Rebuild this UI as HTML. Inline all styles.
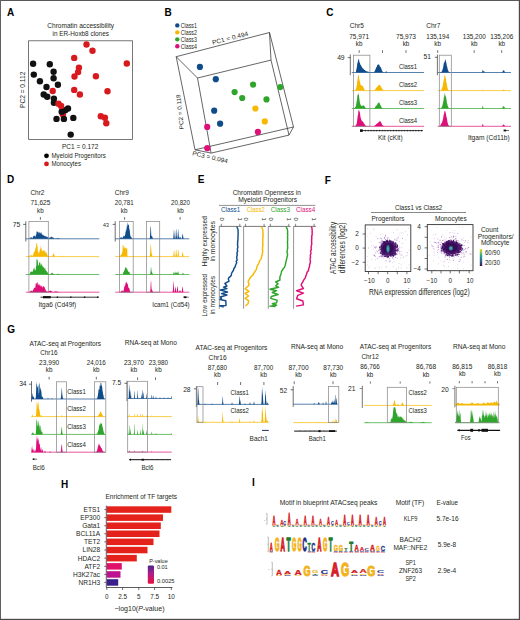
<!DOCTYPE html>
<html><head><meta charset="utf-8"><style>
html,body{margin:0;padding:0;background:#fff;}
svg{display:block;font-family:"Liberation Sans", sans-serif;}
</style></head><body>
<svg width="520" height="620" viewBox="0 0 520 620">
<rect x="0" y="0" width="520" height="620" fill="#fff"/>
<rect x="0.00" y="0.00" width="520.00" height="1.00" fill="#585858"/>
<rect x="0.00" y="0.00" width="1.00" height="620.00" fill="#606060"/>
<rect x="518.80" y="0.00" width="1.20" height="620.00" fill="#4a4a4a"/>
<rect x="0.00" y="618.80" width="520.00" height="1.20" fill="#4a4a4a"/>
<text x="7.00" y="16.30" font-size="10" fill="#000" font-weight="bold">A</text>
<text x="164.60" y="16.30" font-size="10" fill="#000" font-weight="bold">B</text>
<text x="326.30" y="16.30" font-size="10" fill="#000" font-weight="bold">C</text>
<text x="7.00" y="183.30" font-size="10" fill="#000" font-weight="bold">D</text>
<text x="197.80" y="183.20" font-size="10" fill="#000" font-weight="bold">E</text>
<text x="324.80" y="183.50" font-size="10" fill="#000" font-weight="bold">F</text>
<text x="7.20" y="333.00" font-size="10" fill="#000" font-weight="bold">G</text>
<text x="61.00" y="487.50" font-size="10" fill="#000" font-weight="bold">H</text>
<text x="252.00" y="486.20" font-size="10" fill="#000" font-weight="bold">I</text>
<text x="47.30" y="27.90" font-size="6.6" fill="#231f20" textLength="66.80" lengthAdjust="spacingAndGlyphs">Chromatin accessibility</text>
<text x="52.50" y="35.80" font-size="6.6" fill="#231f20" textLength="56.40" lengthAdjust="spacingAndGlyphs">in ER-Hoxb8 clones</text>
<rect x="28.60" y="40.80" width="103.80" height="98.60" fill="none" stroke="#555" stroke-width="0.8"/>
<text x="61.90" y="148.90" font-size="6.6" fill="#231f20" textLength="36.50" lengthAdjust="spacingAndGlyphs">PC1 = 0.172</text>
<text x="0" y="0" font-size="6.6" fill="#231f20" text-anchor="middle" textLength="36.3" lengthAdjust="spacingAndGlyphs" transform="translate(24.5 89.8) rotate(-90)">PC2 = 0.112</text>
<circle cx="46.50" cy="155.80" r="2.4" fill="#000"/>
<circle cx="46.50" cy="163.90" r="2.4" fill="#d81a1e"/>
<text x="51.50" y="157.80" font-size="6.6" fill="#231f20" textLength="54.30" lengthAdjust="spacingAndGlyphs">Myeloid Progenitors</text>
<text x="51.50" y="165.80" font-size="6.6" fill="#231f20" textLength="29.50" lengthAdjust="spacingAndGlyphs">Monocytes</text>
<circle cx="62.90" cy="114.60" r="3.2" fill="#d81a1e"/>
<circle cx="33.10" cy="63.70" r="3.2" fill="#111"/>
<circle cx="49.80" cy="64.30" r="3.2" fill="#111"/>
<circle cx="33.80" cy="74.60" r="3.2" fill="#111"/>
<circle cx="53.60" cy="71.70" r="3.2" fill="#111"/>
<circle cx="53.60" cy="78.20" r="3.2" fill="#111"/>
<circle cx="39.90" cy="81.20" r="3.2" fill="#111"/>
<circle cx="57.90" cy="84.80" r="3.2" fill="#111"/>
<circle cx="46.50" cy="87.00" r="3.2" fill="#111"/>
<circle cx="43.70" cy="94.50" r="3.2" fill="#111"/>
<circle cx="47.20" cy="96.70" r="3.2" fill="#111"/>
<circle cx="53.90" cy="98.60" r="3.2" fill="#111"/>
<circle cx="53.90" cy="102.70" r="3.2" fill="#111"/>
<circle cx="68.00" cy="108.50" r="3.2" fill="#111"/>
<circle cx="65.20" cy="110.30" r="3.2" fill="#111"/>
<circle cx="61.70" cy="111.70" r="3.2" fill="#111"/>
<circle cx="56.50" cy="118.90" r="3.2" fill="#111"/>
<circle cx="63.90" cy="118.90" r="3.2" fill="#111"/>
<circle cx="73.30" cy="117.90" r="3.2" fill="#111"/>
<circle cx="70.70" cy="134.60" r="3.2" fill="#111"/>
<circle cx="86.50" cy="44.50" r="3.2" fill="#d81a1e"/>
<circle cx="92.50" cy="50.80" r="3.2" fill="#d81a1e"/>
<circle cx="74.20" cy="57.90" r="3.2" fill="#d81a1e"/>
<circle cx="126.80" cy="63.50" r="3.2" fill="#d81a1e"/>
<circle cx="78.90" cy="67.80" r="3.2" fill="#d81a1e"/>
<circle cx="78.10" cy="72.10" r="3.2" fill="#d81a1e"/>
<circle cx="74.50" cy="76.50" r="3.2" fill="#d81a1e"/>
<circle cx="95.90" cy="76.20" r="3.2" fill="#d81a1e"/>
<circle cx="74.20" cy="89.90" r="3.2" fill="#d81a1e"/>
<circle cx="79.90" cy="94.50" r="3.2" fill="#d81a1e"/>
<circle cx="107.50" cy="91.20" r="3.2" fill="#d81a1e"/>
<circle cx="52.70" cy="91.00" r="3.2" fill="#d81a1e"/>
<circle cx="58.50" cy="103.70" r="3.2" fill="#d81a1e"/>
<circle cx="61.10" cy="105.90" r="3.2" fill="#d81a1e"/>
<circle cx="100.80" cy="116.30" r="3.2" fill="#d81a1e"/>
<circle cx="104.90" cy="117.70" r="3.2" fill="#d81a1e"/>
<circle cx="106.30" cy="123.20" r="3.2" fill="#d81a1e"/>
<circle cx="177.30" cy="25.40" r="2.2" fill="#104c8a"/>
<text x="180.80" y="27.70" font-size="6.5" fill="#231f20" textLength="16.10" lengthAdjust="spacingAndGlyphs">Class1</text>
<circle cx="177.30" cy="32.37" r="2.2" fill="#f6b800"/>
<text x="180.80" y="34.67" font-size="6.5" fill="#231f20" textLength="16.10" lengthAdjust="spacingAndGlyphs">Class2</text>
<circle cx="177.30" cy="39.34" r="2.2" fill="#2fa52b"/>
<text x="180.80" y="41.64" font-size="6.5" fill="#231f20" textLength="16.10" lengthAdjust="spacingAndGlyphs">Class3</text>
<circle cx="177.30" cy="46.31" r="2.2" fill="#de0f78"/>
<text x="180.80" y="48.61" font-size="6.5" fill="#231f20" textLength="16.10" lengthAdjust="spacingAndGlyphs">Class4</text>
<line x1="176.20" y1="56.70" x2="269.50" y2="32.50" stroke="#333" stroke-width="0.75" />
<line x1="176.20" y1="56.70" x2="197.50" y2="78.00" stroke="#333" stroke-width="0.75" />
<line x1="269.50" y1="32.50" x2="271.00" y2="60.10" stroke="#333" stroke-width="0.75" />
<line x1="197.50" y1="78.00" x2="271.00" y2="60.10" stroke="#333" stroke-width="0.75" />
<line x1="269.50" y1="32.50" x2="293.50" y2="127.00" stroke="#333" stroke-width="0.75" />
<line x1="271.00" y1="60.10" x2="289.00" y2="135.10" stroke="#333" stroke-width="0.75" />
<line x1="176.20" y1="56.70" x2="195.00" y2="149.80" stroke="#333" stroke-width="0.75" />
<line x1="197.50" y1="78.00" x2="211.10" y2="153.10" stroke="#333" stroke-width="0.75" />
<line x1="195.00" y1="149.80" x2="211.10" y2="153.10" stroke="#333" stroke-width="0.75" />
<line x1="293.50" y1="127.00" x2="289.00" y2="135.10" stroke="#333" stroke-width="0.75" />
<line x1="195.00" y1="149.80" x2="293.50" y2="127.00" stroke="#333" stroke-width="0.75" />
<line x1="211.10" y1="153.10" x2="289.00" y2="135.10" stroke="#333" stroke-width="0.75" />
<text x="0" y="0" font-size="6.3" fill="#231f20" text-anchor="middle" textLength="37" lengthAdjust="spacingAndGlyphs" transform="translate(230.6 40.2) rotate(-14.5)">PC1 = 0.494</text>
<text x="0" y="0" font-size="6.0" fill="#231f20" text-anchor="middle" textLength="35" lengthAdjust="spacingAndGlyphs" transform="translate(182.0 111.6) rotate(-96)">PC2 = 0.118</text>
<text x="0" y="0" font-size="6.3" fill="#231f20" text-anchor="middle" textLength="36" lengthAdjust="spacingAndGlyphs" transform="translate(209.6 159.2) rotate(13)">PC3 = 0.094</text>
<circle cx="199.90" cy="66.90" r="3.1" fill="#104c8a"/>
<circle cx="215.80" cy="79.20" r="3.1" fill="#104c8a"/>
<circle cx="214.20" cy="110.70" r="3.1" fill="#104c8a"/>
<circle cx="220.10" cy="123.70" r="3.1" fill="#104c8a"/>
<circle cx="253.10" cy="84.60" r="3.1" fill="#2fa52b"/>
<circle cx="234.60" cy="92.10" r="3.1" fill="#2fa52b"/>
<circle cx="242.20" cy="98.00" r="3.1" fill="#2fa52b"/>
<circle cx="266.50" cy="99.40" r="3.1" fill="#2fa52b"/>
<circle cx="280.30" cy="87.10" r="3.1" fill="#2fa52b"/>
<circle cx="255.40" cy="108.50" r="3.1" fill="#f6b800"/>
<circle cx="264.80" cy="121.40" r="3.1" fill="#f6b800"/>
<circle cx="207.20" cy="126.90" r="3.1" fill="#de0f78"/>
<circle cx="207.30" cy="148.20" r="3.1" fill="#de0f78"/>
<circle cx="257.90" cy="131.90" r="3.1" fill="#de0f78"/>
<text x="349.80" y="28.00" font-size="6.5" fill="#231f20">Chr5</text>
<text x="349.20" y="38.50" font-size="6.3" fill="#231f20" textLength="19.80" lengthAdjust="spacingAndGlyphs">75,971</text>
<text x="359.10" y="45.80" font-size="6.3" fill="#231f20" text-anchor="middle">kb</text>
<text x="396.00" y="38.50" font-size="6.3" fill="#231f20" textLength="20.00" lengthAdjust="spacingAndGlyphs">75,973</text>
<text x="406.00" y="45.80" font-size="6.3" fill="#231f20" text-anchor="middle">kb</text>
<line x1="359.20" y1="50.20" x2="359.20" y2="52.90" stroke="#333" stroke-width="0.7" />
<line x1="382.50" y1="50.20" x2="382.50" y2="52.90" stroke="#333" stroke-width="0.7" />
<line x1="406.00" y1="50.20" x2="406.00" y2="52.90" stroke="#333" stroke-width="0.7" />
<line x1="350.30" y1="54.50" x2="350.30" y2="75.20" stroke="#333" stroke-width="0.7" />
<line x1="347.70" y1="57.60" x2="350.30" y2="57.60" stroke="#333" stroke-width="0.7" />
<text x="344.60" y="59.70" font-size="6.7" fill="#231f20" text-anchor="end">49</text>
<path d="M351.80,72.50L351.80,72.5 352.05,72.5 352.30,72.5 352.55,72.5 352.80,72.5 353.05,72.5 353.30,72.5 353.55,72.5 353.80,72.5 354.05,72.5 354.30,72.5 354.55,72.5 354.80,72.5 355.05,72.5 355.30,72.5 355.55,72.5 355.80,72.5 356.05,71.0 356.30,69.5 356.55,68.8 356.80,67.6 357.05,65.5 357.30,63.3 357.55,63.1 357.80,62.1 358.05,60.2 358.30,60.2 358.55,58.7 358.80,59.0 359.05,59.8 359.30,61.5 359.55,62.3 359.80,63.1 360.05,63.2 360.30,64.2 360.55,65.4 360.80,64.4 361.05,65.5 361.30,65.9 361.55,67.0 361.80,66.3 362.05,66.9 362.30,68.2 362.55,68.3 362.80,68.2 363.05,68.5 363.30,68.6 363.55,69.3 363.80,69.3 364.05,69.6 364.30,70.0 364.55,70.1 364.80,70.1 365.05,70.3 365.30,70.6 365.55,70.7 365.80,71.0 366.05,71.1 366.30,71.0 366.55,71.2 366.80,71.4 367.05,71.4 367.30,71.4 367.55,71.5 367.80,71.6 368.05,71.7 368.30,71.7 368.55,71.7 368.80,71.8 369.05,71.9 369.30,71.9 369.55,72.0 369.80,72.1 370.05,72.0 370.30,72.0 370.55,72.1 370.80,72.1 371.05,72.2 371.30,72.2 371.55,72.2 371.80,72.2 372.05,72.2 372.30,72.2 372.55,72.3 372.80,72.3 373.05,72.2 373.30,72.2 373.55,72.2 373.80,72.1 374.05,71.9 374.30,71.6 374.55,71.5 374.80,70.9 375.05,70.4 375.30,69.8 375.55,69.3 375.80,68.5 376.05,68.1 376.30,67.3 376.55,66.9 376.80,66.8 377.05,65.0 377.30,65.1 377.55,65.4 377.80,64.5 378.05,64.4 378.30,64.6 378.55,64.6 378.80,64.4 379.05,64.5 379.30,64.8 379.55,65.4 379.80,66.5 380.05,66.6 380.30,67.1 380.55,67.1 380.80,67.3 381.05,68.0 381.30,68.6 381.55,69.3 381.80,70.2 382.05,70.5 382.30,71.1 382.55,71.6 382.80,71.9 383.05,72.1 383.30,72.2 383.55,72.3 383.80,72.4 384.05,72.4 384.30,72.5 384.55,72.5 384.80,72.5 385.05,72.4 385.30,72.3 385.55,72.0 385.80,71.5 386.05,71.3 386.30,71.3 386.55,71.5 386.80,71.9 387.05,72.2 387.30,72.4 387.55,72.5 387.80,72.5 388.05,72.5 388.30,72.5 388.55,72.5 388.80,72.5 389.05,72.5 389.30,72.5 389.55,72.5 389.80,72.5 390.05,72.5 390.30,72.5 390.55,72.5 390.80,72.5 391.05,72.5 391.30,72.5 391.55,72.5 391.80,72.5 392.05,72.5 392.30,72.5 392.55,72.5 392.80,72.5 393.05,72.5 393.30,72.5 393.55,72.5 393.80,72.5 394.05,72.5 394.30,72.5 394.55,72.5 394.80,72.5 395.05,72.5 395.30,72.5 395.55,72.5 395.80,72.5 396.05,72.5 396.30,72.5 396.55,72.5 396.80,72.5 397.05,72.5 397.30,72.5 397.55,72.5 397.80,72.5 398.05,72.5 398.30,72.5 398.55,72.5 398.80,72.5 399.05,72.5 399.30,72.5 399.55,72.5 399.80,72.5 400.05,72.5 400.30,72.5 400.55,72.5 400.80,72.5 401.05,72.5 401.30,72.5 401.55,72.5 401.80,72.5 402.05,72.5 402.30,72.5 402.55,72.5 402.80,72.5 403.05,72.5 403.30,72.5 403.55,72.5 403.80,72.5 404.05,72.5 404.30,72.5 404.55,72.5 404.80,72.5 405.05,72.5 405.30,72.5 405.55,72.5 405.80,72.5 406.05,72.5 406.30,72.5 406.55,72.5 406.80,72.5 407.05,72.5 407.30,72.5 407.55,72.5 407.80,72.5 408.05,72.5 408.30,72.5 408.55,72.5 408.80,72.5 409.05,72.5 409.30,72.5 409.55,72.5 409.80,72.5 410.05,72.5 410.30,72.5 410.55,72.5 410.80,72.5 411.05,72.5 411.30,72.5 411.55,72.5 411.80,72.5 412.05,72.5 412.30,72.5 412.55,72.5 412.80,72.5 413.05,72.5 413.30,72.5 413.55,72.5 413.80,72.5 414.05,72.5 414.30,72.5 414.55,72.5 414.80,72.5 415.05,72.5 415.30,72.5 415.55,72.5 415.80,72.5 416.05,72.5 416.30,72.5 416.55,72.5 416.80,72.5 417.05,72.5 417.30,72.5 417.55,72.5 417.80,72.5 418.05,72.5 418.30,72.5 418.55,72.5 418.80,72.5 419.05,72.5 419.30,72.5 419.55,72.5 419.80,72.5 420.05,72.5 420.30,72.5 420.55,72.5 420.80,72.5 421.05,72.5 421.30,72.5 421.55,72.5 421.80,72.5 422.05,72.5 422.30,72.5 422.55,72.5 422.80,72.5 423.05,72.5 423.30,72.5 423.55,72.5 423.80,72.5 424.00,72.50Z" fill="#104c8a" />
<line x1="351.80" y1="72.50" x2="424.00" y2="72.50" stroke="#104c8a" stroke-width="0.7" />
<path d="M351.80,90.60L351.80,90.6 352.05,90.6 352.30,90.6 352.55,90.6 352.80,90.6 353.05,90.6 353.30,90.6 353.55,90.6 353.80,90.6 354.05,90.6 354.30,90.6 354.55,90.5 354.80,90.5 355.05,90.4 355.30,90.1 355.55,89.8 355.80,89.3 356.05,88.7 356.30,87.7 356.55,86.6 356.80,85.4 357.05,83.8 357.30,81.0 357.55,79.5 357.80,77.6 358.05,74.5 358.30,75.1 358.55,74.9 358.80,76.6 359.05,78.3 359.30,78.6 359.55,80.6 359.80,81.2 360.05,81.6 360.30,83.4 360.55,85.1 360.80,84.7 361.05,85.3 361.30,85.5 361.55,85.4 361.80,85.6 362.05,85.6 362.30,86.1 362.55,85.5 362.80,85.8 363.05,87.0 363.30,86.9 363.55,87.5 363.80,88.2 364.05,88.7 364.30,89.2 364.55,89.4 364.80,89.9 365.05,90.1 365.30,90.3 365.55,90.4 365.80,90.5 366.05,90.5 366.30,90.6 366.55,90.6 366.80,90.6 367.05,90.6 367.30,90.6 367.55,90.6 367.80,90.6 368.05,90.6 368.30,90.6 368.55,90.6 368.80,90.6 369.05,90.6 369.30,90.6 369.55,90.6 369.80,90.6 370.05,90.6 370.30,90.6 370.55,90.6 370.80,90.6 371.05,90.6 371.30,90.6 371.55,90.6 371.80,90.6 372.05,90.6 372.30,90.6 372.55,90.6 372.80,90.6 373.05,90.6 373.30,90.6 373.55,90.6 373.80,90.5 374.05,90.5 374.30,90.4 374.55,90.2 374.80,90.1 375.05,89.8 375.30,89.3 375.55,89.1 375.80,88.8 376.05,88.0 376.30,87.8 376.55,87.3 376.80,87.5 377.05,86.9 377.30,86.8 377.55,86.1 377.80,86.4 378.05,85.2 378.30,86.0 378.55,84.8 378.80,85.6 379.05,85.1 379.30,84.2 379.55,85.2 379.80,85.3 380.05,84.8 380.30,85.5 380.55,86.3 380.80,85.7 381.05,87.0 381.30,87.6 381.55,87.8 381.80,88.1 382.05,88.5 382.30,89.1 382.55,89.4 382.80,89.7 383.05,89.9 383.30,90.0 383.55,90.2 383.80,90.3 384.05,90.4 384.30,90.4 384.55,90.5 384.80,90.5 385.05,90.6 385.30,90.6 385.55,90.6 385.80,90.6 386.05,90.6 386.30,90.6 386.55,90.6 386.80,90.6 387.05,90.6 387.30,90.6 387.55,90.6 387.80,90.6 388.05,90.6 388.30,90.6 388.55,90.6 388.80,90.6 389.05,90.6 389.30,90.6 389.55,90.6 389.80,90.6 390.05,90.6 390.30,90.6 390.55,90.6 390.80,90.6 391.05,90.6 391.30,90.6 391.55,90.6 391.80,90.6 392.05,90.6 392.30,90.6 392.55,90.6 392.80,90.6 393.05,90.6 393.30,90.6 393.55,90.6 393.80,90.6 394.05,90.6 394.30,90.6 394.55,90.6 394.80,90.6 395.05,90.6 395.30,90.6 395.55,90.6 395.80,90.6 396.05,90.6 396.30,90.6 396.55,90.6 396.80,90.6 397.05,90.6 397.30,90.6 397.55,90.6 397.80,90.6 398.05,90.6 398.30,90.6 398.55,90.6 398.80,90.6 399.05,90.6 399.30,90.6 399.55,90.6 399.80,90.6 400.05,90.6 400.30,90.6 400.55,90.6 400.80,90.6 401.05,90.6 401.30,90.6 401.55,90.6 401.80,90.6 402.05,90.6 402.30,90.6 402.55,90.6 402.80,90.6 403.05,90.6 403.30,90.6 403.55,90.6 403.80,90.6 404.05,90.6 404.30,90.6 404.55,90.6 404.80,90.6 405.05,90.6 405.30,90.6 405.55,90.6 405.80,90.6 406.05,90.6 406.30,90.6 406.55,90.6 406.80,90.6 407.05,90.6 407.30,90.6 407.55,90.6 407.80,90.6 408.05,90.6 408.30,90.6 408.55,90.6 408.80,90.6 409.05,90.6 409.30,90.6 409.55,90.6 409.80,90.6 410.05,90.6 410.30,90.6 410.55,90.6 410.80,90.6 411.05,90.6 411.30,90.6 411.55,90.6 411.80,90.6 412.05,90.6 412.30,90.6 412.55,90.6 412.80,90.6 413.05,90.6 413.30,90.6 413.55,90.6 413.80,90.6 414.05,90.6 414.30,90.6 414.55,90.6 414.80,90.6 415.05,90.6 415.30,90.6 415.55,90.6 415.80,90.6 416.05,90.6 416.30,90.6 416.55,90.6 416.80,90.6 417.05,90.6 417.30,90.6 417.55,90.6 417.80,90.6 418.05,90.6 418.30,90.6 418.55,90.6 418.80,90.6 419.05,90.6 419.30,90.6 419.55,90.6 419.80,90.6 420.05,90.6 420.30,90.6 420.55,90.6 420.80,90.6 421.05,90.6 421.30,90.6 421.55,90.6 421.80,90.6 422.05,90.6 422.30,90.6 422.55,90.6 422.80,90.6 423.05,90.6 423.30,90.6 423.55,90.6 423.80,90.6 424.00,90.60Z" fill="#f6b800" />
<line x1="351.80" y1="90.60" x2="424.00" y2="90.60" stroke="#f6b800" stroke-width="0.7" />
<path d="M351.80,108.50L351.80,108.5 352.05,108.5 352.30,108.5 352.55,108.4 352.80,108.4 353.05,108.4 353.30,108.3 353.55,108.2 353.80,108.2 354.05,108.1 354.30,107.9 354.55,107.9 354.80,107.6 355.05,107.5 355.30,107.1 355.55,106.9 355.80,106.0 356.05,105.0 356.30,104.1 356.55,102.3 356.80,100.6 357.05,100.0 357.30,96.3 357.55,94.9 357.80,94.6 358.05,95.0 358.30,92.0 358.55,94.2 358.80,94.8 359.05,96.2 359.30,98.5 359.55,99.9 359.80,102.3 360.05,103.0 360.30,104.3 360.55,104.5 360.80,105.1 361.05,105.9 361.30,106.1 361.55,106.1 361.80,105.6 362.05,105.9 362.30,105.6 362.55,105.7 362.80,105.5 363.05,105.5 363.30,105.5 363.55,105.4 363.80,105.5 364.05,105.6 364.30,106.1 364.55,106.3 364.80,106.8 365.05,107.1 365.30,107.5 365.55,107.9 365.80,108.0 366.05,108.2 366.30,108.3 366.55,108.4 366.80,108.4 367.05,108.5 367.30,108.5 367.55,108.5 367.80,108.5 368.05,108.5 368.30,108.5 368.55,108.5 368.80,108.5 369.05,108.5 369.30,108.5 369.55,108.5 369.80,108.5 370.05,108.5 370.30,108.5 370.55,108.5 370.80,108.5 371.05,108.5 371.30,108.5 371.55,108.5 371.80,108.5 372.05,108.5 372.30,108.5 372.55,108.5 372.80,108.5 373.05,108.5 373.30,108.5 373.55,108.4 373.80,108.4 374.05,108.2 374.30,108.1 374.55,107.9 374.80,107.7 375.05,107.2 375.30,107.1 375.55,106.4 375.80,106.1 376.05,106.1 376.30,105.8 376.55,105.4 376.80,105.0 377.05,104.7 377.30,104.4 377.55,103.9 377.80,103.1 378.05,103.2 378.30,102.9 378.55,102.3 378.80,102.9 379.05,102.8 379.30,102.0 379.55,103.0 379.80,103.4 380.05,104.6 380.30,104.7 380.55,105.2 380.80,106.1 381.05,106.3 381.30,106.8 381.55,107.4 381.80,107.5 382.05,107.8 382.30,108.0 382.55,108.2 382.80,108.3 383.05,108.4 383.30,108.4 383.55,108.5 383.80,108.5 384.05,108.5 384.30,108.5 384.55,108.5 384.80,108.5 385.05,108.5 385.30,108.5 385.55,108.5 385.80,108.5 386.05,108.5 386.30,108.5 386.55,108.5 386.80,108.5 387.05,108.5 387.30,108.5 387.55,108.5 387.80,108.5 388.05,108.5 388.30,108.5 388.55,108.5 388.80,108.5 389.05,108.5 389.30,108.5 389.55,108.5 389.80,108.5 390.05,108.5 390.30,108.5 390.55,108.5 390.80,108.5 391.05,108.5 391.30,108.5 391.55,108.5 391.80,108.5 392.05,108.5 392.30,108.5 392.55,108.5 392.80,108.5 393.05,108.5 393.30,108.5 393.55,108.5 393.80,108.5 394.05,108.5 394.30,108.5 394.55,108.5 394.80,108.5 395.05,108.5 395.30,108.5 395.55,108.5 395.80,108.5 396.05,108.5 396.30,108.5 396.55,108.5 396.80,108.5 397.05,108.5 397.30,108.5 397.55,108.5 397.80,108.5 398.05,108.5 398.30,108.5 398.55,108.5 398.80,108.5 399.05,108.5 399.30,108.5 399.55,108.5 399.80,108.5 400.05,108.5 400.30,108.5 400.55,108.5 400.80,108.5 401.05,108.5 401.30,108.5 401.55,108.5 401.80,108.5 402.05,108.5 402.30,108.5 402.55,108.5 402.80,108.5 403.05,108.5 403.30,108.5 403.55,108.5 403.80,108.5 404.05,108.5 404.30,108.5 404.55,108.5 404.80,108.5 405.05,108.5 405.30,108.5 405.55,108.5 405.80,108.5 406.05,108.5 406.30,108.5 406.55,108.5 406.80,108.5 407.05,108.5 407.30,108.5 407.55,108.5 407.80,108.5 408.05,108.5 408.30,108.5 408.55,108.5 408.80,108.5 409.05,108.5 409.30,108.5 409.55,108.5 409.80,108.5 410.05,108.5 410.30,108.5 410.55,108.5 410.80,108.5 411.05,108.5 411.30,108.5 411.55,108.5 411.80,108.5 412.05,108.5 412.30,108.5 412.55,108.5 412.80,108.5 413.05,108.5 413.30,108.5 413.55,108.5 413.80,108.5 414.05,108.5 414.30,108.5 414.55,108.5 414.80,108.5 415.05,108.5 415.30,108.5 415.55,108.5 415.80,108.5 416.05,108.5 416.30,108.5 416.55,108.5 416.80,108.5 417.05,108.5 417.30,108.5 417.55,108.5 417.80,108.5 418.05,108.5 418.30,108.5 418.55,108.5 418.80,108.5 419.05,108.5 419.30,108.5 419.55,108.5 419.80,108.5 420.05,108.5 420.30,108.5 420.55,108.5 420.80,108.5 421.05,108.5 421.30,108.5 421.55,108.5 421.80,108.5 422.05,108.5 422.30,108.5 422.55,108.5 422.80,108.5 423.05,108.5 423.30,108.5 423.55,108.5 423.80,108.5 424.00,108.50Z" fill="#2fa52b" />
<line x1="351.80" y1="108.50" x2="424.00" y2="108.50" stroke="#2fa52b" stroke-width="0.7" />
<path d="M351.80,126.30L351.80,126.3 352.05,126.3 352.30,126.3 352.55,126.3 352.80,126.3 353.05,126.3 353.30,126.3 353.55,126.3 353.80,126.2 354.05,126.2 354.30,126.2 354.55,126.2 354.80,126.1 355.05,126.0 355.30,125.9 355.55,125.6 355.80,125.4 356.05,125.0 356.30,124.4 356.55,124.0 356.80,123.0 357.05,121.4 357.30,119.5 357.55,117.3 357.80,115.0 358.05,115.2 358.30,111.8 358.55,110.1 358.80,109.8 359.05,110.9 359.30,110.2 359.55,112.7 359.80,111.2 360.05,113.2 360.30,115.7 360.55,117.7 360.80,117.8 361.05,119.3 361.30,119.6 361.55,120.1 361.80,120.8 362.05,121.1 362.30,121.0 362.55,121.4 362.80,121.8 363.05,121.9 363.30,121.7 363.55,122.8 363.80,123.2 364.05,123.2 364.30,123.9 364.55,124.2 364.80,124.6 365.05,125.0 365.30,125.2 365.55,125.6 365.80,125.8 366.05,126.0 366.30,126.1 366.55,126.2 366.80,126.2 367.05,126.2 367.30,126.3 367.55,126.3 367.80,126.3 368.05,126.3 368.30,126.3 368.55,126.3 368.80,126.3 369.05,126.3 369.30,126.3 369.55,126.3 369.80,126.3 370.05,126.3 370.30,126.3 370.55,126.3 370.80,126.3 371.05,126.3 371.30,126.3 371.55,126.3 371.80,126.3 372.05,126.3 372.30,126.3 372.55,126.3 372.80,126.3 373.05,126.3 373.30,126.2 373.55,126.2 373.80,126.2 374.05,126.1 374.30,126.0 374.55,125.8 374.80,125.6 375.05,125.3 375.30,125.2 375.55,125.0 375.80,124.7 376.05,124.4 376.30,123.9 376.55,123.9 376.80,123.8 377.05,123.8 377.30,123.0 377.55,123.2 377.80,123.2 378.05,123.0 378.30,122.8 378.55,122.4 378.80,121.5 379.05,121.9 379.30,121.8 379.55,121.1 379.80,121.4 380.05,120.5 380.30,121.8 380.55,121.6 380.80,121.7 381.05,122.5 381.30,122.6 381.55,123.5 381.80,124.1 382.05,124.4 382.30,124.9 382.55,125.1 382.80,125.5 383.05,125.6 383.30,125.8 383.55,126.0 383.80,126.1 384.05,126.2 384.30,126.2 384.55,126.2 384.80,126.3 385.05,126.3 385.30,126.3 385.55,126.3 385.80,126.3 386.05,126.3 386.30,126.3 386.55,126.3 386.80,126.3 387.05,126.3 387.30,126.3 387.55,126.3 387.80,126.3 388.05,126.3 388.30,126.3 388.55,126.3 388.80,126.3 389.05,126.3 389.30,126.3 389.55,126.3 389.80,126.3 390.05,126.3 390.30,126.3 390.55,126.3 390.80,126.3 391.05,126.3 391.30,126.3 391.55,126.3 391.80,126.3 392.05,126.3 392.30,126.3 392.55,126.3 392.80,126.3 393.05,126.3 393.30,126.3 393.55,126.3 393.80,126.3 394.05,126.3 394.30,126.3 394.55,126.3 394.80,126.3 395.05,126.3 395.30,126.3 395.55,126.3 395.80,126.3 396.05,126.3 396.30,126.3 396.55,126.3 396.80,126.3 397.05,126.3 397.30,126.3 397.55,126.3 397.80,126.3 398.05,126.3 398.30,126.3 398.55,126.3 398.80,126.3 399.05,126.3 399.30,126.3 399.55,126.3 399.80,126.3 400.05,126.3 400.30,126.3 400.55,126.3 400.80,126.3 401.05,126.3 401.30,126.3 401.55,126.3 401.80,126.3 402.05,126.3 402.30,126.3 402.55,126.3 402.80,126.3 403.05,126.3 403.30,126.3 403.55,126.3 403.80,126.3 404.05,126.3 404.30,126.3 404.55,126.3 404.80,126.3 405.05,126.3 405.30,126.3 405.55,126.3 405.80,126.3 406.05,126.3 406.30,126.3 406.55,126.3 406.80,126.3 407.05,126.3 407.30,126.3 407.55,126.3 407.80,126.3 408.05,126.3 408.30,126.3 408.55,126.3 408.80,126.3 409.05,126.3 409.30,126.3 409.55,126.3 409.80,126.3 410.05,126.3 410.30,126.3 410.55,126.3 410.80,126.3 411.05,126.3 411.30,126.3 411.55,126.3 411.80,126.3 412.05,126.3 412.30,126.3 412.55,126.3 412.80,126.3 413.05,126.3 413.30,126.3 413.55,126.3 413.80,126.3 414.05,126.3 414.30,126.3 414.55,126.3 414.80,126.3 415.05,126.3 415.30,126.3 415.55,126.3 415.80,126.3 416.05,126.3 416.30,126.3 416.55,126.3 416.80,126.3 417.05,126.3 417.30,126.3 417.55,126.3 417.80,126.3 418.05,126.3 418.30,126.3 418.55,126.3 418.80,126.3 419.05,126.3 419.30,126.3 419.55,126.3 419.80,126.3 420.05,126.3 420.30,126.3 420.55,126.3 420.80,126.3 421.05,126.3 421.30,126.3 421.55,126.3 421.80,126.3 422.05,126.3 422.30,126.3 422.55,126.3 422.80,126.3 423.05,126.3 423.30,126.3 423.55,126.3 423.80,126.3 424.00,126.30Z" fill="#de0f78" />
<line x1="351.80" y1="126.30" x2="424.00" y2="126.30" stroke="#de0f78" stroke-width="0.7" />
<rect x="353.60" y="55.20" width="16.30" height="71.10" fill="none" stroke="#8a8a8a" stroke-width="0.75"/>
<text x="398.90" y="68.70" font-size="6.6" fill="#231f20" textLength="18.10" lengthAdjust="spacingAndGlyphs">Class1</text>
<text x="398.90" y="86.80" font-size="6.6" fill="#231f20" textLength="18.10" lengthAdjust="spacingAndGlyphs">Class2</text>
<text x="398.90" y="104.70" font-size="6.6" fill="#231f20" textLength="18.10" lengthAdjust="spacingAndGlyphs">Class3</text>
<text x="398.90" y="122.50" font-size="6.6" fill="#231f20" textLength="18.10" lengthAdjust="spacingAndGlyphs">Class4</text>
<line x1="362.00" y1="130.60" x2="423.00" y2="130.60" stroke="#222" stroke-width="0.9" />
<rect x="360.00" y="129.30" width="2.80" height="2.60" fill="#111"/>
<rect x="365.00" y="129.90" width="0.90" height="1.40" fill="#222"/>
<rect x="367.80" y="129.90" width="0.90" height="1.40" fill="#222"/>
<rect x="370.60" y="129.90" width="0.90" height="1.40" fill="#222"/>
<rect x="373.40" y="129.90" width="0.90" height="1.40" fill="#222"/>
<rect x="376.20" y="129.90" width="0.90" height="1.40" fill="#222"/>
<rect x="379.00" y="129.90" width="0.90" height="1.40" fill="#222"/>
<rect x="381.80" y="129.90" width="0.90" height="1.40" fill="#222"/>
<rect x="384.60" y="129.90" width="0.90" height="1.40" fill="#222"/>
<rect x="387.40" y="129.90" width="0.90" height="1.40" fill="#222"/>
<rect x="390.20" y="129.90" width="0.90" height="1.40" fill="#222"/>
<rect x="393.00" y="129.90" width="0.90" height="1.40" fill="#222"/>
<rect x="395.80" y="129.90" width="0.90" height="1.40" fill="#222"/>
<rect x="398.60" y="129.90" width="0.90" height="1.40" fill="#222"/>
<rect x="401.40" y="129.90" width="0.90" height="1.40" fill="#222"/>
<rect x="404.20" y="129.90" width="0.90" height="1.40" fill="#222"/>
<rect x="407.00" y="129.90" width="0.90" height="1.40" fill="#222"/>
<rect x="409.80" y="129.90" width="0.90" height="1.40" fill="#222"/>
<rect x="412.60" y="129.90" width="0.90" height="1.40" fill="#222"/>
<rect x="415.40" y="129.90" width="0.90" height="1.40" fill="#222"/>
<rect x="418.20" y="129.90" width="0.90" height="1.40" fill="#222"/>
<rect x="421.00" y="129.90" width="0.90" height="1.40" fill="#222"/>
<text x="378.00" y="139.80" font-size="6.6" fill="#231f20" textLength="24.60" lengthAdjust="spacingAndGlyphs">Kit (cKit)</text>
<text x="426.20" y="28.00" font-size="6.5" fill="#231f20">Chr7</text>
<text x="426.20" y="38.50" font-size="6.3" fill="#231f20" textLength="23.00" lengthAdjust="spacingAndGlyphs">135,194</text>
<text x="437.70" y="45.80" font-size="6.3" fill="#231f20" text-anchor="middle">kb</text>
<text x="462.70" y="38.50" font-size="6.3" fill="#231f20" textLength="23.10" lengthAdjust="spacingAndGlyphs">135,200</text>
<text x="474.25" y="45.80" font-size="6.3" fill="#231f20" text-anchor="middle">kb</text>
<text x="490.20" y="38.50" font-size="6.3" fill="#231f20" textLength="23.10" lengthAdjust="spacingAndGlyphs">135,206</text>
<text x="501.75" y="45.80" font-size="6.3" fill="#231f20" text-anchor="middle">kb</text>
<line x1="437.70" y1="50.20" x2="437.70" y2="52.90" stroke="#333" stroke-width="0.7" />
<line x1="474.20" y1="50.20" x2="474.20" y2="52.90" stroke="#333" stroke-width="0.7" />
<line x1="501.70" y1="50.20" x2="501.70" y2="52.90" stroke="#333" stroke-width="0.7" />
<line x1="437.40" y1="54.50" x2="437.40" y2="75.20" stroke="#333" stroke-width="0.7" />
<line x1="434.80" y1="57.30" x2="437.40" y2="57.30" stroke="#333" stroke-width="0.7" />
<text x="431.00" y="59.40" font-size="6.7" fill="#231f20" text-anchor="end">51</text>
<path d="M437.60,72.50L437.60,72.5 437.85,72.5 438.10,72.5 438.35,72.5 438.60,72.5 438.85,72.5 439.10,72.5 439.35,72.5 439.60,72.5 439.85,72.5 440.10,72.4 440.35,72.4 440.60,72.3 440.85,72.3 441.10,72.1 441.35,71.9 441.60,71.7 441.85,71.3 442.10,70.7 442.35,70.2 442.60,69.3 442.85,68.4 443.10,67.8 443.35,66.0 443.60,64.4 443.85,63.1 444.10,62.5 444.35,62.6 444.60,62.0 444.85,61.1 445.10,58.8 445.35,60.5 445.60,60.6 445.85,60.0 446.10,62.2 446.35,62.8 446.60,64.2 446.85,66.0 447.10,66.5 447.35,67.4 447.60,69.0 447.85,69.7 448.10,70.3 448.35,71.1 448.60,71.4 448.85,71.7 449.10,72.0 449.35,72.1 449.60,72.3 449.85,72.4 450.10,72.4 450.35,72.5 450.60,72.5 450.85,72.5 451.10,72.5 451.35,72.5 451.60,72.5 451.85,72.5 452.10,72.5 452.35,72.5 452.60,72.5 452.85,72.5 453.10,72.5 453.35,72.5 453.60,72.5 453.85,72.5 454.10,72.5 454.35,72.5 454.60,72.5 454.85,72.5 455.10,72.5 455.35,72.5 455.60,72.5 455.85,72.5 456.10,72.5 456.35,72.5 456.60,72.5 456.85,72.5 457.10,72.5 457.35,72.5 457.60,72.5 457.85,72.5 458.10,72.5 458.35,72.5 458.60,72.5 458.85,72.5 459.10,72.5 459.35,72.5 459.60,72.5 459.85,72.5 460.10,72.5 460.35,72.5 460.60,72.5 460.85,72.5 461.10,72.5 461.35,72.5 461.60,72.5 461.85,72.5 462.10,72.5 462.35,72.5 462.60,72.5 462.85,72.5 463.10,72.5 463.35,72.5 463.60,72.5 463.85,72.5 464.10,72.5 464.35,72.5 464.60,72.5 464.85,72.5 465.10,72.5 465.35,72.5 465.60,72.5 465.85,72.5 466.10,72.5 466.35,72.5 466.60,72.5 466.85,72.5 467.10,72.5 467.35,72.5 467.60,72.5 467.85,72.5 468.10,72.5 468.35,72.5 468.60,72.5 468.85,72.5 469.10,72.5 469.35,72.5 469.60,72.5 469.85,72.5 470.10,72.5 470.35,72.5 470.60,72.5 470.85,72.5 471.10,72.5 471.35,72.5 471.60,72.5 471.85,72.5 472.10,72.5 472.35,72.5 472.60,72.5 472.85,72.5 473.10,72.5 473.35,72.5 473.60,72.5 473.85,72.5 474.10,72.5 474.35,72.5 474.60,72.5 474.85,72.5 475.10,72.5 475.35,72.5 475.60,72.5 475.85,72.5 476.10,72.5 476.35,72.5 476.60,72.5 476.85,72.5 477.10,72.5 477.35,72.5 477.60,72.5 477.85,72.5 478.10,72.5 478.35,72.5 478.60,72.5 478.85,72.5 479.10,72.5 479.35,72.5 479.60,72.5 479.85,72.5 480.10,72.5 480.35,72.5 480.60,72.5 480.85,72.5 481.10,72.5 481.35,72.5 481.60,72.5 481.85,72.4 482.10,72.1 482.35,71.2 482.60,70.1 482.85,69.6 483.10,70.4 483.35,71.3 483.60,71.5 483.85,71.1 484.10,71.1 484.35,71.6 484.60,72.1 484.85,72.4 485.10,72.5 485.35,72.5 485.60,72.5 485.85,72.5 486.10,72.5 486.35,72.5 486.60,72.5 486.85,72.5 487.10,72.5 487.35,72.5 487.60,72.5 487.85,72.5 488.10,72.5 488.35,72.5 488.60,72.5 488.85,72.5 489.10,72.5 489.35,72.5 489.60,72.5 489.85,72.5 490.10,72.5 490.35,72.5 490.60,72.5 490.85,72.5 491.10,72.5 491.35,72.5 491.60,72.5 491.85,72.5 492.10,72.5 492.35,72.5 492.60,72.5 492.85,72.5 493.10,72.5 493.35,72.5 493.60,72.5 493.85,72.5 494.10,72.5 494.35,72.5 494.60,72.5 494.85,72.5 495.10,72.5 495.35,72.5 495.60,72.5 495.85,72.5 496.10,72.5 496.35,72.5 496.60,72.5 496.85,72.5 497.10,72.5 497.35,72.5 497.60,72.5 497.85,72.5 498.10,72.5 498.35,72.5 498.60,72.5 498.85,72.5 499.10,72.5 499.35,72.5 499.60,72.5 499.85,72.5 500.10,72.5 500.35,72.5 500.60,72.5 500.85,72.5 501.10,72.5 501.35,72.5 501.60,72.4 501.85,72.3 502.10,72.1 502.35,71.9 502.60,71.6 502.85,71.0 503.10,70.8 503.35,70.3 503.60,70.3 503.85,70.2 504.10,70.6 504.35,71.1 504.60,71.5 504.85,71.9 505.10,72.2 505.35,72.3 505.60,72.4 505.85,72.5 506.10,72.5 506.35,72.5 506.60,72.5 506.85,72.5 507.10,72.5 507.35,72.5 507.60,72.5 507.85,72.5 508.10,72.5 508.35,72.5 508.60,72.5 508.85,72.5 509.10,72.5 509.35,72.5 509.60,72.5 509.85,72.5 510.10,72.5 510.35,72.5 510.60,72.5 510.85,72.5 511.00,72.50Z" fill="#104c8a" />
<line x1="437.60" y1="72.50" x2="511.00" y2="72.50" stroke="#104c8a" stroke-width="0.7" />
<path d="M437.60,90.60L437.60,90.6 437.85,90.6 438.10,90.6 438.35,90.6 438.60,90.6 438.85,90.6 439.10,90.6 439.35,90.6 439.60,90.6 439.85,90.6 440.10,90.5 440.35,90.5 440.60,90.4 440.85,90.2 441.10,90.0 441.35,89.8 441.60,89.2 441.85,88.5 442.10,87.9 442.35,86.9 442.60,86.2 442.85,85.1 443.10,83.0 443.35,82.3 443.60,80.6 443.85,79.1 444.10,78.5 444.35,76.4 444.60,75.9 444.85,74.6 445.10,75.9 445.35,76.2 445.60,77.7 445.85,78.7 446.10,80.6 446.35,82.5 446.60,83.0 446.85,84.5 447.10,86.0 447.35,87.3 447.60,88.4 447.85,89.0 448.10,89.5 448.35,89.9 448.60,90.1 448.85,90.3 449.10,90.4 449.35,90.5 449.60,90.5 449.85,90.6 450.10,90.6 450.35,90.6 450.60,90.6 450.85,90.6 451.10,90.6 451.35,90.6 451.60,90.6 451.85,90.6 452.10,90.6 452.35,90.6 452.60,90.6 452.85,90.6 453.10,90.6 453.35,90.6 453.60,90.6 453.85,90.6 454.10,90.6 454.35,90.6 454.60,90.6 454.85,90.6 455.10,90.6 455.35,90.6 455.60,90.6 455.85,90.6 456.10,90.6 456.35,90.6 456.60,90.6 456.85,90.6 457.10,90.6 457.35,90.6 457.60,90.6 457.85,90.6 458.10,90.6 458.35,90.6 458.60,90.6 458.85,90.6 459.10,90.6 459.35,90.6 459.60,90.6 459.85,90.6 460.10,90.6 460.35,90.6 460.60,90.6 460.85,90.6 461.10,90.6 461.35,90.6 461.60,90.6 461.85,90.6 462.10,90.6 462.35,90.6 462.60,90.6 462.85,90.6 463.10,90.6 463.35,90.6 463.60,90.6 463.85,90.6 464.10,90.6 464.35,90.6 464.60,90.6 464.85,90.6 465.10,90.6 465.35,90.6 465.60,90.6 465.85,90.6 466.10,90.6 466.35,90.6 466.60,90.6 466.85,90.6 467.10,90.6 467.35,90.6 467.60,90.6 467.85,90.6 468.10,90.6 468.35,90.6 468.60,90.6 468.85,90.6 469.10,90.6 469.35,90.6 469.60,90.6 469.85,90.6 470.10,90.6 470.35,90.6 470.60,90.6 470.85,90.6 471.10,90.6 471.35,90.6 471.60,90.6 471.85,90.6 472.10,90.6 472.35,90.6 472.60,90.6 472.85,90.6 473.10,90.6 473.35,90.6 473.60,90.6 473.85,90.6 474.10,90.6 474.35,90.6 474.60,90.6 474.85,90.6 475.10,90.6 475.35,90.6 475.60,90.6 475.85,90.6 476.10,90.6 476.35,90.6 476.60,90.6 476.85,90.6 477.10,90.6 477.35,90.6 477.60,90.6 477.85,90.6 478.10,90.6 478.35,90.6 478.60,90.6 478.85,90.6 479.10,90.6 479.35,90.6 479.60,90.6 479.85,90.6 480.10,90.6 480.35,90.6 480.60,90.6 480.85,90.6 481.10,90.6 481.35,90.6 481.60,90.6 481.85,90.6 482.10,90.5 482.35,90.2 482.60,89.7 482.85,89.6 483.10,89.9 483.35,90.3 483.60,90.5 483.85,90.6 484.10,90.6 484.35,90.6 484.60,90.6 484.85,90.6 485.10,90.6 485.35,90.6 485.60,90.6 485.85,90.6 486.10,90.6 486.35,90.6 486.60,90.6 486.85,90.6 487.10,90.6 487.35,90.6 487.60,90.6 487.85,90.6 488.10,90.6 488.35,90.6 488.60,90.6 488.85,90.6 489.10,90.6 489.35,90.6 489.60,90.6 489.85,90.6 490.10,90.6 490.35,90.6 490.60,90.6 490.85,90.6 491.10,90.6 491.35,90.6 491.60,90.6 491.85,90.6 492.10,90.6 492.35,90.6 492.60,90.6 492.85,90.6 493.10,90.6 493.35,90.6 493.60,90.6 493.85,90.6 494.10,90.6 494.35,90.6 494.60,90.6 494.85,90.6 495.10,90.6 495.35,90.6 495.60,90.6 495.85,90.6 496.10,90.6 496.35,90.6 496.60,90.6 496.85,90.6 497.10,90.6 497.35,90.6 497.60,90.6 497.85,90.6 498.10,90.6 498.35,90.6 498.60,90.6 498.85,90.6 499.10,90.6 499.35,90.6 499.60,90.6 499.85,90.6 500.10,90.6 500.35,90.6 500.60,90.6 500.85,90.6 501.10,90.6 501.35,90.6 501.60,90.6 501.85,90.5 502.10,90.4 502.35,90.3 502.60,90.1 502.85,89.9 503.10,89.7 503.35,89.6 503.60,89.6 503.85,89.7 504.10,89.8 504.35,90.0 504.60,90.2 504.85,90.3 505.10,90.4 505.35,90.5 505.60,90.6 505.85,90.6 506.10,90.6 506.35,90.6 506.60,90.6 506.85,90.6 507.10,90.6 507.35,90.6 507.60,90.6 507.85,90.6 508.10,90.6 508.35,90.6 508.60,90.6 508.85,90.6 509.10,90.6 509.35,90.6 509.60,90.6 509.85,90.6 510.10,90.6 510.35,90.6 510.60,90.6 510.85,90.6 511.00,90.60Z" fill="#f6b800" />
<line x1="437.60" y1="90.60" x2="511.00" y2="90.60" stroke="#f6b800" stroke-width="0.7" />
<path d="M437.60,108.50L437.60,108.5 437.85,108.5 438.10,108.5 438.35,108.5 438.60,108.5 438.85,108.5 439.10,108.5 439.35,108.5 439.60,108.5 439.85,108.5 440.10,108.4 440.35,108.4 440.60,108.3 440.85,108.2 441.10,108.0 441.35,107.7 441.60,107.5 441.85,106.8 442.10,106.5 442.35,105.4 442.60,104.6 442.85,103.4 443.10,101.6 443.35,101.4 443.60,100.0 443.85,96.9 444.10,96.5 444.35,96.5 444.60,93.2 444.85,92.9 445.10,95.2 445.35,94.7 445.60,96.2 445.85,96.7 446.10,97.2 446.35,99.5 446.60,100.0 446.85,102.4 447.10,103.5 447.35,104.0 447.60,105.4 447.85,106.2 448.10,106.8 448.35,107.3 448.60,107.7 448.85,108.0 449.10,108.1 449.35,108.3 449.60,108.4 449.85,108.4 450.10,108.5 450.35,108.5 450.60,108.5 450.85,108.5 451.10,108.5 451.35,108.5 451.60,108.5 451.85,108.5 452.10,108.5 452.35,108.5 452.60,108.5 452.85,108.5 453.10,108.5 453.35,108.5 453.60,108.5 453.85,108.5 454.10,108.5 454.35,108.5 454.60,108.5 454.85,108.5 455.10,108.5 455.35,108.5 455.60,108.5 455.85,108.5 456.10,108.5 456.35,108.5 456.60,108.5 456.85,108.5 457.10,108.5 457.35,108.5 457.60,108.5 457.85,108.5 458.10,108.5 458.35,108.5 458.60,108.5 458.85,108.5 459.10,108.5 459.35,108.5 459.60,108.5 459.85,108.5 460.10,108.5 460.35,108.5 460.60,108.5 460.85,108.5 461.10,108.5 461.35,108.5 461.60,108.5 461.85,108.5 462.10,108.5 462.35,108.5 462.60,108.5 462.85,108.5 463.10,108.5 463.35,108.5 463.60,108.5 463.85,108.5 464.10,108.5 464.35,108.5 464.60,108.5 464.85,108.5 465.10,108.5 465.35,108.5 465.60,108.5 465.85,108.5 466.10,108.5 466.35,108.5 466.60,108.5 466.85,108.5 467.10,108.5 467.35,108.5 467.60,108.5 467.85,108.5 468.10,108.5 468.35,108.5 468.60,108.5 468.85,108.5 469.10,108.5 469.35,108.5 469.60,108.5 469.85,108.5 470.10,108.5 470.35,108.5 470.60,108.5 470.85,108.5 471.10,108.5 471.35,108.5 471.60,108.5 471.85,108.5 472.10,108.5 472.35,108.5 472.60,108.5 472.85,108.5 473.10,108.5 473.35,108.5 473.60,108.5 473.85,108.5 474.10,108.5 474.35,108.5 474.60,108.5 474.85,108.5 475.10,108.5 475.35,108.5 475.60,108.5 475.85,108.5 476.10,108.5 476.35,108.5 476.60,108.5 476.85,108.5 477.10,108.5 477.35,108.5 477.60,108.5 477.85,108.5 478.10,108.5 478.35,108.5 478.60,108.5 478.85,108.5 479.10,108.5 479.35,108.5 479.60,108.5 479.85,108.5 480.10,108.5 480.35,108.5 480.60,108.5 480.85,108.5 481.10,108.5 481.35,108.5 481.60,108.5 481.85,108.4 482.10,108.1 482.35,107.2 482.60,106.0 482.85,105.7 483.10,106.4 483.35,107.7 483.60,108.3 483.85,108.5 484.10,108.5 484.35,108.5 484.60,108.5 484.85,108.5 485.10,108.5 485.35,108.5 485.60,108.5 485.85,108.5 486.10,108.5 486.35,108.5 486.60,108.5 486.85,108.5 487.10,108.5 487.35,108.5 487.60,108.5 487.85,108.5 488.10,108.5 488.35,108.5 488.60,108.5 488.85,108.5 489.10,108.5 489.35,108.5 489.60,108.5 489.85,108.5 490.10,108.5 490.35,108.5 490.60,108.5 490.85,108.5 491.10,108.5 491.35,108.5 491.60,108.5 491.85,108.5 492.10,108.5 492.35,108.5 492.60,108.5 492.85,108.5 493.10,108.5 493.35,108.5 493.60,108.5 493.85,108.5 494.10,108.5 494.35,108.5 494.60,108.5 494.85,108.5 495.10,108.5 495.35,108.5 495.60,108.5 495.85,108.5 496.10,108.5 496.35,108.5 496.60,108.5 496.85,108.5 497.10,108.5 497.35,108.5 497.60,108.5 497.85,108.5 498.10,108.5 498.35,108.5 498.60,108.5 498.85,108.5 499.10,108.5 499.35,108.5 499.60,108.5 499.85,108.5 500.10,108.5 500.35,108.5 500.60,108.5 500.85,108.5 501.10,108.5 501.35,108.4 501.60,108.4 501.85,108.3 502.10,108.0 502.35,107.7 502.60,107.4 502.85,106.8 503.10,106.6 503.35,106.2 503.60,106.2 503.85,106.3 504.10,106.6 504.35,106.8 504.60,107.4 504.85,107.8 505.10,108.1 505.35,108.3 505.60,108.4 505.85,108.5 506.10,108.5 506.35,108.5 506.60,108.5 506.85,108.5 507.10,108.5 507.35,108.5 507.60,108.5 507.85,108.5 508.10,108.5 508.35,108.5 508.60,108.5 508.85,108.5 509.10,108.5 509.35,108.5 509.60,108.5 509.85,108.5 510.10,108.5 510.35,108.5 510.60,108.5 510.85,108.5 511.00,108.50Z" fill="#2fa52b" />
<line x1="437.60" y1="108.50" x2="511.00" y2="108.50" stroke="#2fa52b" stroke-width="0.7" />
<path d="M437.60,126.30L437.60,126.3 437.85,126.3 438.10,126.3 438.35,126.3 438.60,126.3 438.85,126.3 439.10,126.3 439.35,126.2 439.60,126.1 439.85,126.0 440.10,125.8 440.35,125.5 440.60,125.0 440.85,124.5 441.10,123.7 441.35,123.3 441.60,123.3 441.85,122.7 442.10,122.4 442.35,121.3 442.60,120.6 442.85,119.6 443.10,118.4 443.35,117.1 443.60,115.2 443.85,114.1 444.10,114.1 444.35,111.4 444.60,111.6 444.85,110.4 445.10,110.9 445.35,111.7 445.60,112.6 445.85,113.4 446.10,114.9 446.35,116.7 446.60,116.8 446.85,118.4 447.10,119.6 447.35,121.3 447.60,122.5 447.85,123.4 448.10,124.4 448.35,124.8 448.60,125.3 448.85,125.6 449.10,125.9 449.35,126.0 449.60,126.1 449.85,126.2 450.10,126.2 450.35,126.3 450.60,126.3 450.85,126.3 451.10,126.3 451.35,126.3 451.60,126.3 451.85,126.3 452.10,126.3 452.35,126.3 452.60,126.3 452.85,126.3 453.10,126.3 453.35,126.3 453.60,126.3 453.85,126.3 454.10,126.3 454.35,126.3 454.60,126.3 454.85,126.3 455.10,126.3 455.35,126.3 455.60,126.3 455.85,126.3 456.10,126.3 456.35,126.3 456.60,126.3 456.85,126.3 457.10,126.3 457.35,126.3 457.60,126.3 457.85,126.3 458.10,126.3 458.35,126.3 458.60,126.3 458.85,126.3 459.10,126.3 459.35,126.3 459.60,126.3 459.85,126.3 460.10,126.3 460.35,126.3 460.60,126.3 460.85,126.3 461.10,126.3 461.35,126.3 461.60,126.3 461.85,126.3 462.10,126.3 462.35,126.3 462.60,126.3 462.85,126.3 463.10,126.3 463.35,126.3 463.60,126.3 463.85,126.3 464.10,126.3 464.35,126.3 464.60,126.3 464.85,126.3 465.10,126.3 465.35,126.3 465.60,126.3 465.85,126.3 466.10,126.3 466.35,126.3 466.60,126.3 466.85,126.3 467.10,126.3 467.35,126.3 467.60,126.3 467.85,126.3 468.10,126.3 468.35,126.3 468.60,126.3 468.85,126.3 469.10,126.3 469.35,126.3 469.60,126.3 469.85,126.3 470.10,126.3 470.35,126.3 470.60,126.3 470.85,126.3 471.10,126.3 471.35,126.3 471.60,126.3 471.85,126.3 472.10,126.3 472.35,126.3 472.60,126.3 472.85,126.3 473.10,126.3 473.35,126.3 473.60,126.3 473.85,126.3 474.10,126.3 474.35,126.3 474.60,126.3 474.85,126.3 475.10,126.3 475.35,126.3 475.60,126.3 475.85,126.3 476.10,126.3 476.35,126.3 476.60,126.3 476.85,126.3 477.10,126.3 477.35,126.3 477.60,126.3 477.85,126.3 478.10,126.3 478.35,126.3 478.60,126.3 478.85,126.3 479.10,126.3 479.35,126.3 479.60,126.3 479.85,126.3 480.10,126.3 480.35,126.3 480.60,126.3 480.85,126.3 481.10,126.3 481.35,126.3 481.60,126.3 481.85,126.2 482.10,126.0 482.35,125.1 482.60,124.2 482.85,123.6 483.10,124.6 483.35,125.6 483.60,126.1 483.85,126.3 484.10,126.3 484.35,126.3 484.60,126.3 484.85,126.3 485.10,126.3 485.35,126.3 485.60,126.3 485.85,126.3 486.10,126.3 486.35,126.3 486.60,126.3 486.85,126.3 487.10,126.3 487.35,126.3 487.60,126.3 487.85,126.3 488.10,126.3 488.35,126.3 488.60,126.3 488.85,126.3 489.10,126.3 489.35,126.3 489.60,126.3 489.85,126.3 490.10,126.3 490.35,126.3 490.60,126.3 490.85,126.3 491.10,126.3 491.35,126.3 491.60,126.3 491.85,126.3 492.10,126.3 492.35,126.3 492.60,126.3 492.85,126.3 493.10,126.3 493.35,126.3 493.60,126.3 493.85,126.3 494.10,126.3 494.35,126.3 494.60,126.3 494.85,126.3 495.10,126.3 495.35,126.3 495.60,126.3 495.85,126.3 496.10,126.3 496.35,126.3 496.60,126.3 496.85,126.3 497.10,126.3 497.35,126.3 497.60,126.3 497.85,126.3 498.10,126.3 498.35,126.3 498.60,126.3 498.85,126.3 499.10,126.3 499.35,126.3 499.60,126.3 499.85,126.3 500.10,126.3 500.35,126.3 500.60,126.3 500.85,126.3 501.10,126.3 501.35,126.3 501.60,126.2 501.85,126.1 502.10,126.0 502.35,125.8 502.60,125.4 502.85,125.2 503.10,124.8 503.35,124.5 503.60,124.6 503.85,124.6 504.10,125.0 504.35,125.2 504.60,125.4 504.85,125.8 505.10,126.0 505.35,126.2 505.60,126.2 505.85,126.3 506.10,126.3 506.35,126.3 506.60,126.3 506.85,126.3 507.10,126.3 507.35,126.3 507.60,126.3 507.85,126.3 508.10,126.3 508.35,126.3 508.60,126.3 508.85,126.3 509.10,126.3 509.35,126.3 509.60,126.3 509.85,126.3 510.10,126.3 510.35,126.3 510.60,126.3 510.85,126.3 511.00,126.30Z" fill="#de0f78" />
<line x1="437.60" y1="126.30" x2="511.00" y2="126.30" stroke="#de0f78" stroke-width="0.7" />
<rect x="439.30" y="55.20" width="12.00" height="71.10" fill="none" stroke="#8a8a8a" stroke-width="0.75"/>
<rect x="503.60" y="129.60" width="2.60" height="1.80" fill="#111"/>
<line x1="506.00" y1="130.50" x2="509.00" y2="130.50" stroke="#111" stroke-width="0.6" />
<text x="467.90" y="139.80" font-size="6.6" fill="#231f20" textLength="41.80" lengthAdjust="spacingAndGlyphs">Itgam (Cd11b)</text>
<text x="30.40" y="194.80" font-size="6.5" fill="#231f20">Chr2</text>
<text x="30.40" y="205.40" font-size="6.3" fill="#231f20" textLength="20.00" lengthAdjust="spacingAndGlyphs">71,625</text>
<text x="40.40" y="212.70" font-size="6.3" fill="#231f20" text-anchor="middle">kb</text>
<line x1="40.40" y1="217.00" x2="40.40" y2="219.80" stroke="#333" stroke-width="0.7" />
<line x1="25.80" y1="221.30" x2="25.80" y2="241.50" stroke="#333" stroke-width="0.7" />
<line x1="23.20" y1="224.40" x2="25.80" y2="224.40" stroke="#333" stroke-width="0.7" />
<text x="20.30" y="226.50" font-size="6.7" fill="#231f20" text-anchor="end">75</text>
<path d="M25.80,238.80L25.80,238.8 26.05,238.8 26.30,238.8 26.55,238.8 26.80,238.8 27.05,238.8 27.30,238.8 27.55,238.8 27.80,238.8 28.05,238.8 28.30,238.8 28.55,238.8 28.80,238.8 29.05,238.7 29.30,238.6 29.55,238.5 29.80,238.4 30.05,238.1 30.30,237.6 30.55,237.6 30.80,237.4 31.05,237.2 31.30,237.1 31.55,237.5 31.80,237.9 32.05,237.8 32.30,238.0 32.55,237.9 32.80,237.5 33.05,236.5 33.30,236.5 33.55,235.4 33.80,235.9 34.05,235.9 34.30,236.2 34.55,235.4 34.80,235.6 35.05,236.7 35.30,236.7 35.55,236.7 35.80,235.2 36.05,234.9 36.30,234.4 36.55,231.9 36.80,231.2 37.05,231.4 37.30,232.5 37.55,231.0 37.80,231.8 38.05,232.7 38.30,233.8 38.55,231.8 38.80,232.0 39.05,232.4 39.30,231.5 39.55,232.6 39.80,233.3 40.05,234.0 40.30,232.6 40.55,232.8 40.80,233.2 41.05,231.7 41.30,232.3 41.55,234.5 41.80,232.9 42.05,235.3 42.30,234.2 42.55,235.2 42.80,234.6 43.05,234.4 43.30,235.3 43.55,234.9 43.80,236.2 44.05,235.2 44.30,236.2 44.55,235.7 44.80,236.0 45.05,236.5 45.30,235.6 45.55,236.6 45.80,236.5 46.05,236.8 46.30,236.1 46.55,236.6 46.80,237.0 47.05,237.1 47.30,237.0 47.55,236.9 47.80,237.5 48.05,237.6 48.30,237.3 48.55,237.6 48.80,237.9 49.05,237.8 49.30,237.9 49.55,237.8 49.80,237.6 50.05,237.6 50.30,237.5 50.55,237.3 50.80,237.2 51.05,236.8 51.30,236.4 51.55,236.6 51.80,236.9 52.05,237.4 52.30,237.3 52.55,237.1 52.80,237.5 53.05,237.4 53.30,237.6 53.55,238.1 53.80,238.2 54.05,238.4 54.30,238.4 54.55,238.6 54.80,238.6 55.05,238.6 55.30,238.6 55.55,238.5 55.80,238.6 56.05,238.5 56.30,238.5 56.55,238.5 56.80,238.3 57.05,238.4 57.30,238.1 57.55,238.2 57.80,238.2 58.05,238.1 58.30,238.2 58.55,238.1 58.80,238.2 59.05,238.4 59.30,238.4 59.55,238.4 59.80,238.6 60.05,238.5 60.30,238.7 60.55,238.6 60.80,238.7 61.05,238.7 61.30,238.7 61.55,238.8 61.80,238.8 62.05,238.8 62.30,238.8 62.55,238.8 62.80,238.8 63.05,238.8 63.30,238.8 63.55,238.8 63.80,238.8 64.05,238.8 64.30,238.8 64.55,238.8 64.80,238.8 65.05,238.8 65.30,238.8 65.55,238.8 65.80,238.8 66.05,238.8 66.30,238.8 66.55,238.8 66.80,238.8 67.05,238.8 67.30,238.8 67.55,238.8 67.80,238.8 68.05,238.8 68.30,238.8 68.55,238.8 68.80,238.8 69.05,238.8 69.30,238.8 69.55,238.8 69.80,238.8 70.05,238.8 70.30,238.8 70.55,238.8 70.80,238.8 71.05,238.8 71.30,238.8 71.55,238.8 71.80,238.8 72.05,238.8 72.30,238.8 72.55,238.8 72.80,238.8 73.05,238.8 73.30,238.8 73.55,238.8 73.80,238.8 74.05,238.8 74.30,238.8 74.55,238.8 74.80,238.8 75.05,238.8 75.30,238.8 75.55,238.8 75.80,238.8 76.05,238.8 76.30,238.8 76.55,238.8 76.80,238.8 77.05,238.8 77.30,238.8 77.55,238.8 77.80,238.8 78.05,238.8 78.30,238.8 78.55,238.8 78.80,238.8 79.05,238.8 79.30,238.8 79.55,238.8 79.80,238.8 80.05,238.8 80.30,238.8 80.55,238.8 80.80,238.8 81.05,238.8 81.30,238.8 81.55,238.8 81.80,238.8 82.05,238.8 82.30,238.8 82.55,238.8 82.80,238.8 83.05,238.8 83.30,238.8 83.55,238.8 83.80,238.8 84.05,238.8 84.30,238.8 84.55,238.8 84.80,238.8 85.05,238.8 85.30,238.8 85.55,238.8 85.80,238.8 86.05,238.8 86.30,238.8 86.55,238.8 86.80,238.8 87.05,238.8 87.30,238.8 87.55,238.8 87.80,238.8 88.05,238.8 88.30,238.8 88.55,238.8 88.80,238.8 89.05,238.8 89.30,238.8 89.55,238.8 89.80,238.8 90.05,238.8 90.30,238.8 90.55,238.8 90.80,238.8 91.05,238.8 91.30,238.8 91.55,238.8 91.80,238.8 92.05,238.8 92.30,238.8 92.55,238.8 92.80,238.8 93.05,238.8 93.30,238.8 93.55,238.8 93.80,238.8 94.05,238.8 94.30,238.8 94.55,238.8 94.80,238.8 95.05,238.8 95.30,238.8 95.55,238.8 95.80,238.8 96.05,238.8 96.30,238.8 96.55,238.8 96.80,238.8 97.05,238.8 97.30,238.8 97.55,238.8 97.80,238.8 98.05,238.8 98.30,238.8 98.55,238.8 98.80,238.8 99.05,238.8 99.30,238.8 99.30,238.80Z" fill="#104c8a" />
<line x1="25.80" y1="238.80" x2="99.30" y2="238.80" stroke="#104c8a" stroke-width="0.7" />
<path d="M25.80,256.60L25.80,256.6 26.05,256.6 26.30,256.6 26.55,256.6 26.80,256.6 27.05,256.6 27.30,256.6 27.55,256.6 27.80,256.6 28.05,256.6 28.30,256.6 28.55,256.6 28.80,256.6 29.05,256.5 29.30,256.4 29.55,256.3 29.80,256.2 30.05,256.0 30.30,255.3 30.55,255.2 30.80,254.9 31.05,255.0 31.30,255.5 31.55,255.4 31.80,255.5 32.05,255.9 32.30,255.5 32.55,255.7 32.80,255.6 33.05,254.7 33.30,254.8 33.55,253.1 33.80,253.0 34.05,252.1 34.30,251.8 34.55,250.8 34.80,251.2 35.05,251.3 35.30,247.7 35.55,249.5 35.80,246.4 36.05,248.2 36.30,243.4 36.55,242.9 36.80,243.4 37.05,243.7 37.30,245.7 37.55,246.6 37.80,250.7 38.05,251.1 38.30,251.8 38.55,253.9 38.80,253.0 39.05,252.7 39.30,252.6 39.55,251.4 39.80,249.8 40.05,248.7 40.30,244.9 40.55,247.3 40.80,249.2 41.05,249.4 41.30,247.6 41.55,247.7 41.80,250.3 42.05,250.8 42.30,250.9 42.55,250.3 42.80,251.7 43.05,250.3 43.30,250.3 43.55,250.0 43.80,251.4 44.05,251.5 44.30,251.1 44.55,249.6 44.80,251.4 45.05,250.9 45.30,251.8 45.55,252.5 45.80,252.8 46.05,251.5 46.30,252.1 46.55,253.5 46.80,253.6 47.05,254.3 47.30,254.8 47.55,255.3 47.80,255.9 48.05,256.1 48.30,256.3 48.55,256.5 48.80,256.5 49.05,256.6 49.30,256.6 49.55,256.6 49.80,256.6 50.05,256.6 50.30,256.6 50.55,256.6 50.80,256.6 51.05,256.6 51.30,256.5 51.55,256.5 51.80,256.4 52.05,256.1 52.30,255.8 52.55,255.5 52.80,255.2 53.05,254.6 53.30,253.6 53.55,253.4 53.80,253.9 54.05,254.6 54.30,255.2 54.55,255.2 54.80,255.9 55.05,256.2 55.30,256.4 55.55,256.5 55.80,256.6 56.05,256.6 56.30,256.6 56.55,256.6 56.80,256.6 57.05,256.6 57.30,256.6 57.55,256.6 57.80,256.6 58.05,256.6 58.30,256.6 58.55,256.6 58.80,256.6 59.05,256.6 59.30,256.6 59.55,256.6 59.80,256.6 60.05,256.5 60.30,256.5 60.55,256.4 60.80,256.4 61.05,256.2 61.30,256.1 61.55,256.2 61.80,256.2 62.05,256.2 62.30,256.2 62.55,256.2 62.80,256.3 63.05,256.3 63.30,256.4 63.55,256.5 63.80,256.5 64.05,256.5 64.30,256.6 64.55,256.6 64.80,256.6 65.05,256.6 65.30,256.6 65.55,256.6 65.80,256.6 66.05,256.6 66.30,256.6 66.55,256.6 66.80,256.6 67.05,256.6 67.30,256.6 67.55,256.6 67.80,256.6 68.05,256.6 68.30,256.6 68.55,256.6 68.80,256.6 69.05,256.6 69.30,256.6 69.55,256.6 69.80,256.6 70.05,256.6 70.30,256.6 70.55,256.6 70.80,256.6 71.05,256.6 71.30,256.6 71.55,256.6 71.80,256.6 72.05,256.6 72.30,256.6 72.55,256.6 72.80,256.6 73.05,256.6 73.30,256.6 73.55,256.6 73.80,256.6 74.05,256.6 74.30,256.6 74.55,256.6 74.80,256.6 75.05,256.6 75.30,256.6 75.55,256.6 75.80,256.6 76.05,256.6 76.30,256.6 76.55,256.6 76.80,256.6 77.05,256.6 77.30,256.6 77.55,256.6 77.80,256.6 78.05,256.6 78.30,256.6 78.55,256.6 78.80,256.6 79.05,256.6 79.30,256.6 79.55,256.6 79.80,256.6 80.05,256.6 80.30,256.6 80.55,256.6 80.80,256.6 81.05,256.6 81.30,256.6 81.55,256.6 81.80,256.6 82.05,256.6 82.30,256.6 82.55,256.6 82.80,256.6 83.05,256.6 83.30,256.6 83.55,256.6 83.80,256.6 84.05,256.6 84.30,256.6 84.55,256.6 84.80,256.6 85.05,256.6 85.30,256.6 85.55,256.6 85.80,256.6 86.05,256.6 86.30,256.6 86.55,256.6 86.80,256.6 87.05,256.6 87.30,256.6 87.55,256.6 87.80,256.6 88.05,256.6 88.30,256.6 88.55,256.6 88.80,256.6 89.05,256.6 89.30,256.6 89.55,256.6 89.80,256.6 90.05,256.6 90.30,256.6 90.55,256.6 90.80,256.6 91.05,256.6 91.30,256.6 91.55,256.6 91.80,256.6 92.05,256.6 92.30,256.6 92.55,256.6 92.80,256.6 93.05,256.6 93.30,256.6 93.55,256.6 93.80,256.6 94.05,256.6 94.30,256.6 94.55,256.6 94.80,256.6 95.05,256.6 95.30,256.6 95.55,256.6 95.80,256.6 96.05,256.6 96.30,256.6 96.55,256.6 96.80,256.6 97.05,256.6 97.30,256.6 97.55,256.6 97.80,256.6 98.05,256.6 98.30,256.6 98.55,256.6 98.80,256.6 99.05,256.6 99.30,256.6 99.30,256.60Z" fill="#f6b800" />
<line x1="25.80" y1="256.60" x2="99.30" y2="256.60" stroke="#f6b800" stroke-width="0.7" />
<path d="M25.80,274.50L25.80,274.5 26.05,274.5 26.30,274.5 26.55,274.5 26.80,274.5 27.05,274.5 27.30,274.5 27.55,274.5 27.80,274.5 28.05,274.5 28.30,274.5 28.55,274.5 28.80,274.4 29.05,274.3 29.30,274.2 29.55,273.8 29.80,273.4 30.05,273.4 30.30,272.1 30.55,271.8 30.80,271.8 31.05,271.9 31.30,271.0 31.55,271.7 31.80,271.6 32.05,272.0 32.30,271.8 32.55,271.9 32.80,271.0 33.05,270.3 33.30,270.3 33.55,267.8 33.80,269.2 34.05,267.6 34.30,267.4 34.55,268.8 34.80,270.6 35.05,269.6 35.30,270.0 35.55,270.5 35.80,269.8 36.05,266.2 36.30,266.3 36.55,258.5 36.80,259.5 37.05,258.8 37.30,260.2 37.55,259.9 37.80,260.3 38.05,265.3 38.30,265.7 38.55,264.7 38.80,265.5 39.05,263.1 39.30,262.6 39.55,262.8 39.80,261.4 40.05,262.7 40.30,265.8 40.55,261.7 40.80,265.6 41.05,265.6 41.30,265.8 41.55,263.5 41.80,263.3 42.05,265.3 42.30,265.9 42.55,267.4 42.80,264.1 43.05,267.5 43.30,266.2 43.55,267.2 43.80,267.5 44.05,267.6 44.30,268.4 44.55,269.2 44.80,267.9 45.05,267.6 45.30,268.6 45.55,270.3 45.80,269.7 46.05,271.5 46.30,271.1 46.55,270.8 46.80,271.0 47.05,271.9 47.30,271.8 47.55,272.5 47.80,272.9 48.05,273.2 48.30,273.4 48.55,273.8 48.80,274.1 49.05,274.2 49.30,274.3 49.55,274.3 49.80,274.3 50.05,274.2 50.30,274.1 50.55,273.8 50.80,273.9 51.05,273.4 51.30,273.1 51.55,273.1 51.80,273.1 52.05,272.6 52.30,272.9 52.55,273.2 52.80,273.5 53.05,273.3 53.30,273.8 53.55,274.1 53.80,274.2 54.05,274.3 54.30,274.4 54.55,274.4 54.80,274.5 55.05,274.5 55.30,274.5 55.55,274.5 55.80,274.4 56.05,274.4 56.30,274.3 56.55,274.2 56.80,274.2 57.05,274.0 57.30,273.8 57.55,273.9 57.80,273.8 58.05,273.7 58.30,273.8 58.55,273.7 58.80,273.9 59.05,274.0 59.30,274.2 59.55,274.3 59.80,274.4 60.05,274.4 60.30,274.4 60.55,274.5 60.80,274.5 61.05,274.5 61.30,274.5 61.55,274.5 61.80,274.5 62.05,274.5 62.30,274.5 62.55,274.5 62.80,274.5 63.05,274.5 63.30,274.5 63.55,274.5 63.80,274.5 64.05,274.5 64.30,274.5 64.55,274.5 64.80,274.5 65.05,274.5 65.30,274.5 65.55,274.5 65.80,274.5 66.05,274.5 66.30,274.5 66.55,274.5 66.80,274.5 67.05,274.5 67.30,274.5 67.55,274.5 67.80,274.5 68.05,274.5 68.30,274.5 68.55,274.5 68.80,274.5 69.05,274.5 69.30,274.5 69.55,274.5 69.80,274.5 70.05,274.5 70.30,274.5 70.55,274.5 70.80,274.5 71.05,274.5 71.30,274.5 71.55,274.5 71.80,274.5 72.05,274.5 72.30,274.5 72.55,274.5 72.80,274.5 73.05,274.5 73.30,274.5 73.55,274.5 73.80,274.5 74.05,274.5 74.30,274.5 74.55,274.5 74.80,274.5 75.05,274.5 75.30,274.5 75.55,274.5 75.80,274.5 76.05,274.5 76.30,274.5 76.55,274.5 76.80,274.5 77.05,274.5 77.30,274.5 77.55,274.5 77.80,274.5 78.05,274.5 78.30,274.5 78.55,274.5 78.80,274.5 79.05,274.5 79.30,274.5 79.55,274.5 79.80,274.5 80.05,274.5 80.30,274.5 80.55,274.5 80.80,274.5 81.05,274.5 81.30,274.5 81.55,274.5 81.80,274.5 82.05,274.5 82.30,274.5 82.55,274.5 82.80,274.5 83.05,274.5 83.30,274.5 83.55,274.5 83.80,274.5 84.05,274.5 84.30,274.5 84.55,274.5 84.80,274.5 85.05,274.5 85.30,274.5 85.55,274.5 85.80,274.5 86.05,274.5 86.30,274.5 86.55,274.5 86.80,274.5 87.05,274.5 87.30,274.5 87.55,274.5 87.80,274.5 88.05,274.5 88.30,274.5 88.55,274.5 88.80,274.5 89.05,274.5 89.30,274.5 89.55,274.5 89.80,274.5 90.05,274.5 90.30,274.5 90.55,274.5 90.80,274.5 91.05,274.5 91.30,274.5 91.55,274.5 91.80,274.5 92.05,274.5 92.30,274.5 92.55,274.5 92.80,274.5 93.05,274.5 93.30,274.5 93.55,274.5 93.80,274.5 94.05,274.5 94.30,274.5 94.55,274.5 94.80,274.5 95.05,274.5 95.30,274.5 95.55,274.5 95.80,274.5 96.05,274.5 96.30,274.5 96.55,274.5 96.80,274.5 97.05,274.5 97.30,274.5 97.55,274.5 97.80,274.5 98.05,274.5 98.30,274.5 98.55,274.5 98.80,274.5 99.05,274.5 99.30,274.5 99.30,274.50Z" fill="#2fa52b" />
<line x1="25.80" y1="274.50" x2="99.30" y2="274.50" stroke="#2fa52b" stroke-width="0.7" />
<path d="M25.80,292.20L25.80,292.2 26.05,292.2 26.30,292.2 26.55,292.2 26.80,292.2 27.05,292.2 27.30,292.2 27.55,292.2 27.80,292.2 28.05,292.2 28.30,292.2 28.55,292.2 28.80,292.2 29.05,292.1 29.30,292.0 29.55,291.9 29.80,291.7 30.05,291.4 30.30,291.2 30.55,291.2 30.80,290.5 31.05,290.6 31.30,290.6 31.55,290.8 31.80,290.8 32.05,291.3 32.30,291.0 32.55,291.0 32.80,290.4 33.05,289.7 33.30,289.5 33.55,289.4 33.80,288.2 34.05,287.5 34.30,287.7 34.55,288.0 34.80,287.4 35.05,288.1 35.30,287.4 35.55,285.8 35.80,282.4 36.05,283.9 36.30,283.4 36.55,283.1 36.80,283.5 37.05,282.7 37.30,282.1 37.55,281.9 37.80,284.7 38.05,284.8 38.30,285.2 38.55,285.1 38.80,283.0 39.05,283.9 39.30,285.2 39.55,286.1 39.80,284.0 40.05,284.8 40.30,284.9 40.55,287.0 40.80,286.3 41.05,285.4 41.30,286.3 41.55,285.3 41.80,287.4 42.05,285.1 42.30,287.8 42.55,286.8 42.80,288.0 43.05,286.1 43.30,286.5 43.55,286.0 43.80,286.6 44.05,286.4 44.30,287.6 44.55,286.9 44.80,287.8 45.05,289.0 45.30,288.5 45.55,289.8 45.80,290.5 46.05,290.9 46.30,291.0 46.55,291.4 46.80,291.3 47.05,291.5 47.30,291.8 47.55,291.8 47.80,291.6 48.05,291.7 48.30,291.4 48.55,291.2 48.80,291.3 49.05,291.1 49.30,290.7 49.55,290.9 49.80,290.9 50.05,290.5 50.30,290.6 50.55,290.6 50.80,290.9 51.05,291.1 51.30,291.1 51.55,291.2 51.80,291.5 52.05,291.7 52.30,291.8 52.55,291.8 52.80,291.8 53.05,291.9 53.30,291.9 53.55,291.9 53.80,291.9 54.05,291.8 54.30,291.8 54.55,291.7 54.80,291.5 55.05,291.6 55.30,291.3 55.55,291.6 55.80,291.4 56.05,291.4 56.30,291.5 56.55,291.4 56.80,291.5 57.05,291.6 57.30,291.6 57.55,291.8 57.80,291.8 58.05,291.8 58.30,292.0 58.55,292.0 58.80,292.1 59.05,292.1 59.30,292.1 59.55,292.2 59.80,292.2 60.05,292.2 60.30,292.2 60.55,292.2 60.80,292.2 61.05,292.2 61.30,292.2 61.55,292.2 61.80,292.2 62.05,292.2 62.30,292.2 62.55,292.2 62.80,292.2 63.05,292.2 63.30,292.2 63.55,292.2 63.80,292.2 64.05,292.2 64.30,292.2 64.55,292.2 64.80,292.2 65.05,292.2 65.30,292.2 65.55,292.2 65.80,292.2 66.05,292.2 66.30,292.2 66.55,292.2 66.80,292.2 67.05,292.2 67.30,292.2 67.55,292.2 67.80,292.2 68.05,292.2 68.30,292.2 68.55,292.2 68.80,292.2 69.05,292.2 69.30,292.2 69.55,292.2 69.80,292.2 70.05,292.2 70.30,292.2 70.55,292.2 70.80,292.2 71.05,292.2 71.30,292.2 71.55,292.2 71.80,292.2 72.05,292.2 72.30,292.2 72.55,292.2 72.80,292.2 73.05,292.2 73.30,292.2 73.55,292.2 73.80,292.2 74.05,292.2 74.30,292.2 74.55,292.2 74.80,292.2 75.05,292.2 75.30,292.2 75.55,292.2 75.80,292.2 76.05,292.2 76.30,292.2 76.55,292.2 76.80,292.2 77.05,292.2 77.30,292.2 77.55,292.2 77.80,292.2 78.05,292.2 78.30,292.2 78.55,292.2 78.80,292.2 79.05,292.2 79.30,292.2 79.55,292.2 79.80,292.2 80.05,292.2 80.30,292.2 80.55,292.2 80.80,292.2 81.05,292.2 81.30,292.2 81.55,292.2 81.80,292.2 82.05,292.2 82.30,292.2 82.55,292.2 82.80,292.2 83.05,292.2 83.30,292.2 83.55,292.2 83.80,292.2 84.05,292.2 84.30,292.2 84.55,292.2 84.80,292.2 85.05,292.2 85.30,292.2 85.55,292.2 85.80,292.2 86.05,292.2 86.30,292.2 86.55,292.2 86.80,292.2 87.05,292.2 87.30,292.2 87.55,292.2 87.80,292.2 88.05,292.2 88.30,292.2 88.55,292.2 88.80,292.2 89.05,292.2 89.30,292.2 89.55,292.2 89.80,292.2 90.05,292.2 90.30,292.2 90.55,292.2 90.80,292.2 91.05,292.2 91.30,292.2 91.55,292.2 91.80,292.2 92.05,292.2 92.30,292.2 92.55,292.2 92.80,292.2 93.05,292.2 93.30,292.2 93.55,292.2 93.80,292.2 94.05,292.2 94.30,292.2 94.55,292.2 94.80,292.2 95.05,292.2 95.30,292.2 95.55,292.2 95.80,292.2 96.05,292.2 96.30,292.2 96.55,292.2 96.80,292.2 97.05,292.2 97.30,292.2 97.55,292.2 97.80,292.2 98.05,292.2 98.30,292.2 98.55,292.2 98.80,292.2 99.05,292.2 99.30,292.2 99.30,292.20Z" fill="#de0f78" />
<line x1="25.80" y1="292.20" x2="99.30" y2="292.20" stroke="#de0f78" stroke-width="0.7" />
<rect x="28.90" y="221.50" width="19.40" height="70.70" fill="none" stroke="#8a8a8a" stroke-width="0.75"/>
<line x1="40.50" y1="297.20" x2="98.80" y2="297.20" stroke="#222" stroke-width="0.9" />
<rect x="43.00" y="296.10" width="7.80" height="2.20" fill="#111"/>
<rect x="56.70" y="296.50" width="1.40" height="1.40" fill="#111"/>
<rect x="70.10" y="296.50" width="1.40" height="1.40" fill="#111"/>
<rect x="83.90" y="296.50" width="1.40" height="1.40" fill="#111"/>
<rect x="97.00" y="296.50" width="1.40" height="1.40" fill="#111"/>
<text x="38.50" y="306.50" font-size="6.6" fill="#231f20" textLength="37.70" lengthAdjust="spacingAndGlyphs">Itga6 (Cd49f)</text>
<text x="114.70" y="194.70" font-size="6.5" fill="#231f20">Chr9</text>
<text x="114.70" y="205.40" font-size="6.3" fill="#231f20" textLength="19.00" lengthAdjust="spacingAndGlyphs">20,781</text>
<text x="124.20" y="212.70" font-size="6.3" fill="#231f20" text-anchor="middle">kb</text>
<text x="171.00" y="205.40" font-size="6.3" fill="#231f20" textLength="19.00" lengthAdjust="spacingAndGlyphs">20,820</text>
<text x="180.50" y="212.70" font-size="6.3" fill="#231f20" text-anchor="middle">kb</text>
<line x1="124.60" y1="217.00" x2="124.60" y2="219.80" stroke="#333" stroke-width="0.7" />
<line x1="180.10" y1="217.00" x2="180.10" y2="219.80" stroke="#333" stroke-width="0.7" />
<line x1="115.20" y1="221.30" x2="115.20" y2="241.50" stroke="#333" stroke-width="0.7" />
<line x1="112.60" y1="224.40" x2="115.20" y2="224.40" stroke="#333" stroke-width="0.7" />
<text x="108.80" y="226.50" font-size="5.2" fill="#231f20" text-anchor="end">43</text>
<path d="M115.20,238.80L115.20,238.8 115.45,238.8 115.70,238.8 115.95,238.8 116.20,238.8 116.45,238.8 116.70,238.8 116.95,238.8 117.20,238.8 117.45,238.8 117.70,238.8 117.95,238.8 118.20,238.8 118.45,238.7 118.70,238.7 118.95,238.6 119.20,238.5 119.45,238.3 119.70,238.1 119.95,237.9 120.20,237.7 120.45,237.7 120.70,237.6 120.95,237.2 121.20,237.2 121.45,237.3 121.70,237.6 121.95,237.7 122.20,237.8 122.45,237.7 122.70,237.8 122.95,237.3 123.20,237.0 123.45,236.1 123.70,235.6 123.95,236.0 124.20,236.2 124.45,236.2 124.70,236.1 124.95,235.3 125.20,234.7 125.45,232.5 125.70,231.8 125.95,230.3 126.20,230.8 126.45,229.1 126.70,228.1 126.95,224.4 127.20,222.1 127.45,224.0 127.70,227.2 127.95,224.7 128.20,224.1 128.45,225.1 128.70,225.3 128.95,224.7 129.20,228.4 129.45,229.5 129.70,230.1 129.95,232.5 130.20,234.7 130.45,235.9 130.70,236.6 130.95,236.7 131.20,237.0 131.45,237.4 131.70,237.8 131.95,238.2 132.20,238.5 132.45,238.7 132.70,238.8 132.95,238.8 133.20,238.8 133.45,238.8 133.70,238.8 133.95,238.8 134.20,238.8 134.45,238.8 134.70,238.8 134.95,238.8 135.20,238.8 135.45,238.8 135.70,238.8 135.95,238.8 136.20,238.8 136.45,238.8 136.70,238.8 136.95,238.8 137.20,238.8 137.45,238.8 137.70,238.8 137.95,238.8 138.20,238.8 138.45,238.8 138.70,238.8 138.95,238.8 139.20,238.8 139.45,238.8 139.70,238.8 139.95,238.8 140.20,238.8 140.45,238.8 140.70,238.8 140.95,238.8 141.20,238.8 141.45,238.8 141.70,238.8 141.95,238.8 142.20,238.8 142.45,238.8 142.70,238.8 142.95,238.8 143.20,238.8 143.45,238.8 143.70,238.8 143.95,238.8 144.20,238.8 144.45,238.8 144.70,238.8 144.95,238.8 145.20,238.8 145.45,238.8 145.70,238.8 145.95,238.8 146.20,238.8 146.45,238.8 146.70,238.8 146.95,238.8 147.20,238.8 147.45,238.8 147.70,238.8 147.95,238.8 148.20,238.8 148.45,238.8 148.70,238.8 148.95,238.8 149.20,238.8 149.45,238.8 149.70,238.5 149.95,237.3 150.20,233.5 150.45,228.0 150.70,225.8 150.95,227.7 151.20,234.0 151.45,236.5 151.70,236.2 151.95,235.7 152.20,236.4 152.45,237.2 152.70,238.1 152.95,238.6 153.20,238.8 153.45,238.8 153.70,238.8 153.95,238.8 154.20,238.8 154.45,238.8 154.70,238.8 154.95,238.8 155.20,238.8 155.45,238.8 155.70,238.8 155.95,238.8 156.20,238.8 156.45,238.8 156.70,238.8 156.95,238.8 157.20,238.8 157.45,238.8 157.70,238.8 157.95,238.8 158.20,238.8 158.45,238.8 158.70,238.8 158.95,238.8 159.20,238.8 159.45,238.8 159.70,238.8 159.95,238.8 160.20,238.8 160.45,238.8 160.70,238.8 160.95,238.8 161.20,238.8 161.45,238.8 161.70,238.8 161.95,238.8 162.20,238.8 162.45,238.8 162.70,238.8 162.95,238.8 163.20,238.8 163.45,238.8 163.70,238.8 163.95,238.8 164.20,238.8 164.45,238.8 164.70,238.8 164.95,238.8 165.20,238.8 165.45,238.8 165.70,238.8 165.95,238.8 166.20,238.8 166.45,238.8 166.70,238.8 166.95,238.8 167.20,238.8 167.45,238.8 167.70,238.8 167.95,238.8 168.20,238.8 168.45,238.8 168.70,238.8 168.95,238.8 169.20,238.8 169.45,238.8 169.70,238.8 169.95,238.8 170.20,238.8 170.45,238.8 170.70,238.8 170.95,238.8 171.20,238.8 171.45,238.8 171.70,238.8 171.95,238.8 172.20,238.8 172.45,238.8 172.70,238.8 172.95,238.7 173.20,238.2 173.45,236.2 173.70,233.2 173.95,228.9 174.20,231.6 174.45,234.6 174.70,237.4 174.95,238.5 175.20,238.6 175.45,237.7 175.70,235.1 175.95,230.3 176.20,228.5 176.45,231.7 176.70,235.7 176.95,237.6 177.20,238.5 177.45,237.8 177.70,235.0 177.95,230.7 178.20,228.6 178.45,232.4 178.70,235.8 178.95,237.6 179.20,238.2 179.45,237.8 179.70,237.3 179.95,236.6 180.20,236.8 180.45,237.3 180.70,238.0 180.95,238.4 181.20,238.7 181.45,238.7 181.70,238.6 181.95,237.9 182.20,236.3 182.45,235.0 182.70,233.2 182.95,234.5 183.20,236.4 183.45,238.0 183.70,238.6 183.95,238.8 184.20,238.8 184.45,238.8 184.70,238.8 184.95,238.8 185.20,238.8 185.45,238.8 185.70,238.8 185.95,238.8 186.20,238.8 186.45,238.8 186.70,238.8 186.95,238.8 187.20,238.8 187.45,238.8 187.70,238.8 187.95,238.8 188.20,238.8 188.45,238.8 188.70,238.8 188.95,238.8 189.20,238.8 189.30,238.80Z" fill="#104c8a" />
<line x1="115.20" y1="238.80" x2="189.30" y2="238.80" stroke="#104c8a" stroke-width="0.7" />
<path d="M115.20,256.60L115.20,256.6 115.45,256.6 115.70,256.6 115.95,256.6 116.20,256.6 116.45,256.6 116.70,256.6 116.95,256.6 117.20,256.6 117.45,256.6 117.70,256.6 117.95,256.6 118.20,256.6 118.45,256.6 118.70,256.6 118.95,256.5 119.20,256.5 119.45,256.4 119.70,256.1 119.95,256.0 120.20,255.8 120.45,255.5 120.70,255.2 120.95,254.7 121.20,254.9 121.45,254.6 121.70,253.9 121.95,253.2 122.20,252.0 122.45,251.9 122.70,244.5 122.95,245.9 123.20,244.8 123.45,245.3 123.70,248.7 123.95,247.1 124.20,246.9 124.45,247.5 124.70,248.6 124.95,247.1 125.20,247.3 125.45,248.7 125.70,247.5 125.95,248.6 126.20,249.1 126.45,248.3 126.70,248.3 126.95,248.2 127.20,247.5 127.45,256.6 127.70,256.6 127.95,256.6 128.20,256.6 128.45,256.6 128.70,256.6 128.95,256.6 129.20,256.6 129.45,256.6 129.70,256.6 129.95,256.6 130.20,256.6 130.45,256.6 130.70,256.6 130.95,256.6 131.20,256.6 131.45,256.6 131.70,256.6 131.95,256.6 132.20,256.6 132.45,256.6 132.70,256.6 132.95,256.6 133.20,256.6 133.45,256.6 133.70,256.6 133.95,256.6 134.20,256.6 134.45,256.6 134.70,256.6 134.95,256.6 135.20,256.6 135.45,256.6 135.70,256.6 135.95,256.6 136.20,256.6 136.45,256.6 136.70,256.6 136.95,256.6 137.20,256.6 137.45,256.6 137.70,256.6 137.95,256.6 138.20,256.6 138.45,256.6 138.70,256.6 138.95,256.6 139.20,256.6 139.45,256.6 139.70,256.6 139.95,256.6 140.20,256.6 140.45,256.6 140.70,256.6 140.95,256.6 141.20,256.6 141.45,256.6 141.70,256.6 141.95,256.6 142.20,256.6 142.45,256.6 142.70,256.6 142.95,256.6 143.20,256.6 143.45,256.6 143.70,256.6 143.95,256.6 144.20,256.6 144.45,256.6 144.70,256.6 144.95,256.6 145.20,256.6 145.45,256.6 145.70,256.6 145.95,256.6 146.20,256.6 146.45,256.6 146.70,256.6 146.95,256.6 147.20,256.6 147.45,256.6 147.70,256.6 147.95,256.6 148.20,256.6 148.45,256.6 148.70,256.6 148.95,256.6 149.20,256.6 149.45,256.6 149.70,256.4 149.95,255.3 150.20,251.7 150.45,246.5 150.70,244.3 150.95,244.3 151.20,249.1 151.45,251.9 151.70,254.0 151.95,254.5 152.20,255.3 152.45,256.1 152.70,256.4 152.95,256.6 153.20,256.6 153.45,256.6 153.70,256.6 153.95,256.6 154.20,256.6 154.45,256.6 154.70,256.6 154.95,256.6 155.20,256.6 155.45,256.6 155.70,256.6 155.95,256.6 156.20,256.6 156.45,256.6 156.70,256.6 156.95,256.6 157.20,256.6 157.45,256.6 157.70,256.6 157.95,256.6 158.20,256.6 158.45,256.6 158.70,256.6 158.95,256.6 159.20,256.6 159.45,256.6 159.70,256.6 159.95,256.6 160.20,256.6 160.45,256.6 160.70,256.6 160.95,256.6 161.20,256.6 161.45,256.6 161.70,256.6 161.95,256.6 162.20,256.6 162.45,256.6 162.70,256.6 162.95,256.6 163.20,256.6 163.45,256.6 163.70,256.6 163.95,256.6 164.20,256.6 164.45,256.6 164.70,256.6 164.95,256.6 165.20,256.6 165.45,256.6 165.70,256.6 165.95,256.6 166.20,256.6 166.45,256.6 166.70,256.6 166.95,256.6 167.20,256.6 167.45,256.6 167.70,256.6 167.95,256.6 168.20,256.6 168.45,256.6 168.70,256.6 168.95,256.6 169.20,256.6 169.45,256.6 169.70,256.6 169.95,256.6 170.20,256.6 170.45,256.6 170.70,256.6 170.95,256.6 171.20,256.6 171.45,256.6 171.70,256.6 171.95,256.6 172.20,256.6 172.45,256.6 172.70,256.6 172.95,256.5 173.20,256.1 173.45,254.7 173.70,252.2 173.95,250.5 174.20,250.0 174.45,253.9 174.70,255.6 174.95,256.4 175.20,256.5 175.45,255.9 175.70,254.1 175.95,250.5 176.20,249.2 176.45,250.6 176.70,254.4 176.95,255.8 177.20,256.4 177.45,255.9 177.70,253.8 177.95,250.8 178.20,248.7 178.45,250.8 178.70,253.8 178.95,255.9 179.20,256.5 179.45,256.6 179.70,256.6 179.95,256.6 180.20,256.6 180.45,256.6 180.70,256.6 180.95,256.6 181.20,256.6 181.45,256.6 181.70,256.4 181.95,255.6 182.20,254.4 182.45,252.7 182.70,251.9 182.95,252.6 183.20,254.2 183.45,255.8 183.70,256.4 183.95,256.6 184.20,256.6 184.45,256.6 184.70,256.6 184.95,256.6 185.20,256.6 185.45,256.6 185.70,256.6 185.95,256.6 186.20,256.6 186.45,256.6 186.70,256.6 186.95,256.6 187.20,256.6 187.45,256.6 187.70,256.6 187.95,256.6 188.20,256.6 188.45,256.6 188.70,256.6 188.95,256.6 189.20,256.6 189.30,256.60Z" fill="#f6b800" />
<line x1="115.20" y1="256.60" x2="189.30" y2="256.60" stroke="#f6b800" stroke-width="0.7" />
<path d="M115.20,274.50L115.20,274.5 115.45,274.5 115.70,274.5 115.95,274.5 116.20,274.5 116.45,274.5 116.70,274.5 116.95,274.5 117.20,274.5 117.45,274.5 117.70,274.5 117.95,274.5 118.20,274.5 118.45,274.5 118.70,274.5 118.95,274.5 119.20,274.5 119.45,274.5 119.70,274.5 119.95,274.5 120.20,274.5 120.45,274.5 120.70,274.5 120.95,274.5 121.20,274.5 121.45,274.5 121.70,274.5 121.95,274.5 122.20,274.4 122.45,274.3 122.70,274.0 122.95,273.6 123.20,273.0 123.45,272.0 123.70,272.0 123.95,271.0 124.20,270.7 124.45,270.5 124.70,269.8 124.95,268.3 125.20,267.4 125.45,267.4 125.70,267.0 125.95,267.7 126.20,268.0 126.45,267.4 126.70,268.6 126.95,269.4 127.20,269.1 127.45,269.2 127.70,270.5 127.95,270.9 128.20,271.9 128.45,271.9 128.70,271.1 128.95,271.7 129.20,271.7 129.45,272.3 129.70,273.1 129.95,273.8 130.20,274.2 130.45,274.3 130.70,274.4 130.95,274.5 131.20,274.5 131.45,274.5 131.70,274.5 131.95,274.5 132.20,274.5 132.45,274.5 132.70,274.5 132.95,274.5 133.20,274.5 133.45,274.5 133.70,274.5 133.95,274.5 134.20,274.5 134.45,274.5 134.70,274.5 134.95,274.5 135.20,274.5 135.45,274.5 135.70,274.5 135.95,274.5 136.20,274.5 136.45,274.5 136.70,274.5 136.95,274.5 137.20,274.5 137.45,274.5 137.70,274.5 137.95,274.5 138.20,274.5 138.45,274.5 138.70,274.5 138.95,274.5 139.20,274.5 139.45,274.5 139.70,274.5 139.95,274.5 140.20,274.5 140.45,274.5 140.70,274.5 140.95,274.5 141.20,274.5 141.45,274.5 141.70,274.5 141.95,274.5 142.20,274.5 142.45,274.5 142.70,274.5 142.95,274.5 143.20,274.5 143.45,274.5 143.70,274.5 143.95,274.5 144.20,274.5 144.45,274.5 144.70,274.5 144.95,274.5 145.20,274.5 145.45,274.5 145.70,274.5 145.95,274.5 146.20,274.5 146.45,274.5 146.70,274.5 146.95,274.5 147.20,274.5 147.45,274.5 147.70,274.5 147.95,274.5 148.20,274.5 148.45,274.5 148.70,274.5 148.95,274.5 149.20,274.5 149.45,274.5 149.70,274.5 149.95,274.4 150.20,273.9 150.45,272.5 150.70,269.6 150.95,266.5 151.20,267.6 151.45,270.6 151.70,271.4 151.95,272.2 152.20,272.7 152.45,273.4 152.70,273.7 152.95,274.1 153.20,274.4 153.45,274.5 153.70,274.5 153.95,274.5 154.20,274.5 154.45,274.5 154.70,274.5 154.95,274.5 155.20,274.5 155.45,274.5 155.70,274.5 155.95,274.5 156.20,274.5 156.45,274.5 156.70,274.5 156.95,274.5 157.20,274.5 157.45,274.5 157.70,274.5 157.95,274.5 158.20,274.5 158.45,274.5 158.70,274.5 158.95,274.5 159.20,274.5 159.45,274.5 159.70,274.5 159.95,274.5 160.20,274.5 160.45,274.5 160.70,274.5 160.95,274.5 161.20,274.5 161.45,274.5 161.70,274.5 161.95,274.5 162.20,274.5 162.45,274.5 162.70,274.5 162.95,274.5 163.20,274.5 163.45,274.5 163.70,274.5 163.95,274.5 164.20,274.5 164.45,274.5 164.70,274.5 164.95,274.5 165.20,274.5 165.45,274.5 165.70,274.5 165.95,274.5 166.20,274.5 166.45,274.5 166.70,274.5 166.95,274.5 167.20,274.5 167.45,274.5 167.70,274.5 167.95,274.5 168.20,274.5 168.45,274.5 168.70,274.5 168.95,274.5 169.20,274.5 169.45,274.5 169.70,274.5 169.95,274.5 170.20,274.5 170.45,274.5 170.70,274.5 170.95,274.5 171.20,274.5 171.45,274.5 171.70,274.5 171.95,274.5 172.20,274.5 172.45,274.5 172.70,274.4 172.95,274.3 173.20,273.8 173.45,273.2 173.70,272.5 173.95,271.9 174.20,272.4 174.45,272.7 174.70,273.3 174.95,273.9 175.20,273.4 175.45,272.7 175.70,272.1 175.95,271.3 176.20,272.1 176.45,272.7 176.70,273.1 176.95,273.6 177.20,273.6 177.45,273.0 177.70,272.0 177.95,271.5 178.20,271.3 178.45,272.7 178.70,273.3 178.95,274.0 179.20,274.3 179.45,274.4 179.70,274.5 179.95,274.5 180.20,274.5 180.45,274.5 180.70,274.5 180.95,274.5 181.20,274.5 181.45,274.5 181.70,274.5 181.95,274.4 182.20,274.2 182.45,273.8 182.70,273.0 182.95,272.8 183.20,272.9 183.45,273.5 183.70,274.0 183.95,274.4 184.20,274.5 184.45,274.5 184.70,274.5 184.95,274.5 185.20,274.5 185.45,274.5 185.70,274.5 185.95,274.5 186.20,274.5 186.45,274.5 186.70,274.5 186.95,274.5 187.20,274.5 187.45,274.5 187.70,274.5 187.95,274.5 188.20,274.5 188.45,274.5 188.70,274.5 188.95,274.5 189.20,274.5 189.30,274.50Z" fill="#2fa52b" />
<line x1="115.20" y1="274.50" x2="189.30" y2="274.50" stroke="#2fa52b" stroke-width="0.7" />
<path d="M115.20,292.20L115.20,292.2 115.45,292.2 115.70,292.2 115.95,292.2 116.20,292.2 116.45,292.2 116.70,292.2 116.95,292.2 117.20,292.2 117.45,292.2 117.70,292.2 117.95,292.2 118.20,292.2 118.45,292.2 118.70,292.2 118.95,292.2 119.20,292.2 119.45,292.2 119.70,292.2 119.95,292.2 120.20,292.2 120.45,292.1 120.70,292.0 120.95,291.7 121.20,291.3 121.45,290.9 121.70,290.3 121.95,290.4 122.20,290.6 122.45,290.5 122.70,291.2 122.95,291.5 123.20,291.3 123.45,290.7 123.70,290.0 123.95,288.4 124.20,287.2 124.45,286.3 124.70,286.5 124.95,285.3 125.20,285.2 125.45,283.7 125.70,282.8 125.95,282.2 126.20,282.7 126.45,281.0 126.70,282.4 126.95,283.1 127.20,283.8 127.45,283.5 127.70,284.1 127.95,284.9 128.20,286.8 128.45,287.4 128.70,287.9 128.95,288.1 129.20,288.1 129.45,289.2 129.70,290.2 129.95,291.1 130.20,291.7 130.45,292.0 130.70,292.1 130.95,292.2 131.20,292.2 131.45,292.2 131.70,292.2 131.95,292.2 132.20,292.2 132.45,292.2 132.70,292.2 132.95,292.2 133.20,292.2 133.45,292.2 133.70,292.2 133.95,292.2 134.20,292.2 134.45,292.2 134.70,292.2 134.95,292.2 135.20,292.2 135.45,292.2 135.70,292.2 135.95,292.2 136.20,292.2 136.45,292.2 136.70,292.2 136.95,292.2 137.20,292.2 137.45,292.2 137.70,292.2 137.95,292.2 138.20,292.2 138.45,292.2 138.70,292.2 138.95,292.2 139.20,292.2 139.45,292.2 139.70,292.2 139.95,292.2 140.20,292.2 140.45,292.2 140.70,292.2 140.95,292.2 141.20,292.2 141.45,292.2 141.70,292.2 141.95,292.2 142.20,292.2 142.45,292.2 142.70,292.2 142.95,292.2 143.20,292.2 143.45,292.2 143.70,292.2 143.95,292.2 144.20,292.2 144.45,292.2 144.70,292.2 144.95,292.2 145.20,292.2 145.45,292.2 145.70,292.2 145.95,292.2 146.20,292.2 146.45,292.2 146.70,292.2 146.95,292.2 147.20,292.2 147.45,292.2 147.70,292.2 147.95,292.2 148.20,292.2 148.45,292.2 148.70,292.2 148.95,292.2 149.20,292.2 149.45,292.2 149.70,292.2 149.95,292.1 150.20,291.4 150.45,288.7 150.70,283.7 150.95,280.6 151.20,281.6 151.45,287.3 151.70,289.5 151.95,289.7 152.20,290.3 152.45,290.9 152.70,291.5 152.95,291.9 153.20,292.1 153.45,292.2 153.70,292.2 153.95,292.2 154.20,292.2 154.45,292.2 154.70,292.2 154.95,292.2 155.20,292.2 155.45,292.2 155.70,292.2 155.95,292.2 156.20,292.2 156.45,292.2 156.70,292.2 156.95,292.2 157.20,292.2 157.45,292.2 157.70,292.2 157.95,292.2 158.20,292.2 158.45,292.2 158.70,292.2 158.95,292.2 159.20,292.2 159.45,292.2 159.70,292.2 159.95,292.2 160.20,292.2 160.45,292.2 160.70,292.2 160.95,292.2 161.20,292.2 161.45,292.2 161.70,292.2 161.95,292.2 162.20,292.2 162.45,292.2 162.70,292.2 162.95,292.2 163.20,292.2 163.45,292.2 163.70,292.2 163.95,292.2 164.20,292.2 164.45,292.2 164.70,292.2 164.95,292.2 165.20,292.2 165.45,292.2 165.70,292.2 165.95,292.2 166.20,292.2 166.45,292.2 166.70,292.2 166.95,292.2 167.20,292.2 167.45,292.2 167.70,292.2 167.95,292.2 168.20,292.2 168.45,292.2 168.70,292.2 168.95,292.2 169.20,292.2 169.45,292.2 169.70,292.2 169.95,292.2 170.20,292.2 170.45,292.2 170.70,292.2 170.95,292.2 171.20,292.2 171.45,292.2 171.70,292.2 171.95,292.2 172.20,292.2 172.45,292.1 172.70,291.5 172.95,289.6 173.20,284.5 173.45,280.8 173.70,282.7 173.95,287.8 174.20,290.9 174.45,291.9 174.70,291.7 174.95,290.2 175.20,288.1 175.45,286.2 175.70,287.4 175.95,289.5 176.20,291.4 176.45,292.0 176.70,291.7 176.95,289.9 177.20,287.7 177.45,285.8 177.70,286.6 177.95,288.8 178.20,291.3 178.45,292.0 178.70,292.1 178.95,292.0 179.20,291.6 179.45,291.2 179.70,290.6 179.95,290.0 180.20,290.5 180.45,290.8 180.70,291.4 180.95,291.8 181.20,292.1 181.45,292.1 181.70,291.8 181.95,290.5 182.20,288.0 182.45,286.7 182.70,286.6 182.95,289.5 183.20,291.4 183.45,292.0 183.70,292.2 183.95,292.2 184.20,292.2 184.45,292.2 184.70,292.2 184.95,292.2 185.20,292.2 185.45,292.2 185.70,292.2 185.95,292.2 186.20,292.2 186.45,292.2 186.70,292.2 186.95,292.2 187.20,292.2 187.45,292.2 187.70,292.2 187.95,292.2 188.20,292.2 188.45,292.2 188.70,292.2 188.95,292.2 189.20,292.2 189.30,292.20Z" fill="#de0f78" />
<line x1="115.20" y1="292.20" x2="189.30" y2="292.20" stroke="#de0f78" stroke-width="0.7" />
<rect x="119.50" y="221.50" width="13.70" height="70.70" fill="none" stroke="#8a8a8a" stroke-width="0.75"/>
<rect x="146.50" y="221.50" width="13.20" height="70.70" fill="none" stroke="#8a8a8a" stroke-width="0.75"/>
<rect x="183.60" y="296.30" width="2.80" height="1.80" fill="#111"/>
<line x1="186.00" y1="297.20" x2="188.70" y2="297.20" stroke="#111" stroke-width="0.6" />
<text x="152.20" y="307.20" font-size="6.6" fill="#231f20" textLength="37.50" lengthAdjust="spacingAndGlyphs">Icam1 (Cd54)</text>
<text x="232.70" y="195.00" font-size="6.8" fill="#231f20" textLength="68.10" lengthAdjust="spacingAndGlyphs">Chromatin Openness in</text>
<text x="238.20" y="201.60" font-size="6.8" fill="#231f20" textLength="59.00" lengthAdjust="spacingAndGlyphs">Myeloid Progenitors</text>
<line x1="219.00" y1="205.40" x2="315.40" y2="205.40" stroke="#777" stroke-width="0.8" />
<text x="221.00" y="212.30" font-size="6.5" fill="#104c8a" textLength="19.20" lengthAdjust="spacingAndGlyphs">Class1</text>
<line x1="219.30" y1="226.40" x2="219.30" y2="308.80" stroke="#777" stroke-width="0.8" />
<line x1="219.30" y1="226.40" x2="241.60" y2="226.40" stroke="#555" stroke-width="0.8" />
<line x1="221.30" y1="223.80" x2="221.30" y2="226.40" stroke="#555" stroke-width="0.7" />
<line x1="239.80" y1="223.80" x2="239.80" y2="226.40" stroke="#555" stroke-width="0.7" />
<text x="0" y="0" font-size="5.8" fill="#231f20" text-anchor="middle" transform="translate(219.60 219.0) rotate(90)">0</text>
<text x="0" y="0" font-size="5.8" fill="#231f20" text-anchor="middle" transform="translate(238.10 219.0) rotate(90)">1</text>
<text x="246.70" y="212.30" font-size="6.5" fill="#f6b800" textLength="18.00" lengthAdjust="spacingAndGlyphs">Class2</text>
<line x1="243.60" y1="226.40" x2="243.60" y2="308.80" stroke="#777" stroke-width="0.8" />
<line x1="243.60" y1="226.40" x2="265.90" y2="226.40" stroke="#555" stroke-width="0.8" />
<line x1="245.60" y1="223.80" x2="245.60" y2="226.40" stroke="#555" stroke-width="0.7" />
<line x1="264.10" y1="223.80" x2="264.10" y2="226.40" stroke="#555" stroke-width="0.7" />
<text x="0" y="0" font-size="5.8" fill="#231f20" text-anchor="middle" transform="translate(243.90 219.0) rotate(90)">0</text>
<text x="0" y="0" font-size="5.8" fill="#231f20" text-anchor="middle" transform="translate(262.40 219.0) rotate(90)">1</text>
<text x="270.70" y="212.30" font-size="6.5" fill="#2fa52b" textLength="19.30" lengthAdjust="spacingAndGlyphs">Class3</text>
<line x1="268.30" y1="226.40" x2="268.30" y2="308.80" stroke="#777" stroke-width="0.8" />
<line x1="268.30" y1="226.40" x2="290.60" y2="226.40" stroke="#555" stroke-width="0.8" />
<line x1="270.30" y1="223.80" x2="270.30" y2="226.40" stroke="#555" stroke-width="0.7" />
<line x1="288.80" y1="223.80" x2="288.80" y2="226.40" stroke="#555" stroke-width="0.7" />
<text x="0" y="0" font-size="5.8" fill="#231f20" text-anchor="middle" transform="translate(268.60 219.0) rotate(90)">0</text>
<text x="0" y="0" font-size="5.8" fill="#231f20" text-anchor="middle" transform="translate(287.10 219.0) rotate(90)">1</text>
<text x="296.00" y="212.30" font-size="6.5" fill="#de0f78" textLength="19.20" lengthAdjust="spacingAndGlyphs">Class4</text>
<line x1="293.60" y1="226.40" x2="293.60" y2="308.80" stroke="#777" stroke-width="0.8" />
<line x1="293.60" y1="226.40" x2="315.90" y2="226.40" stroke="#555" stroke-width="0.8" />
<line x1="295.60" y1="223.80" x2="295.60" y2="226.40" stroke="#555" stroke-width="0.7" />
<line x1="314.10" y1="223.80" x2="314.10" y2="226.40" stroke="#555" stroke-width="0.7" />
<text x="0" y="0" font-size="5.8" fill="#231f20" text-anchor="middle" transform="translate(293.90 219.0) rotate(90)">0</text>
<text x="0" y="0" font-size="5.8" fill="#231f20" text-anchor="middle" transform="translate(312.40 219.0) rotate(90)">1</text>
<path d="M236.90,226.60 L237.22,227.80 L237.90,229.00 L238.10,231.00 L238.04,232.25 L238.16,233.50 L238.09,234.75 L238.07,236.00 L237.88,237.25 L238.03,238.50 L237.85,239.75 L237.80,241.00 L237.54,242.27 L237.69,243.55 L237.44,244.82 L237.83,246.09 L237.80,247.36 L237.44,248.64 L237.39,249.91 L237.73,251.18 L237.07,252.45 L236.99,253.73 L237.30,255.00 L236.79,256.29 L236.79,257.57 L236.92,258.86 L237.12,260.14 L236.12,261.43 L236.77,262.71 L236.10,264.00 L235.43,265.50 L235.07,267.00 L233.90,268.50 L233.45,270.25 L232.30,272.00 L231.48,273.50 L231.40,275.00 L230.53,276.33 L228.92,277.67 L228.30,279.00 L229.10,281.20 L224.90,283.50 L225.90,284.75 L226.90,286.00 L223.50,287.10 L226.90,288.60 L220.40,290.00 L227.50,292.00 L221.50,293.60 L226.90,295.00 L220.40,297.00 L221.50,298.70 L220.10,299.50 L225.80,300.70 L225.85,301.90 L225.90,303.10 L225.95,304.30 L226.00,305.50 L219.80,305.80 L223.80,307.00" fill="none" stroke="#104c8a" stroke-width="1.45" stroke-linejoin="round"/>
<path d="M261.10,226.60 L261.89,227.80 L262.60,229.00 L262.90,231.00 L262.75,232.25 L263.13,233.50 L263.11,234.75 L262.88,236.00 L262.98,237.25 L262.76,238.50 L262.76,239.75 L262.90,241.00 L262.75,242.24 L262.92,243.48 L262.64,244.72 L262.98,245.96 L262.49,247.20 L262.51,248.44 L262.41,249.68 L262.88,250.92 L262.39,252.16 L262.50,253.40 L262.12,254.70 L261.61,256.00 L261.60,257.30 L261.10,258.60 L260.34,259.90 L259.48,261.20 L259.07,262.50 L258.50,263.80 L257.68,265.27 L256.87,266.73 L256.70,268.20 L256.28,269.55 L255.35,270.90 L254.56,272.25 L253.60,273.60 L252.99,274.90 L251.42,276.20 L250.50,277.50 L249.60,278.77 L248.88,280.03 L248.20,281.30 L248.36,282.60 L248.92,283.90 L249.00,285.20 L247.05,286.95 L245.10,288.70 L247.05,290.05 L249.00,291.40 L245.10,293.50 L246.85,294.75 L248.60,296.00 L245.10,298.40 L248.60,300.70 L248.40,302.10 L248.20,303.50 L246.85,304.80 L245.50,306.10" fill="none" stroke="#f6b800" stroke-width="1.45" stroke-linejoin="round"/>
<path d="M286.20,226.60 L286.57,227.80 L287.30,229.00 L287.60,231.00 L287.66,232.25 L287.43,233.50 L287.71,234.75 L287.65,236.00 L287.54,237.25 L287.66,238.50 L287.63,239.75 L287.60,241.00 L287.35,242.24 L287.58,243.48 L287.60,244.72 L287.53,245.96 L287.69,247.20 L287.60,248.44 L287.40,249.68 L287.14,250.92 L287.01,252.16 L287.40,253.40 L287.57,254.70 L287.26,256.00 L287.00,257.30 L286.70,258.60 L286.39,259.90 L286.20,261.20 L285.64,262.50 L285.70,263.80 L285.08,265.60 L284.40,267.40 L283.04,268.70 L282.60,270.00 L281.50,271.30 L281.31,272.60 L281.02,273.90 L280.50,275.20 L280.10,276.40 L279.80,277.60 L279.94,278.80 L280.00,280.00 L275.70,282.00 L278.10,283.90 L275.70,285.80 L278.60,287.30 L269.90,289.20 L276.60,290.70 L272.30,292.50 L278.10,294.50 L271.30,296.50 L270.80,298.40 L277.10,300.30 L276.85,301.55 L276.60,302.80 L272.30,303.80 L276.60,305.20 L269.90,306.10 L275.70,306.60" fill="none" stroke="#2fa52b" stroke-width="1.45" stroke-linejoin="round"/>
<path d="M311.30,226.60 L311.89,227.80 L312.00,229.00 L312.20,231.00 L312.12,232.25 L312.18,233.50 L312.13,234.75 L311.81,236.00 L311.68,237.25 L311.88,238.50 L311.57,239.75 L311.70,241.00 L311.57,242.24 L311.75,243.48 L311.68,244.72 L311.23,245.96 L311.14,247.20 L311.14,248.44 L311.37,249.68 L310.62,250.92 L310.77,252.16 L311.00,253.40 L310.43,254.70 L310.32,256.00 L310.61,257.30 L310.10,258.60 L310.21,259.90 L310.43,261.20 L310.28,262.50 L309.90,263.80 L309.48,265.20 L309.56,266.60 L309.00,268.00 L308.60,269.40 L308.38,270.74 L307.16,272.08 L306.72,273.42 L306.37,274.76 L305.70,276.10 L305.42,277.60 L304.30,279.10 L303.40,280.60 L302.64,282.13 L301.66,283.67 L301.20,285.20 L302.30,286.85 L303.40,288.50 L296.60,290.80 L303.40,293.10 L297.80,295.30 L297.20,297.00 L296.60,298.70 L302.90,301.00 L303.07,302.30 L303.23,303.60 L303.40,304.90 L296.10,306.10" fill="none" stroke="#de0f78" stroke-width="1.45" stroke-linejoin="round"/>
<text x="0" y="0" font-size="6.4" fill="#231f20" text-anchor="middle" textLength="50.2" lengthAdjust="spacingAndGlyphs" transform="translate(206.6 241.3) rotate(-90)">Highly expressed</text>
<text x="0" y="0" font-size="6.4" fill="#231f20" text-anchor="middle" textLength="40.5" lengthAdjust="spacingAndGlyphs" transform="translate(215.4 241.3) rotate(-90)">in monocytes</text>
<text x="0" y="0" font-size="6.4" fill="#231f20" text-anchor="middle" textLength="42.6" lengthAdjust="spacingAndGlyphs" transform="translate(206.6 295.2) rotate(-90)">Low expressed</text>
<text x="0" y="0" font-size="6.4" fill="#231f20" text-anchor="middle" textLength="38.5" lengthAdjust="spacingAndGlyphs" transform="translate(215.4 295.2) rotate(-90)">in monocytes</text>
<text x="418.60" y="210.30" font-size="6.6" fill="#231f20" text-anchor="middle" textLength="47.20" lengthAdjust="spacingAndGlyphs">Class1 vs Class2</text>
<line x1="371.00" y1="212.50" x2="466.00" y2="212.50" stroke="#888" stroke-width="1.0" />
<text x="371.50" y="221.00" font-size="6.6" fill="#231f20" textLength="33.10" lengthAdjust="spacingAndGlyphs">Progenitors</text>
<text x="435.00" y="221.00" font-size="6.6" fill="#231f20" textLength="31.70" lengthAdjust="spacingAndGlyphs">Monocytes</text>
<defs>
<radialGradient id="cl" cx="0.5" cy="0.5" r="0.5"><stop offset="0" stop-color="#2e0a4e"/><stop offset="0.6" stop-color="#3a0c58"/><stop offset="0.85" stop-color="#52187a" stop-opacity="0.9"/><stop offset="1" stop-color="#8a5aa8" stop-opacity="0.2"/></radialGradient>
<radialGradient id="tl" cx="0.5" cy="0.5" r="0.5"><stop offset="0" stop-color="#45b8aa"/><stop offset="0.5" stop-color="#3596a0"/><stop offset="1" stop-color="#3a4a8a" stop-opacity="0.2"/></radialGradient>
<linearGradient id="vir" x1="0" y1="1" x2="0" y2="0"><stop offset="0" stop-color="#3b0f55"/><stop offset="0.3" stop-color="#31688e"/><stop offset="0.6" stop-color="#25a18e"/><stop offset="1" stop-color="#f0e020"/></linearGradient>
<linearGradient id="pv" x1="0" y1="0" x2="0" y2="1"><stop offset="0" stop-color="#46258a"/><stop offset="0.45" stop-color="#b01e8c"/><stop offset="1" stop-color="#ea0f3c"/></linearGradient>
</defs>
<rect x="393.2" y="258.7" width=".9" height=".9" fill="#d8d0de"/>
<rect x="400.6" y="267.5" width=".9" height=".9" fill="#d8d0de"/>
<rect x="398.2" y="266.6" width=".9" height=".9" fill="#d8d0de"/>
<rect x="367.9" y="246.7" width=".9" height=".9" fill="#d8d0de"/>
<rect x="406.9" y="254.7" width=".9" height=".9" fill="#d8d0de"/>
<rect x="405.1" y="231.3" width=".9" height=".9" fill="#d8d0de"/>
<rect x="386.7" y="237.2" width=".9" height=".9" fill="#d8d0de"/>
<rect x="389.9" y="251.4" width=".9" height=".9" fill="#d8d0de"/>
<rect x="367.3" y="235.8" width=".9" height=".9" fill="#d8d0de"/>
<rect x="378.6" y="266.4" width=".9" height=".9" fill="#d8d0de"/>
<rect x="399.3" y="233.4" width=".9" height=".9" fill="#d8d0de"/>
<rect x="400.7" y="232.5" width=".9" height=".9" fill="#d8d0de"/>
<rect x="393.0" y="231.9" width=".9" height=".9" fill="#d8d0de"/>
<rect x="366.8" y="264.4" width=".9" height=".9" fill="#d8d0de"/>
<rect x="375.6" y="235.8" width=".9" height=".9" fill="#d8d0de"/>
<rect x="408.6" y="264.4" width=".9" height=".9" fill="#d8d0de"/>
<rect x="379.0" y="268.3" width=".9" height=".9" fill="#d8d0de"/>
<rect x="389.7" y="256.0" width=".9" height=".9" fill="#d8d0de"/>
<rect x="375.4" y="267.4" width=".9" height=".9" fill="#d8d0de"/>
<rect x="396.1" y="268.5" width=".9" height=".9" fill="#d8d0de"/>
<rect x="404.8" y="239.4" width=".9" height=".9" fill="#d8d0de"/>
<rect x="382.1" y="233.6" width=".9" height=".9" fill="#d8d0de"/>
<rect x="372.9" y="229.2" width=".9" height=".9" fill="#d8d0de"/>
<rect x="379.5" y="252.7" width=".9" height=".9" fill="#d8d0de"/>
<rect x="366.8" y="256.0" width=".9" height=".9" fill="#d8d0de"/>
<rect x="381.1" y="239.9" width=".9" height=".9" fill="#d8d0de"/>
<rect x="401.6" y="247.4" width=".9" height=".9" fill="#d8d0de"/>
<rect x="380.2" y="247.4" width=".9" height=".9" fill="#d8d0de"/>
<rect x="396.7" y="228.9" width=".9" height=".9" fill="#d8d0de"/>
<rect x="408.2" y="227.4" width=".9" height=".9" fill="#d8d0de"/>
<rect x="398.6" y="263.2" width=".9" height=".9" fill="#d8d0de"/>
<rect x="367.5" y="260.7" width=".9" height=".9" fill="#d8d0de"/>
<rect x="382.3" y="251.6" width=".9" height=".9" fill="#d8d0de"/>
<rect x="367.1" y="228.4" width=".9" height=".9" fill="#d8d0de"/>
<rect x="374.4" y="268.0" width=".9" height=".9" fill="#d8d0de"/>
<rect x="375.1" y="259.4" width=".9" height=".9" fill="#d8d0de"/>
<rect x="406.3" y="267.5" width=".9" height=".9" fill="#d8d0de"/>
<rect x="381.4" y="241.9" width=".9" height=".9" fill="#d8d0de"/>
<rect x="389.1" y="260.2" width=".9" height=".9" fill="#d8d0de"/>
<rect x="371.3" y="259.0" width=".9" height=".9" fill="#d8d0de"/>
<rect x="400.7" y="263.9" width=".9" height=".9" fill="#d8d0de"/>
<rect x="368.3" y="267.6" width=".9" height=".9" fill="#d8d0de"/>
<rect x="370.6" y="241.3" width=".9" height=".9" fill="#d8d0de"/>
<rect x="392.7" y="266.4" width=".9" height=".9" fill="#d8d0de"/>
<rect x="381.2" y="266.7" width=".9" height=".9" fill="#d8d0de"/>
<rect x="389.9" y="240.0" width=".9" height=".9" fill="#d8d0de"/>
<rect x="380.2" y="234.1" width=".9" height=".9" fill="#d8d0de"/>
<rect x="370.0" y="232.9" width=".9" height=".9" fill="#d8d0de"/>
<rect x="396.1" y="269.9" width=".9" height=".9" fill="#d8d0de"/>
<rect x="373.6" y="228.5" width=".9" height=".9" fill="#d8d0de"/>
<rect x="408.7" y="249.7" width=".9" height=".9" fill="#d8d0de"/>
<rect x="384.0" y="236.7" width=".9" height=".9" fill="#d8d0de"/>
<rect x="392.0" y="262.4" width=".9" height=".9" fill="#d8d0de"/>
<rect x="386.1" y="244.8" width=".9" height=".9" fill="#d8d0de"/>
<rect x="369.1" y="266.3" width=".9" height=".9" fill="#d8d0de"/>
<rect x="368.1" y="247.9" width=".9" height=".9" fill="#d8d0de"/>
<rect x="402.4" y="232.1" width=".9" height=".9" fill="#d8d0de"/>
<rect x="397.9" y="267.8" width=".9" height=".9" fill="#d8d0de"/>
<rect x="393.6" y="260.8" width=".9" height=".9" fill="#d8d0de"/>
<rect x="371.2" y="245.3" width=".9" height=".9" fill="#d8d0de"/>
<rect x="395.2" y="256.9" width=".9" height=".9" fill="#8a50a8" opacity=".85"/>
<rect x="396.9" y="257.9" width=".9" height=".9" fill="#d0a8e0" opacity=".85"/>
<rect x="398.1" y="236.3" width=".9" height=".9" fill="#c8a0d8" opacity=".85"/>
<rect x="397.2" y="246.2" width=".9" height=".9" fill="#8a50a8" opacity=".85"/>
<rect x="383.4" y="248.9" width=".9" height=".9" fill="#c8a0d8" opacity=".85"/>
<rect x="390.7" y="246.7" width=".9" height=".9" fill="#d0a8e0" opacity=".85"/>
<rect x="396.5" y="246.4" width=".9" height=".9" fill="#c8a0d8" opacity=".85"/>
<rect x="390.9" y="245.7" width=".9" height=".9" fill="#c8a0d8" opacity=".85"/>
<rect x="386.8" y="257.8" width=".9" height=".9" fill="#d0a8e0" opacity=".85"/>
<rect x="381.5" y="255.7" width=".9" height=".9" fill="#8a50a8" opacity=".85"/>
<rect x="385.3" y="240.7" width=".9" height=".9" fill="#8a50a8" opacity=".85"/>
<rect x="382.2" y="254.8" width=".9" height=".9" fill="#8a50a8" opacity=".85"/>
<rect x="390.7" y="244.6" width=".9" height=".9" fill="#dcc0e6" opacity=".85"/>
<rect x="385.1" y="234.8" width=".9" height=".9" fill="#8a50a8" opacity=".85"/>
<rect x="383.6" y="242.4" width=".9" height=".9" fill="#a070c0" opacity=".85"/>
<rect x="378.1" y="249.8" width=".9" height=".9" fill="#8a50a8" opacity=".85"/>
<rect x="385.1" y="242.9" width=".9" height=".9" fill="#d0a8e0" opacity=".85"/>
<rect x="381.9" y="240.4" width=".9" height=".9" fill="#8a50a8" opacity=".85"/>
<rect x="387.5" y="253.3" width=".9" height=".9" fill="#c8a0d8" opacity=".85"/>
<rect x="381.5" y="256.9" width=".9" height=".9" fill="#dcc0e6" opacity=".85"/>
<rect x="382.9" y="249.9" width=".9" height=".9" fill="#8a50a8" opacity=".85"/>
<rect x="381.0" y="247.5" width=".9" height=".9" fill="#b888cc" opacity=".85"/>
<rect x="390.1" y="253.2" width=".9" height=".9" fill="#c8a0d8" opacity=".85"/>
<rect x="387.8" y="250.5" width=".9" height=".9" fill="#dcc0e6" opacity=".85"/>
<rect x="387.8" y="244.9" width=".9" height=".9" fill="#d0a8e0" opacity=".85"/>
<rect x="374.3" y="247.0" width=".9" height=".9" fill="#8a50a8" opacity=".85"/>
<rect x="380.9" y="241.6" width=".9" height=".9" fill="#dcc0e6" opacity=".85"/>
<rect x="385.7" y="266.4" width=".9" height=".9" fill="#b888cc" opacity=".85"/>
<rect x="391.8" y="253.3" width=".9" height=".9" fill="#dcc0e6" opacity=".85"/>
<rect x="392.6" y="256.7" width=".9" height=".9" fill="#b888cc" opacity=".85"/>
<rect x="387.1" y="247.1" width=".9" height=".9" fill="#c8a0d8" opacity=".85"/>
<rect x="391.9" y="247.9" width=".9" height=".9" fill="#b888cc" opacity=".85"/>
<rect x="400.4" y="257.6" width=".9" height=".9" fill="#c8a0d8" opacity=".85"/>
<rect x="388.9" y="249.7" width=".9" height=".9" fill="#c8a0d8" opacity=".85"/>
<rect x="383.1" y="254.8" width=".9" height=".9" fill="#a070c0" opacity=".85"/>
<rect x="384.6" y="246.1" width=".9" height=".9" fill="#8a50a8" opacity=".85"/>
<rect x="394.4" y="248.3" width=".9" height=".9" fill="#8a50a8" opacity=".85"/>
<rect x="395.7" y="239.6" width=".9" height=".9" fill="#dcc0e6" opacity=".85"/>
<rect x="391.1" y="243.7" width=".9" height=".9" fill="#a070c0" opacity=".85"/>
<rect x="383.5" y="246.9" width=".9" height=".9" fill="#8a50a8" opacity=".85"/>
<rect x="383.1" y="246.9" width=".9" height=".9" fill="#d0a8e0" opacity=".85"/>
<rect x="386.8" y="253.2" width=".9" height=".9" fill="#b888cc" opacity=".85"/>
<rect x="378.7" y="253.2" width=".9" height=".9" fill="#dcc0e6" opacity=".85"/>
<rect x="381.8" y="246.8" width=".9" height=".9" fill="#b888cc" opacity=".85"/>
<rect x="381.9" y="244.3" width=".9" height=".9" fill="#b888cc" opacity=".85"/>
<rect x="396.4" y="246.8" width=".9" height=".9" fill="#8a50a8" opacity=".85"/>
<rect x="392.1" y="241.0" width=".9" height=".9" fill="#c8a0d8" opacity=".85"/>
<rect x="394.3" y="252.8" width=".9" height=".9" fill="#d0a8e0" opacity=".85"/>
<rect x="383.1" y="247.1" width=".9" height=".9" fill="#d0a8e0" opacity=".85"/>
<rect x="383.8" y="252.4" width=".9" height=".9" fill="#b888cc" opacity=".85"/>
<rect x="381.4" y="248.6" width=".9" height=".9" fill="#dcc0e6" opacity=".85"/>
<rect x="377.2" y="257.9" width=".9" height=".9" fill="#b888cc" opacity=".85"/>
<rect x="384.5" y="245.9" width=".9" height=".9" fill="#8a50a8" opacity=".85"/>
<rect x="382.1" y="248.4" width=".9" height=".9" fill="#8a50a8" opacity=".85"/>
<rect x="393.1" y="246.7" width=".9" height=".9" fill="#8a50a8" opacity=".85"/>
<rect x="389.1" y="249.2" width=".9" height=".9" fill="#dcc0e6" opacity=".85"/>
<rect x="383.6" y="244.2" width=".9" height=".9" fill="#8a50a8" opacity=".85"/>
<rect x="391.4" y="249.0" width=".9" height=".9" fill="#c8a0d8" opacity=".85"/>
<rect x="395.7" y="248.9" width=".9" height=".9" fill="#8a50a8" opacity=".85"/>
<rect x="388.6" y="254.5" width=".9" height=".9" fill="#a070c0" opacity=".85"/>
<rect x="388.4" y="252.6" width=".9" height=".9" fill="#b888cc" opacity=".85"/>
<rect x="387.4" y="243.9" width=".9" height=".9" fill="#c8a0d8" opacity=".85"/>
<rect x="383.0" y="244.4" width=".9" height=".9" fill="#dcc0e6" opacity=".85"/>
<rect x="396.4" y="239.7" width=".9" height=".9" fill="#a070c0" opacity=".85"/>
<rect x="391.4" y="248.6" width=".9" height=".9" fill="#8a50a8" opacity=".85"/>
<rect x="383.0" y="247.3" width=".9" height=".9" fill="#8a50a8" opacity=".85"/>
<rect x="388.1" y="247.0" width=".9" height=".9" fill="#8a50a8" opacity=".85"/>
<rect x="381.9" y="255.3" width=".9" height=".9" fill="#d0a8e0" opacity=".85"/>
<rect x="388.6" y="248.6" width=".9" height=".9" fill="#d0a8e0" opacity=".85"/>
<rect x="375.4" y="251.7" width=".9" height=".9" fill="#dcc0e6" opacity=".85"/>
<rect x="387.3" y="248.0" width=".9" height=".9" fill="#c8a0d8" opacity=".85"/>
<rect x="380.7" y="243.6" width=".9" height=".9" fill="#dcc0e6" opacity=".85"/>
<rect x="381.3" y="239.5" width=".9" height=".9" fill="#c8a0d8" opacity=".85"/>
<rect x="379.3" y="249.6" width=".9" height=".9" fill="#dcc0e6" opacity=".85"/>
<rect x="390.0" y="252.7" width=".9" height=".9" fill="#a070c0" opacity=".85"/>
<rect x="388.1" y="248.7" width=".9" height=".9" fill="#c8a0d8" opacity=".85"/>
<rect x="380.8" y="244.4" width=".9" height=".9" fill="#c8a0d8" opacity=".85"/>
<rect x="391.1" y="246.7" width=".9" height=".9" fill="#c8a0d8" opacity=".85"/>
<rect x="384.1" y="237.5" width=".9" height=".9" fill="#8a50a8" opacity=".85"/>
<rect x="382.2" y="246.9" width=".9" height=".9" fill="#d0a8e0" opacity=".85"/>
<rect x="389.2" y="246.4" width=".9" height=".9" fill="#b888cc" opacity=".85"/>
<rect x="388.0" y="250.6" width=".9" height=".9" fill="#a070c0" opacity=".85"/>
<rect x="387.6" y="247.2" width=".9" height=".9" fill="#dcc0e6" opacity=".85"/>
<rect x="386.3" y="249.2" width=".9" height=".9" fill="#c8a0d8" opacity=".85"/>
<rect x="387.7" y="246.6" width=".9" height=".9" fill="#a070c0" opacity=".85"/>
<rect x="390.0" y="256.1" width=".9" height=".9" fill="#a070c0" opacity=".85"/>
<rect x="387.5" y="245.4" width=".9" height=".9" fill="#8a50a8" opacity=".85"/>
<rect x="386.5" y="242.6" width=".9" height=".9" fill="#b888cc" opacity=".85"/>
<rect x="383.5" y="244.7" width=".9" height=".9" fill="#b888cc" opacity=".85"/>
<rect x="392.1" y="249.9" width=".9" height=".9" fill="#d0a8e0" opacity=".85"/>
<rect x="392.9" y="251.7" width=".9" height=".9" fill="#a070c0" opacity=".85"/>
<rect x="386.8" y="255.3" width=".9" height=".9" fill="#a070c0" opacity=".85"/>
<rect x="387.7" y="237.0" width=".9" height=".9" fill="#b888cc" opacity=".85"/>
<rect x="390.9" y="248.5" width=".9" height=".9" fill="#dcc0e6" opacity=".85"/>
<rect x="382.7" y="244.5" width=".9" height=".9" fill="#dcc0e6" opacity=".85"/>
<rect x="386.9" y="249.6" width=".9" height=".9" fill="#dcc0e6" opacity=".85"/>
<rect x="386.1" y="255.2" width=".9" height=".9" fill="#dcc0e6" opacity=".85"/>
<rect x="375.1" y="247.9" width=".9" height=".9" fill="#d0a8e0" opacity=".85"/>
<rect x="384.3" y="247.1" width=".9" height=".9" fill="#a070c0" opacity=".85"/>
<rect x="383.9" y="247.0" width=".9" height=".9" fill="#8a50a8" opacity=".85"/>
<rect x="385.1" y="248.0" width=".9" height=".9" fill="#b888cc" opacity=".85"/>
<rect x="392.6" y="243.7" width=".9" height=".9" fill="#c8a0d8" opacity=".85"/>
<rect x="392.4" y="256.2" width=".9" height=".9" fill="#dcc0e6" opacity=".85"/>
<rect x="384.0" y="254.3" width=".9" height=".9" fill="#a070c0" opacity=".85"/>
<rect x="390.9" y="249.8" width=".9" height=".9" fill="#d0a8e0" opacity=".85"/>
<rect x="382.6" y="249.9" width=".9" height=".9" fill="#c8a0d8" opacity=".85"/>
<rect x="383.0" y="248.9" width=".9" height=".9" fill="#d0a8e0" opacity=".85"/>
<rect x="397.8" y="249.9" width=".9" height=".9" fill="#a070c0" opacity=".85"/>
<rect x="396.7" y="237.5" width=".9" height=".9" fill="#c8a0d8" opacity=".85"/>
<rect x="386.5" y="244.8" width=".9" height=".9" fill="#a070c0" opacity=".85"/>
<rect x="399.7" y="254.4" width=".9" height=".9" fill="#c8a0d8" opacity=".85"/>
<rect x="389.7" y="245.6" width=".9" height=".9" fill="#d0a8e0" opacity=".85"/>
<rect x="380.2" y="255.7" width=".9" height=".9" fill="#8a50a8" opacity=".85"/>
<rect x="384.2" y="254.9" width=".9" height=".9" fill="#8a50a8" opacity=".85"/>
<rect x="390.0" y="243.2" width=".9" height=".9" fill="#dcc0e6" opacity=".85"/>
<rect x="392.5" y="241.4" width=".9" height=".9" fill="#dcc0e6" opacity=".85"/>
<rect x="377.6" y="252.7" width=".9" height=".9" fill="#d0a8e0" opacity=".85"/>
<rect x="406.7" y="252.2" width=".9" height=".9" fill="#b888cc" opacity=".85"/>
<rect x="387.9" y="242.8" width=".9" height=".9" fill="#a070c0" opacity=".85"/>
<rect x="392.0" y="249.1" width=".9" height=".9" fill="#b888cc" opacity=".85"/>
<rect x="400.5" y="251.1" width=".9" height=".9" fill="#c8a0d8" opacity=".85"/>
<rect x="385.4" y="244.0" width=".9" height=".9" fill="#c8a0d8" opacity=".85"/>
<rect x="375.9" y="250.5" width=".9" height=".9" fill="#d0a8e0" opacity=".85"/>
<rect x="393.0" y="246.0" width=".9" height=".9" fill="#c8a0d8" opacity=".85"/>
<rect x="391.1" y="250.2" width=".9" height=".9" fill="#b888cc" opacity=".85"/>
<rect x="399.2" y="253.1" width=".9" height=".9" fill="#c8a0d8" opacity=".85"/>
<rect x="391.0" y="251.7" width=".9" height=".9" fill="#8a50a8" opacity=".85"/>
<rect x="392.5" y="240.0" width=".9" height=".9" fill="#dcc0e6" opacity=".85"/>
<rect x="388.9" y="254.6" width=".9" height=".9" fill="#a070c0" opacity=".85"/>
<rect x="382.7" y="255.9" width=".9" height=".9" fill="#8a50a8" opacity=".85"/>
<rect x="396.8" y="245.1" width=".9" height=".9" fill="#dcc0e6" opacity=".85"/>
<rect x="377.1" y="251.2" width=".9" height=".9" fill="#b888cc" opacity=".85"/>
<rect x="394.9" y="253.8" width=".9" height=".9" fill="#8a50a8" opacity=".85"/>
<rect x="384.0" y="249.5" width=".9" height=".9" fill="#b888cc" opacity=".85"/>
<rect x="397.6" y="250.1" width=".9" height=".9" fill="#d0a8e0" opacity=".85"/>
<rect x="388.6" y="250.5" width=".9" height=".9" fill="#c8a0d8" opacity=".85"/>
<rect x="396.3" y="243.8" width=".9" height=".9" fill="#dcc0e6" opacity=".85"/>
<rect x="385.7" y="254.0" width=".9" height=".9" fill="#8a50a8" opacity=".85"/>
<rect x="405.7" y="255.4" width=".9" height=".9" fill="#c8a0d8" opacity=".85"/>
<rect x="390.6" y="251.8" width=".9" height=".9" fill="#dcc0e6" opacity=".85"/>
<rect x="388.8" y="249.9" width=".9" height=".9" fill="#d0a8e0" opacity=".85"/>
<rect x="373.5" y="254.6" width=".9" height=".9" fill="#a070c0" opacity=".85"/>
<rect x="381.9" y="249.7" width=".9" height=".9" fill="#dcc0e6" opacity=".85"/>
<rect x="386.8" y="249.2" width=".9" height=".9" fill="#d0a8e0" opacity=".85"/>
<rect x="394.2" y="239.3" width=".9" height=".9" fill="#d0a8e0" opacity=".85"/>
<rect x="386.7" y="250.3" width=".9" height=".9" fill="#a070c0" opacity=".85"/>
<rect x="389.2" y="258.2" width=".9" height=".9" fill="#a070c0" opacity=".85"/>
<rect x="390.1" y="247.6" width=".9" height=".9" fill="#b888cc" opacity=".85"/>
<rect x="384.0" y="243.2" width=".9" height=".9" fill="#a070c0" opacity=".85"/>
<rect x="399.1" y="251.4" width=".9" height=".9" fill="#c8a0d8" opacity=".85"/>
<rect x="387.6" y="250.0" width=".9" height=".9" fill="#a070c0" opacity=".85"/>
<rect x="392.1" y="247.2" width=".9" height=".9" fill="#dcc0e6" opacity=".85"/>
<rect x="382.2" y="248.0" width=".9" height=".9" fill="#d0a8e0" opacity=".85"/>
<rect x="389.7" y="260.8" width=".9" height=".9" fill="#a070c0" opacity=".85"/>
<rect x="403.2" y="256.6" width=".9" height=".9" fill="#b888cc" opacity=".85"/>
<rect x="378.7" y="242.0" width=".9" height=".9" fill="#b888cc" opacity=".85"/>
<rect x="383.7" y="244.1" width=".9" height=".9" fill="#8a50a8" opacity=".85"/>
<rect x="380.5" y="248.9" width=".9" height=".9" fill="#c8a0d8" opacity=".85"/>
<rect x="385.1" y="247.9" width=".9" height=".9" fill="#a070c0" opacity=".85"/>
<rect x="392.7" y="245.8" width=".9" height=".9" fill="#c8a0d8" opacity=".85"/>
<rect x="407.0" y="234.4" width=".9" height=".9" fill="#d0a8e0" opacity=".85"/>
<rect x="392.2" y="251.5" width=".9" height=".9" fill="#a070c0" opacity=".85"/>
<rect x="389.2" y="244.1" width=".9" height=".9" fill="#c8a0d8" opacity=".85"/>
<rect x="387.1" y="251.0" width=".9" height=".9" fill="#a070c0" opacity=".85"/>
<rect x="379.2" y="249.8" width=".9" height=".9" fill="#c8a0d8" opacity=".85"/>
<rect x="397.0" y="246.7" width=".9" height=".9" fill="#8a50a8" opacity=".85"/>
<rect x="396.9" y="251.5" width=".9" height=".9" fill="#a070c0" opacity=".85"/>
<rect x="385.2" y="238.9" width=".9" height=".9" fill="#8a50a8" opacity=".85"/>
<rect x="390.0" y="246.9" width=".9" height=".9" fill="#8a50a8" opacity=".85"/>
<rect x="380.8" y="254.8" width=".9" height=".9" fill="#a070c0" opacity=".85"/>
<rect x="395.2" y="243.4" width=".9" height=".9" fill="#b888cc" opacity=".85"/>
<rect x="382.5" y="245.6" width=".9" height=".9" fill="#dcc0e6" opacity=".85"/>
<rect x="379.9" y="237.0" width=".9" height=".9" fill="#dcc0e6" opacity=".85"/>
<rect x="394.4" y="250.0" width=".9" height=".9" fill="#a070c0" opacity=".85"/>
<rect x="390.5" y="243.3" width=".9" height=".9" fill="#b888cc" opacity=".85"/>
<rect x="386.1" y="252.5" width=".9" height=".9" fill="#b888cc" opacity=".85"/>
<rect x="387.6" y="256.5" width=".9" height=".9" fill="#8a50a8" opacity=".85"/>
<rect x="395.6" y="249.8" width=".9" height=".9" fill="#dcc0e6" opacity=".85"/>
<rect x="387.0" y="247.8" width=".9" height=".9" fill="#a070c0" opacity=".85"/>
<rect x="399.3" y="246.3" width=".9" height=".9" fill="#c8a0d8" opacity=".85"/>
<rect x="397.6" y="237.9" width=".9" height=".9" fill="#d0a8e0" opacity=".85"/>
<rect x="395.6" y="249.0" width=".9" height=".9" fill="#b888cc" opacity=".85"/>
<rect x="384.8" y="252.0" width=".9" height=".9" fill="#a070c0" opacity=".85"/>
<rect x="392.6" y="254.8" width=".9" height=".9" fill="#b888cc" opacity=".85"/>
<rect x="387.9" y="245.9" width=".9" height=".9" fill="#d0a8e0" opacity=".85"/>
<rect x="381.6" y="243.5" width=".9" height=".9" fill="#b888cc" opacity=".85"/>
<rect x="374.9" y="252.6" width=".9" height=".9" fill="#c8a0d8" opacity=".85"/>
<rect x="392.2" y="251.5" width=".9" height=".9" fill="#b888cc" opacity=".85"/>
<rect x="382.1" y="249.7" width=".9" height=".9" fill="#c8a0d8" opacity=".85"/>
<rect x="396.8" y="250.7" width=".9" height=".9" fill="#b888cc" opacity=".85"/>
<rect x="372.8" y="245.3" width=".9" height=".9" fill="#d0a8e0" opacity=".85"/>
<rect x="391.4" y="248.3" width=".9" height=".9" fill="#c8a0d8" opacity=".85"/>
<rect x="386.7" y="244.9" width=".9" height=".9" fill="#a070c0" opacity=".85"/>
<rect x="396.0" y="249.8" width=".9" height=".9" fill="#c8a0d8" opacity=".85"/>
<rect x="386.7" y="243.4" width=".9" height=".9" fill="#c8a0d8" opacity=".85"/>
<rect x="389.3" y="252.6" width=".9" height=".9" fill="#b888cc" opacity=".85"/>
<rect x="385.9" y="254.6" width=".9" height=".9" fill="#b888cc" opacity=".85"/>
<rect x="381.0" y="255.7" width=".9" height=".9" fill="#dcc0e6" opacity=".85"/>
<rect x="394.6" y="239.3" width=".9" height=".9" fill="#d0a8e0" opacity=".85"/>
<rect x="382.7" y="248.5" width=".9" height=".9" fill="#b888cc" opacity=".85"/>
<rect x="391.7" y="242.7" width=".9" height=".9" fill="#a070c0" opacity=".85"/>
<rect x="393.3" y="251.4" width=".9" height=".9" fill="#dcc0e6" opacity=".85"/>
<rect x="385.6" y="260.4" width=".9" height=".9" fill="#8a50a8" opacity=".85"/>
<rect x="381.6" y="249.2" width=".9" height=".9" fill="#d0a8e0" opacity=".85"/>
<rect x="380.6" y="241.4" width=".9" height=".9" fill="#c8a0d8" opacity=".85"/>
<rect x="387.2" y="245.9" width=".9" height=".9" fill="#d0a8e0" opacity=".85"/>
<rect x="385.0" y="246.5" width=".9" height=".9" fill="#c8a0d8" opacity=".85"/>
<rect x="397.2" y="249.5" width=".9" height=".9" fill="#d0a8e0" opacity=".85"/>
<rect x="386.1" y="253.3" width=".9" height=".9" fill="#c8a0d8" opacity=".85"/>
<rect x="379.5" y="245.9" width=".9" height=".9" fill="#c8a0d8" opacity=".85"/>
<rect x="399.3" y="247.2" width=".9" height=".9" fill="#dcc0e6" opacity=".85"/>
<rect x="386.3" y="247.6" width=".9" height=".9" fill="#b888cc" opacity=".85"/>
<rect x="390.0" y="243.3" width=".9" height=".9" fill="#d0a8e0" opacity=".85"/>
<rect x="398.5" y="249.5" width=".9" height=".9" fill="#b888cc" opacity=".85"/>
<rect x="387.8" y="250.5" width=".9" height=".9" fill="#a070c0" opacity=".85"/>
<rect x="389.5" y="240.8" width=".9" height=".9" fill="#dcc0e6" opacity=".85"/>
<rect x="374.8" y="255.8" width=".9" height=".9" fill="#a070c0" opacity=".85"/>
<rect x="386.8" y="256.9" width=".9" height=".9" fill="#a070c0" opacity=".85"/>
<rect x="390.8" y="248.9" width=".9" height=".9" fill="#8a50a8" opacity=".85"/>
<rect x="395.6" y="243.2" width=".9" height=".9" fill="#dcc0e6" opacity=".85"/>
<rect x="382.2" y="243.9" width=".9" height=".9" fill="#c8a0d8" opacity=".85"/>
<rect x="375.6" y="247.1" width=".9" height=".9" fill="#b888cc" opacity=".85"/>
<rect x="382.5" y="256.4" width=".9" height=".9" fill="#c8a0d8" opacity=".85"/>
<rect x="387.9" y="248.6" width=".9" height=".9" fill="#c8a0d8" opacity=".85"/>
<rect x="381.1" y="254.7" width=".9" height=".9" fill="#d0a8e0" opacity=".85"/>
<rect x="398.9" y="241.2" width=".9" height=".9" fill="#d0a8e0" opacity=".85"/>
<rect x="386.0" y="252.7" width=".9" height=".9" fill="#dcc0e6" opacity=".85"/>
<rect x="395.3" y="242.9" width=".9" height=".9" fill="#8a50a8" opacity=".85"/>
<rect x="388.3" y="250.8" width=".9" height=".9" fill="#8a50a8" opacity=".85"/>
<rect x="386.7" y="252.4" width=".9" height=".9" fill="#d0a8e0" opacity=".85"/>
<rect x="401.3" y="254.6" width=".9" height=".9" fill="#a070c0" opacity=".85"/>
<rect x="381.4" y="241.3" width=".9" height=".9" fill="#b888cc" opacity=".85"/>
<rect x="384.0" y="242.4" width=".9" height=".9" fill="#dcc0e6" opacity=".85"/>
<rect x="394.3" y="238.4" width=".9" height=".9" fill="#dcc0e6" opacity=".85"/>
<rect x="384.7" y="250.5" width=".9" height=".9" fill="#c8a0d8" opacity=".85"/>
<rect x="375.5" y="246.2" width=".9" height=".9" fill="#8a50a8" opacity=".85"/>
<rect x="386.1" y="249.4" width=".9" height=".9" fill="#8a50a8" opacity=".85"/>
<rect x="388.9" y="249.6" width=".9" height=".9" fill="#a070c0" opacity=".85"/>
<rect x="386.1" y="255.0" width=".9" height=".9" fill="#d0a8e0" opacity=".85"/>
<rect x="389.9" y="251.6" width=".9" height=".9" fill="#d0a8e0" opacity=".85"/>
<rect x="396.7" y="254.1" width=".9" height=".9" fill="#8a50a8" opacity=".85"/>
<rect x="388.0" y="246.4" width=".9" height=".9" fill="#c8a0d8" opacity=".85"/>
<rect x="393.0" y="253.4" width=".9" height=".9" fill="#a070c0" opacity=".85"/>
<rect x="383.4" y="258.0" width=".9" height=".9" fill="#dcc0e6" opacity=".85"/>
<rect x="378.6" y="256.2" width=".9" height=".9" fill="#dcc0e6" opacity=".85"/>
<rect x="380.3" y="241.8" width=".9" height=".9" fill="#a070c0" opacity=".85"/>
<rect x="397.3" y="248.4" width=".9" height=".9" fill="#a070c0" opacity=".85"/>
<rect x="391.2" y="250.0" width=".9" height=".9" fill="#d0a8e0" opacity=".85"/>
<rect x="388.8" y="241.1" width=".9" height=".9" fill="#c8a0d8" opacity=".85"/>
<rect x="387.3" y="238.2" width=".9" height=".9" fill="#b888cc" opacity=".85"/>
<rect x="385.2" y="236.1" width=".9" height=".9" fill="#d0a8e0" opacity=".85"/>
<rect x="377.3" y="238.2" width=".9" height=".9" fill="#a070c0" opacity=".85"/>
<rect x="381.0" y="255.9" width=".9" height=".9" fill="#b888cc" opacity=".85"/>
<rect x="389.9" y="253.4" width=".9" height=".9" fill="#c8a0d8" opacity=".85"/>
<rect x="402.1" y="238.0" width=".9" height=".9" fill="#a070c0" opacity=".85"/>
<rect x="388.7" y="261.4" width=".9" height=".9" fill="#c8a0d8" opacity=".85"/>
<rect x="386.2" y="250.2" width=".9" height=".9" fill="#d0a8e0" opacity=".85"/>
<rect x="391.4" y="247.6" width=".9" height=".9" fill="#a070c0" opacity=".85"/>
<rect x="372.9" y="248.7" width=".9" height=".9" fill="#dcc0e6" opacity=".85"/>
<rect x="397.4" y="252.4" width=".9" height=".9" fill="#dcc0e6" opacity=".85"/>
<rect x="388.0" y="247.3" width=".9" height=".9" fill="#c8a0d8" opacity=".85"/>
<rect x="398.3" y="248.2" width=".9" height=".9" fill="#b888cc" opacity=".85"/>
<rect x="393.4" y="245.7" width=".9" height=".9" fill="#8a50a8" opacity=".85"/>
<rect x="395.4" y="243.9" width=".9" height=".9" fill="#a070c0" opacity=".85"/>
<rect x="383.8" y="246.2" width=".9" height=".9" fill="#8a50a8" opacity=".85"/>
<rect x="390.3" y="247.6" width=".9" height=".9" fill="#c8a0d8" opacity=".85"/>
<rect x="394.3" y="250.1" width=".9" height=".9" fill="#b888cc" opacity=".85"/>
<rect x="387.0" y="257.0" width=".9" height=".9" fill="#b888cc" opacity=".85"/>
<rect x="387.9" y="250.7" width=".9" height=".9" fill="#c8a0d8" opacity=".85"/>
<rect x="384.9" y="249.7" width=".9" height=".9" fill="#c8a0d8" opacity=".85"/>
<rect x="391.1" y="245.0" width=".9" height=".9" fill="#c8a0d8" opacity=".85"/>
<rect x="381.5" y="256.2" width=".9" height=".9" fill="#a070c0" opacity=".85"/>
<rect x="389.7" y="245.5" width=".9" height=".9" fill="#a070c0" opacity=".85"/>
<rect x="395.9" y="249.2" width=".9" height=".9" fill="#c8a0d8" opacity=".85"/>
<rect x="389.9" y="246.7" width=".9" height=".9" fill="#b888cc" opacity=".85"/>
<rect x="392.0" y="257.6" width=".9" height=".9" fill="#a070c0" opacity=".85"/>
<rect x="385.8" y="248.7" width=".9" height=".9" fill="#8a50a8" opacity=".85"/>
<rect x="379.0" y="242.2" width=".9" height=".9" fill="#c8a0d8" opacity=".85"/>
<rect x="386.3" y="248.2" width=".9" height=".9" fill="#c8a0d8" opacity=".85"/>
<rect x="389.2" y="241.9" width=".9" height=".9" fill="#d0a8e0" opacity=".85"/>
<rect x="396.5" y="245.3" width=".9" height=".9" fill="#d0a8e0" opacity=".85"/>
<rect x="387.2" y="247.2" width=".9" height=".9" fill="#a070c0" opacity=".85"/>
<rect x="379.8" y="252.5" width=".9" height=".9" fill="#c8a0d8" opacity=".85"/>
<rect x="393.3" y="245.6" width=".9" height=".9" fill="#b888cc" opacity=".85"/>
<rect x="390.9" y="246.3" width=".9" height=".9" fill="#b888cc" opacity=".85"/>
<rect x="374.1" y="255.2" width=".9" height=".9" fill="#8a50a8" opacity=".85"/>
<rect x="389.6" y="253.9" width=".9" height=".9" fill="#8a50a8" opacity=".85"/>
<rect x="392.0" y="252.3" width=".9" height=".9" fill="#a070c0" opacity=".85"/>
<rect x="386.8" y="245.9" width=".9" height=".9" fill="#b888cc" opacity=".85"/>
<rect x="388.4" y="246.1" width=".9" height=".9" fill="#dcc0e6" opacity=".85"/>
<rect x="378.9" y="256.3" width=".9" height=".9" fill="#b888cc" opacity=".85"/>
<rect x="388.7" y="249.3" width=".9" height=".9" fill="#c8a0d8" opacity=".85"/>
<rect x="396.2" y="246.5" width=".9" height=".9" fill="#b888cc" opacity=".85"/>
<rect x="385.9" y="248.7" width=".9" height=".9" fill="#8a50a8" opacity=".85"/>
<rect x="389.7" y="247.8" width=".9" height=".9" fill="#b888cc" opacity=".85"/>
<rect x="389.3" y="246.1" width=".9" height=".9" fill="#b888cc" opacity=".85"/>
<rect x="388.4" y="243.0" width=".9" height=".9" fill="#b888cc" opacity=".85"/>
<rect x="392.5" y="253.7" width=".9" height=".9" fill="#dcc0e6" opacity=".85"/>
<rect x="383.7" y="246.7" width=".9" height=".9" fill="#a070c0" opacity=".85"/>
<rect x="384.7" y="244.1" width=".9" height=".9" fill="#8a50a8" opacity=".85"/>
<rect x="394.6" y="244.5" width=".9" height=".9" fill="#c8a0d8" opacity=".85"/>
<rect x="392.7" y="247.4" width=".9" height=".9" fill="#d0a8e0" opacity=".85"/>
<rect x="389.0" y="249.1" width=".9" height=".9" fill="#a070c0" opacity=".85"/>
<rect x="387.9" y="245.4" width=".9" height=".9" fill="#c8a0d8" opacity=".85"/>
<rect x="387.3" y="246.7" width=".9" height=".9" fill="#a070c0" opacity=".85"/>
<rect x="389.1" y="242.6" width=".9" height=".9" fill="#d0a8e0" opacity=".85"/>
<rect x="387.4" y="244.4" width=".9" height=".9" fill="#8a50a8" opacity=".85"/>
<rect x="394.9" y="250.5" width=".9" height=".9" fill="#a070c0" opacity=".85"/>
<rect x="383.9" y="237.6" width=".9" height=".9" fill="#a070c0" opacity=".85"/>
<rect x="382.3" y="246.2" width=".9" height=".9" fill="#a070c0" opacity=".85"/>
<rect x="380.6" y="238.0" width=".9" height=".9" fill="#8a50a8" opacity=".85"/>
<rect x="383.9" y="246.5" width=".9" height=".9" fill="#d0a8e0" opacity=".85"/>
<rect x="401.8" y="243.1" width=".9" height=".9" fill="#c8a0d8" opacity=".85"/>
<rect x="387.1" y="251.4" width=".9" height=".9" fill="#dcc0e6" opacity=".85"/>
<rect x="394.1" y="251.1" width=".9" height=".9" fill="#dcc0e6" opacity=".85"/>
<rect x="390.3" y="255.7" width=".9" height=".9" fill="#a070c0" opacity=".85"/>
<rect x="392.8" y="246.2" width=".9" height=".9" fill="#d0a8e0" opacity=".85"/>
<rect x="384.0" y="252.3" width=".9" height=".9" fill="#c8a0d8" opacity=".85"/>
<rect x="384.1" y="253.5" width=".9" height=".9" fill="#d0a8e0" opacity=".85"/>
<rect x="381.2" y="245.5" width=".9" height=".9" fill="#a070c0" opacity=".85"/>
<rect x="390.7" y="249.2" width=".9" height=".9" fill="#8a50a8" opacity=".85"/>
<rect x="392.7" y="244.8" width=".9" height=".9" fill="#8a50a8" opacity=".85"/>
<rect x="387.9" y="252.7" width=".9" height=".9" fill="#b888cc" opacity=".85"/>
<rect x="388.0" y="244.0" width=".9" height=".9" fill="#a070c0" opacity=".85"/>
<rect x="384.1" y="244.4" width=".9" height=".9" fill="#dcc0e6" opacity=".85"/>
<rect x="390.6" y="240.0" width=".9" height=".9" fill="#d0a8e0" opacity=".85"/>
<rect x="392.9" y="244.2" width=".9" height=".9" fill="#b888cc" opacity=".85"/>
<rect x="381.9" y="244.3" width=".9" height=".9" fill="#dcc0e6" opacity=".85"/>
<rect x="386.4" y="250.5" width=".9" height=".9" fill="#c8a0d8" opacity=".85"/>
<rect x="399.1" y="251.1" width=".9" height=".9" fill="#c8a0d8" opacity=".85"/>
<ellipse cx="388.3" cy="248.3" rx="8.60" ry="8.20" fill="url(#cl)"/>
<rect x="384.4" y="241.2" width="1" height="1" fill="#3a0a5a" opacity=".9"/>
<rect x="382.5" y="244.9" width="1" height="1" fill="#2c0848" opacity=".9"/>
<rect x="382.9" y="243.9" width="1" height="1" fill="#3a0a5a" opacity=".9"/>
<rect x="385.9" y="240.4" width="1" height="1" fill="#3a0a5a" opacity=".9"/>
<rect x="396.6" y="250.5" width="1" height="1" fill="#5a2080" opacity=".9"/>
<rect x="382.9" y="241.3" width="1" height="1" fill="#3a0a5a" opacity=".9"/>
<rect x="396.5" y="246.1" width="1" height="1" fill="#5a2080" opacity=".9"/>
<rect x="394.6" y="254.0" width="1" height="1" fill="#5a2080" opacity=".9"/>
<rect x="381.3" y="250.3" width="1" height="1" fill="#5a2080" opacity=".9"/>
<rect x="379.2" y="247.4" width="1" height="1" fill="#2c0848" opacity=".9"/>
<rect x="382.1" y="253.8" width="1" height="1" fill="#5a2080" opacity=".9"/>
<rect x="385.0" y="255.6" width="1" height="1" fill="#2c0848" opacity=".9"/>
<rect x="394.7" y="252.1" width="1" height="1" fill="#3a0a5a" opacity=".9"/>
<rect x="383.3" y="242.6" width="1" height="1" fill="#2c0848" opacity=".9"/>
<rect x="391.4" y="254.1" width="1" height="1" fill="#2c0848" opacity=".9"/>
<rect x="392.1" y="254.9" width="1" height="1" fill="#5a2080" opacity=".9"/>
<rect x="394.2" y="244.9" width="1" height="1" fill="#5a2080" opacity=".9"/>
<rect x="381.0" y="245.4" width="1" height="1" fill="#4a1470" opacity=".9"/>
<rect x="380.4" y="245.6" width="1" height="1" fill="#2c0848" opacity=".9"/>
<rect x="381.5" y="246.1" width="1" height="1" fill="#5a2080" opacity=".9"/>
<rect x="386.5" y="254.5" width="1" height="1" fill="#5a2080" opacity=".9"/>
<rect x="380.3" y="252.2" width="1" height="1" fill="#5a2080" opacity=".9"/>
<rect x="379.7" y="249.0" width="1" height="1" fill="#3a0a5a" opacity=".9"/>
<rect x="394.8" y="246.5" width="1" height="1" fill="#3a0a5a" opacity=".9"/>
<rect x="384.8" y="253.8" width="1" height="1" fill="#5a2080" opacity=".9"/>
<rect x="392.9" y="241.8" width="1" height="1" fill="#3a0a5a" opacity=".9"/>
<rect x="389.6" y="240.7" width="1" height="1" fill="#4a1470" opacity=".9"/>
<rect x="382.6" y="242.1" width="1" height="1" fill="#5a2080" opacity=".9"/>
<rect x="395.6" y="253.4" width="1" height="1" fill="#3a0a5a" opacity=".9"/>
<rect x="385.5" y="254.8" width="1" height="1" fill="#5a2080" opacity=".9"/>
<rect x="380.6" y="252.9" width="1" height="1" fill="#3a0a5a" opacity=".9"/>
<rect x="394.4" y="250.9" width="1" height="1" fill="#3a0a5a" opacity=".9"/>
<rect x="396.6" y="245.4" width="1" height="1" fill="#2c0848" opacity=".9"/>
<rect x="394.4" y="252.8" width="1" height="1" fill="#4a1470" opacity=".9"/>
<rect x="380.1" y="252.5" width="1" height="1" fill="#5a2080" opacity=".9"/>
<rect x="383.4" y="241.7" width="1" height="1" fill="#5a2080" opacity=".9"/>
<rect x="396.8" y="244.7" width="1" height="1" fill="#2c0848" opacity=".9"/>
<rect x="383.2" y="252.8" width="1" height="1" fill="#4a1470" opacity=".9"/>
<rect x="394.4" y="253.4" width="1" height="1" fill="#3a0a5a" opacity=".9"/>
<rect x="383.5" y="241.6" width="1" height="1" fill="#2c0848" opacity=".9"/>
<rect x="381.6" y="251.0" width="1" height="1" fill="#2c0848" opacity=".9"/>
<rect x="395.9" y="247.1" width="1" height="1" fill="#4a1470" opacity=".9"/>
<rect x="395.2" y="242.2" width="1" height="1" fill="#4a1470" opacity=".9"/>
<rect x="382.1" y="253.7" width="1" height="1" fill="#4a1470" opacity=".9"/>
<rect x="384.2" y="255.8" width="1" height="1" fill="#3a0a5a" opacity=".9"/>
<rect x="392.5" y="253.1" width="1" height="1" fill="#2c0848" opacity=".9"/>
<rect x="385.5" y="255.6" width="1" height="1" fill="#5a2080" opacity=".9"/>
<rect x="386.5" y="256.4" width="1" height="1" fill="#5a2080" opacity=".9"/>
<rect x="380.9" y="250.3" width="1" height="1" fill="#3a0a5a" opacity=".9"/>
<rect x="393.0" y="253.3" width="1" height="1" fill="#3a0a5a" opacity=".9"/>
<rect x="381.6" y="250.6" width="1" height="1" fill="#4a1470" opacity=".9"/>
<rect x="391.6" y="253.9" width="1" height="1" fill="#2c0848" opacity=".9"/>
<rect x="388.0" y="255.8" width="1" height="1" fill="#4a1470" opacity=".9"/>
<rect x="390.8" y="241.2" width="1" height="1" fill="#5a2080" opacity=".9"/>
<rect x="382.0" y="245.0" width="1" height="1" fill="#5a2080" opacity=".9"/>
<rect x="385.7" y="241.0" width="1" height="1" fill="#3a0a5a" opacity=".9"/>
<rect x="390.1" y="254.3" width="1" height="1" fill="#2c0848" opacity=".9"/>
<rect x="383.2" y="242.5" width="1" height="1" fill="#5a2080" opacity=".9"/>
<rect x="383.1" y="244.4" width="1" height="1" fill="#5a2080" opacity=".9"/>
<rect x="393.5" y="253.8" width="1" height="1" fill="#2c0848" opacity=".9"/>
<rect x="382.3" y="254.4" width="1" height="1" fill="#5a2080" opacity=".9"/>
<rect x="383.4" y="241.4" width="1" height="1" fill="#3a0a5a" opacity=".9"/>
<rect x="397.6" y="248.4" width="1" height="1" fill="#5a2080" opacity=".9"/>
<rect x="395.8" y="246.6" width="1" height="1" fill="#5a2080" opacity=".9"/>
<rect x="380.4" y="252.4" width="1" height="1" fill="#2c0848" opacity=".9"/>
<rect x="383.7" y="255.3" width="1" height="1" fill="#5a2080" opacity=".9"/>
<rect x="386.3" y="240.6" width="1" height="1" fill="#3a0a5a" opacity=".9"/>
<rect x="392.6" y="254.7" width="1" height="1" fill="#3a0a5a" opacity=".9"/>
<rect x="380.6" y="246.5" width="1" height="1" fill="#2c0848" opacity=".9"/>
<rect x="391.7" y="242.9" width="1" height="1" fill="#3a0a5a" opacity=".9"/>
<rect x="381.6" y="249.2" width="1" height="1" fill="#4a1470" opacity=".9"/>
<rect x="391.7" y="254.1" width="1" height="1" fill="#4a1470" opacity=".9"/>
<rect x="384.4" y="242.0" width="1" height="1" fill="#3a0a5a" opacity=".9"/>
<rect x="382.0" y="253.6" width="1" height="1" fill="#4a1470" opacity=".9"/>
<rect x="382.7" y="241.3" width="1" height="1" fill="#4a1470" opacity=".9"/>
<rect x="383.8" y="241.8" width="1" height="1" fill="#5a2080" opacity=".9"/>
<rect x="381.5" y="251.1" width="1" height="1" fill="#3a0a5a" opacity=".9"/>
<rect x="382.6" y="253.9" width="1" height="1" fill="#2c0848" opacity=".9"/>
<rect x="390.2" y="240.3" width="1" height="1" fill="#5a2080" opacity=".9"/>
<rect x="382.0" y="247.1" width="1" height="1" fill="#2c0848" opacity=".9"/>
<rect x="394.4" y="250.5" width="1" height="1" fill="#4a1470" opacity=".9"/>
<rect x="394.4" y="252.9" width="1" height="1" fill="#2c0848" opacity=".9"/>
<rect x="394.6" y="243.8" width="1" height="1" fill="#5a2080" opacity=".9"/>
<rect x="381.8" y="247.5" width="1" height="1" fill="#2c0848" opacity=".9"/>
<rect x="392.5" y="241.5" width="1" height="1" fill="#4a1470" opacity=".9"/>
<rect x="397.3" y="249.4" width="1" height="1" fill="#4a1470" opacity=".9"/>
<rect x="396.7" y="246.7" width="1" height="1" fill="#4a1470" opacity=".9"/>
<rect x="394.4" y="252.5" width="1" height="1" fill="#3a0a5a" opacity=".9"/>
<rect x="391.9" y="254.7" width="1" height="1" fill="#3a0a5a" opacity=".9"/>
<rect x="381.7" y="251.3" width="1" height="1" fill="#2c0848" opacity=".9"/>
<rect x="381.5" y="253.6" width="1" height="1" fill="#3a0a5a" opacity=".9"/>
<rect x="395.0" y="243.3" width="1" height="1" fill="#4a1470" opacity=".9"/>
<rect x="394.5" y="254.7" width="1" height="1" fill="#4a1470" opacity=".9"/>
<rect x="382.8" y="251.7" width="1" height="1" fill="#2c0848" opacity=".9"/>
<rect x="381.3" y="247.3" width="1" height="1" fill="#5a2080" opacity=".9"/>
<rect x="389.0" y="239.7" width="1" height="1" fill="#2c0848" opacity=".9"/>
<rect x="390.4" y="241.2" width="1" height="1" fill="#2c0848" opacity=".9"/>
<rect x="387.5" y="241.6" width="1" height="1" fill="#5a2080" opacity=".9"/>
<rect x="386.4" y="239.9" width="1" height="1" fill="#3a0a5a" opacity=".9"/>
<rect x="391.2" y="255.5" width="1" height="1" fill="#4a1470" opacity=".9"/>
<rect x="383.8" y="253.1" width="1" height="1" fill="#2c0848" opacity=".9"/>
<rect x="383.8" y="253.3" width="1" height="1" fill="#5a2080" opacity=".9"/>
<rect x="391.6" y="255.3" width="1" height="1" fill="#2c0848" opacity=".9"/>
<rect x="396.5" y="245.6" width="1" height="1" fill="#2c0848" opacity=".9"/>
<rect x="396.9" y="246.1" width="1" height="1" fill="#5a2080" opacity=".9"/>
<rect x="387.0" y="239.7" width="1" height="1" fill="#2c0848" opacity=".9"/>
<rect x="392.1" y="253.3" width="1" height="1" fill="#3a0a5a" opacity=".9"/>
<rect x="387.0" y="241.2" width="1" height="1" fill="#2c0848" opacity=".9"/>
<rect x="387.5" y="256.1" width="1" height="1" fill="#5a2080" opacity=".9"/>
<rect x="382.0" y="243.5" width="1" height="1" fill="#4a1470" opacity=".9"/>
<rect x="381.9" y="253.1" width="1" height="1" fill="#3a0a5a" opacity=".9"/>
<rect x="389.2" y="255.2" width="1" height="1" fill="#3a0a5a" opacity=".9"/>
<rect x="389.6" y="240.9" width="1" height="1" fill="#3a0a5a" opacity=".9"/>
<rect x="384.1" y="241.5" width="1" height="1" fill="#3a0a5a" opacity=".9"/>
<rect x="394.8" y="251.8" width="1" height="1" fill="#4a1470" opacity=".9"/>
<rect x="384.4" y="256.1" width="1" height="1" fill="#3a0a5a" opacity=".9"/>
<rect x="385.2" y="255.8" width="1" height="1" fill="#3a0a5a" opacity=".9"/>
<rect x="396.5" y="244.4" width="1" height="1" fill="#3a0a5a" opacity=".9"/>
<rect x="396.0" y="250.2" width="1" height="1" fill="#2c0848" opacity=".9"/>
<rect x="389.8" y="255.2" width="1" height="1" fill="#2c0848" opacity=".9"/>
<rect x="386.9" y="255.6" width="1" height="1" fill="#3a0a5a" opacity=".9"/>
<rect x="396.2" y="246.9" width="1" height="1" fill="#5a2080" opacity=".9"/>
<rect x="392.3" y="241.5" width="1" height="1" fill="#3a0a5a" opacity=".9"/>
<rect x="395.0" y="245.4" width="1" height="1" fill="#3a0a5a" opacity=".9"/>
<rect x="392.8" y="255.0" width="1" height="1" fill="#2c0848" opacity=".9"/>
<rect x="394.7" y="252.0" width="1" height="1" fill="#4a1470" opacity=".9"/>
<rect x="384.1" y="253.4" width="1" height="1" fill="#5a2080" opacity=".9"/>
<rect x="395.7" y="253.3" width="1" height="1" fill="#5a2080" opacity=".9"/>
<rect x="397.4" y="250.3" width="1" height="1" fill="#3a0a5a" opacity=".9"/>
<rect x="380.7" y="243.4" width="1" height="1" fill="#5a2080" opacity=".9"/>
<rect x="387.5" y="256.8" width="1" height="1" fill="#5a2080" opacity=".9"/>
<rect x="381.6" y="247.8" width="1" height="1" fill="#2c0848" opacity=".9"/>
<rect x="382.3" y="251.8" width="1" height="1" fill="#2c0848" opacity=".9"/>
<rect x="394.5" y="245.7" width="1" height="1" fill="#3a0a5a" opacity=".9"/>
<rect x="379.9" y="251.5" width="1" height="1" fill="#5a2080" opacity=".9"/>
<rect x="390.0" y="241.1" width="1" height="1" fill="#3a0a5a" opacity=".9"/>
<rect x="391.8" y="254.9" width="1" height="1" fill="#5a2080" opacity=".9"/>
<rect x="394.8" y="250.0" width="1" height="1" fill="#3a0a5a" opacity=".9"/>
<rect x="394.4" y="250.9" width="1" height="1" fill="#5a2080" opacity=".9"/>
<rect x="386.5" y="256.1" width="1" height="1" fill="#3a0a5a" opacity=".9"/>
<rect x="381.6" y="251.1" width="1" height="1" fill="#5a2080" opacity=".9"/>
<rect x="379.0" y="246.7" width="1" height="1" fill="#2c0848" opacity=".9"/>
<rect x="392.8" y="241.7" width="1" height="1" fill="#3a0a5a" opacity=".9"/>
<rect x="391.8" y="255.0" width="1" height="1" fill="#5a2080" opacity=".9"/>
<rect x="392.2" y="243.1" width="1" height="1" fill="#2c0848" opacity=".9"/>
<rect x="394.0" y="243.5" width="1" height="1" fill="#5a2080" opacity=".9"/>
<rect x="397.0" y="245.2" width="1" height="1" fill="#2c0848" opacity=".9"/>
<rect x="381.9" y="252.6" width="1" height="1" fill="#5a2080" opacity=".9"/>
<rect x="394.2" y="254.4" width="1" height="1" fill="#2c0848" opacity=".9"/>
<rect x="383.9" y="253.5" width="1" height="1" fill="#2c0848" opacity=".9"/>
<rect x="396.8" y="248.8" width="1" height="1" fill="#5a2080" opacity=".9"/>
<rect x="388.0" y="256.2" width="1" height="1" fill="#2c0848" opacity=".9"/>
<rect x="395.1" y="244.3" width="1" height="1" fill="#3a0a5a" opacity=".9"/>
<rect x="386.8" y="254.4" width="1" height="1" fill="#4a1470" opacity=".9"/>
<rect x="384.4" y="242.5" width="1" height="1" fill="#2c0848" opacity=".9"/>
<rect x="394.3" y="242.6" width="1" height="1" fill="#3a0a5a" opacity=".9"/>
<rect x="395.4" y="243.4" width="1" height="1" fill="#5a2080" opacity=".9"/>
<rect x="394.4" y="252.5" width="1" height="1" fill="#5a2080" opacity=".9"/>
<rect x="393.1" y="255.8" width="1" height="1" fill="#3a0a5a" opacity=".9"/>
<rect x="390.5" y="254.2" width="1" height="1" fill="#2c0848" opacity=".9"/>
<ellipse cx="388.0" cy="248.9" rx="2.2" ry="5.0" fill="url(#tl)"/>
<rect x="365.20" y="224.90" width="45.60" height="46.60" fill="none" stroke="#333" stroke-width="0.9"/>
<line x1="362.60" y1="234.00" x2="365.20" y2="234.00" stroke="#333" stroke-width="0.7" />
<text x="358.80" y="236.20" font-size="6.4" fill="#231f20" text-anchor="end">2</text>
<line x1="362.60" y1="248.10" x2="365.20" y2="248.10" stroke="#333" stroke-width="0.7" />
<text x="358.80" y="250.30" font-size="6.4" fill="#231f20" text-anchor="end">0</text>
<line x1="362.60" y1="262.30" x2="365.20" y2="262.30" stroke="#333" stroke-width="0.7" />
<text x="358.80" y="264.50" font-size="6.4" fill="#231f20" text-anchor="end">−2</text>
<line x1="368.50" y1="271.50" x2="368.50" y2="274.20" stroke="#333" stroke-width="0.7" />
<line x1="378.10" y1="271.50" x2="378.10" y2="274.20" stroke="#333" stroke-width="0.7" />
<line x1="387.70" y1="271.50" x2="387.70" y2="274.20" stroke="#333" stroke-width="0.7" />
<line x1="397.30" y1="271.50" x2="397.30" y2="274.20" stroke="#333" stroke-width="0.7" />
<line x1="406.90" y1="271.50" x2="406.90" y2="274.20" stroke="#333" stroke-width="0.7" />
<text x="369.30" y="283.00" font-size="6.3" fill="#231f20" text-anchor="middle">−10</text>
<text x="387.70" y="283.00" font-size="6.3" fill="#231f20" text-anchor="middle">0</text>
<text x="406.90" y="283.00" font-size="6.3" fill="#231f20" text-anchor="middle">10</text>
<rect x="462.7" y="261.5" width=".9" height=".9" fill="#d8d0de"/>
<rect x="449.5" y="237.4" width=".9" height=".9" fill="#d8d0de"/>
<rect x="428.8" y="254.7" width=".9" height=".9" fill="#d8d0de"/>
<rect x="448.9" y="258.8" width=".9" height=".9" fill="#d8d0de"/>
<rect x="444.7" y="259.3" width=".9" height=".9" fill="#d8d0de"/>
<rect x="440.4" y="260.7" width=".9" height=".9" fill="#d8d0de"/>
<rect x="460.0" y="243.9" width=".9" height=".9" fill="#d8d0de"/>
<rect x="451.8" y="255.5" width=".9" height=".9" fill="#d8d0de"/>
<rect x="437.0" y="250.0" width=".9" height=".9" fill="#d8d0de"/>
<rect x="463.2" y="237.5" width=".9" height=".9" fill="#d8d0de"/>
<rect x="463.1" y="255.7" width=".9" height=".9" fill="#d8d0de"/>
<rect x="464.9" y="240.6" width=".9" height=".9" fill="#d8d0de"/>
<rect x="432.8" y="260.6" width=".9" height=".9" fill="#d8d0de"/>
<rect x="463.2" y="245.3" width=".9" height=".9" fill="#d8d0de"/>
<rect x="432.8" y="234.6" width=".9" height=".9" fill="#d8d0de"/>
<rect x="455.9" y="238.7" width=".9" height=".9" fill="#d8d0de"/>
<rect x="469.4" y="251.5" width=".9" height=".9" fill="#d8d0de"/>
<rect x="437.4" y="254.3" width=".9" height=".9" fill="#d8d0de"/>
<rect x="444.2" y="266.3" width=".9" height=".9" fill="#d8d0de"/>
<rect x="467.6" y="248.3" width=".9" height=".9" fill="#d8d0de"/>
<rect x="456.3" y="256.2" width=".9" height=".9" fill="#d8d0de"/>
<rect x="463.2" y="268.2" width=".9" height=".9" fill="#d8d0de"/>
<rect x="430.0" y="241.7" width=".9" height=".9" fill="#d8d0de"/>
<rect x="454.5" y="239.2" width=".9" height=".9" fill="#d8d0de"/>
<rect x="454.0" y="230.0" width=".9" height=".9" fill="#d8d0de"/>
<rect x="466.4" y="248.7" width=".9" height=".9" fill="#d8d0de"/>
<rect x="433.8" y="254.7" width=".9" height=".9" fill="#d8d0de"/>
<rect x="442.1" y="234.6" width=".9" height=".9" fill="#d8d0de"/>
<rect x="449.5" y="232.1" width=".9" height=".9" fill="#d8d0de"/>
<rect x="437.8" y="263.4" width=".9" height=".9" fill="#d8d0de"/>
<rect x="458.6" y="226.6" width=".9" height=".9" fill="#d8d0de"/>
<rect x="462.0" y="226.8" width=".9" height=".9" fill="#d8d0de"/>
<rect x="443.0" y="265.1" width=".9" height=".9" fill="#d8d0de"/>
<rect x="455.3" y="239.3" width=".9" height=".9" fill="#d8d0de"/>
<rect x="444.9" y="242.9" width=".9" height=".9" fill="#d8d0de"/>
<rect x="434.2" y="269.2" width=".9" height=".9" fill="#d8d0de"/>
<rect x="431.1" y="244.3" width=".9" height=".9" fill="#d8d0de"/>
<rect x="460.7" y="243.2" width=".9" height=".9" fill="#d8d0de"/>
<rect x="470.7" y="236.7" width=".9" height=".9" fill="#d8d0de"/>
<rect x="470.6" y="264.6" width=".9" height=".9" fill="#d8d0de"/>
<rect x="457.4" y="264.4" width=".9" height=".9" fill="#d8d0de"/>
<rect x="447.9" y="261.9" width=".9" height=".9" fill="#d8d0de"/>
<rect x="462.8" y="248.4" width=".9" height=".9" fill="#d8d0de"/>
<rect x="448.9" y="256.5" width=".9" height=".9" fill="#d8d0de"/>
<rect x="446.3" y="229.8" width=".9" height=".9" fill="#d8d0de"/>
<rect x="460.7" y="237.6" width=".9" height=".9" fill="#d8d0de"/>
<rect x="449.6" y="259.9" width=".9" height=".9" fill="#d8d0de"/>
<rect x="436.1" y="227.0" width=".9" height=".9" fill="#d8d0de"/>
<rect x="434.1" y="251.5" width=".9" height=".9" fill="#d8d0de"/>
<rect x="444.2" y="237.1" width=".9" height=".9" fill="#d8d0de"/>
<rect x="448.1" y="266.1" width=".9" height=".9" fill="#d8d0de"/>
<rect x="439.7" y="243.8" width=".9" height=".9" fill="#d8d0de"/>
<rect x="466.3" y="252.5" width=".9" height=".9" fill="#d8d0de"/>
<rect x="440.2" y="246.6" width=".9" height=".9" fill="#d8d0de"/>
<rect x="449.2" y="232.2" width=".9" height=".9" fill="#d8d0de"/>
<rect x="444.9" y="239.3" width=".9" height=".9" fill="#d8d0de"/>
<rect x="463.2" y="240.0" width=".9" height=".9" fill="#d8d0de"/>
<rect x="456.9" y="267.9" width=".9" height=".9" fill="#d8d0de"/>
<rect x="468.2" y="242.3" width=".9" height=".9" fill="#d8d0de"/>
<rect x="454.5" y="239.9" width=".9" height=".9" fill="#d8d0de"/>
<rect x="444.2" y="251.1" width=".9" height=".9" fill="#b888cc" opacity=".85"/>
<rect x="456.9" y="246.0" width=".9" height=".9" fill="#a070c0" opacity=".85"/>
<rect x="437.4" y="238.5" width=".9" height=".9" fill="#b888cc" opacity=".85"/>
<rect x="463.9" y="249.2" width=".9" height=".9" fill="#a070c0" opacity=".85"/>
<rect x="448.2" y="243.2" width=".9" height=".9" fill="#c8a0d8" opacity=".85"/>
<rect x="452.8" y="246.2" width=".9" height=".9" fill="#b888cc" opacity=".85"/>
<rect x="454.6" y="250.9" width=".9" height=".9" fill="#a070c0" opacity=".85"/>
<rect x="439.6" y="251.7" width=".9" height=".9" fill="#d0a8e0" opacity=".85"/>
<rect x="442.8" y="247.9" width=".9" height=".9" fill="#a070c0" opacity=".85"/>
<rect x="438.0" y="256.9" width=".9" height=".9" fill="#dcc0e6" opacity=".85"/>
<rect x="444.0" y="242.8" width=".9" height=".9" fill="#b888cc" opacity=".85"/>
<rect x="462.0" y="249.3" width=".9" height=".9" fill="#dcc0e6" opacity=".85"/>
<rect x="459.7" y="252.0" width=".9" height=".9" fill="#c8a0d8" opacity=".85"/>
<rect x="450.7" y="245.7" width=".9" height=".9" fill="#a070c0" opacity=".85"/>
<rect x="450.0" y="245.1" width=".9" height=".9" fill="#a070c0" opacity=".85"/>
<rect x="456.8" y="253.6" width=".9" height=".9" fill="#8a50a8" opacity=".85"/>
<rect x="464.5" y="241.8" width=".9" height=".9" fill="#c8a0d8" opacity=".85"/>
<rect x="449.7" y="247.6" width=".9" height=".9" fill="#dcc0e6" opacity=".85"/>
<rect x="462.9" y="256.7" width=".9" height=".9" fill="#c8a0d8" opacity=".85"/>
<rect x="443.2" y="248.3" width=".9" height=".9" fill="#d0a8e0" opacity=".85"/>
<rect x="449.2" y="255.4" width=".9" height=".9" fill="#a070c0" opacity=".85"/>
<rect x="454.3" y="244.0" width=".9" height=".9" fill="#8a50a8" opacity=".85"/>
<rect x="447.2" y="259.1" width=".9" height=".9" fill="#a070c0" opacity=".85"/>
<rect x="445.2" y="247.5" width=".9" height=".9" fill="#8a50a8" opacity=".85"/>
<rect x="459.0" y="246.5" width=".9" height=".9" fill="#8a50a8" opacity=".85"/>
<rect x="454.3" y="248.0" width=".9" height=".9" fill="#d0a8e0" opacity=".85"/>
<rect x="445.2" y="242.9" width=".9" height=".9" fill="#a070c0" opacity=".85"/>
<rect x="450.7" y="243.1" width=".9" height=".9" fill="#a070c0" opacity=".85"/>
<rect x="452.9" y="235.4" width=".9" height=".9" fill="#dcc0e6" opacity=".85"/>
<rect x="437.0" y="251.8" width=".9" height=".9" fill="#b888cc" opacity=".85"/>
<rect x="450.8" y="245.2" width=".9" height=".9" fill="#d0a8e0" opacity=".85"/>
<rect x="459.3" y="253.8" width=".9" height=".9" fill="#dcc0e6" opacity=".85"/>
<rect x="453.8" y="248.5" width=".9" height=".9" fill="#d0a8e0" opacity=".85"/>
<rect x="456.0" y="247.2" width=".9" height=".9" fill="#dcc0e6" opacity=".85"/>
<rect x="454.8" y="250.9" width=".9" height=".9" fill="#b888cc" opacity=".85"/>
<rect x="436.6" y="247.2" width=".9" height=".9" fill="#b888cc" opacity=".85"/>
<rect x="462.1" y="245.0" width=".9" height=".9" fill="#dcc0e6" opacity=".85"/>
<rect x="457.8" y="244.8" width=".9" height=".9" fill="#b888cc" opacity=".85"/>
<rect x="452.3" y="231.8" width=".9" height=".9" fill="#d0a8e0" opacity=".85"/>
<rect x="439.4" y="243.7" width=".9" height=".9" fill="#d0a8e0" opacity=".85"/>
<rect x="441.6" y="253.1" width=".9" height=".9" fill="#c8a0d8" opacity=".85"/>
<rect x="450.2" y="247.5" width=".9" height=".9" fill="#d0a8e0" opacity=".85"/>
<rect x="440.7" y="245.3" width=".9" height=".9" fill="#dcc0e6" opacity=".85"/>
<rect x="452.2" y="253.8" width=".9" height=".9" fill="#dcc0e6" opacity=".85"/>
<rect x="443.5" y="252.9" width=".9" height=".9" fill="#b888cc" opacity=".85"/>
<rect x="456.6" y="253.6" width=".9" height=".9" fill="#c8a0d8" opacity=".85"/>
<rect x="452.3" y="248.0" width=".9" height=".9" fill="#c8a0d8" opacity=".85"/>
<rect x="451.4" y="245.1" width=".9" height=".9" fill="#dcc0e6" opacity=".85"/>
<rect x="440.3" y="245.7" width=".9" height=".9" fill="#d0a8e0" opacity=".85"/>
<rect x="460.4" y="248.9" width=".9" height=".9" fill="#c8a0d8" opacity=".85"/>
<rect x="452.7" y="254.0" width=".9" height=".9" fill="#8a50a8" opacity=".85"/>
<rect x="453.7" y="248.7" width=".9" height=".9" fill="#d0a8e0" opacity=".85"/>
<rect x="454.2" y="245.3" width=".9" height=".9" fill="#dcc0e6" opacity=".85"/>
<rect x="433.7" y="252.4" width=".9" height=".9" fill="#dcc0e6" opacity=".85"/>
<rect x="453.6" y="247.4" width=".9" height=".9" fill="#a070c0" opacity=".85"/>
<rect x="451.2" y="240.1" width=".9" height=".9" fill="#dcc0e6" opacity=".85"/>
<rect x="440.7" y="251.1" width=".9" height=".9" fill="#8a50a8" opacity=".85"/>
<rect x="446.5" y="248.8" width=".9" height=".9" fill="#dcc0e6" opacity=".85"/>
<rect x="453.6" y="238.9" width=".9" height=".9" fill="#b888cc" opacity=".85"/>
<rect x="451.0" y="248.4" width=".9" height=".9" fill="#d0a8e0" opacity=".85"/>
<rect x="454.3" y="239.6" width=".9" height=".9" fill="#dcc0e6" opacity=".85"/>
<rect x="455.8" y="244.4" width=".9" height=".9" fill="#d0a8e0" opacity=".85"/>
<rect x="459.6" y="251.3" width=".9" height=".9" fill="#a070c0" opacity=".85"/>
<rect x="443.8" y="253.4" width=".9" height=".9" fill="#b888cc" opacity=".85"/>
<rect x="452.9" y="247.2" width=".9" height=".9" fill="#dcc0e6" opacity=".85"/>
<rect x="458.8" y="245.9" width=".9" height=".9" fill="#a070c0" opacity=".85"/>
<rect x="450.2" y="248.6" width=".9" height=".9" fill="#8a50a8" opacity=".85"/>
<rect x="451.7" y="247.7" width=".9" height=".9" fill="#8a50a8" opacity=".85"/>
<rect x="459.7" y="251.1" width=".9" height=".9" fill="#8a50a8" opacity=".85"/>
<rect x="451.7" y="250.2" width=".9" height=".9" fill="#d0a8e0" opacity=".85"/>
<rect x="459.8" y="260.1" width=".9" height=".9" fill="#c8a0d8" opacity=".85"/>
<rect x="459.1" y="247.0" width=".9" height=".9" fill="#d0a8e0" opacity=".85"/>
<rect x="445.2" y="243.5" width=".9" height=".9" fill="#8a50a8" opacity=".85"/>
<rect x="451.1" y="251.8" width=".9" height=".9" fill="#a070c0" opacity=".85"/>
<rect x="454.1" y="252.7" width=".9" height=".9" fill="#b888cc" opacity=".85"/>
<rect x="435.0" y="242.0" width=".9" height=".9" fill="#a070c0" opacity=".85"/>
<rect x="447.4" y="247.4" width=".9" height=".9" fill="#d0a8e0" opacity=".85"/>
<rect x="444.4" y="251.2" width=".9" height=".9" fill="#d0a8e0" opacity=".85"/>
<rect x="452.2" y="241.4" width=".9" height=".9" fill="#c8a0d8" opacity=".85"/>
<rect x="453.5" y="254.6" width=".9" height=".9" fill="#c8a0d8" opacity=".85"/>
<rect x="460.7" y="256.8" width=".9" height=".9" fill="#a070c0" opacity=".85"/>
<rect x="448.2" y="250.8" width=".9" height=".9" fill="#b888cc" opacity=".85"/>
<rect x="449.0" y="254.1" width=".9" height=".9" fill="#dcc0e6" opacity=".85"/>
<rect x="450.7" y="248.0" width=".9" height=".9" fill="#8a50a8" opacity=".85"/>
<rect x="454.6" y="252.2" width=".9" height=".9" fill="#d0a8e0" opacity=".85"/>
<rect x="453.2" y="236.2" width=".9" height=".9" fill="#a070c0" opacity=".85"/>
<rect x="453.9" y="252.4" width=".9" height=".9" fill="#b888cc" opacity=".85"/>
<rect x="432.7" y="246.1" width=".9" height=".9" fill="#d0a8e0" opacity=".85"/>
<rect x="431.7" y="245.6" width=".9" height=".9" fill="#8a50a8" opacity=".85"/>
<rect x="456.2" y="244.6" width=".9" height=".9" fill="#dcc0e6" opacity=".85"/>
<rect x="438.6" y="242.1" width=".9" height=".9" fill="#dcc0e6" opacity=".85"/>
<rect x="441.1" y="236.4" width=".9" height=".9" fill="#8a50a8" opacity=".85"/>
<rect x="453.6" y="249.4" width=".9" height=".9" fill="#d0a8e0" opacity=".85"/>
<rect x="433.9" y="237.9" width=".9" height=".9" fill="#d0a8e0" opacity=".85"/>
<rect x="438.1" y="247.2" width=".9" height=".9" fill="#a070c0" opacity=".85"/>
<rect x="463.3" y="252.5" width=".9" height=".9" fill="#a070c0" opacity=".85"/>
<rect x="452.6" y="252.0" width=".9" height=".9" fill="#dcc0e6" opacity=".85"/>
<rect x="453.5" y="244.2" width=".9" height=".9" fill="#b888cc" opacity=".85"/>
<rect x="451.8" y="250.2" width=".9" height=".9" fill="#c8a0d8" opacity=".85"/>
<rect x="450.6" y="242.1" width=".9" height=".9" fill="#a070c0" opacity=".85"/>
<rect x="450.6" y="244.9" width=".9" height=".9" fill="#b888cc" opacity=".85"/>
<rect x="440.2" y="244.0" width=".9" height=".9" fill="#8a50a8" opacity=".85"/>
<rect x="439.6" y="239.8" width=".9" height=".9" fill="#8a50a8" opacity=".85"/>
<rect x="451.2" y="245.8" width=".9" height=".9" fill="#dcc0e6" opacity=".85"/>
<rect x="448.6" y="248.1" width=".9" height=".9" fill="#8a50a8" opacity=".85"/>
<rect x="453.9" y="246.2" width=".9" height=".9" fill="#d0a8e0" opacity=".85"/>
<rect x="444.9" y="254.6" width=".9" height=".9" fill="#8a50a8" opacity=".85"/>
<rect x="459.1" y="254.1" width=".9" height=".9" fill="#8a50a8" opacity=".85"/>
<rect x="447.0" y="242.7" width=".9" height=".9" fill="#c8a0d8" opacity=".85"/>
<rect x="455.4" y="235.9" width=".9" height=".9" fill="#b888cc" opacity=".85"/>
<rect x="457.7" y="250.9" width=".9" height=".9" fill="#a070c0" opacity=".85"/>
<rect x="465.2" y="240.1" width=".9" height=".9" fill="#b888cc" opacity=".85"/>
<rect x="447.5" y="242.4" width=".9" height=".9" fill="#a070c0" opacity=".85"/>
<rect x="443.7" y="248.3" width=".9" height=".9" fill="#b888cc" opacity=".85"/>
<rect x="457.4" y="233.2" width=".9" height=".9" fill="#b888cc" opacity=".85"/>
<rect x="445.9" y="249.1" width=".9" height=".9" fill="#d0a8e0" opacity=".85"/>
<rect x="452.2" y="243.5" width=".9" height=".9" fill="#dcc0e6" opacity=".85"/>
<rect x="457.3" y="243.9" width=".9" height=".9" fill="#dcc0e6" opacity=".85"/>
<rect x="452.3" y="241.8" width=".9" height=".9" fill="#b888cc" opacity=".85"/>
<rect x="445.7" y="241.7" width=".9" height=".9" fill="#a070c0" opacity=".85"/>
<rect x="437.6" y="246.0" width=".9" height=".9" fill="#d0a8e0" opacity=".85"/>
<rect x="446.7" y="246.9" width=".9" height=".9" fill="#a070c0" opacity=".85"/>
<rect x="444.8" y="256.5" width=".9" height=".9" fill="#d0a8e0" opacity=".85"/>
<rect x="449.8" y="250.3" width=".9" height=".9" fill="#a070c0" opacity=".85"/>
<rect x="450.3" y="251.8" width=".9" height=".9" fill="#8a50a8" opacity=".85"/>
<rect x="453.6" y="255.5" width=".9" height=".9" fill="#d0a8e0" opacity=".85"/>
<rect x="465.0" y="247.8" width=".9" height=".9" fill="#8a50a8" opacity=".85"/>
<rect x="445.0" y="245.4" width=".9" height=".9" fill="#c8a0d8" opacity=".85"/>
<rect x="455.9" y="246.0" width=".9" height=".9" fill="#c8a0d8" opacity=".85"/>
<rect x="459.3" y="243.1" width=".9" height=".9" fill="#a070c0" opacity=".85"/>
<rect x="449.4" y="245.8" width=".9" height=".9" fill="#c8a0d8" opacity=".85"/>
<rect x="466.1" y="251.1" width=".9" height=".9" fill="#b888cc" opacity=".85"/>
<rect x="446.6" y="245.1" width=".9" height=".9" fill="#dcc0e6" opacity=".85"/>
<rect x="453.7" y="247.4" width=".9" height=".9" fill="#dcc0e6" opacity=".85"/>
<rect x="442.4" y="240.1" width=".9" height=".9" fill="#8a50a8" opacity=".85"/>
<rect x="440.6" y="246.7" width=".9" height=".9" fill="#8a50a8" opacity=".85"/>
<rect x="448.7" y="252.6" width=".9" height=".9" fill="#8a50a8" opacity=".85"/>
<rect x="461.8" y="252.4" width=".9" height=".9" fill="#c8a0d8" opacity=".85"/>
<rect x="454.7" y="245.8" width=".9" height=".9" fill="#8a50a8" opacity=".85"/>
<rect x="459.4" y="249.8" width=".9" height=".9" fill="#dcc0e6" opacity=".85"/>
<rect x="453.8" y="247.4" width=".9" height=".9" fill="#dcc0e6" opacity=".85"/>
<rect x="457.4" y="251.1" width=".9" height=".9" fill="#d0a8e0" opacity=".85"/>
<rect x="460.8" y="251.7" width=".9" height=".9" fill="#8a50a8" opacity=".85"/>
<rect x="457.1" y="247.6" width=".9" height=".9" fill="#8a50a8" opacity=".85"/>
<rect x="446.9" y="251.8" width=".9" height=".9" fill="#dcc0e6" opacity=".85"/>
<rect x="458.4" y="241.3" width=".9" height=".9" fill="#dcc0e6" opacity=".85"/>
<rect x="461.3" y="253.5" width=".9" height=".9" fill="#c8a0d8" opacity=".85"/>
<rect x="448.9" y="237.1" width=".9" height=".9" fill="#b888cc" opacity=".85"/>
<rect x="453.0" y="236.4" width=".9" height=".9" fill="#d0a8e0" opacity=".85"/>
<rect x="444.1" y="246.3" width=".9" height=".9" fill="#b888cc" opacity=".85"/>
<rect x="453.5" y="240.6" width=".9" height=".9" fill="#dcc0e6" opacity=".85"/>
<rect x="454.1" y="246.2" width=".9" height=".9" fill="#b888cc" opacity=".85"/>
<rect x="449.4" y="247.1" width=".9" height=".9" fill="#8a50a8" opacity=".85"/>
<rect x="448.4" y="247.7" width=".9" height=".9" fill="#8a50a8" opacity=".85"/>
<rect x="452.6" y="237.1" width=".9" height=".9" fill="#b888cc" opacity=".85"/>
<rect x="452.5" y="248.2" width=".9" height=".9" fill="#b888cc" opacity=".85"/>
<rect x="438.1" y="241.7" width=".9" height=".9" fill="#dcc0e6" opacity=".85"/>
<rect x="441.5" y="248.6" width=".9" height=".9" fill="#c8a0d8" opacity=".85"/>
<rect x="446.6" y="253.8" width=".9" height=".9" fill="#b888cc" opacity=".85"/>
<rect x="454.1" y="241.7" width=".9" height=".9" fill="#b888cc" opacity=".85"/>
<rect x="449.2" y="245.2" width=".9" height=".9" fill="#b888cc" opacity=".85"/>
<rect x="444.0" y="244.7" width=".9" height=".9" fill="#dcc0e6" opacity=".85"/>
<rect x="449.0" y="257.0" width=".9" height=".9" fill="#b888cc" opacity=".85"/>
<rect x="446.3" y="246.1" width=".9" height=".9" fill="#a070c0" opacity=".85"/>
<rect x="444.9" y="250.4" width=".9" height=".9" fill="#d0a8e0" opacity=".85"/>
<rect x="451.1" y="236.4" width=".9" height=".9" fill="#a070c0" opacity=".85"/>
<rect x="457.0" y="244.9" width=".9" height=".9" fill="#c8a0d8" opacity=".85"/>
<rect x="435.2" y="233.8" width=".9" height=".9" fill="#c8a0d8" opacity=".85"/>
<rect x="446.1" y="250.9" width=".9" height=".9" fill="#dcc0e6" opacity=".85"/>
<rect x="442.7" y="244.1" width=".9" height=".9" fill="#a070c0" opacity=".85"/>
<rect x="442.7" y="251.1" width=".9" height=".9" fill="#8a50a8" opacity=".85"/>
<rect x="448.5" y="254.8" width=".9" height=".9" fill="#b888cc" opacity=".85"/>
<rect x="463.7" y="254.0" width=".9" height=".9" fill="#b888cc" opacity=".85"/>
<rect x="445.9" y="251.5" width=".9" height=".9" fill="#c8a0d8" opacity=".85"/>
<rect x="452.1" y="245.8" width=".9" height=".9" fill="#c8a0d8" opacity=".85"/>
<rect x="452.4" y="247.6" width=".9" height=".9" fill="#a070c0" opacity=".85"/>
<rect x="444.5" y="244.0" width=".9" height=".9" fill="#dcc0e6" opacity=".85"/>
<rect x="452.8" y="248.0" width=".9" height=".9" fill="#dcc0e6" opacity=".85"/>
<rect x="460.1" y="246.7" width=".9" height=".9" fill="#8a50a8" opacity=".85"/>
<rect x="455.6" y="247.6" width=".9" height=".9" fill="#b888cc" opacity=".85"/>
<rect x="448.4" y="247.8" width=".9" height=".9" fill="#d0a8e0" opacity=".85"/>
<rect x="449.7" y="246.9" width=".9" height=".9" fill="#dcc0e6" opacity=".85"/>
<rect x="452.5" y="255.7" width=".9" height=".9" fill="#8a50a8" opacity=".85"/>
<rect x="456.1" y="241.6" width=".9" height=".9" fill="#8a50a8" opacity=".85"/>
<rect x="454.8" y="243.3" width=".9" height=".9" fill="#dcc0e6" opacity=".85"/>
<rect x="461.0" y="245.3" width=".9" height=".9" fill="#c8a0d8" opacity=".85"/>
<rect x="448.5" y="253.2" width=".9" height=".9" fill="#8a50a8" opacity=".85"/>
<rect x="460.3" y="249.1" width=".9" height=".9" fill="#b888cc" opacity=".85"/>
<rect x="453.5" y="247.7" width=".9" height=".9" fill="#a070c0" opacity=".85"/>
<rect x="447.7" y="248.0" width=".9" height=".9" fill="#c8a0d8" opacity=".85"/>
<rect x="433.8" y="248.8" width=".9" height=".9" fill="#c8a0d8" opacity=".85"/>
<rect x="453.3" y="252.2" width=".9" height=".9" fill="#b888cc" opacity=".85"/>
<rect x="453.0" y="248.6" width=".9" height=".9" fill="#b888cc" opacity=".85"/>
<rect x="455.2" y="244.7" width=".9" height=".9" fill="#b888cc" opacity=".85"/>
<rect x="446.7" y="251.4" width=".9" height=".9" fill="#8a50a8" opacity=".85"/>
<rect x="445.8" y="237.8" width=".9" height=".9" fill="#dcc0e6" opacity=".85"/>
<rect x="450.3" y="250.8" width=".9" height=".9" fill="#d0a8e0" opacity=".85"/>
<rect x="455.9" y="248.7" width=".9" height=".9" fill="#c8a0d8" opacity=".85"/>
<rect x="460.3" y="246.7" width=".9" height=".9" fill="#a070c0" opacity=".85"/>
<rect x="446.3" y="241.3" width=".9" height=".9" fill="#a070c0" opacity=".85"/>
<rect x="467.0" y="241.9" width=".9" height=".9" fill="#dcc0e6" opacity=".85"/>
<rect x="453.9" y="248.6" width=".9" height=".9" fill="#dcc0e6" opacity=".85"/>
<rect x="440.8" y="242.1" width=".9" height=".9" fill="#d0a8e0" opacity=".85"/>
<rect x="454.6" y="247.5" width=".9" height=".9" fill="#d0a8e0" opacity=".85"/>
<rect x="432.9" y="241.9" width=".9" height=".9" fill="#dcc0e6" opacity=".85"/>
<rect x="453.2" y="250.8" width=".9" height=".9" fill="#a070c0" opacity=".85"/>
<rect x="452.2" y="251.0" width=".9" height=".9" fill="#d0a8e0" opacity=".85"/>
<rect x="448.3" y="254.1" width=".9" height=".9" fill="#a070c0" opacity=".85"/>
<rect x="449.2" y="252.5" width=".9" height=".9" fill="#b888cc" opacity=".85"/>
<rect x="445.0" y="240.6" width=".9" height=".9" fill="#d0a8e0" opacity=".85"/>
<rect x="442.1" y="243.5" width=".9" height=".9" fill="#d0a8e0" opacity=".85"/>
<rect x="454.1" y="246.6" width=".9" height=".9" fill="#d0a8e0" opacity=".85"/>
<rect x="461.7" y="239.5" width=".9" height=".9" fill="#b888cc" opacity=".85"/>
<rect x="448.8" y="244.7" width=".9" height=".9" fill="#dcc0e6" opacity=".85"/>
<rect x="455.8" y="243.4" width=".9" height=".9" fill="#dcc0e6" opacity=".85"/>
<rect x="449.6" y="248.4" width=".9" height=".9" fill="#c8a0d8" opacity=".85"/>
<rect x="452.6" y="251.7" width=".9" height=".9" fill="#dcc0e6" opacity=".85"/>
<rect x="439.8" y="251.1" width=".9" height=".9" fill="#dcc0e6" opacity=".85"/>
<rect x="457.4" y="245.2" width=".9" height=".9" fill="#8a50a8" opacity=".85"/>
<rect x="445.3" y="250.2" width=".9" height=".9" fill="#c8a0d8" opacity=".85"/>
<rect x="457.9" y="240.1" width=".9" height=".9" fill="#d0a8e0" opacity=".85"/>
<rect x="461.1" y="246.3" width=".9" height=".9" fill="#dcc0e6" opacity=".85"/>
<rect x="453.9" y="252.9" width=".9" height=".9" fill="#b888cc" opacity=".85"/>
<rect x="450.6" y="247.2" width=".9" height=".9" fill="#a070c0" opacity=".85"/>
<rect x="452.1" y="251.4" width=".9" height=".9" fill="#d0a8e0" opacity=".85"/>
<rect x="456.3" y="247.9" width=".9" height=".9" fill="#8a50a8" opacity=".85"/>
<rect x="465.2" y="251.2" width=".9" height=".9" fill="#d0a8e0" opacity=".85"/>
<rect x="458.4" y="248.8" width=".9" height=".9" fill="#8a50a8" opacity=".85"/>
<rect x="444.4" y="256.6" width=".9" height=".9" fill="#d0a8e0" opacity=".85"/>
<rect x="467.9" y="246.9" width=".9" height=".9" fill="#8a50a8" opacity=".85"/>
<rect x="455.3" y="238.0" width=".9" height=".9" fill="#8a50a8" opacity=".85"/>
<rect x="449.0" y="246.0" width=".9" height=".9" fill="#dcc0e6" opacity=".85"/>
<rect x="444.4" y="246.7" width=".9" height=".9" fill="#a070c0" opacity=".85"/>
<rect x="436.6" y="242.4" width=".9" height=".9" fill="#b888cc" opacity=".85"/>
<rect x="443.6" y="261.3" width=".9" height=".9" fill="#b888cc" opacity=".85"/>
<rect x="470.6" y="253.6" width=".9" height=".9" fill="#a070c0" opacity=".85"/>
<rect x="441.2" y="241.7" width=".9" height=".9" fill="#b888cc" opacity=".85"/>
<rect x="459.9" y="244.6" width=".9" height=".9" fill="#c8a0d8" opacity=".85"/>
<rect x="444.1" y="251.9" width=".9" height=".9" fill="#a070c0" opacity=".85"/>
<rect x="461.4" y="250.2" width=".9" height=".9" fill="#d0a8e0" opacity=".85"/>
<rect x="452.9" y="259.8" width=".9" height=".9" fill="#8a50a8" opacity=".85"/>
<rect x="453.5" y="250.3" width=".9" height=".9" fill="#8a50a8" opacity=".85"/>
<rect x="445.4" y="252.7" width=".9" height=".9" fill="#b888cc" opacity=".85"/>
<rect x="453.3" y="249.8" width=".9" height=".9" fill="#d0a8e0" opacity=".85"/>
<rect x="447.7" y="248.3" width=".9" height=".9" fill="#d0a8e0" opacity=".85"/>
<rect x="458.2" y="248.8" width=".9" height=".9" fill="#c8a0d8" opacity=".85"/>
<rect x="449.1" y="255.9" width=".9" height=".9" fill="#c8a0d8" opacity=".85"/>
<rect x="460.1" y="244.7" width=".9" height=".9" fill="#8a50a8" opacity=".85"/>
<rect x="457.7" y="244.3" width=".9" height=".9" fill="#d0a8e0" opacity=".85"/>
<rect x="438.1" y="245.4" width=".9" height=".9" fill="#a070c0" opacity=".85"/>
<rect x="453.5" y="246.0" width=".9" height=".9" fill="#c8a0d8" opacity=".85"/>
<rect x="447.3" y="243.4" width=".9" height=".9" fill="#d0a8e0" opacity=".85"/>
<rect x="444.5" y="247.3" width=".9" height=".9" fill="#d0a8e0" opacity=".85"/>
<rect x="455.3" y="246.1" width=".9" height=".9" fill="#dcc0e6" opacity=".85"/>
<rect x="465.5" y="252.3" width=".9" height=".9" fill="#b888cc" opacity=".85"/>
<rect x="432.8" y="247.8" width=".9" height=".9" fill="#b888cc" opacity=".85"/>
<rect x="451.4" y="247.1" width=".9" height=".9" fill="#dcc0e6" opacity=".85"/>
<rect x="452.1" y="249.0" width=".9" height=".9" fill="#c8a0d8" opacity=".85"/>
<rect x="466.8" y="248.1" width=".9" height=".9" fill="#dcc0e6" opacity=".85"/>
<rect x="454.2" y="232.8" width=".9" height=".9" fill="#d0a8e0" opacity=".85"/>
<rect x="457.6" y="251.5" width=".9" height=".9" fill="#a070c0" opacity=".85"/>
<rect x="462.2" y="248.3" width=".9" height=".9" fill="#dcc0e6" opacity=".85"/>
<rect x="458.0" y="246.6" width=".9" height=".9" fill="#b888cc" opacity=".85"/>
<rect x="443.9" y="249.4" width=".9" height=".9" fill="#d0a8e0" opacity=".85"/>
<rect x="452.5" y="257.9" width=".9" height=".9" fill="#dcc0e6" opacity=".85"/>
<rect x="454.2" y="256.9" width=".9" height=".9" fill="#dcc0e6" opacity=".85"/>
<rect x="441.2" y="252.4" width=".9" height=".9" fill="#a070c0" opacity=".85"/>
<rect x="453.2" y="253.9" width=".9" height=".9" fill="#dcc0e6" opacity=".85"/>
<rect x="449.9" y="253.8" width=".9" height=".9" fill="#a070c0" opacity=".85"/>
<rect x="446.3" y="246.1" width=".9" height=".9" fill="#8a50a8" opacity=".85"/>
<rect x="452.6" y="240.9" width=".9" height=".9" fill="#8a50a8" opacity=".85"/>
<rect x="450.0" y="252.9" width=".9" height=".9" fill="#8a50a8" opacity=".85"/>
<rect x="444.6" y="249.1" width=".9" height=".9" fill="#a070c0" opacity=".85"/>
<rect x="438.2" y="242.4" width=".9" height=".9" fill="#8a50a8" opacity=".85"/>
<rect x="457.3" y="249.9" width=".9" height=".9" fill="#dcc0e6" opacity=".85"/>
<rect x="462.8" y="249.7" width=".9" height=".9" fill="#a070c0" opacity=".85"/>
<rect x="451.9" y="248.3" width=".9" height=".9" fill="#d0a8e0" opacity=".85"/>
<rect x="446.9" y="252.0" width=".9" height=".9" fill="#b888cc" opacity=".85"/>
<rect x="458.7" y="261.0" width=".9" height=".9" fill="#8a50a8" opacity=".85"/>
<rect x="458.0" y="255.9" width=".9" height=".9" fill="#b888cc" opacity=".85"/>
<rect x="451.8" y="249.9" width=".9" height=".9" fill="#b888cc" opacity=".85"/>
<rect x="450.8" y="246.9" width=".9" height=".9" fill="#dcc0e6" opacity=".85"/>
<rect x="445.3" y="255.4" width=".9" height=".9" fill="#a070c0" opacity=".85"/>
<rect x="461.9" y="243.9" width=".9" height=".9" fill="#d0a8e0" opacity=".85"/>
<rect x="443.4" y="239.5" width=".9" height=".9" fill="#c8a0d8" opacity=".85"/>
<rect x="467.8" y="240.3" width=".9" height=".9" fill="#d0a8e0" opacity=".85"/>
<rect x="452.0" y="243.6" width=".9" height=".9" fill="#d0a8e0" opacity=".85"/>
<rect x="436.1" y="242.9" width=".9" height=".9" fill="#d0a8e0" opacity=".85"/>
<rect x="440.7" y="249.0" width=".9" height=".9" fill="#dcc0e6" opacity=".85"/>
<rect x="444.2" y="242.6" width=".9" height=".9" fill="#a070c0" opacity=".85"/>
<rect x="447.0" y="244.4" width=".9" height=".9" fill="#b888cc" opacity=".85"/>
<rect x="457.5" y="247.6" width=".9" height=".9" fill="#b888cc" opacity=".85"/>
<rect x="444.5" y="242.9" width=".9" height=".9" fill="#dcc0e6" opacity=".85"/>
<rect x="448.6" y="249.4" width=".9" height=".9" fill="#dcc0e6" opacity=".85"/>
<rect x="437.9" y="244.8" width=".9" height=".9" fill="#dcc0e6" opacity=".85"/>
<rect x="445.7" y="250.0" width=".9" height=".9" fill="#dcc0e6" opacity=".85"/>
<rect x="455.6" y="250.0" width=".9" height=".9" fill="#a070c0" opacity=".85"/>
<rect x="443.5" y="249.0" width=".9" height=".9" fill="#8a50a8" opacity=".85"/>
<rect x="443.9" y="253.2" width=".9" height=".9" fill="#a070c0" opacity=".85"/>
<rect x="446.2" y="249.6" width=".9" height=".9" fill="#a070c0" opacity=".85"/>
<rect x="452.1" y="248.7" width=".9" height=".9" fill="#a070c0" opacity=".85"/>
<rect x="453.8" y="243.6" width=".9" height=".9" fill="#c8a0d8" opacity=".85"/>
<rect x="454.6" y="250.9" width=".9" height=".9" fill="#8a50a8" opacity=".85"/>
<rect x="451.3" y="251.4" width=".9" height=".9" fill="#d0a8e0" opacity=".85"/>
<rect x="434.3" y="241.8" width=".9" height=".9" fill="#a070c0" opacity=".85"/>
<rect x="453.4" y="235.8" width=".9" height=".9" fill="#a070c0" opacity=".85"/>
<rect x="451.4" y="250.1" width=".9" height=".9" fill="#d0a8e0" opacity=".85"/>
<rect x="444.3" y="251.1" width=".9" height=".9" fill="#c8a0d8" opacity=".85"/>
<rect x="446.7" y="252.9" width=".9" height=".9" fill="#a070c0" opacity=".85"/>
<rect x="454.6" y="250.6" width=".9" height=".9" fill="#b888cc" opacity=".85"/>
<rect x="450.1" y="243.3" width=".9" height=".9" fill="#a070c0" opacity=".85"/>
<rect x="443.4" y="252.4" width=".9" height=".9" fill="#dcc0e6" opacity=".85"/>
<rect x="453.5" y="250.7" width=".9" height=".9" fill="#a070c0" opacity=".85"/>
<rect x="446.3" y="255.1" width=".9" height=".9" fill="#b888cc" opacity=".85"/>
<rect x="449.6" y="244.5" width=".9" height=".9" fill="#a070c0" opacity=".85"/>
<rect x="459.6" y="259.1" width=".9" height=".9" fill="#b888cc" opacity=".85"/>
<rect x="443.7" y="250.7" width=".9" height=".9" fill="#c8a0d8" opacity=".85"/>
<rect x="459.6" y="241.5" width=".9" height=".9" fill="#dcc0e6" opacity=".85"/>
<rect x="461.3" y="239.1" width=".9" height=".9" fill="#dcc0e6" opacity=".85"/>
<rect x="464.3" y="255.8" width=".9" height=".9" fill="#a070c0" opacity=".85"/>
<rect x="437.0" y="244.6" width=".9" height=".9" fill="#dcc0e6" opacity=".85"/>
<rect x="438.0" y="249.2" width=".9" height=".9" fill="#a070c0" opacity=".85"/>
<rect x="444.6" y="250.1" width=".9" height=".9" fill="#c8a0d8" opacity=".85"/>
<rect x="463.8" y="245.1" width=".9" height=".9" fill="#a070c0" opacity=".85"/>
<rect x="450.8" y="247.7" width=".9" height=".9" fill="#a070c0" opacity=".85"/>
<rect x="469.6" y="253.4" width=".9" height=".9" fill="#b888cc" opacity=".85"/>
<rect x="442.5" y="246.8" width=".9" height=".9" fill="#b888cc" opacity=".85"/>
<ellipse cx="451.2" cy="247.6" rx="10.00" ry="7.40" fill="url(#cl)"/>
<rect x="457.8" y="250.8" width="1" height="1" fill="#5a2080" opacity=".9"/>
<rect x="456.9" y="251.7" width="1" height="1" fill="#2c0848" opacity=".9"/>
<rect x="459.8" y="248.5" width="1" height="1" fill="#4a1470" opacity=".9"/>
<rect x="448.0" y="240.6" width="1" height="1" fill="#2c0848" opacity=".9"/>
<rect x="450.8" y="255.5" width="1" height="1" fill="#4a1470" opacity=".9"/>
<rect x="442.5" y="243.2" width="1" height="1" fill="#5a2080" opacity=".9"/>
<rect x="456.0" y="242.6" width="1" height="1" fill="#3a0a5a" opacity=".9"/>
<rect x="445.6" y="254.4" width="1" height="1" fill="#3a0a5a" opacity=".9"/>
<rect x="457.0" y="251.6" width="1" height="1" fill="#2c0848" opacity=".9"/>
<rect x="445.6" y="243.7" width="1" height="1" fill="#4a1470" opacity=".9"/>
<rect x="448.8" y="254.1" width="1" height="1" fill="#4a1470" opacity=".9"/>
<rect x="458.6" y="248.5" width="1" height="1" fill="#3a0a5a" opacity=".9"/>
<rect x="457.9" y="253.5" width="1" height="1" fill="#2c0848" opacity=".9"/>
<rect x="442.8" y="244.0" width="1" height="1" fill="#2c0848" opacity=".9"/>
<rect x="458.7" y="250.8" width="1" height="1" fill="#3a0a5a" opacity=".9"/>
<rect x="449.6" y="253.7" width="1" height="1" fill="#2c0848" opacity=".9"/>
<rect x="449.1" y="241.7" width="1" height="1" fill="#5a2080" opacity=".9"/>
<rect x="452.9" y="240.0" width="1" height="1" fill="#5a2080" opacity=".9"/>
<rect x="457.7" y="252.0" width="1" height="1" fill="#5a2080" opacity=".9"/>
<rect x="456.8" y="254.4" width="1" height="1" fill="#2c0848" opacity=".9"/>
<rect x="459.8" y="248.4" width="1" height="1" fill="#5a2080" opacity=".9"/>
<rect x="461.7" y="248.3" width="1" height="1" fill="#4a1470" opacity=".9"/>
<rect x="446.2" y="241.5" width="1" height="1" fill="#4a1470" opacity=".9"/>
<rect x="452.4" y="253.1" width="1" height="1" fill="#3a0a5a" opacity=".9"/>
<rect x="455.8" y="241.9" width="1" height="1" fill="#2c0848" opacity=".9"/>
<rect x="452.0" y="254.6" width="1" height="1" fill="#2c0848" opacity=".9"/>
<rect x="445.5" y="252.0" width="1" height="1" fill="#3a0a5a" opacity=".9"/>
<rect x="458.2" y="252.1" width="1" height="1" fill="#2c0848" opacity=".9"/>
<rect x="448.0" y="242.2" width="1" height="1" fill="#2c0848" opacity=".9"/>
<rect x="446.1" y="242.3" width="1" height="1" fill="#5a2080" opacity=".9"/>
<rect x="452.5" y="255.6" width="1" height="1" fill="#2c0848" opacity=".9"/>
<rect x="457.2" y="254.0" width="1" height="1" fill="#4a1470" opacity=".9"/>
<rect x="457.9" y="243.7" width="1" height="1" fill="#5a2080" opacity=".9"/>
<rect x="461.1" y="246.6" width="1" height="1" fill="#4a1470" opacity=".9"/>
<rect x="442.9" y="243.0" width="1" height="1" fill="#3a0a5a" opacity=".9"/>
<rect x="441.8" y="245.7" width="1" height="1" fill="#2c0848" opacity=".9"/>
<rect x="459.3" y="245.9" width="1" height="1" fill="#4a1470" opacity=".9"/>
<rect x="440.7" y="247.8" width="1" height="1" fill="#4a1470" opacity=".9"/>
<rect x="459.4" y="251.4" width="1" height="1" fill="#3a0a5a" opacity=".9"/>
<rect x="443.2" y="250.6" width="1" height="1" fill="#5a2080" opacity=".9"/>
<rect x="441.6" y="245.5" width="1" height="1" fill="#4a1470" opacity=".9"/>
<rect x="458.4" y="251.8" width="1" height="1" fill="#2c0848" opacity=".9"/>
<rect x="452.1" y="254.5" width="1" height="1" fill="#3a0a5a" opacity=".9"/>
<rect x="453.0" y="239.9" width="1" height="1" fill="#2c0848" opacity=".9"/>
<rect x="446.2" y="252.4" width="1" height="1" fill="#4a1470" opacity=".9"/>
<rect x="458.6" y="245.2" width="1" height="1" fill="#5a2080" opacity=".9"/>
<rect x="447.6" y="254.4" width="1" height="1" fill="#4a1470" opacity=".9"/>
<rect x="440.7" y="249.7" width="1" height="1" fill="#4a1470" opacity=".9"/>
<rect x="451.0" y="253.3" width="1" height="1" fill="#2c0848" opacity=".9"/>
<rect x="448.7" y="239.9" width="1" height="1" fill="#4a1470" opacity=".9"/>
<rect x="456.1" y="242.5" width="1" height="1" fill="#3a0a5a" opacity=".9"/>
<rect x="457.8" y="250.6" width="1" height="1" fill="#3a0a5a" opacity=".9"/>
<rect x="459.9" y="246.5" width="1" height="1" fill="#2c0848" opacity=".9"/>
<rect x="461.3" y="247.5" width="1" height="1" fill="#4a1470" opacity=".9"/>
<rect x="452.7" y="241.4" width="1" height="1" fill="#3a0a5a" opacity=".9"/>
<rect x="446.5" y="241.2" width="1" height="1" fill="#2c0848" opacity=".9"/>
<rect x="448.0" y="242.4" width="1" height="1" fill="#3a0a5a" opacity=".9"/>
<rect x="460.9" y="245.1" width="1" height="1" fill="#2c0848" opacity=".9"/>
<rect x="448.8" y="254.2" width="1" height="1" fill="#5a2080" opacity=".9"/>
<rect x="459.4" y="249.3" width="1" height="1" fill="#2c0848" opacity=".9"/>
<rect x="460.1" y="245.2" width="1" height="1" fill="#4a1470" opacity=".9"/>
<rect x="444.8" y="243.5" width="1" height="1" fill="#3a0a5a" opacity=".9"/>
<rect x="443.2" y="249.0" width="1" height="1" fill="#2c0848" opacity=".9"/>
<rect x="457.0" y="252.1" width="1" height="1" fill="#3a0a5a" opacity=".9"/>
<rect x="443.2" y="248.3" width="1" height="1" fill="#4a1470" opacity=".9"/>
<rect x="443.6" y="245.2" width="1" height="1" fill="#3a0a5a" opacity=".9"/>
<rect x="458.4" y="245.0" width="1" height="1" fill="#3a0a5a" opacity=".9"/>
<rect x="461.1" y="249.6" width="1" height="1" fill="#2c0848" opacity=".9"/>
<rect x="457.1" y="253.9" width="1" height="1" fill="#4a1470" opacity=".9"/>
<rect x="443.3" y="248.0" width="1" height="1" fill="#3a0a5a" opacity=".9"/>
<rect x="461.1" y="244.3" width="1" height="1" fill="#3a0a5a" opacity=".9"/>
<rect x="443.0" y="247.5" width="1" height="1" fill="#5a2080" opacity=".9"/>
<rect x="452.3" y="254.9" width="1" height="1" fill="#4a1470" opacity=".9"/>
<rect x="460.5" y="246.6" width="1" height="1" fill="#5a2080" opacity=".9"/>
<rect x="458.3" y="244.1" width="1" height="1" fill="#2c0848" opacity=".9"/>
<rect x="452.4" y="255.1" width="1" height="1" fill="#3a0a5a" opacity=".9"/>
<rect x="459.6" y="243.6" width="1" height="1" fill="#5a2080" opacity=".9"/>
<rect x="448.2" y="242.5" width="1" height="1" fill="#2c0848" opacity=".9"/>
<rect x="454.9" y="253.7" width="1" height="1" fill="#4a1470" opacity=".9"/>
<rect x="441.6" y="250.5" width="1" height="1" fill="#2c0848" opacity=".9"/>
<rect x="445.7" y="242.2" width="1" height="1" fill="#3a0a5a" opacity=".9"/>
<rect x="445.8" y="251.9" width="1" height="1" fill="#2c0848" opacity=".9"/>
<rect x="443.2" y="244.3" width="1" height="1" fill="#2c0848" opacity=".9"/>
<rect x="456.3" y="254.5" width="1" height="1" fill="#3a0a5a" opacity=".9"/>
<rect x="442.3" y="243.1" width="1" height="1" fill="#2c0848" opacity=".9"/>
<rect x="448.1" y="241.6" width="1" height="1" fill="#2c0848" opacity=".9"/>
<rect x="457.3" y="242.3" width="1" height="1" fill="#2c0848" opacity=".9"/>
<rect x="454.3" y="253.4" width="1" height="1" fill="#5a2080" opacity=".9"/>
<rect x="448.9" y="240.6" width="1" height="1" fill="#2c0848" opacity=".9"/>
<rect x="448.1" y="240.2" width="1" height="1" fill="#2c0848" opacity=".9"/>
<rect x="457.0" y="251.4" width="1" height="1" fill="#4a1470" opacity=".9"/>
<rect x="443.0" y="248.6" width="1" height="1" fill="#2c0848" opacity=".9"/>
<rect x="459.7" y="248.1" width="1" height="1" fill="#5a2080" opacity=".9"/>
<rect x="444.3" y="241.6" width="1" height="1" fill="#5a2080" opacity=".9"/>
<rect x="460.0" y="247.7" width="1" height="1" fill="#4a1470" opacity=".9"/>
<rect x="447.6" y="255.2" width="1" height="1" fill="#3a0a5a" opacity=".9"/>
<rect x="443.9" y="244.7" width="1" height="1" fill="#2c0848" opacity=".9"/>
<rect x="459.2" y="246.9" width="1" height="1" fill="#4a1470" opacity=".9"/>
<rect x="461.0" y="245.1" width="1" height="1" fill="#4a1470" opacity=".9"/>
<rect x="454.1" y="252.9" width="1" height="1" fill="#3a0a5a" opacity=".9"/>
<rect x="461.6" y="248.4" width="1" height="1" fill="#4a1470" opacity=".9"/>
<rect x="448.3" y="253.4" width="1" height="1" fill="#5a2080" opacity=".9"/>
<rect x="458.2" y="250.0" width="1" height="1" fill="#2c0848" opacity=".9"/>
<rect x="443.1" y="248.9" width="1" height="1" fill="#2c0848" opacity=".9"/>
<rect x="461.6" y="248.5" width="1" height="1" fill="#2c0848" opacity=".9"/>
<rect x="452.4" y="253.6" width="1" height="1" fill="#2c0848" opacity=".9"/>
<rect x="455.5" y="253.1" width="1" height="1" fill="#5a2080" opacity=".9"/>
<rect x="446.6" y="241.1" width="1" height="1" fill="#4a1470" opacity=".9"/>
<rect x="446.5" y="242.7" width="1" height="1" fill="#2c0848" opacity=".9"/>
<rect x="454.8" y="255.0" width="1" height="1" fill="#3a0a5a" opacity=".9"/>
<rect x="451.2" y="240.9" width="1" height="1" fill="#3a0a5a" opacity=".9"/>
<rect x="460.5" y="247.4" width="1" height="1" fill="#4a1470" opacity=".9"/>
<rect x="459.4" y="245.0" width="1" height="1" fill="#2c0848" opacity=".9"/>
<rect x="448.1" y="253.1" width="1" height="1" fill="#5a2080" opacity=".9"/>
<rect x="456.5" y="254.4" width="1" height="1" fill="#4a1470" opacity=".9"/>
<rect x="445.1" y="252.2" width="1" height="1" fill="#5a2080" opacity=".9"/>
<rect x="447.5" y="253.3" width="1" height="1" fill="#3a0a5a" opacity=".9"/>
<rect x="444.9" y="244.1" width="1" height="1" fill="#5a2080" opacity=".9"/>
<rect x="443.5" y="249.9" width="1" height="1" fill="#4a1470" opacity=".9"/>
<rect x="452.1" y="241.8" width="1" height="1" fill="#2c0848" opacity=".9"/>
<rect x="455.4" y="253.4" width="1" height="1" fill="#4a1470" opacity=".9"/>
<rect x="461.5" y="244.8" width="1" height="1" fill="#3a0a5a" opacity=".9"/>
<rect x="445.9" y="243.5" width="1" height="1" fill="#2c0848" opacity=".9"/>
<rect x="450.8" y="239.8" width="1" height="1" fill="#3a0a5a" opacity=".9"/>
<rect x="446.5" y="242.9" width="1" height="1" fill="#3a0a5a" opacity=".9"/>
<rect x="449.0" y="252.9" width="1" height="1" fill="#4a1470" opacity=".9"/>
<rect x="446.6" y="253.8" width="1" height="1" fill="#3a0a5a" opacity=".9"/>
<rect x="446.6" y="240.7" width="1" height="1" fill="#4a1470" opacity=".9"/>
<rect x="441.2" y="247.6" width="1" height="1" fill="#3a0a5a" opacity=".9"/>
<rect x="459.6" y="247.5" width="1" height="1" fill="#3a0a5a" opacity=".9"/>
<rect x="441.1" y="249.8" width="1" height="1" fill="#4a1470" opacity=".9"/>
<rect x="459.8" y="250.9" width="1" height="1" fill="#3a0a5a" opacity=".9"/>
<rect x="449.9" y="255.0" width="1" height="1" fill="#5a2080" opacity=".9"/>
<rect x="442.5" y="247.3" width="1" height="1" fill="#5a2080" opacity=".9"/>
<rect x="458.7" y="243.3" width="1" height="1" fill="#3a0a5a" opacity=".9"/>
<rect x="445.4" y="243.4" width="1" height="1" fill="#5a2080" opacity=".9"/>
<rect x="447.6" y="242.0" width="1" height="1" fill="#3a0a5a" opacity=".9"/>
<rect x="448.2" y="241.2" width="1" height="1" fill="#5a2080" opacity=".9"/>
<rect x="442.5" y="247.5" width="1" height="1" fill="#3a0a5a" opacity=".9"/>
<rect x="451.1" y="255.1" width="1" height="1" fill="#2c0848" opacity=".9"/>
<rect x="447.0" y="255.1" width="1" height="1" fill="#2c0848" opacity=".9"/>
<rect x="456.3" y="240.4" width="1" height="1" fill="#4a1470" opacity=".9"/>
<rect x="458.3" y="245.6" width="1" height="1" fill="#5a2080" opacity=".9"/>
<rect x="442.0" y="247.1" width="1" height="1" fill="#2c0848" opacity=".9"/>
<rect x="447.5" y="240.7" width="1" height="1" fill="#4a1470" opacity=".9"/>
<rect x="460.3" y="247.5" width="1" height="1" fill="#4a1470" opacity=".9"/>
<rect x="443.7" y="251.7" width="1" height="1" fill="#3a0a5a" opacity=".9"/>
<rect x="459.9" y="245.3" width="1" height="1" fill="#2c0848" opacity=".9"/>
<rect x="442.3" y="243.7" width="1" height="1" fill="#5a2080" opacity=".9"/>
<rect x="459.1" y="251.7" width="1" height="1" fill="#4a1470" opacity=".9"/>
<rect x="441.2" y="247.9" width="1" height="1" fill="#5a2080" opacity=".9"/>
<rect x="448.7" y="254.7" width="1" height="1" fill="#3a0a5a" opacity=".9"/>
<rect x="446.2" y="253.6" width="1" height="1" fill="#3a0a5a" opacity=".9"/>
<rect x="460.8" y="249.8" width="1" height="1" fill="#5a2080" opacity=".9"/>
<rect x="459.8" y="249.2" width="1" height="1" fill="#4a1470" opacity=".9"/>
<rect x="441.6" y="249.5" width="1" height="1" fill="#2c0848" opacity=".9"/>
<rect x="451.5" y="255.5" width="1" height="1" fill="#5a2080" opacity=".9"/>
<rect x="458.7" y="249.2" width="1" height="1" fill="#4a1470" opacity=".9"/>
<rect x="455.8" y="240.8" width="1" height="1" fill="#5a2080" opacity=".9"/>
<rect x="450.1" y="239.7" width="1" height="1" fill="#5a2080" opacity=".9"/>
<ellipse cx="450.9" cy="248.2" rx="2.6" ry="2.8" fill="url(#tl)"/>
<rect x="427.30" y="224.60" width="45.70" height="46.10" fill="none" stroke="#333" stroke-width="0.9"/>
<line x1="424.60" y1="226.70" x2="427.30" y2="226.70" stroke="#333" stroke-width="0.7" />
<text x="420.80" y="228.90" font-size="6.4" fill="#231f20" text-anchor="end">4</text>
<line x1="424.60" y1="237.30" x2="427.30" y2="237.30" stroke="#333" stroke-width="0.7" />
<line x1="424.60" y1="247.90" x2="427.30" y2="247.90" stroke="#333" stroke-width="0.7" />
<text x="420.80" y="250.10" font-size="6.4" fill="#231f20" text-anchor="end">0</text>
<line x1="424.60" y1="258.50" x2="427.30" y2="258.50" stroke="#333" stroke-width="0.7" />
<line x1="424.60" y1="269.00" x2="427.30" y2="269.00" stroke="#333" stroke-width="0.7" />
<text x="420.80" y="271.20" font-size="6.4" fill="#231f20" text-anchor="end">−4</text>
<line x1="431.80" y1="270.70" x2="431.80" y2="273.40" stroke="#333" stroke-width="0.7" />
<line x1="441.00" y1="270.70" x2="441.00" y2="273.40" stroke="#333" stroke-width="0.7" />
<line x1="450.20" y1="270.70" x2="450.20" y2="273.40" stroke="#333" stroke-width="0.7" />
<line x1="459.40" y1="270.70" x2="459.40" y2="273.40" stroke="#333" stroke-width="0.7" />
<line x1="469.20" y1="270.70" x2="469.20" y2="273.40" stroke="#333" stroke-width="0.7" />
<text x="431.80" y="283.00" font-size="6.3" fill="#231f20" text-anchor="middle">−10</text>
<text x="450.20" y="283.00" font-size="6.3" fill="#231f20" text-anchor="middle">0</text>
<text x="469.90" y="283.00" font-size="6.3" fill="#231f20" text-anchor="middle">10</text>
<text x="369.00" y="295.00" font-size="8.6" fill="#231f20" textLength="100.70" lengthAdjust="spacingAndGlyphs">RNA expression differences (log2)</text>
<text x="0" y="0" font-size="8.4" fill="#231f20" text-anchor="middle" textLength="52" lengthAdjust="spacingAndGlyphs" transform="translate(335.8 247.9) rotate(-90)">ATAC accessibility</text>
<text x="0" y="0" font-size="8.4" fill="#231f20" text-anchor="middle" textLength="50.7" lengthAdjust="spacingAndGlyphs" transform="translate(345.0 247.9) rotate(-90)">differences (log2)</text>
<text x="480.90" y="232.00" font-size="6.6" fill="#231f20" textLength="17.50" lengthAdjust="spacingAndGlyphs">Count</text>
<text x="477.70" y="238.80" font-size="6.6" fill="#231f20" textLength="36.00" lengthAdjust="spacingAndGlyphs">Progenitors/</text>
<text x="480.90" y="245.30" font-size="6.6" fill="#231f20" textLength="28.50" lengthAdjust="spacingAndGlyphs">Monocyte</text>
<rect x="479.80" y="249.00" width="2.40" height="17.00" fill="url(#vir)"/>
<text x="485.00" y="255.30" font-size="6.4" fill="#231f20" textLength="15.00" lengthAdjust="spacingAndGlyphs">60/90</text>
<text x="485.00" y="264.80" font-size="6.4" fill="#231f20" textLength="15.00" lengthAdjust="spacingAndGlyphs">20/30</text>
<text x="29.60" y="345.70" font-size="6.6" fill="#231f20" textLength="71.50" lengthAdjust="spacingAndGlyphs">ATAC-seq at Progenitors</text>
<text x="40.20" y="355.20" font-size="6.6" fill="#231f20" textLength="17.30" lengthAdjust="spacingAndGlyphs">Chr16</text>
<text x="39.10" y="365.10" font-size="6.3" fill="#231f20" textLength="20.10" lengthAdjust="spacingAndGlyphs">23,990</text>
<text x="49.15" y="372.40" font-size="6.3" fill="#231f20" text-anchor="middle">kb</text>
<text x="86.70" y="365.10" font-size="6.3" fill="#231f20" textLength="19.10" lengthAdjust="spacingAndGlyphs">24,016</text>
<text x="96.25" y="372.40" font-size="6.3" fill="#231f20" text-anchor="middle">kb</text>
<line x1="49.10" y1="376.80" x2="49.10" y2="379.50" stroke="#333" stroke-width="0.7" />
<line x1="96.30" y1="376.80" x2="96.30" y2="379.50" stroke="#333" stroke-width="0.7" />
<line x1="31.50" y1="381.20" x2="31.50" y2="401.70" stroke="#333" stroke-width="0.7" />
<line x1="28.90" y1="384.20" x2="31.50" y2="384.20" stroke="#333" stroke-width="0.7" />
<text x="26.60" y="386.30" font-size="6.7" fill="#231f20" text-anchor="end">34</text>
<path d="M31.30,399.00L31.30,398.9 31.50,398.6 31.70,397.6 31.90,396.3 32.10,393.5 32.30,393.6 32.50,394.8 32.70,395.8 32.90,397.2 33.10,397.3 33.30,396.5 33.50,396.0 33.70,396.7 33.90,397.3 34.10,398.4 34.30,398.8 34.50,399.0 34.70,399.0 34.90,399.0 35.10,399.0 35.30,399.0 35.50,398.7 35.70,398.0 35.90,395.8 36.10,391.8 36.30,385.8 36.50,381.0 36.70,383.9 36.90,383.9 37.10,387.5 37.30,387.4 37.50,386.8 37.70,386.9 37.90,384.9 38.10,385.4 38.30,384.2 38.50,389.3 38.70,392.6 38.90,394.9 39.10,392.8 39.30,387.7 39.50,382.3 39.70,383.7 39.90,383.5 40.10,388.1 40.30,386.8 40.50,389.9 40.70,389.2 40.90,389.2 41.10,390.0 41.30,391.3 41.50,392.8 41.70,395.6 41.90,397.1 42.10,397.2 42.30,396.4 42.50,396.4 42.70,396.4 42.90,397.5 43.10,398.3 43.30,398.8 43.50,399.0 43.70,399.0 43.90,399.0 44.10,399.0 44.30,399.0 44.50,399.0 44.70,399.0 44.90,399.0 45.10,399.0 45.30,399.0 45.50,399.0 45.70,399.0 45.90,399.0 46.10,399.0 46.30,399.0 46.50,399.0 46.70,399.0 46.90,399.0 47.10,399.0 47.30,398.9 47.50,398.7 47.70,398.5 47.90,398.3 48.10,398.3 48.30,398.4 48.50,398.7 48.70,398.9 48.90,399.0 49.10,399.0 49.30,399.0 49.50,399.0 49.70,399.0 49.90,399.0 50.10,399.0 50.30,399.0 50.50,399.0 50.70,399.0 50.90,399.0 51.10,399.0 51.30,398.9 51.50,398.7 51.70,398.5 51.90,398.2 52.10,398.3 52.30,398.5 52.50,398.7 52.70,398.9 52.90,399.0 53.10,399.0 53.30,399.0 53.50,399.0 53.70,399.0 53.90,399.0 54.10,399.0 54.30,399.0 54.50,399.0 54.70,399.0 54.90,399.0 55.10,399.0 55.30,399.0 55.50,399.0 55.70,399.0 55.90,399.0 56.10,399.0 56.30,399.0 56.50,399.0 56.70,399.0 56.90,399.0 57.10,399.0 57.30,399.0 57.50,399.0 57.70,399.0 57.90,399.0 58.10,399.0 58.30,399.0 58.50,399.0 58.70,399.0 58.90,399.0 59.10,399.0 59.30,399.0 59.50,399.0 59.70,399.0 59.90,399.0 60.10,399.0 60.30,399.0 60.50,398.9 60.70,398.6 60.90,397.8 61.10,396.0 61.30,394.0 61.50,390.8 61.70,387.8 61.90,388.3 62.10,391.2 62.30,394.2 62.50,395.6 62.70,397.4 62.90,397.9 63.10,398.4 63.30,398.8 63.50,398.9 63.70,399.0 63.90,399.0 64.10,399.0 64.30,399.0 64.50,399.0 64.70,399.0 64.90,399.0 65.10,399.0 65.30,399.0 65.50,399.0 65.70,399.0 65.90,399.0 66.10,399.0 66.30,399.0 66.50,399.0 66.70,399.0 66.90,399.0 67.10,399.0 67.30,399.0 67.50,399.0 67.70,399.0 67.90,399.0 68.10,399.0 68.30,399.0 68.50,399.0 68.70,399.0 68.90,399.0 69.10,399.0 69.30,399.0 69.50,399.0 69.70,399.0 69.90,399.0 70.10,399.0 70.30,399.0 70.50,399.0 70.70,399.0 70.90,399.0 71.10,399.0 71.30,399.0 71.50,399.0 71.70,399.0 71.90,399.0 72.10,399.0 72.30,399.0 72.50,399.0 72.70,399.0 72.90,399.0 73.10,399.0 73.30,399.0 73.50,399.0 73.70,399.0 73.90,399.0 74.10,399.0 74.30,399.0 74.50,399.0 74.70,399.0 74.90,399.0 75.10,399.0 75.30,399.0 75.50,399.0 75.70,399.0 75.90,399.0 76.10,399.0 76.30,399.0 76.50,399.0 76.70,399.0 76.90,399.0 77.10,399.0 77.30,399.0 77.50,399.0 77.70,399.0 77.90,399.0 78.10,399.0 78.30,399.0 78.50,399.0 78.70,399.0 78.90,399.0 79.10,399.0 79.30,399.0 79.50,399.0 79.70,399.0 79.90,399.0 80.10,399.0 80.30,399.0 80.50,399.0 80.70,399.0 80.90,399.0 81.10,399.0 81.30,399.0 81.50,399.0 81.70,399.0 81.90,399.0 82.10,399.0 82.30,399.0 82.50,399.0 82.70,399.0 82.90,399.0 83.10,399.0 83.30,399.0 83.50,399.0 83.70,399.0 83.90,399.0 84.10,399.0 84.30,399.0 84.50,399.0 84.70,399.0 84.90,399.0 85.10,399.0 85.30,399.0 85.50,399.0 85.70,399.0 85.90,399.0 86.10,399.0 86.30,399.0 86.50,399.0 86.70,399.0 86.90,399.0 87.10,399.0 87.30,399.0 87.50,399.0 87.70,399.0 87.90,399.0 88.10,399.0 88.30,399.0 88.50,399.0 88.70,399.0 88.90,399.0 89.10,399.0 89.30,399.0 89.50,399.0 89.70,399.0 89.90,399.0 90.10,399.0 90.30,399.0 90.50,399.0 90.70,399.0 90.90,399.0 91.10,399.0 91.30,399.0 91.50,399.0 91.70,399.0 91.90,399.0 92.10,399.0 92.30,399.0 92.50,399.0 92.70,399.0 92.90,399.0 93.10,399.0 93.30,399.0 93.50,399.0 93.70,399.0 93.90,399.0 94.10,399.0 94.30,399.0 94.50,399.0 94.70,399.0 94.90,399.0 95.10,399.0 95.30,399.0 95.50,399.0 95.70,399.0 95.90,399.0 96.10,399.0 96.30,398.9 96.50,398.9 96.70,398.8 96.90,398.6 97.10,398.4 97.30,397.9 97.50,397.0 97.70,396.2 97.90,395.0 98.10,393.5 98.30,392.4 98.50,390.1 98.70,388.8 98.90,390.0 99.10,389.5 99.30,389.7 99.50,387.6 99.70,384.8 99.90,386.1 100.10,386.2 100.30,385.8 100.50,384.5 100.70,382.1 100.90,382.9 101.10,382.8 101.30,383.2 101.50,386.3 101.70,385.3 101.90,385.3 102.10,386.7 102.30,387.9 102.50,390.7 102.70,391.5 102.90,392.3 103.10,394.2 103.30,394.6 103.50,395.6 103.70,396.8 103.90,397.7 104.10,398.1 104.30,398.4 104.50,398.7 104.70,398.8 104.90,398.9 105.10,398.9 105.30,399.0 105.40,399.00Z" fill="#104c8a" />
<line x1="31.30" y1="399.00" x2="105.40" y2="399.00" stroke="#104c8a" stroke-width="0.7" />
<path d="M31.30,416.60L31.30,416.6 31.50,416.5 31.70,416.2 31.90,415.6 32.10,414.8 32.30,414.5 32.50,414.9 32.70,415.5 32.90,416.1 33.10,416.4 33.30,416.6 33.50,416.6 33.70,416.6 33.90,416.6 34.10,416.6 34.30,416.6 34.50,416.6 34.70,416.6 34.90,416.6 35.10,416.6 35.30,416.6 35.50,416.6 35.70,416.5 35.90,416.0 36.10,414.9 36.30,411.3 36.50,407.8 36.70,401.8 36.90,401.8 37.10,402.9 37.30,403.5 37.50,404.0 37.70,405.4 37.90,408.2 38.10,408.9 38.30,405.0 38.50,402.2 38.70,400.6 38.90,403.9 39.10,409.1 39.30,409.7 39.50,409.7 39.70,411.5 39.90,413.0 40.10,415.4 40.30,415.9 40.50,415.7 40.70,415.0 40.90,414.7 41.10,414.8 41.30,415.2 41.50,415.9 41.70,416.3 41.90,416.5 42.10,416.6 42.30,416.6 42.50,416.6 42.70,416.6 42.90,416.6 43.10,416.6 43.30,416.6 43.50,416.6 43.70,416.6 43.90,416.6 44.10,416.6 44.30,416.6 44.50,416.6 44.70,416.6 44.90,416.6 45.10,416.6 45.30,416.6 45.50,416.6 45.70,416.6 45.90,416.6 46.10,416.6 46.30,416.6 46.50,416.6 46.70,416.6 46.90,416.6 47.10,416.6 47.30,416.6 47.50,416.6 47.70,416.6 47.90,416.6 48.10,416.6 48.30,416.6 48.50,416.6 48.70,416.6 48.90,416.6 49.10,416.6 49.30,416.6 49.50,416.6 49.70,416.6 49.90,416.6 50.10,416.6 50.30,416.6 50.50,416.6 50.70,416.6 50.90,416.6 51.10,416.6 51.30,416.6 51.50,416.6 51.70,416.6 51.90,416.6 52.10,416.6 52.30,416.6 52.50,416.6 52.70,416.6 52.90,416.6 53.10,416.6 53.30,416.6 53.50,416.6 53.70,416.6 53.90,416.6 54.10,416.6 54.30,416.6 54.50,416.6 54.70,416.6 54.90,416.6 55.10,416.6 55.30,416.6 55.50,416.6 55.70,416.6 55.90,416.6 56.10,416.6 56.30,416.6 56.50,416.6 56.70,416.6 56.90,416.6 57.10,416.6 57.30,416.6 57.50,416.6 57.70,416.6 57.90,416.6 58.10,416.6 58.30,416.6 58.50,416.6 58.70,416.6 58.90,416.6 59.10,416.6 59.30,416.6 59.50,416.6 59.70,416.6 59.90,416.6 60.10,416.6 60.30,416.6 60.50,416.6 60.70,416.6 60.90,416.5 61.10,416.3 61.30,415.8 61.50,415.5 61.70,415.2 61.90,415.4 62.10,415.7 62.30,416.3 62.50,416.5 62.70,416.6 62.90,416.6 63.10,416.6 63.30,416.6 63.50,416.6 63.70,416.6 63.90,416.6 64.10,416.6 64.30,416.6 64.50,416.6 64.70,416.6 64.90,416.6 65.10,416.6 65.30,416.6 65.50,416.6 65.70,416.6 65.90,416.6 66.10,416.6 66.30,416.6 66.50,416.6 66.70,416.6 66.90,416.6 67.10,416.6 67.30,416.6 67.50,416.6 67.70,416.6 67.90,416.6 68.10,416.6 68.30,416.6 68.50,416.6 68.70,416.6 68.90,416.6 69.10,416.6 69.30,416.6 69.50,416.6 69.70,416.6 69.90,416.6 70.10,416.6 70.30,416.6 70.50,416.6 70.70,416.6 70.90,416.6 71.10,416.6 71.30,416.6 71.50,416.6 71.70,416.6 71.90,416.6 72.10,416.6 72.30,416.6 72.50,416.6 72.70,416.6 72.90,416.6 73.10,416.6 73.30,416.6 73.50,416.6 73.70,416.6 73.90,416.6 74.10,416.6 74.30,416.6 74.50,416.6 74.70,416.6 74.90,416.6 75.10,416.6 75.30,416.6 75.50,416.6 75.70,416.6 75.90,416.6 76.10,416.6 76.30,416.6 76.50,416.6 76.70,416.6 76.90,416.6 77.10,416.6 77.30,416.6 77.50,416.6 77.70,416.6 77.90,416.6 78.10,416.6 78.30,416.6 78.50,416.6 78.70,416.6 78.90,416.6 79.10,416.6 79.30,416.6 79.50,416.6 79.70,416.6 79.90,416.6 80.10,416.6 80.30,416.6 80.50,416.6 80.70,416.6 80.90,416.6 81.10,416.6 81.30,416.6 81.50,416.6 81.70,416.6 81.90,416.6 82.10,416.6 82.30,416.6 82.50,416.6 82.70,416.6 82.90,416.6 83.10,416.6 83.30,416.6 83.50,416.6 83.70,416.6 83.90,416.6 84.10,416.6 84.30,416.6 84.50,416.6 84.70,416.6 84.90,416.6 85.10,416.6 85.30,416.6 85.50,416.6 85.70,416.6 85.90,416.6 86.10,416.6 86.30,416.6 86.50,416.6 86.70,416.6 86.90,416.6 87.10,416.6 87.30,416.6 87.50,416.6 87.70,416.6 87.90,416.6 88.10,416.6 88.30,416.6 88.50,416.6 88.70,416.6 88.90,416.6 89.10,416.6 89.30,416.6 89.50,416.6 89.70,416.6 89.90,416.6 90.10,416.6 90.30,416.6 90.50,416.6 90.70,416.6 90.90,416.6 91.10,416.6 91.30,416.6 91.50,416.6 91.70,416.6 91.90,416.6 92.10,416.6 92.30,416.6 92.50,416.6 92.70,416.6 92.90,416.6 93.10,416.6 93.30,416.6 93.50,416.6 93.70,416.6 93.90,416.6 94.10,416.6 94.30,416.6 94.50,416.6 94.70,416.6 94.90,416.6 95.10,416.6 95.30,416.6 95.50,416.6 95.70,416.6 95.90,416.6 96.10,416.6 96.30,416.6 96.50,416.6 96.70,416.5 96.90,416.5 97.10,416.5 97.30,416.4 97.50,416.4 97.70,416.2 97.90,416.1 98.10,415.9 98.30,415.6 98.50,415.4 98.70,414.9 98.90,414.6 99.10,414.2 99.30,413.9 99.50,413.3 99.70,413.5 99.90,413.2 100.10,412.1 100.30,411.8 100.50,412.0 100.70,411.7 100.90,411.8 101.10,412.0 101.30,412.3 101.50,413.2 101.70,413.9 101.90,414.0 102.10,414.1 102.30,414.6 102.50,415.3 102.70,415.5 102.90,415.7 103.10,416.0 103.30,416.1 103.50,416.2 103.70,416.3 103.90,416.4 104.10,416.5 104.30,416.5 104.50,416.5 104.70,416.6 104.90,416.6 105.10,416.6 105.30,416.6 105.40,416.60Z" fill="#f6b800" />
<line x1="31.30" y1="416.60" x2="105.40" y2="416.60" stroke="#f6b800" stroke-width="0.7" />
<path d="M31.30,434.40L31.30,434.4 31.50,434.2 31.70,434.0 31.90,433.5 32.10,432.6 32.30,432.1 32.50,432.7 32.70,433.1 32.90,433.7 33.10,433.5 33.30,433.2 33.50,432.9 33.70,433.1 33.90,433.5 34.10,434.1 34.30,434.3 34.50,434.4 34.70,434.4 34.90,434.4 35.10,434.4 35.30,434.4 35.50,434.3 35.70,433.9 35.90,432.5 36.10,428.9 36.30,422.5 36.50,420.3 36.70,420.5 36.90,418.4 37.10,420.5 37.30,421.7 37.50,425.2 37.70,426.0 37.90,426.2 38.10,421.2 38.30,421.3 38.50,421.4 38.70,424.2 38.90,426.0 39.10,427.8 39.30,424.0 39.50,424.9 39.70,425.4 39.90,429.3 40.10,431.0 40.30,429.6 40.50,426.2 40.70,425.5 40.90,425.2 41.10,428.3 41.30,430.8 41.50,432.1 41.70,431.9 41.90,431.4 42.10,431.6 42.30,432.5 42.50,433.3 42.70,434.0 42.90,434.3 43.10,434.4 43.30,434.4 43.50,434.4 43.70,434.4 43.90,434.4 44.10,434.4 44.30,434.4 44.50,434.4 44.70,434.4 44.90,434.4 45.10,434.4 45.30,434.4 45.50,434.4 45.70,434.4 45.90,434.4 46.10,434.4 46.30,434.4 46.50,434.4 46.70,434.4 46.90,434.4 47.10,434.4 47.30,434.4 47.50,434.4 47.70,434.4 47.90,434.4 48.10,434.4 48.30,434.4 48.50,434.4 48.70,434.4 48.90,434.4 49.10,434.4 49.30,434.4 49.50,434.4 49.70,434.4 49.90,434.4 50.10,434.4 50.30,434.4 50.50,434.4 50.70,434.4 50.90,434.4 51.10,434.4 51.30,434.4 51.50,434.4 51.70,434.4 51.90,434.4 52.10,434.4 52.30,434.4 52.50,434.4 52.70,434.4 52.90,434.4 53.10,434.4 53.30,434.4 53.50,434.4 53.70,434.4 53.90,434.4 54.10,434.4 54.30,434.4 54.50,434.4 54.70,434.4 54.90,434.4 55.10,434.4 55.30,434.4 55.50,434.4 55.70,434.4 55.90,434.4 56.10,434.4 56.30,434.4 56.50,434.4 56.70,434.4 56.90,434.4 57.10,434.4 57.30,434.4 57.50,434.4 57.70,434.4 57.90,434.4 58.10,434.4 58.30,434.4 58.50,434.4 58.70,434.4 58.90,434.4 59.10,434.4 59.30,434.4 59.50,434.4 59.70,434.4 59.90,434.4 60.10,434.4 60.30,434.4 60.50,434.3 60.70,434.1 60.90,433.5 61.10,432.0 61.30,429.9 61.50,427.4 61.70,427.5 61.90,427.0 62.10,429.7 62.30,432.0 62.50,433.5 62.70,434.0 62.90,434.3 63.10,434.4 63.30,434.4 63.50,434.4 63.70,434.4 63.90,434.4 64.10,434.4 64.30,434.4 64.50,434.4 64.70,434.4 64.90,434.4 65.10,434.4 65.30,434.4 65.50,434.4 65.70,434.4 65.90,434.4 66.10,434.4 66.30,434.4 66.50,434.4 66.70,434.4 66.90,434.4 67.10,434.4 67.30,434.4 67.50,434.4 67.70,434.4 67.90,434.4 68.10,434.4 68.30,434.4 68.50,434.4 68.70,434.4 68.90,434.4 69.10,434.4 69.30,434.4 69.50,434.4 69.70,434.4 69.90,434.4 70.10,434.4 70.30,434.4 70.50,434.4 70.70,434.4 70.90,434.4 71.10,434.4 71.30,434.4 71.50,434.4 71.70,434.4 71.90,434.4 72.10,434.4 72.30,434.4 72.50,434.4 72.70,434.4 72.90,434.4 73.10,434.4 73.30,434.4 73.50,434.4 73.70,434.4 73.90,434.4 74.10,434.4 74.30,434.4 74.50,434.4 74.70,434.4 74.90,434.4 75.10,434.4 75.30,434.4 75.50,434.4 75.70,434.4 75.90,434.4 76.10,434.4 76.30,434.4 76.50,434.4 76.70,434.4 76.90,434.4 77.10,434.4 77.30,434.4 77.50,434.4 77.70,434.4 77.90,434.4 78.10,434.4 78.30,434.4 78.50,434.4 78.70,434.4 78.90,434.4 79.10,434.4 79.30,434.4 79.50,434.4 79.70,434.4 79.90,434.4 80.10,434.4 80.30,434.4 80.50,434.4 80.70,434.4 80.90,434.4 81.10,434.4 81.30,434.4 81.50,434.4 81.70,434.4 81.90,434.4 82.10,434.4 82.30,434.4 82.50,434.4 82.70,434.4 82.90,434.4 83.10,434.4 83.30,434.4 83.50,434.4 83.70,434.4 83.90,434.4 84.10,434.4 84.30,434.4 84.50,434.4 84.70,434.4 84.90,434.4 85.10,434.4 85.30,434.4 85.50,434.4 85.70,434.4 85.90,434.4 86.10,434.4 86.30,434.4 86.50,434.4 86.70,434.4 86.90,434.4 87.10,434.4 87.30,434.4 87.50,434.4 87.70,434.4 87.90,434.4 88.10,434.4 88.30,434.4 88.50,434.4 88.70,434.4 88.90,434.4 89.10,434.4 89.30,434.4 89.50,434.4 89.70,434.4 89.90,434.4 90.10,434.4 90.30,434.4 90.50,434.4 90.70,434.4 90.90,434.4 91.10,434.4 91.30,434.4 91.50,434.4 91.70,434.4 91.90,434.4 92.10,434.4 92.30,434.4 92.50,434.4 92.70,434.4 92.90,434.4 93.10,434.4 93.30,434.4 93.50,434.4 93.70,434.4 93.90,434.4 94.10,434.4 94.30,434.4 94.50,434.4 94.70,434.4 94.90,434.4 95.10,434.4 95.30,434.4 95.50,434.4 95.70,434.3 95.90,434.3 96.10,434.3 96.30,434.2 96.50,434.2 96.70,434.0 96.90,433.8 97.10,433.6 97.30,433.4 97.50,432.9 97.70,432.1 97.90,432.1 98.10,431.0 98.30,430.9 98.50,429.9 98.70,429.3 98.90,427.6 99.10,426.4 99.30,425.3 99.50,424.8 99.70,424.0 99.90,424.8 100.10,424.1 100.30,424.4 100.50,421.5 100.70,424.5 100.90,422.2 101.10,423.9 101.30,422.7 101.50,424.3 101.70,423.0 101.90,424.0 102.10,424.3 102.30,426.8 102.50,425.8 102.70,428.0 102.90,427.7 103.10,429.1 103.30,430.4 103.50,430.9 103.70,431.9 103.90,432.5 104.10,433.0 104.30,433.6 104.50,433.9 104.70,434.1 104.90,434.2 105.10,434.3 105.30,434.3 105.40,434.40Z" fill="#2fa52b" />
<line x1="31.30" y1="434.40" x2="105.40" y2="434.40" stroke="#2fa52b" stroke-width="0.7" />
<path d="M31.30,452.20L31.30,451.5 31.50,449.9 31.70,448.1 31.90,447.1 32.10,446.1 32.30,447.9 32.50,449.4 32.70,450.1 32.90,449.4 33.10,448.5 33.30,449.0 33.50,450.1 33.70,450.8 33.90,451.8 34.10,452.0 34.30,451.7 34.50,451.2 34.70,450.3 34.90,449.4 35.10,449.6 35.30,449.9 35.50,451.1 35.70,451.4 35.90,449.9 36.10,447.0 36.30,442.5 36.50,439.4 36.70,434.8 36.90,438.8 37.10,439.0 37.30,438.3 37.50,435.7 37.70,440.8 37.90,441.0 38.10,440.1 38.30,439.3 38.50,437.2 38.70,439.7 38.90,443.5 39.10,444.2 39.30,444.8 39.50,441.6 39.70,443.9 39.90,444.6 40.10,448.9 40.30,449.8 40.50,450.0 40.70,448.3 40.90,446.8 41.10,446.8 41.30,447.7 41.50,450.0 41.70,451.3 41.90,451.4 42.10,450.6 42.30,449.5 42.50,449.1 42.70,449.7 42.90,450.5 43.10,451.4 43.30,452.0 43.50,452.1 43.70,452.2 43.90,452.2 44.10,452.1 44.30,452.0 44.50,451.6 44.70,451.2 44.90,450.6 45.10,450.8 45.30,451.0 45.50,451.7 45.70,452.0 45.90,452.1 46.10,452.2 46.30,452.2 46.50,452.2 46.70,452.2 46.90,452.2 47.10,452.2 47.30,452.2 47.50,452.2 47.70,452.2 47.90,452.2 48.10,452.2 48.30,452.2 48.50,452.2 48.70,452.2 48.90,452.2 49.10,452.2 49.30,452.1 49.50,451.9 49.70,451.6 49.90,451.2 50.10,451.1 50.30,451.5 50.50,451.9 50.70,452.0 50.90,452.2 51.10,452.2 51.30,452.2 51.50,452.2 51.70,452.2 51.90,452.2 52.10,452.2 52.30,452.2 52.50,452.2 52.70,452.2 52.90,452.2 53.10,452.2 53.30,452.2 53.50,452.2 53.70,452.2 53.90,452.2 54.10,452.2 54.30,452.2 54.50,452.2 54.70,452.2 54.90,452.2 55.10,452.2 55.30,452.2 55.50,452.2 55.70,452.2 55.90,452.2 56.10,452.2 56.30,452.2 56.50,452.2 56.70,452.2 56.90,452.2 57.10,452.2 57.30,452.2 57.50,452.2 57.70,452.2 57.90,452.2 58.10,452.2 58.30,452.2 58.50,452.2 58.70,452.2 58.90,452.2 59.10,452.2 59.30,452.2 59.50,452.2 59.70,452.2 59.90,452.2 60.10,452.2 60.30,452.2 60.50,452.1 60.70,451.8 60.90,451.2 61.10,449.1 61.30,447.1 61.50,444.5 61.70,444.6 61.90,444.8 62.10,446.3 62.30,449.2 62.50,450.9 62.70,451.9 62.90,452.1 63.10,452.2 63.30,452.2 63.50,452.2 63.70,452.2 63.90,452.2 64.10,452.2 64.30,452.2 64.50,452.2 64.70,452.2 64.90,452.2 65.10,452.2 65.30,452.2 65.50,452.2 65.70,452.2 65.90,452.2 66.10,452.2 66.30,452.2 66.50,452.2 66.70,452.2 66.90,452.2 67.10,452.2 67.30,452.2 67.50,452.2 67.70,452.2 67.90,452.2 68.10,452.2 68.30,452.2 68.50,452.2 68.70,452.2 68.90,452.2 69.10,452.2 69.30,452.2 69.50,452.2 69.70,452.2 69.90,452.2 70.10,452.2 70.30,452.2 70.50,452.2 70.70,452.2 70.90,452.2 71.10,452.2 71.30,452.2 71.50,452.2 71.70,452.2 71.90,452.2 72.10,452.2 72.30,452.2 72.50,452.2 72.70,452.2 72.90,452.2 73.10,452.2 73.30,452.2 73.50,452.2 73.70,452.2 73.90,452.2 74.10,452.2 74.30,452.2 74.50,452.2 74.70,452.2 74.90,452.2 75.10,452.2 75.30,452.2 75.50,452.2 75.70,452.2 75.90,452.2 76.10,452.2 76.30,452.2 76.50,452.2 76.70,452.2 76.90,452.2 77.10,452.2 77.30,452.2 77.50,452.2 77.70,452.2 77.90,452.2 78.10,452.2 78.30,452.2 78.50,452.2 78.70,452.2 78.90,452.2 79.10,452.2 79.30,452.2 79.50,452.2 79.70,452.2 79.90,452.2 80.10,452.2 80.30,452.2 80.50,452.2 80.70,452.2 80.90,452.2 81.10,452.2 81.30,452.2 81.50,452.2 81.70,452.2 81.90,452.2 82.10,452.2 82.30,452.2 82.50,452.2 82.70,452.2 82.90,452.2 83.10,452.2 83.30,452.2 83.50,452.2 83.70,452.2 83.90,452.2 84.10,452.2 84.30,452.2 84.50,452.2 84.70,452.2 84.90,452.2 85.10,452.2 85.30,452.2 85.50,452.2 85.70,452.2 85.90,452.2 86.10,452.2 86.30,452.2 86.50,452.2 86.70,452.2 86.90,452.2 87.10,452.2 87.30,452.2 87.50,452.2 87.70,452.2 87.90,452.2 88.10,452.2 88.30,452.2 88.50,452.2 88.70,452.2 88.90,452.2 89.10,452.2 89.30,452.2 89.50,452.2 89.70,452.2 89.90,452.2 90.10,452.2 90.30,452.2 90.50,452.2 90.70,452.2 90.90,452.2 91.10,452.2 91.30,452.2 91.50,452.2 91.70,452.2 91.90,452.2 92.10,452.2 92.30,452.2 92.50,452.2 92.70,452.2 92.90,452.2 93.10,452.2 93.30,452.2 93.50,452.2 93.70,452.2 93.90,452.2 94.10,452.2 94.30,452.2 94.50,452.2 94.70,452.2 94.90,452.2 95.10,452.2 95.30,452.2 95.50,452.2 95.70,452.1 95.90,452.1 96.10,452.0 96.30,451.8 96.50,451.7 96.70,451.3 96.90,450.9 97.10,450.5 97.30,449.6 97.50,448.8 97.70,447.5 97.90,446.4 98.10,446.2 98.30,445.8 98.50,444.2 98.70,444.9 98.90,442.9 99.10,443.7 99.30,444.8 99.50,444.1 99.70,445.7 99.90,445.4 100.10,446.3 100.30,446.2 100.50,446.2 100.70,446.3 100.90,447.4 101.10,448.0 101.30,448.0 101.50,448.0 101.70,448.3 101.90,449.0 102.10,449.3 102.30,450.0 102.50,450.6 102.70,450.7 102.90,451.1 103.10,451.4 103.30,451.6 103.50,451.8 103.70,451.9 103.90,452.0 104.10,452.1 104.30,452.1 104.50,452.1 104.70,452.2 104.90,452.2 105.10,452.2 105.30,452.2 105.40,452.20Z" fill="#de0f78" />
<line x1="31.30" y1="452.20" x2="105.40" y2="452.20" stroke="#de0f78" stroke-width="0.7" />
<rect x="56.60" y="381.80" width="9.90" height="70.40" fill="none" stroke="#8a8a8a" stroke-width="0.75"/>
<rect x="94.40" y="381.80" width="11.40" height="70.40" fill="none" stroke="#8a8a8a" stroke-width="0.75"/>
<text x="67.20" y="393.80" font-size="6.6" fill="#231f20" textLength="18.60" lengthAdjust="spacingAndGlyphs">Class1</text>
<text x="67.20" y="411.40" font-size="6.6" fill="#231f20" textLength="18.60" lengthAdjust="spacingAndGlyphs">Class2</text>
<text x="67.20" y="429.20" font-size="6.6" fill="#231f20" textLength="18.60" lengthAdjust="spacingAndGlyphs">Class3</text>
<text x="67.20" y="447.00" font-size="6.6" fill="#231f20" textLength="18.60" lengthAdjust="spacingAndGlyphs">Class4</text>
<rect x="32.70" y="458.40" width="1.80" height="1.60" fill="#111"/>
<line x1="34.50" y1="459.20" x2="37.10" y2="459.20" stroke="#111" stroke-width="0.6" />
<text x="32.70" y="469.60" font-size="6.6" fill="#231f20" textLength="12.10" lengthAdjust="spacingAndGlyphs">Bcl6</text>
<text x="124.70" y="344.60" font-size="6.6" fill="#231f20" textLength="52.10" lengthAdjust="spacingAndGlyphs">RNA-seq at Mono</text>
<text x="123.90" y="365.10" font-size="6.3" fill="#231f20" textLength="20.00" lengthAdjust="spacingAndGlyphs">23,970</text>
<text x="133.90" y="372.40" font-size="6.3" fill="#231f20" text-anchor="middle">kb</text>
<text x="148.80" y="365.10" font-size="6.3" fill="#231f20" textLength="19.30" lengthAdjust="spacingAndGlyphs">23,980</text>
<text x="158.45" y="372.40" font-size="6.3" fill="#231f20" text-anchor="middle">kb</text>
<line x1="137.60" y1="377.40" x2="137.60" y2="380.00" stroke="#333" stroke-width="0.7" />
<line x1="155.50" y1="377.40" x2="155.50" y2="380.00" stroke="#333" stroke-width="0.7" />
<line x1="127.00" y1="380.80" x2="127.00" y2="401.20" stroke="#333" stroke-width="0.7" />
<line x1="124.40" y1="383.30" x2="127.00" y2="383.30" stroke="#333" stroke-width="0.7" />
<text x="121.20" y="385.40" font-size="6.7" fill="#231f20" text-anchor="end">7.5</text>
<path d="M127.00,398.50L127.00,398.5 127.15,398.5 127.30,398.5 127.45,398.5 127.60,398.5 127.75,398.5 127.90,398.5 128.05,398.5 128.20,398.5 128.35,398.5 128.50,398.4 128.65,397.9 128.80,396.2 128.95,389.8 129.10,385.4 129.25,384.2 129.40,387.1 129.55,391.4 129.70,392.0 129.85,388.2 130.00,390.2 130.15,392.8 130.30,396.4 130.45,396.0 130.60,394.1 130.75,389.7 130.90,390.9 131.05,393.8 131.20,397.0 131.35,398.1 131.50,398.4 131.65,398.5 131.80,398.5 131.95,398.5 132.10,398.5 132.25,398.5 132.40,398.5 132.55,398.5 132.70,398.5 132.85,398.5 133.00,398.5 133.15,398.5 133.30,398.5 133.45,398.5 133.60,398.5 133.75,398.4 133.90,398.0 134.05,396.2 134.20,393.3 134.35,391.5 134.50,390.6 134.65,394.0 134.80,397.0 134.95,398.1 135.10,398.4 135.25,398.5 135.40,398.5 135.55,398.5 135.70,398.5 135.85,398.5 136.00,398.5 136.15,398.5 136.30,398.5 136.45,398.5 136.60,398.5 136.75,398.5 136.90,398.5 137.05,398.2 137.20,396.7 137.35,394.3 137.50,389.9 137.65,391.1 137.80,393.0 137.95,396.3 138.10,398.0 138.25,398.4 138.40,398.5 138.55,398.5 138.70,398.5 138.85,398.5 139.00,398.5 139.15,398.5 139.30,398.5 139.45,398.5 139.60,398.5 139.75,398.5 139.90,398.5 140.05,398.5 140.20,398.5 140.35,398.5 140.50,398.5 140.65,398.5 140.80,398.5 140.95,398.4 141.10,398.2 141.25,397.1 141.40,395.6 141.55,394.2 141.70,394.3 141.85,396.0 142.00,397.5 142.15,397.8 142.30,396.1 142.45,392.4 142.60,389.8 142.75,389.6 142.90,391.6 143.05,394.2 143.20,393.1 143.35,391.7 143.50,393.8 143.65,395.0 143.80,397.2 143.95,398.2 144.10,398.5 144.25,398.5 144.40,398.5 144.55,398.5 144.70,398.5 144.85,398.5 145.00,398.5 145.15,398.5 145.30,398.5 145.45,398.5 145.60,398.5 145.75,398.5 145.90,398.4 146.05,397.9 146.20,396.8 146.35,395.0 146.50,393.2 146.65,393.9 146.80,396.8 146.95,398.0 147.10,398.4 147.25,398.5 147.40,398.5 147.55,398.5 147.70,398.5 147.85,398.5 148.00,398.5 148.15,398.5 148.30,398.5 148.45,398.5 148.60,398.5 148.75,398.5 148.90,398.5 149.05,398.5 149.20,398.5 149.35,398.5 149.50,398.5 149.65,398.5 149.80,398.5 149.95,398.5 150.10,398.5 150.25,398.5 150.40,398.5 150.55,398.5 150.70,398.5 150.85,398.5 151.00,398.5 151.15,398.4 151.30,398.1 151.45,396.9 151.60,395.7 151.75,394.4 151.90,394.7 152.05,395.7 152.20,397.4 152.35,398.3 152.50,398.5 152.65,398.5 152.80,398.4 152.95,398.1 153.10,397.4 153.25,395.7 153.40,395.8 153.55,395.9 153.70,397.5 153.85,398.1 154.00,398.4 154.15,398.5 154.30,398.5 154.45,398.5 154.60,398.5 154.75,398.5 154.90,398.5 155.05,398.5 155.20,398.5 155.35,398.5 155.50,398.3 155.65,397.8 155.80,397.1 155.95,396.3 156.10,396.7 156.25,397.6 156.40,398.0 156.55,398.4 156.70,398.5 156.85,398.5 157.00,398.5 157.15,398.5 157.30,398.5 157.45,398.5 157.60,398.5 157.75,398.5 157.90,398.5 158.05,398.5 158.20,398.5 158.35,398.5 158.50,398.5 158.65,398.5 158.80,398.5 158.95,398.5 159.10,398.5 159.25,398.5 159.40,398.5 159.55,398.3 159.70,397.9 159.85,397.1 160.00,397.3 160.15,397.2 160.30,397.9 160.45,398.3 160.60,398.5 160.75,398.5 160.90,398.5 161.05,398.5 161.20,398.5 161.35,398.5 161.50,398.5 161.65,398.5 161.80,398.5 161.95,398.5 162.10,398.5 162.25,398.5 162.40,398.5 162.55,398.5 162.70,398.5 162.85,398.5 163.00,398.5 163.15,398.5 163.30,398.5 163.45,398.4 163.60,398.2 163.75,397.8 163.90,396.9 164.05,396.9 164.20,397.6 164.35,398.1 164.50,398.4 164.65,398.5 164.80,398.5 164.95,398.5 165.10,398.5 165.25,398.5 165.40,398.5 165.55,398.5 165.70,398.5 165.85,398.5 166.00,398.5 166.15,398.5 166.30,398.5 166.45,398.5 166.60,398.5 166.75,398.5 166.90,398.5 167.05,398.5 167.20,398.5 167.35,398.5 167.50,398.4 167.65,398.1 167.80,397.4 167.95,397.3 168.10,397.1 168.25,397.7 168.40,398.2 168.55,398.4 168.70,398.5 168.85,398.5 169.00,398.5 169.15,398.5 169.30,398.5 169.45,398.5 169.60,398.5 169.75,398.5 169.90,398.5 170.05,398.5 170.20,398.5 170.35,398.5 170.50,398.5 170.65,398.5 170.80,398.3 170.95,397.7 171.10,396.5 171.25,395.7 171.40,396.1 171.55,396.8 171.70,397.9 171.70,398.50Z" fill="#104c8a" />
<line x1="127.00" y1="398.50" x2="171.70" y2="398.50" stroke="#104c8a" stroke-width="0.7" />
<path d="M127.00,416.60L127.00,416.6 127.15,416.6 127.30,416.6 127.45,416.6 127.60,416.6 127.75,416.6 127.90,416.6 128.05,416.6 128.20,416.6 128.35,416.6 128.50,416.6 128.65,416.5 128.80,416.0 128.95,414.7 129.10,413.5 129.25,413.9 129.40,414.5 129.55,415.6 129.70,416.4 129.85,416.6 130.00,416.6 130.15,416.6 130.30,416.6 130.45,416.6 130.60,416.6 130.75,416.6 130.90,416.6 131.05,416.6 131.20,416.6 131.35,416.6 131.50,416.6 131.65,416.6 131.80,416.6 131.95,416.6 132.10,416.6 132.25,416.6 132.40,416.6 132.55,416.6 132.70,416.6 132.85,416.6 133.00,416.6 133.15,416.6 133.30,416.6 133.45,416.6 133.60,416.6 133.75,416.6 133.90,416.4 134.05,415.7 134.20,414.9 134.35,413.1 134.50,413.6 134.65,415.0 134.80,416.0 134.95,416.5 135.10,416.6 135.25,416.6 135.40,416.6 135.55,416.6 135.70,416.6 135.85,416.6 136.00,416.6 136.15,416.6 136.30,416.6 136.45,416.6 136.60,416.6 136.75,416.6 136.90,416.6 137.05,416.5 137.20,415.9 137.35,415.0 137.50,414.1 137.65,413.2 137.80,414.5 137.95,415.7 138.10,416.4 138.25,416.6 138.40,416.6 138.55,416.6 138.70,416.6 138.85,416.6 139.00,416.6 139.15,416.6 139.30,416.6 139.45,416.6 139.60,416.6 139.75,416.6 139.90,416.5 140.05,416.2 140.20,415.6 140.35,413.9 140.50,414.2 140.65,414.3 140.80,415.3 140.95,416.2 141.10,416.5 141.25,416.6 141.40,416.6 141.55,416.6 141.70,416.6 141.85,416.6 142.00,416.6 142.15,416.5 142.30,416.0 142.45,415.1 142.60,413.4 142.75,413.7 142.90,414.7 143.05,415.6 143.20,416.4 143.35,416.6 143.50,416.6 143.65,416.6 143.80,416.6 143.95,416.6 144.10,416.6 144.25,416.6 144.40,416.6 144.55,416.6 144.70,416.6 144.85,416.6 145.00,416.6 145.15,416.6 145.30,416.6 145.45,416.6 145.60,416.6 145.75,416.6 145.90,416.6 146.05,416.4 146.20,415.9 146.35,415.6 146.50,415.2 146.65,415.5 146.80,416.1 146.95,416.4 147.10,416.6 147.25,416.6 147.40,416.6 147.55,416.6 147.70,416.6 147.85,416.6 148.00,416.6 148.15,416.6 148.30,416.6 148.45,416.6 148.60,416.6 148.75,416.6 148.90,416.6 149.05,416.6 149.20,416.6 149.35,416.6 149.50,416.6 149.65,416.6 149.80,416.6 149.95,416.6 150.10,416.6 150.25,416.6 150.40,416.6 150.55,416.6 150.70,416.6 150.85,416.6 151.00,416.6 151.15,416.6 151.30,416.5 151.45,416.2 151.60,415.6 151.75,415.3 151.90,415.2 152.05,415.7 152.20,416.3 152.35,416.5 152.50,416.6 152.65,416.6 152.80,416.6 152.95,416.6 153.10,416.6 153.25,416.6 153.40,416.6 153.55,416.6 153.70,416.6 153.85,416.6 154.00,416.6 154.15,416.6 154.30,416.6 154.45,416.6 154.60,416.6 154.75,416.6 154.90,416.6 155.05,416.6 155.20,416.6 155.35,416.6 155.50,416.6 155.65,416.6 155.80,416.6 155.95,416.6 156.10,416.6 156.25,416.6 156.40,416.6 156.55,416.6 156.70,416.6 156.85,416.6 157.00,416.6 157.15,416.6 157.30,416.6 157.45,416.6 157.60,416.6 157.75,416.6 157.90,416.6 158.05,416.6 158.20,416.6 158.35,416.6 158.50,416.6 158.65,416.6 158.80,416.6 158.95,416.6 159.10,416.6 159.25,416.6 159.40,416.6 159.55,416.6 159.70,416.6 159.85,416.6 160.00,416.6 160.15,416.6 160.30,416.6 160.45,416.6 160.60,416.6 160.75,416.6 160.90,416.6 161.05,416.6 161.20,416.6 161.35,416.6 161.50,416.6 161.65,416.6 161.80,416.6 161.95,416.6 162.10,416.6 162.25,416.6 162.40,416.6 162.55,416.6 162.70,416.6 162.85,416.6 163.00,416.6 163.15,416.6 163.30,416.6 163.45,416.6 163.60,416.6 163.75,416.6 163.90,416.6 164.05,416.6 164.20,416.6 164.35,416.6 164.50,416.6 164.65,416.6 164.80,416.6 164.95,416.6 165.10,416.6 165.25,416.6 165.40,416.6 165.55,416.6 165.70,416.6 165.85,416.6 166.00,416.6 166.15,416.6 166.30,416.6 166.45,416.6 166.60,416.6 166.75,416.6 166.90,416.6 167.05,416.6 167.20,416.6 167.35,416.6 167.50,416.6 167.65,416.6 167.80,416.6 167.95,416.6 168.10,416.6 168.25,416.6 168.40,416.6 168.55,416.6 168.70,416.6 168.85,416.6 169.00,416.6 169.15,416.6 169.30,416.6 169.45,416.6 169.60,416.6 169.75,416.6 169.90,416.6 170.05,416.6 170.20,416.6 170.35,416.6 170.50,416.6 170.65,416.6 170.80,416.5 170.95,416.3 171.10,416.0 171.25,415.8 171.40,415.7 171.55,416.1 171.70,416.4 171.70,416.60Z" fill="#f6b800" />
<line x1="127.00" y1="416.60" x2="171.70" y2="416.60" stroke="#f6b800" stroke-width="0.7" />
<path d="M127.00,434.40L127.00,434.4 127.15,434.4 127.30,434.4 127.45,434.4 127.60,434.4 127.75,434.4 127.90,434.4 128.05,434.4 128.20,434.4 128.35,434.4 128.50,434.3 128.65,434.0 128.80,432.2 128.95,429.7 129.10,425.6 129.25,425.3 129.40,425.7 129.55,431.1 129.70,433.5 129.85,434.2 130.00,433.8 130.15,432.8 130.30,429.9 130.45,429.0 130.60,428.5 130.75,430.8 130.90,433.3 131.05,434.1 131.20,434.4 131.35,434.4 131.50,434.4 131.65,434.4 131.80,434.4 131.95,434.4 132.10,434.4 132.25,434.4 132.40,434.4 132.55,434.4 132.70,434.4 132.85,434.4 133.00,434.4 133.15,434.4 133.30,434.4 133.45,434.4 133.60,434.4 133.75,434.3 133.90,433.8 134.05,431.9 134.20,426.6 134.35,423.9 134.50,423.8 134.65,428.6 134.80,432.7 134.95,434.0 135.10,434.3 135.25,434.4 135.40,434.4 135.55,434.4 135.70,434.4 135.85,434.4 136.00,434.4 136.15,434.4 136.30,434.4 136.45,434.4 136.60,434.4 136.75,434.4 136.90,434.4 137.05,434.2 137.20,433.5 137.35,431.8 137.50,429.6 137.65,430.0 137.80,431.3 137.95,432.9 138.10,434.0 138.25,434.3 138.40,434.4 138.55,434.4 138.70,434.4 138.85,434.4 139.00,434.4 139.15,434.4 139.30,434.4 139.45,434.4 139.60,434.4 139.75,434.4 139.90,434.3 140.05,433.7 140.20,432.1 140.35,430.7 140.50,428.6 140.65,430.5 140.80,432.6 140.95,433.9 141.10,434.3 141.25,434.4 141.40,434.4 141.55,434.4 141.70,434.4 141.85,434.4 142.00,434.3 142.15,433.9 142.30,432.1 142.45,428.5 142.60,425.2 142.75,422.8 142.90,429.0 143.05,430.4 143.20,431.7 143.35,430.4 143.50,429.2 143.65,430.7 143.80,432.4 143.95,433.7 144.10,434.3 144.25,434.4 144.40,434.4 144.55,434.4 144.70,434.4 144.85,434.4 145.00,434.4 145.15,434.4 145.30,434.4 145.45,434.4 145.60,434.4 145.75,434.4 145.90,434.3 146.05,433.8 146.20,433.1 146.35,431.0 146.50,430.3 146.65,430.7 146.80,432.6 146.95,433.8 147.10,434.3 147.25,434.4 147.40,434.4 147.55,434.4 147.70,434.4 147.85,434.4 148.00,434.4 148.15,434.4 148.30,434.4 148.45,434.4 148.60,434.4 148.75,434.4 148.90,434.4 149.05,434.4 149.20,434.4 149.35,434.4 149.50,434.4 149.65,434.4 149.80,434.4 149.95,434.4 150.10,434.4 150.25,434.4 150.40,434.4 150.55,434.4 150.70,434.4 150.85,434.4 151.00,434.4 151.15,434.4 151.30,434.2 151.45,433.6 151.60,432.6 151.75,432.0 151.90,431.5 152.05,432.7 152.20,433.9 152.35,434.2 152.50,434.4 152.65,434.4 152.80,434.4 152.95,434.4 153.10,434.4 153.25,434.4 153.40,434.4 153.55,434.4 153.70,434.4 153.85,434.4 154.00,434.4 154.15,434.4 154.30,434.4 154.45,434.4 154.60,434.4 154.75,434.4 154.90,434.4 155.05,434.4 155.20,434.4 155.35,434.4 155.50,434.3 155.65,434.0 155.80,433.6 155.95,433.2 156.10,432.9 156.25,433.7 156.40,434.1 156.55,434.3 156.70,434.4 156.85,434.4 157.00,434.4 157.15,434.4 157.30,434.4 157.45,434.4 157.60,434.4 157.75,434.4 157.90,434.4 158.05,434.4 158.20,434.4 158.35,434.4 158.50,434.4 158.65,434.4 158.80,434.4 158.95,434.4 159.10,434.4 159.25,434.4 159.40,434.4 159.55,434.4 159.70,434.4 159.85,434.4 160.00,434.4 160.15,434.4 160.30,434.4 160.45,434.4 160.60,434.4 160.75,434.4 160.90,434.4 161.05,434.4 161.20,434.4 161.35,434.4 161.50,434.4 161.65,434.4 161.80,434.4 161.95,434.4 162.10,434.4 162.25,434.4 162.40,434.4 162.55,434.4 162.70,434.4 162.85,434.4 163.00,434.4 163.15,434.4 163.30,434.4 163.45,434.4 163.60,434.4 163.75,434.4 163.90,434.4 164.05,434.4 164.20,434.4 164.35,434.4 164.50,434.4 164.65,434.4 164.80,434.4 164.95,434.4 165.10,434.4 165.25,434.4 165.40,434.4 165.55,434.4 165.70,434.4 165.85,434.4 166.00,434.4 166.15,434.4 166.30,434.4 166.45,434.4 166.60,434.4 166.75,434.4 166.90,434.4 167.05,434.4 167.20,434.4 167.35,434.4 167.50,434.4 167.65,434.4 167.80,434.4 167.95,434.4 168.10,434.4 168.25,434.4 168.40,434.4 168.55,434.4 168.70,434.4 168.85,434.4 169.00,434.4 169.15,434.4 169.30,434.4 169.45,434.4 169.60,434.4 169.75,434.4 169.90,434.4 170.05,434.4 170.20,434.4 170.35,434.4 170.50,434.4 170.65,434.4 170.80,434.3 170.95,433.9 171.10,433.4 171.25,433.1 171.40,433.3 171.55,433.7 171.70,434.1 171.70,434.40Z" fill="#2fa52b" />
<line x1="127.00" y1="434.40" x2="171.70" y2="434.40" stroke="#2fa52b" stroke-width="0.7" />
<path d="M127.00,452.10L127.00,452.1 127.15,452.1 127.30,452.1 127.45,452.1 127.60,452.1 127.75,452.1 127.90,452.1 128.05,452.1 128.20,452.1 128.35,452.1 128.50,452.1 128.65,452.0 128.80,451.7 128.95,451.0 129.10,450.2 129.25,450.4 129.40,450.8 129.55,451.5 129.70,451.9 129.85,452.1 130.00,452.1 130.15,452.1 130.30,452.1 130.45,452.1 130.60,452.1 130.75,452.1 130.90,452.1 131.05,452.1 131.20,452.1 131.35,452.1 131.50,452.1 131.65,452.1 131.80,452.1 131.95,452.1 132.10,452.1 132.25,452.1 132.40,452.1 132.55,452.1 132.70,452.1 132.85,452.1 133.00,452.1 133.15,452.1 133.30,452.1 133.45,452.1 133.60,452.1 133.75,452.1 133.90,452.0 134.05,451.7 134.20,451.2 134.35,450.6 134.50,450.5 134.65,451.2 134.80,451.8 134.95,452.0 135.10,452.1 135.25,452.1 135.40,452.1 135.55,452.1 135.70,452.1 135.85,452.1 136.00,452.1 136.15,452.1 136.30,452.1 136.45,452.1 136.60,452.1 136.75,452.1 136.90,452.1 137.05,452.1 137.20,452.1 137.35,452.1 137.50,452.1 137.65,452.1 137.80,452.1 137.95,452.1 138.10,452.1 138.25,452.1 138.40,452.1 138.55,452.1 138.70,452.1 138.85,452.1 139.00,452.1 139.15,452.1 139.30,452.1 139.45,452.1 139.60,452.1 139.75,452.1 139.90,452.1 140.05,452.1 140.20,452.1 140.35,452.1 140.50,452.1 140.65,452.1 140.80,452.1 140.95,452.1 141.10,452.1 141.25,452.1 141.40,452.1 141.55,452.1 141.70,452.1 141.85,452.1 142.00,452.1 142.15,452.0 142.30,451.8 142.45,451.3 142.60,450.8 142.75,450.6 142.90,451.2 143.05,451.6 143.20,452.0 143.35,452.1 143.50,452.1 143.65,452.1 143.80,452.1 143.95,452.1 144.10,452.1 144.25,452.1 144.40,452.1 144.55,452.1 144.70,452.1 144.85,452.1 145.00,452.1 145.15,452.1 145.30,452.1 145.45,452.1 145.60,452.1 145.75,452.1 145.90,452.1 146.05,452.1 146.20,452.1 146.35,452.1 146.50,452.1 146.65,452.1 146.80,452.1 146.95,452.1 147.10,452.1 147.25,452.1 147.40,452.1 147.55,452.1 147.70,452.1 147.85,452.1 148.00,452.1 148.15,452.1 148.30,452.1 148.45,452.1 148.60,452.1 148.75,452.1 148.90,452.1 149.05,452.1 149.20,452.1 149.35,452.1 149.50,452.1 149.65,452.1 149.80,452.1 149.95,452.1 150.10,452.1 150.25,452.1 150.40,452.1 150.55,452.1 150.70,452.1 150.85,452.1 151.00,452.1 151.15,452.1 151.30,452.0 151.45,451.8 151.60,451.4 151.75,451.1 151.90,451.1 152.05,451.6 152.20,451.9 152.35,452.1 152.50,452.1 152.65,452.1 152.80,452.1 152.95,452.1 153.10,452.1 153.25,452.1 153.40,452.1 153.55,452.1 153.70,452.1 153.85,452.1 154.00,452.1 154.15,452.1 154.30,452.1 154.45,452.1 154.60,452.1 154.75,452.1 154.90,452.1 155.05,452.1 155.20,452.1 155.35,452.1 155.50,452.1 155.65,452.1 155.80,452.1 155.95,452.1 156.10,452.1 156.25,452.1 156.40,452.1 156.55,452.1 156.70,452.1 156.85,452.1 157.00,452.1 157.15,452.1 157.30,452.1 157.45,452.1 157.60,452.1 157.75,452.1 157.90,452.1 158.05,452.1 158.20,452.1 158.35,452.1 158.50,452.1 158.65,452.1 158.80,452.1 158.95,452.1 159.10,452.1 159.25,452.1 159.40,452.1 159.55,452.1 159.70,452.1 159.85,452.1 160.00,452.1 160.15,452.1 160.30,452.1 160.45,452.1 160.60,452.1 160.75,452.1 160.90,452.1 161.05,452.1 161.20,452.1 161.35,452.1 161.50,452.1 161.65,452.1 161.80,452.1 161.95,452.1 162.10,452.1 162.25,452.1 162.40,452.1 162.55,452.1 162.70,452.1 162.85,452.1 163.00,452.1 163.15,452.1 163.30,452.1 163.45,452.1 163.60,452.1 163.75,452.1 163.90,452.1 164.05,452.1 164.20,452.1 164.35,452.1 164.50,452.1 164.65,452.1 164.80,452.1 164.95,452.1 165.10,452.1 165.25,452.1 165.40,452.1 165.55,452.1 165.70,452.1 165.85,452.1 166.00,452.1 166.15,452.1 166.30,452.1 166.45,452.1 166.60,452.1 166.75,452.1 166.90,452.1 167.05,452.1 167.20,452.1 167.35,452.1 167.50,452.1 167.65,452.1 167.80,452.1 167.95,452.1 168.10,452.1 168.25,452.1 168.40,452.1 168.55,452.1 168.70,452.1 168.85,452.1 169.00,452.1 169.15,452.1 169.30,452.1 169.45,452.1 169.60,452.1 169.75,452.1 169.90,452.1 170.05,452.1 170.20,452.1 170.35,452.1 170.50,452.1 170.65,452.1 170.80,452.1 170.95,452.1 171.10,452.1 171.25,452.1 171.40,452.1 171.55,452.1 171.70,452.1 171.70,452.10Z" fill="#de0f78" />
<line x1="127.00" y1="452.10" x2="171.70" y2="452.10" stroke="#de0f78" stroke-width="0.7" />
<rect x="127.70" y="381.30" width="19.80" height="70.80" fill="none" stroke="#8a8a8a" stroke-width="0.75"/>
<line x1="129.20" y1="459.70" x2="171.10" y2="459.70" stroke="#111" stroke-width="1.0" />
<rect x="141.50" y="458.80" width="2.60" height="1.80" fill="#111"/>
<line x1="133.00" y1="458.90" x2="133.80" y2="459.70" stroke="#111" stroke-width="0.5" />
<line x1="137.00" y1="458.90" x2="137.80" y2="459.70" stroke="#111" stroke-width="0.5" />
<line x1="147.00" y1="458.90" x2="147.80" y2="459.70" stroke="#111" stroke-width="0.5" />
<line x1="152.00" y1="458.90" x2="152.80" y2="459.70" stroke="#111" stroke-width="0.5" />
<line x1="157.00" y1="458.90" x2="157.80" y2="459.70" stroke="#111" stroke-width="0.5" />
<line x1="162.00" y1="458.90" x2="162.80" y2="459.70" stroke="#111" stroke-width="0.5" />
<line x1="167.00" y1="458.90" x2="167.80" y2="459.70" stroke="#111" stroke-width="0.5" />
<path d="M129.0,459.7 L131.0,458.6 L131.0,460.8 Z" fill="#111" />
<text x="141.40" y="469.80" font-size="6.6" fill="#231f20" textLength="12.00" lengthAdjust="spacingAndGlyphs">Bcl6</text>
<text x="195.60" y="349.90" font-size="6.6" fill="#231f20" textLength="71.80" lengthAdjust="spacingAndGlyphs">ATAC-seq at Progenitors</text>
<text x="208.60" y="360.00" font-size="6.6" fill="#231f20" textLength="18.10" lengthAdjust="spacingAndGlyphs">Chr16</text>
<text x="207.70" y="369.80" font-size="6.3" fill="#231f20" textLength="19.30" lengthAdjust="spacingAndGlyphs">87,680</text>
<text x="217.35" y="377.10" font-size="6.3" fill="#231f20" text-anchor="middle">kb</text>
<text x="254.00" y="369.80" font-size="6.3" fill="#231f20" textLength="19.30" lengthAdjust="spacingAndGlyphs">87,700</text>
<text x="263.65" y="377.10" font-size="6.3" fill="#231f20" text-anchor="middle">kb</text>
<line x1="217.60" y1="382.00" x2="217.60" y2="385.00" stroke="#333" stroke-width="0.7" />
<line x1="240.60" y1="382.00" x2="240.60" y2="385.00" stroke="#333" stroke-width="0.7" />
<line x1="263.90" y1="382.00" x2="263.90" y2="385.00" stroke="#333" stroke-width="0.7" />
<line x1="196.40" y1="386.10" x2="196.40" y2="407.10" stroke="#333" stroke-width="0.7" />
<line x1="193.80" y1="388.80" x2="196.40" y2="388.80" stroke="#333" stroke-width="0.7" />
<text x="190.60" y="391.70" font-size="6.7" fill="#231f20" text-anchor="end">28</text>
<path d="M196.40,404.40L196.40,404.4 196.55,404.4 196.70,404.4 196.85,404.4 197.00,404.4 197.15,404.3 197.30,403.9 197.45,402.7 197.60,400.4 197.75,395.4 197.90,392.6 198.05,390.1 198.20,387.0 198.35,390.0 198.50,394.1 198.65,396.6 198.80,399.2 198.95,400.1 199.10,401.1 199.25,403.0 199.40,403.8 199.55,404.2 199.70,404.3 199.85,404.4 200.00,404.4 200.15,404.4 200.30,404.4 200.45,404.4 200.60,404.4 200.75,404.4 200.90,404.4 201.05,404.4 201.20,404.4 201.35,404.4 201.50,404.4 201.65,404.4 201.80,404.4 201.95,404.4 202.10,404.4 202.25,404.4 202.40,404.4 202.55,404.4 202.70,404.4 202.85,404.4 203.00,404.4 203.15,404.4 203.30,404.4 203.45,404.4 203.60,404.4 203.75,404.4 203.90,404.4 204.05,404.4 204.20,404.4 204.35,404.3 204.50,404.2 204.65,404.0 204.80,403.8 204.95,403.7 205.10,403.6 205.25,403.8 205.40,404.1 205.55,404.2 205.70,404.4 205.85,404.4 206.00,404.4 206.15,404.4 206.30,404.4 206.45,404.4 206.60,404.4 206.75,404.4 206.90,404.4 207.05,404.4 207.20,404.4 207.35,404.4 207.50,404.4 207.65,404.4 207.80,404.4 207.95,404.4 208.10,404.4 208.25,404.4 208.40,404.4 208.55,404.4 208.70,404.4 208.85,404.4 209.00,404.4 209.15,404.4 209.30,404.4 209.45,404.4 209.60,404.4 209.75,404.4 209.90,404.4 210.05,404.4 210.20,404.4 210.35,404.4 210.50,404.4 210.65,404.4 210.80,404.4 210.95,404.4 211.10,404.4 211.25,404.4 211.40,404.3 211.55,404.1 211.70,404.0 211.85,403.7 212.00,403.7 212.15,403.6 212.30,403.9 212.45,404.1 212.60,404.3 212.75,404.4 212.90,404.4 213.05,404.4 213.20,404.4 213.35,404.4 213.50,404.4 213.65,404.4 213.80,404.4 213.95,404.4 214.10,404.4 214.25,404.4 214.40,404.4 214.55,404.4 214.70,404.4 214.85,404.4 215.00,404.4 215.15,404.4 215.30,404.4 215.45,404.4 215.60,404.4 215.75,404.4 215.90,404.4 216.05,404.4 216.20,404.4 216.35,404.4 216.50,404.4 216.65,404.4 216.80,404.4 216.95,404.4 217.10,404.4 217.25,404.4 217.40,404.4 217.55,404.4 217.70,404.4 217.85,404.4 218.00,404.4 218.15,404.4 218.30,404.4 218.45,404.4 218.60,404.4 218.75,404.4 218.90,404.4 219.05,404.4 219.20,404.4 219.35,404.4 219.50,404.4 219.65,404.4 219.80,404.4 219.95,404.4 220.10,404.4 220.25,404.4 220.40,404.4 220.55,404.4 220.70,404.4 220.85,404.4 221.00,404.4 221.15,404.4 221.30,404.4 221.45,404.4 221.60,404.4 221.75,404.3 221.90,404.2 222.05,403.7 222.20,402.6 222.35,400.9 222.50,398.7 222.65,397.0 222.80,395.8 222.95,398.3 223.10,401.2 223.25,403.0 223.40,403.8 223.55,404.2 223.70,404.4 223.85,404.4 224.00,404.4 224.15,404.4 224.30,404.4 224.45,404.4 224.60,404.4 224.75,404.4 224.90,404.4 225.05,404.4 225.20,404.4 225.35,404.4 225.50,404.4 225.65,404.4 225.80,404.4 225.95,404.4 226.10,404.4 226.25,404.4 226.40,404.4 226.55,404.4 226.70,404.4 226.85,404.4 227.00,404.4 227.15,404.4 227.30,404.4 227.45,404.4 227.60,404.4 227.75,404.4 227.90,404.4 228.05,404.4 228.20,404.4 228.35,404.4 228.50,404.4 228.65,404.4 228.80,404.4 228.95,404.4 229.10,404.4 229.25,404.4 229.40,404.4 229.55,404.4 229.70,404.4 229.85,404.4 230.00,404.4 230.15,404.4 230.30,404.4 230.45,404.4 230.60,404.4 230.75,404.4 230.90,404.4 231.05,404.4 231.20,404.4 231.35,404.2 231.50,403.9 231.65,403.4 231.80,402.8 231.95,402.4 232.10,402.4 232.25,402.8 232.40,403.5 232.55,404.1 232.70,404.3 232.85,404.4 233.00,404.4 233.15,404.4 233.30,404.4 233.45,404.4 233.60,404.4 233.75,404.4 233.90,404.4 234.05,404.4 234.20,404.4 234.35,404.4 234.50,404.4 234.65,404.4 234.80,404.4 234.95,404.4 235.10,404.4 235.25,404.4 235.40,404.4 235.55,404.4 235.70,404.4 235.85,404.4 236.00,404.4 236.15,404.4 236.30,404.4 236.45,404.4 236.60,404.4 236.75,404.4 236.90,404.4 237.05,404.4 237.20,404.4 237.35,404.4 237.50,404.4 237.65,404.4 237.80,404.4 237.95,404.4 238.10,404.4 238.25,404.4 238.40,404.4 238.55,404.4 238.70,404.3 238.85,404.1 239.00,403.2 239.15,401.5 239.30,399.7 239.45,396.8 239.60,396.2 239.75,396.8 239.90,397.9 240.05,399.5 240.20,400.3 240.35,400.9 240.50,401.6 240.65,402.7 240.80,403.8 240.95,404.1 241.10,404.3 241.25,404.4 241.40,404.4 241.55,404.4 241.70,404.4 241.85,404.4 242.00,404.4 242.15,404.4 242.30,404.4 242.45,404.4 242.60,404.4 242.75,404.4 242.90,404.4 243.05,404.4 243.20,404.4 243.35,404.4 243.50,404.4 243.65,404.4 243.80,404.4 243.95,404.4 244.10,404.4 244.25,404.4 244.40,404.3 244.55,404.0 244.70,403.8 244.85,403.4 245.00,403.4 245.15,403.6 245.30,403.9 245.45,404.1 245.60,404.3 245.75,404.4 245.90,404.4 246.05,404.4 246.20,404.4 246.35,404.4 246.50,404.4 246.65,404.4 246.80,404.4 246.95,404.4 247.10,404.4 247.25,404.4 247.40,404.4 247.55,404.4 247.70,404.4 247.85,404.4 248.00,404.4 248.15,404.4 248.30,404.4 248.45,404.4 248.60,404.4 248.75,404.4 248.90,404.4 249.05,404.4 249.20,404.3 249.35,404.2 249.50,403.9 249.65,403.3 249.80,402.7 249.95,402.2 250.10,402.3 250.25,402.9 250.40,403.6 250.55,404.0 250.70,404.3 250.85,404.4 251.00,404.4 251.15,404.4 251.30,404.4 251.45,404.4 251.60,404.4 251.75,404.4 251.90,404.4 252.05,404.4 252.20,404.4 252.35,404.4 252.50,404.4 252.65,404.4 252.80,404.4 252.95,404.4 253.10,404.4 253.25,404.3 253.40,404.0 253.55,403.5 253.70,402.6 253.85,401.9 254.00,401.0 254.15,401.5 254.30,402.7 254.45,403.3 254.60,404.0 254.75,404.3 254.90,404.4 255.05,404.4 255.20,404.4 255.35,404.4 255.50,404.4 255.65,404.4 255.80,404.4 255.95,404.4 256.10,404.4 256.25,404.4 256.40,404.4 256.55,404.4 256.70,404.4 256.85,404.4 257.00,404.4 257.15,404.4 257.30,404.4 257.45,404.4 257.60,404.4 257.75,404.4 257.90,404.4 258.05,404.4 258.20,404.4 258.35,404.4 258.50,404.4 258.65,404.4 258.80,404.4 258.95,404.4 259.10,404.4 259.25,404.4 259.40,404.4 259.55,404.4 259.70,404.4 259.85,404.4 260.00,404.4 260.15,404.4 260.30,404.4 260.45,404.4 260.60,404.4 260.75,404.4 260.90,404.4 261.05,404.4 261.20,404.2 261.35,403.6 261.50,402.4 261.65,398.7 261.80,393.8 261.95,389.3 262.10,386.6 262.25,389.7 262.40,391.1 262.55,392.5 262.70,393.8 262.85,395.6 263.00,397.2 263.15,399.8 263.30,402.3 263.45,403.6 263.60,404.2 263.75,404.3 263.90,404.4 264.05,404.4 264.20,404.4 264.35,404.4 264.50,404.3 264.65,403.9 264.80,402.7 264.95,400.7 265.10,396.4 265.25,394.3 265.40,391.0 265.55,390.5 265.70,394.5 265.85,395.1 266.00,396.8 266.15,399.9 266.30,401.2 266.45,402.6 266.60,403.8 266.75,404.1 266.90,404.1 267.05,403.8 267.20,403.2 267.35,402.6 267.50,402.1 267.65,402.8 267.80,403.1 267.95,403.7 268.10,404.2 268.25,404.3 268.40,404.4 268.55,404.4 268.70,404.4 268.80,404.40Z" fill="#104c8a" />
<line x1="196.40" y1="404.40" x2="268.80" y2="404.40" stroke="#104c8a" stroke-width="0.7" />
<path d="M196.40,422.30L196.40,422.3 196.55,422.3 196.70,422.3 196.85,422.3 197.00,422.3 197.15,422.3 197.30,422.1 197.45,421.8 197.60,420.7 197.75,419.1 197.90,417.9 198.05,415.6 198.20,416.3 198.35,418.6 198.50,419.6 198.65,421.1 198.80,421.9 198.95,422.2 199.10,422.3 199.25,422.3 199.40,422.3 199.55,422.3 199.70,422.3 199.85,422.3 200.00,422.3 200.15,422.3 200.30,422.3 200.45,422.3 200.60,422.3 200.75,422.3 200.90,422.3 201.05,422.3 201.20,422.3 201.35,422.3 201.50,422.3 201.65,422.3 201.80,422.3 201.95,422.3 202.10,422.3 202.25,422.3 202.40,422.3 202.55,422.3 202.70,422.3 202.85,422.3 203.00,422.3 203.15,422.3 203.30,422.3 203.45,422.3 203.60,422.3 203.75,422.3 203.90,422.3 204.05,422.3 204.20,422.3 204.35,422.2 204.50,422.1 204.65,421.8 204.80,421.7 204.95,421.6 205.10,421.5 205.25,421.7 205.40,422.0 205.55,422.1 205.70,422.2 205.85,422.3 206.00,422.3 206.15,422.3 206.30,422.3 206.45,422.3 206.60,422.3 206.75,422.3 206.90,422.3 207.05,422.3 207.20,422.3 207.35,422.3 207.50,422.3 207.65,422.3 207.80,422.3 207.95,422.3 208.10,422.3 208.25,422.3 208.40,422.3 208.55,422.3 208.70,422.3 208.85,422.3 209.00,422.3 209.15,422.3 209.30,422.3 209.45,422.3 209.60,422.3 209.75,422.3 209.90,422.3 210.05,422.3 210.20,422.3 210.35,422.3 210.50,422.3 210.65,422.3 210.80,422.3 210.95,422.3 211.10,422.3 211.25,422.3 211.40,422.3 211.55,422.3 211.70,422.3 211.85,422.3 212.00,422.3 212.15,422.3 212.30,422.3 212.45,422.3 212.60,422.3 212.75,422.3 212.90,422.3 213.05,422.3 213.20,422.3 213.35,422.3 213.50,422.3 213.65,422.3 213.80,422.3 213.95,422.3 214.10,422.3 214.25,422.3 214.40,422.3 214.55,422.3 214.70,422.3 214.85,422.3 215.00,422.3 215.15,422.3 215.30,422.3 215.45,422.3 215.60,422.3 215.75,422.3 215.90,422.3 216.05,422.3 216.20,422.3 216.35,422.3 216.50,422.3 216.65,422.3 216.80,422.3 216.95,422.3 217.10,422.3 217.25,422.3 217.40,422.3 217.55,422.3 217.70,422.3 217.85,422.3 218.00,422.3 218.15,422.3 218.30,422.3 218.45,422.3 218.60,422.3 218.75,422.3 218.90,422.3 219.05,422.3 219.20,422.3 219.35,422.3 219.50,422.3 219.65,422.3 219.80,422.3 219.95,422.3 220.10,422.3 220.25,422.3 220.40,422.3 220.55,422.3 220.70,422.3 220.85,422.3 221.00,422.3 221.15,422.3 221.30,422.3 221.45,422.3 221.60,422.3 221.75,422.2 221.90,422.0 222.05,421.3 222.20,419.9 222.35,416.9 222.50,414.3 222.65,411.0 222.80,412.3 222.95,416.0 223.10,417.6 223.25,420.4 223.40,421.6 223.55,422.1 223.70,422.3 223.85,422.3 224.00,422.3 224.15,422.3 224.30,422.3 224.45,422.3 224.60,422.3 224.75,422.3 224.90,422.3 225.05,422.3 225.20,422.3 225.35,422.3 225.50,422.3 225.65,422.3 225.80,422.3 225.95,422.3 226.10,422.3 226.25,422.3 226.40,422.3 226.55,422.3 226.70,422.3 226.85,422.3 227.00,422.3 227.15,422.3 227.30,422.3 227.45,422.3 227.60,422.3 227.75,422.3 227.90,422.3 228.05,422.3 228.20,422.3 228.35,422.3 228.50,422.3 228.65,422.3 228.80,422.3 228.95,422.3 229.10,422.3 229.25,422.3 229.40,422.3 229.55,422.3 229.70,422.3 229.85,422.3 230.00,422.3 230.15,422.3 230.30,422.3 230.45,422.3 230.60,422.3 230.75,422.3 230.90,422.3 231.05,422.3 231.20,422.3 231.35,422.2 231.50,422.0 231.65,421.8 231.80,421.5 231.95,421.3 232.10,421.3 232.25,421.5 232.40,421.9 232.55,422.1 232.70,422.2 232.85,422.3 233.00,422.3 233.15,422.3 233.30,422.3 233.45,422.3 233.60,422.3 233.75,422.3 233.90,422.3 234.05,422.3 234.20,422.3 234.35,422.3 234.50,422.3 234.65,422.3 234.80,422.3 234.95,422.3 235.10,422.3 235.25,422.3 235.40,422.3 235.55,422.3 235.70,422.3 235.85,422.3 236.00,422.3 236.15,422.3 236.30,422.3 236.45,422.3 236.60,422.3 236.75,422.3 236.90,422.3 237.05,422.3 237.20,422.3 237.35,422.3 237.50,422.3 237.65,422.3 237.80,422.3 237.95,422.3 238.10,422.3 238.25,422.3 238.40,422.3 238.55,422.3 238.70,422.3 238.85,422.1 239.00,421.7 239.15,421.2 239.30,419.9 239.45,418.5 239.60,418.1 239.75,418.6 239.90,419.7 240.05,421.1 240.20,421.8 240.35,422.1 240.50,422.3 240.65,422.3 240.80,422.3 240.95,422.3 241.10,422.3 241.25,422.3 241.40,422.3 241.55,422.3 241.70,422.3 241.85,422.3 242.00,422.3 242.15,422.3 242.30,422.3 242.45,422.3 242.60,422.3 242.75,422.3 242.90,422.3 243.05,422.3 243.20,422.3 243.35,422.3 243.50,422.3 243.65,422.3 243.80,422.3 243.95,422.3 244.10,422.3 244.25,422.3 244.40,422.3 244.55,422.3 244.70,422.3 244.85,422.3 245.00,422.3 245.15,422.3 245.30,422.3 245.45,422.3 245.60,422.3 245.75,422.3 245.90,422.3 246.05,422.3 246.20,422.3 246.35,422.3 246.50,422.3 246.65,422.3 246.80,422.3 246.95,422.3 247.10,422.3 247.25,422.3 247.40,422.3 247.55,422.3 247.70,422.3 247.85,422.3 248.00,422.3 248.15,422.3 248.30,422.3 248.45,422.3 248.60,422.3 248.75,422.3 248.90,422.3 249.05,422.3 249.20,422.3 249.35,422.2 249.50,422.1 249.65,421.8 249.80,421.4 249.95,421.2 250.10,421.3 250.25,421.5 250.40,421.9 250.55,422.1 250.70,422.2 250.85,422.3 251.00,422.3 251.15,422.3 251.30,422.3 251.45,422.3 251.60,422.3 251.75,422.3 251.90,422.3 252.05,422.3 252.20,422.3 252.35,422.3 252.50,422.3 252.65,422.3 252.80,422.3 252.95,422.3 253.10,422.3 253.25,422.2 253.40,422.0 253.55,421.6 253.70,421.1 253.85,420.7 254.00,420.2 254.15,420.4 254.30,421.2 254.45,421.7 254.60,422.0 254.75,422.2 254.90,422.3 255.05,422.3 255.20,422.3 255.35,422.3 255.50,422.3 255.65,422.3 255.80,422.3 255.95,422.3 256.10,422.3 256.25,422.3 256.40,422.3 256.55,422.3 256.70,422.3 256.85,422.3 257.00,422.3 257.15,422.3 257.30,422.3 257.45,422.3 257.60,422.3 257.75,422.3 257.90,422.3 258.05,422.3 258.20,422.3 258.35,422.3 258.50,422.3 258.65,422.3 258.80,422.3 258.95,422.3 259.10,422.3 259.25,422.3 259.40,422.3 259.55,422.3 259.70,422.3 259.85,422.3 260.00,422.3 260.15,422.3 260.30,422.3 260.45,422.3 260.60,422.3 260.75,422.3 260.90,422.3 261.05,422.3 261.20,422.1 261.35,421.6 261.50,420.5 261.65,418.0 261.80,412.0 261.95,409.2 262.10,405.9 262.25,405.9 262.40,410.0 262.55,409.8 262.70,412.3 262.85,411.6 263.00,416.0 263.15,417.9 263.30,420.0 263.45,421.5 263.60,422.0 263.75,422.2 263.90,422.3 264.05,422.3 264.20,422.3 264.35,422.3 264.50,422.1 264.65,421.5 264.80,420.3 264.95,417.3 265.10,413.4 265.25,407.9 265.40,405.4 265.55,408.5 265.70,410.8 265.85,413.7 266.00,414.7 266.15,416.3 266.30,417.3 266.45,418.5 266.60,420.1 266.75,420.9 266.90,421.6 267.05,421.6 267.20,420.9 267.35,420.5 267.50,420.0 267.65,420.5 267.80,421.1 267.95,421.7 268.10,422.0 268.25,422.2 268.40,422.3 268.55,422.3 268.70,422.3 268.80,422.30Z" fill="#f6b800" />
<line x1="196.40" y1="422.30" x2="268.80" y2="422.30" stroke="#f6b800" stroke-width="0.7" />
<rect x="197.00" y="386.70" width="6.00" height="35.60" fill="none" stroke="#8a8a8a" stroke-width="0.75"/>
<text x="230.50" y="394.90" font-size="6.6" fill="#231f20" textLength="18.40" lengthAdjust="spacingAndGlyphs">Class1</text>
<text x="230.50" y="412.70" font-size="6.6" fill="#231f20" textLength="18.40" lengthAdjust="spacingAndGlyphs">Class2</text>
<line x1="262.00" y1="430.40" x2="268.80" y2="430.40" stroke="#22306a" stroke-width="1.0" />
<text x="249.60" y="441.20" font-size="6.6" fill="#231f20" textLength="18.30" lengthAdjust="spacingAndGlyphs">Bach1</text>
<text x="290.90" y="349.40" font-size="6.6" fill="#231f20" textLength="52.30" lengthAdjust="spacingAndGlyphs">RNA-seq at Mono</text>
<text x="288.40" y="369.70" font-size="6.3" fill="#231f20" textLength="20.30" lengthAdjust="spacingAndGlyphs">87,700</text>
<text x="298.55" y="377.00" font-size="6.3" fill="#231f20" text-anchor="middle">kb</text>
<text x="323.30" y="369.70" font-size="6.3" fill="#231f20" textLength="19.90" lengthAdjust="spacingAndGlyphs">87,730</text>
<text x="333.25" y="377.00" font-size="6.3" fill="#231f20" text-anchor="middle">kb</text>
<line x1="294.20" y1="381.30" x2="294.20" y2="384.20" stroke="#333" stroke-width="0.7" />
<line x1="333.00" y1="381.30" x2="333.00" y2="384.20" stroke="#333" stroke-width="0.7" />
<line x1="293.20" y1="386.10" x2="293.20" y2="406.90" stroke="#333" stroke-width="0.7" />
<line x1="290.60" y1="389.80" x2="293.20" y2="389.80" stroke="#333" stroke-width="0.7" />
<text x="287.20" y="393.00" font-size="6.7" fill="#231f20" text-anchor="end">52</text>
<path d="M293.20,404.20L293.20,404.2 293.35,404.2 293.50,404.2 293.65,404.2 293.80,404.2 293.95,404.2 294.10,404.2 294.25,404.2 294.40,404.2 294.55,404.2 294.70,404.2 294.85,404.2 295.00,404.2 295.15,404.2 295.30,404.2 295.45,404.2 295.60,404.2 295.75,404.2 295.90,404.2 296.05,404.2 296.20,404.2 296.35,404.2 296.50,404.2 296.65,404.2 296.80,404.2 296.95,404.2 297.10,404.2 297.25,404.2 297.40,404.2 297.55,404.2 297.70,404.2 297.85,404.2 298.00,404.2 298.15,404.2 298.30,404.2 298.45,404.2 298.60,404.2 298.75,404.2 298.90,404.2 299.05,404.2 299.20,404.2 299.35,404.2 299.50,404.2 299.65,404.2 299.80,404.2 299.95,404.2 300.10,404.2 300.25,404.2 300.40,404.2 300.55,404.2 300.70,404.2 300.85,404.2 301.00,404.2 301.15,404.2 301.30,404.2 301.45,404.2 301.60,404.2 301.75,404.2 301.90,404.2 302.05,404.2 302.20,404.2 302.35,404.2 302.50,404.2 302.65,404.2 302.80,404.2 302.95,404.2 303.10,404.2 303.25,404.2 303.40,404.2 303.55,404.2 303.70,404.2 303.85,404.2 304.00,404.2 304.15,404.2 304.30,404.2 304.45,404.2 304.60,404.2 304.75,404.2 304.90,404.2 305.05,404.2 305.20,404.2 305.35,404.2 305.50,404.2 305.65,404.2 305.80,404.2 305.95,404.2 306.10,404.2 306.25,404.2 306.40,404.2 306.55,404.2 306.70,404.2 306.85,404.2 307.00,404.2 307.15,404.2 307.30,404.2 307.45,404.2 307.60,404.2 307.75,404.2 307.90,404.2 308.05,404.2 308.20,404.2 308.35,404.2 308.50,404.2 308.65,404.2 308.80,404.2 308.95,404.2 309.10,404.2 309.25,404.2 309.40,404.2 309.55,404.2 309.70,404.2 309.85,404.2 310.00,404.2 310.15,404.2 310.30,404.2 310.45,404.2 310.60,404.2 310.75,404.2 310.90,404.2 311.05,404.2 311.20,404.2 311.35,404.2 311.50,404.2 311.65,404.2 311.80,404.2 311.95,404.2 312.10,404.2 312.25,404.2 312.40,404.2 312.55,404.2 312.70,404.2 312.85,404.2 313.00,404.2 313.15,404.2 313.30,404.2 313.45,404.2 313.60,404.1 313.75,403.9 313.90,403.5 314.05,402.8 314.20,402.9 314.35,403.2 314.50,403.4 314.65,403.9 314.80,404.1 314.95,404.2 315.10,404.2 315.25,404.2 315.40,404.2 315.55,404.2 315.70,404.2 315.85,404.2 316.00,404.2 316.15,404.2 316.30,404.2 316.45,404.2 316.60,404.2 316.75,404.2 316.90,404.2 317.05,404.2 317.20,404.2 317.35,404.2 317.50,404.2 317.65,404.2 317.80,404.2 317.95,404.0 318.10,403.6 318.25,402.7 318.40,402.0 318.55,402.0 318.70,401.8 318.85,402.7 319.00,402.9 319.15,402.9 319.30,402.6 319.45,403.2 319.60,403.9 319.75,404.1 319.90,404.2 320.05,404.2 320.20,404.2 320.35,404.2 320.50,404.2 320.65,404.2 320.80,404.2 320.95,404.2 321.10,404.2 321.25,404.2 321.40,404.2 321.55,404.2 321.70,404.2 321.85,404.2 322.00,404.2 322.15,404.2 322.30,404.2 322.45,404.0 322.60,403.7 322.75,403.2 322.90,402.5 323.05,402.1 323.20,402.8 323.35,403.4 323.50,404.0 323.65,404.1 323.80,404.2 323.95,404.2 324.10,404.2 324.25,404.2 324.40,404.2 324.55,404.2 324.70,404.2 324.85,404.2 325.00,404.2 325.15,404.2 325.30,404.1 325.45,403.9 325.60,403.5 325.75,402.3 325.90,401.1 326.05,401.7 326.20,401.6 326.35,403.0 326.50,403.7 326.65,404.1 326.80,404.2 326.95,404.2 327.10,404.2 327.25,404.2 327.40,404.2 327.55,404.2 327.70,404.2 327.85,404.2 328.00,404.2 328.15,404.2 328.30,404.2 328.45,404.2 328.60,404.2 328.75,404.2 328.90,404.2 329.05,404.2 329.20,404.2 329.35,404.2 329.50,404.2 329.65,404.2 329.80,404.2 329.95,404.2 330.10,404.2 330.25,404.2 330.40,404.2 330.55,404.2 330.70,404.2 330.85,404.1 331.00,403.8 331.15,403.4 331.30,402.0 331.45,401.4 331.60,402.0 331.75,402.5 331.90,403.2 332.05,403.3 332.20,402.0 332.35,400.7 332.50,399.9 332.65,401.4 332.80,402.0 332.95,403.1 333.10,403.3 333.25,402.0 333.40,401.3 333.55,401.0 333.70,402.0 333.85,402.7 334.00,403.0 334.15,402.4 334.30,400.1 334.45,398.5 334.60,399.7 334.75,401.3 334.90,402.6 335.05,403.7 335.20,403.6 335.35,401.9 335.50,399.0 335.65,395.3 335.80,395.0 335.95,394.9 336.10,398.5 336.25,398.5 336.40,399.1 336.55,399.2 336.70,400.7 336.85,402.1 337.00,403.3 337.15,404.0 337.30,404.2 337.45,404.2 337.60,404.2 337.75,404.2 337.80,404.20Z" fill="#104c8a" />
<line x1="293.20" y1="404.20" x2="337.80" y2="404.20" stroke="#104c8a" stroke-width="0.7" />
<path d="M293.20,422.60L293.20,422.6 293.35,422.6 293.50,422.6 293.65,422.6 293.80,422.6 293.95,422.6 294.10,422.6 294.25,422.6 294.40,422.6 294.55,422.6 294.70,422.6 294.85,422.6 295.00,422.6 295.15,422.6 295.30,422.6 295.45,422.6 295.60,422.6 295.75,422.6 295.90,422.6 296.05,422.6 296.20,422.6 296.35,422.6 296.50,422.6 296.65,422.6 296.80,422.6 296.95,422.6 297.10,422.6 297.25,422.6 297.40,422.6 297.55,422.6 297.70,422.6 297.85,422.6 298.00,422.6 298.15,422.6 298.30,422.6 298.45,422.6 298.60,422.6 298.75,422.6 298.90,422.6 299.05,422.6 299.20,422.6 299.35,422.6 299.50,422.6 299.65,422.6 299.80,422.6 299.95,422.6 300.10,422.6 300.25,422.6 300.40,422.6 300.55,422.6 300.70,422.6 300.85,422.6 301.00,422.6 301.15,422.6 301.30,422.6 301.45,422.6 301.60,422.6 301.75,422.6 301.90,422.6 302.05,422.6 302.20,422.6 302.35,422.6 302.50,422.6 302.65,422.6 302.80,422.6 302.95,422.6 303.10,422.6 303.25,422.6 303.40,422.6 303.55,422.6 303.70,422.6 303.85,422.6 304.00,422.6 304.15,422.6 304.30,422.6 304.45,422.6 304.60,422.6 304.75,422.6 304.90,422.6 305.05,422.6 305.20,422.6 305.35,422.6 305.50,422.6 305.65,422.6 305.80,422.6 305.95,422.6 306.10,422.6 306.25,422.6 306.40,422.6 306.55,422.6 306.70,422.6 306.85,422.6 307.00,422.6 307.15,422.6 307.30,422.6 307.45,422.6 307.60,422.6 307.75,422.6 307.90,422.6 308.05,422.6 308.20,422.6 308.35,422.6 308.50,422.6 308.65,422.6 308.80,422.6 308.95,422.6 309.10,422.6 309.25,422.6 309.40,422.6 309.55,422.6 309.70,422.6 309.85,422.6 310.00,422.6 310.15,422.6 310.30,422.6 310.45,422.6 310.60,422.6 310.75,422.6 310.90,422.6 311.05,422.6 311.20,422.6 311.35,422.6 311.50,422.6 311.65,422.6 311.80,422.6 311.95,422.6 312.10,422.6 312.25,422.6 312.40,422.6 312.55,422.6 312.70,422.6 312.85,422.6 313.00,422.6 313.15,422.6 313.30,422.6 313.45,422.6 313.60,422.6 313.75,422.6 313.90,422.6 314.05,422.6 314.20,422.6 314.35,422.6 314.50,422.6 314.65,422.6 314.80,422.6 314.95,422.6 315.10,422.6 315.25,422.6 315.40,422.6 315.55,422.6 315.70,422.6 315.85,422.6 316.00,422.6 316.15,422.6 316.30,422.6 316.45,422.6 316.60,422.6 316.75,422.6 316.90,422.6 317.05,422.6 317.20,422.6 317.35,422.6 317.50,422.6 317.65,422.6 317.80,422.6 317.95,422.6 318.10,422.6 318.25,422.6 318.40,422.5 318.55,422.4 318.70,422.1 318.85,421.9 319.00,421.5 319.15,421.7 319.30,422.1 319.45,422.4 319.60,422.5 319.75,422.6 319.90,422.6 320.05,422.6 320.20,422.6 320.35,422.6 320.50,422.6 320.65,422.6 320.80,422.6 320.95,422.6 321.10,422.6 321.25,422.6 321.40,422.6 321.55,422.6 321.70,422.6 321.85,422.6 322.00,422.6 322.15,422.6 322.30,422.6 322.45,422.6 322.60,422.6 322.75,422.6 322.90,422.6 323.05,422.6 323.20,422.6 323.35,422.6 323.50,422.6 323.65,422.6 323.80,422.6 323.95,422.6 324.10,422.6 324.25,422.6 324.40,422.6 324.55,422.6 324.70,422.6 324.85,422.6 325.00,422.6 325.15,422.6 325.30,422.6 325.45,422.5 325.60,422.3 325.75,421.9 325.90,421.5 326.05,421.8 326.20,421.9 326.35,422.2 326.50,422.5 326.65,422.6 326.80,422.6 326.95,422.6 327.10,422.6 327.25,422.6 327.40,422.6 327.55,422.6 327.70,422.6 327.85,422.6 328.00,422.6 328.15,422.6 328.30,422.6 328.45,422.6 328.60,422.6 328.75,422.6 328.90,422.6 329.05,422.6 329.20,422.6 329.35,422.6 329.50,422.6 329.65,422.6 329.80,422.6 329.95,422.6 330.10,422.6 330.25,422.6 330.40,422.6 330.55,422.6 330.70,422.6 330.85,422.6 331.00,422.6 331.15,422.6 331.30,422.6 331.45,422.6 331.60,422.6 331.75,422.6 331.90,422.5 332.05,422.3 332.20,421.6 332.35,420.7 332.50,420.5 332.65,421.2 332.80,421.7 332.95,422.2 333.10,422.5 333.25,422.6 333.40,422.5 333.55,422.0 333.70,421.4 333.85,419.6 334.00,420.0 334.15,419.9 334.30,421.0 334.45,422.0 334.60,422.4 334.75,422.6 334.90,422.6 335.05,422.6 335.20,422.4 335.35,421.8 335.50,420.4 335.65,419.2 335.80,417.8 335.95,418.8 336.10,419.6 336.25,420.7 336.40,420.4 336.55,419.8 336.70,419.7 336.85,420.8 337.00,421.8 337.15,422.3 337.30,422.5 337.45,422.6 337.60,422.6 337.75,422.6 337.80,422.60Z" fill="#f6b800" />
<line x1="293.20" y1="422.60" x2="337.80" y2="422.60" stroke="#f6b800" stroke-width="0.7" />
<rect x="328.50" y="386.60" width="10.30" height="36.00" fill="none" stroke="#8a8a8a" stroke-width="0.75"/>
<line x1="294.20" y1="431.10" x2="336.80" y2="431.10" stroke="#111" stroke-width="1.0" />
<rect x="318.40" y="430.10" width="2.20" height="2.00" fill="#111"/>
<rect x="329.00" y="430.20" width="6.00" height="1.80" fill="#111"/>
<line x1="300.00" y1="430.30" x2="300.80" y2="431.10" stroke="#111" stroke-width="0.5" />
<line x1="305.00" y1="430.30" x2="305.80" y2="431.10" stroke="#111" stroke-width="0.5" />
<line x1="310.00" y1="430.30" x2="310.80" y2="431.10" stroke="#111" stroke-width="0.5" />
<line x1="314.00" y1="430.30" x2="314.80" y2="431.10" stroke="#111" stroke-width="0.5" />
<line x1="324.00" y1="430.30" x2="324.80" y2="431.10" stroke="#111" stroke-width="0.5" />
<text x="308.70" y="441.40" font-size="6.6" fill="#231f20" textLength="17.10" lengthAdjust="spacingAndGlyphs">Bach1</text>
<text x="359.80" y="349.20" font-size="6.6" fill="#231f20" textLength="71.50" lengthAdjust="spacingAndGlyphs">ATAC-seq at Progenitors</text>
<text x="361.50" y="358.80" font-size="6.6" fill="#231f20" textLength="17.30" lengthAdjust="spacingAndGlyphs">Chr12</text>
<text x="360.30" y="369.40" font-size="6.3" fill="#231f20" textLength="19.50" lengthAdjust="spacingAndGlyphs">86,766</text>
<text x="370.05" y="376.70" font-size="6.3" fill="#231f20" text-anchor="middle">kb</text>
<text x="416.00" y="369.40" font-size="6.3" fill="#231f20" textLength="20.10" lengthAdjust="spacingAndGlyphs">86,768</text>
<text x="426.05" y="376.70" font-size="6.3" fill="#231f20" text-anchor="middle">kb</text>
<line x1="370.40" y1="381.50" x2="370.40" y2="383.60" stroke="#333" stroke-width="0.7" />
<line x1="400.20" y1="381.50" x2="400.20" y2="383.60" stroke="#333" stroke-width="0.7" />
<line x1="429.90" y1="381.50" x2="429.90" y2="383.60" stroke="#333" stroke-width="0.7" />
<line x1="362.30" y1="385.80" x2="362.30" y2="407.90" stroke="#666" stroke-width="0.9" />
<line x1="359.70" y1="388.50" x2="362.30" y2="388.50" stroke="#666" stroke-width="0.7" />
<text x="355.40" y="391.40" font-size="6.7" fill="#231f20" text-anchor="end">21</text>
<path d="M364.20,405.40L364.20,405.4 364.40,405.4 364.60,405.4 364.80,405.4 365.00,405.4 365.20,405.4 365.40,405.4 365.60,405.4 365.80,405.4 366.00,405.4 366.20,405.4 366.40,405.4 366.60,405.4 366.80,405.4 367.00,405.4 367.20,405.4 367.40,405.4 367.60,405.4 367.80,405.4 368.00,405.4 368.20,405.4 368.40,405.4 368.60,405.4 368.80,405.4 369.00,405.4 369.20,405.4 369.40,405.4 369.60,405.4 369.80,405.4 370.00,405.4 370.20,405.4 370.40,405.4 370.60,405.4 370.80,405.4 371.00,405.4 371.20,405.4 371.40,405.4 371.60,405.4 371.80,405.4 372.00,405.4 372.20,405.4 372.40,405.4 372.60,405.4 372.80,405.4 373.00,405.4 373.20,405.4 373.40,405.4 373.60,405.4 373.80,405.4 374.00,405.4 374.20,405.4 374.40,405.4 374.60,405.4 374.80,405.4 375.00,405.4 375.20,405.4 375.40,405.4 375.60,405.4 375.80,405.4 376.00,405.4 376.20,405.4 376.40,405.4 376.60,405.4 376.80,405.4 377.00,405.4 377.20,405.4 377.40,405.4 377.60,405.4 377.80,405.4 378.00,405.4 378.20,405.4 378.40,405.4 378.60,405.4 378.80,405.4 379.00,405.4 379.20,405.4 379.40,405.4 379.60,405.4 379.80,405.4 380.00,405.4 380.20,405.4 380.40,405.4 380.60,405.4 380.80,405.4 381.00,405.4 381.20,405.4 381.40,405.4 381.60,405.4 381.80,405.4 382.00,405.4 382.20,405.4 382.40,405.4 382.60,405.4 382.80,405.4 383.00,405.4 383.20,405.4 383.40,405.4 383.60,405.4 383.80,405.4 384.00,405.4 384.20,405.4 384.40,405.4 384.60,405.4 384.80,405.4 385.00,405.4 385.20,405.4 385.40,405.4 385.60,405.4 385.80,405.4 386.00,405.4 386.20,405.4 386.40,405.4 386.60,405.4 386.80,405.4 387.00,405.4 387.20,405.4 387.40,405.4 387.60,405.4 387.80,405.4 388.00,405.4 388.20,405.4 388.40,405.4 388.60,405.4 388.80,405.4 389.00,405.4 389.20,405.4 389.40,405.4 389.60,405.4 389.80,405.4 390.00,405.4 390.20,405.4 390.40,405.4 390.60,405.4 390.80,405.4 391.00,405.4 391.20,405.4 391.40,405.4 391.60,405.4 391.80,405.4 392.00,405.4 392.20,405.4 392.40,405.3 392.60,405.2 392.80,405.2 393.00,404.9 393.20,404.2 393.40,403.6 393.60,403.7 393.80,402.5 394.00,401.4 394.20,400.2 394.40,400.6 394.60,400.5 394.80,401.1 395.00,402.0 395.20,403.5 395.40,403.7 395.60,404.2 395.80,404.8 396.00,404.9 396.20,405.1 396.40,405.1 396.60,405.0 396.80,404.8 397.00,404.7 397.20,404.6 397.40,404.4 397.60,404.6 397.80,404.3 398.00,404.3 398.20,404.5 398.40,404.5 398.60,404.7 398.80,404.7 399.00,404.7 399.20,405.0 399.40,405.0 399.60,405.2 399.80,405.2 400.00,405.3 400.20,405.3 400.40,405.3 400.60,405.3 400.80,405.1 401.00,404.9 401.20,404.7 401.40,404.6 401.60,404.0 401.80,403.2 402.00,403.3 402.20,403.2 402.40,401.8 402.60,402.4 402.80,403.0 403.00,403.7 403.20,403.6 403.40,404.4 403.60,404.8 403.80,405.0 404.00,405.2 404.20,405.3 404.40,405.3 404.60,405.4 404.80,405.4 405.00,405.4 405.20,405.4 405.40,405.4 405.60,405.4 405.80,405.4 406.00,405.4 406.20,405.4 406.40,405.4 406.60,405.4 406.80,405.4 407.00,405.4 407.20,405.4 407.40,405.4 407.60,405.4 407.80,405.4 408.00,405.4 408.20,405.4 408.40,405.4 408.60,405.4 408.80,405.4 409.00,405.4 409.20,405.4 409.40,405.4 409.60,405.4 409.80,405.4 410.00,405.4 410.20,405.4 410.40,405.4 410.60,405.4 410.80,405.4 411.00,405.4 411.20,405.4 411.40,405.4 411.60,405.4 411.80,405.4 412.00,405.4 412.20,405.4 412.40,405.4 412.60,405.4 412.80,405.4 413.00,405.4 413.20,405.4 413.40,405.4 413.60,405.4 413.80,405.4 414.00,405.4 414.20,405.4 414.40,405.4 414.60,405.4 414.80,405.4 415.00,405.4 415.20,405.4 415.40,405.4 415.60,405.4 415.80,405.4 416.00,405.4 416.20,405.4 416.40,405.4 416.60,405.4 416.80,405.4 417.00,405.4 417.20,405.4 417.40,405.4 417.60,405.4 417.80,405.4 418.00,405.4 418.20,405.4 418.40,405.4 418.60,405.4 418.80,405.4 419.00,405.4 419.20,405.4 419.40,405.4 419.60,405.4 419.80,405.4 420.00,405.4 420.20,405.4 420.40,405.4 420.60,405.4 420.80,405.4 421.00,405.4 421.20,405.4 421.40,405.4 421.60,405.4 421.80,405.4 422.00,405.4 422.20,405.4 422.40,405.4 422.60,405.4 422.80,405.4 423.00,405.4 423.20,405.4 423.40,405.4 423.60,405.4 423.80,405.4 424.00,405.4 424.20,405.4 424.40,405.4 424.60,405.4 424.80,405.4 425.00,405.4 425.20,405.4 425.40,405.4 425.60,405.4 425.80,405.4 426.00,405.4 426.20,405.4 426.40,405.4 426.60,405.4 426.80,405.4 427.00,405.4 427.20,405.4 427.40,405.4 427.60,405.4 427.80,405.4 428.00,405.4 428.20,405.4 428.40,405.4 428.60,405.4 428.80,405.4 429.00,405.4 429.20,405.4 429.40,405.4 429.60,405.4 429.80,405.4 430.00,405.4 430.20,405.4 430.40,405.4 430.60,405.4 430.80,405.4 431.00,405.4 431.20,405.4 431.40,405.4 431.60,405.4 431.70,405.40Z" fill="#f6b800" />
<line x1="364.20" y1="405.40" x2="431.70" y2="405.40" stroke="#f6b800" stroke-width="0.7" />
<path d="M364.20,422.70L364.20,422.7 364.40,422.7 364.60,422.7 364.80,422.7 365.00,422.6 365.20,422.6 365.40,422.5 365.60,422.5 365.80,422.5 366.00,422.4 366.20,422.3 366.40,422.3 366.60,422.2 366.80,422.2 367.00,422.3 367.20,422.3 367.40,422.2 367.60,422.3 367.80,422.3 368.00,422.4 368.20,422.5 368.40,422.5 368.60,422.6 368.80,422.6 369.00,422.6 369.20,422.7 369.40,422.7 369.60,422.7 369.80,422.7 370.00,422.7 370.20,422.7 370.40,422.7 370.60,422.7 370.80,422.7 371.00,422.7 371.20,422.7 371.40,422.7 371.60,422.7 371.80,422.7 372.00,422.7 372.20,422.7 372.40,422.7 372.60,422.7 372.80,422.7 373.00,422.7 373.20,422.7 373.40,422.7 373.60,422.7 373.80,422.7 374.00,422.7 374.20,422.7 374.40,422.7 374.60,422.7 374.80,422.7 375.00,422.7 375.20,422.7 375.40,422.7 375.60,422.7 375.80,422.7 376.00,422.7 376.20,422.7 376.40,422.7 376.60,422.7 376.80,422.7 377.00,422.7 377.20,422.7 377.40,422.7 377.60,422.7 377.80,422.7 378.00,422.7 378.20,422.7 378.40,422.7 378.60,422.7 378.80,422.7 379.00,422.7 379.20,422.7 379.40,422.7 379.60,422.7 379.80,422.7 380.00,422.7 380.20,422.7 380.40,422.7 380.60,422.7 380.80,422.7 381.00,422.7 381.20,422.7 381.40,422.7 381.60,422.7 381.80,422.7 382.00,422.7 382.20,422.7 382.40,422.7 382.60,422.7 382.80,422.7 383.00,422.7 383.20,422.7 383.40,422.7 383.60,422.7 383.80,422.7 384.00,422.7 384.20,422.7 384.40,422.7 384.60,422.7 384.80,422.7 385.00,422.7 385.20,422.7 385.40,422.7 385.60,422.7 385.80,422.7 386.00,422.7 386.20,422.7 386.40,422.7 386.60,422.7 386.80,422.7 387.00,422.7 387.20,422.7 387.40,422.7 387.60,422.7 387.80,422.7 388.00,422.7 388.20,422.7 388.40,422.7 388.60,422.7 388.80,422.7 389.00,422.7 389.20,422.7 389.40,422.7 389.60,422.7 389.80,422.6 390.00,422.5 390.20,422.2 390.40,422.1 390.60,421.5 390.80,420.3 391.00,419.5 391.20,418.9 391.40,418.3 391.60,419.0 391.80,417.6 392.00,419.3 392.20,418.6 392.40,417.2 392.60,416.5 392.80,414.9 393.00,412.1 393.20,411.3 393.40,407.5 393.60,409.8 393.80,407.2 394.00,407.2 394.20,407.2 394.40,407.2 394.60,407.2 394.80,407.2 395.00,407.2 395.20,407.3 395.40,409.2 395.60,407.8 395.80,409.7 396.00,413.1 396.20,411.2 396.40,413.2 396.60,413.7 396.80,413.3 397.00,413.5 397.20,416.3 397.40,413.1 397.60,415.6 397.80,417.2 398.00,417.4 398.20,417.1 398.40,417.1 398.60,415.5 398.80,415.9 399.00,416.0 399.20,417.3 399.40,417.0 399.60,415.6 399.80,418.4 400.00,416.3 400.20,416.6 400.40,417.7 400.60,416.1 400.80,417.0 401.00,416.3 401.20,416.9 401.40,416.7 401.60,416.5 401.80,417.9 402.00,417.7 402.20,418.0 402.40,417.4 402.60,417.7 402.80,419.4 403.00,418.7 403.20,418.8 403.40,419.8 403.60,419.7 403.80,419.2 404.00,419.8 404.20,420.2 404.40,420.6 404.60,420.1 404.80,421.0 405.00,420.3 405.20,420.8 405.40,420.9 405.60,421.0 405.80,421.5 406.00,421.8 406.20,422.0 406.40,422.2 406.60,422.2 406.80,422.4 407.00,422.5 407.20,422.6 407.40,422.6 407.60,422.6 407.80,422.6 408.00,422.7 408.20,422.6 408.40,422.6 408.60,422.6 408.80,422.6 409.00,422.5 409.20,422.5 409.40,422.4 409.60,422.2 409.80,422.1 410.00,422.0 410.20,421.9 410.40,421.8 410.60,422.0 410.80,421.8 411.00,421.9 411.20,422.0 411.40,421.8 411.60,421.8 411.80,422.1 412.00,422.1 412.20,422.1 412.40,422.2 412.60,422.4 412.80,422.4 413.00,422.5 413.20,422.5 413.40,422.6 413.60,422.6 413.80,422.7 414.00,422.7 414.20,422.7 414.40,422.7 414.60,422.7 414.80,422.7 415.00,422.7 415.20,422.7 415.40,422.7 415.60,422.7 415.80,422.7 416.00,422.7 416.20,422.7 416.40,422.7 416.60,422.7 416.80,422.7 417.00,422.7 417.20,422.7 417.40,422.7 417.60,422.7 417.80,422.7 418.00,422.7 418.20,422.7 418.40,422.7 418.60,422.7 418.80,422.7 419.00,422.7 419.20,422.7 419.40,422.7 419.60,422.7 419.80,422.7 420.00,422.7 420.20,422.6 420.40,422.6 420.60,422.6 420.80,422.6 421.00,422.5 421.20,422.4 421.40,422.4 421.60,422.4 421.80,422.1 422.00,422.1 422.20,422.2 422.40,422.1 422.60,421.9 422.80,421.8 423.00,422.0 423.20,421.8 423.40,422.0 423.60,422.0 423.80,421.9 424.00,422.0 424.20,422.1 424.40,422.4 424.60,422.3 424.80,422.4 425.00,422.5 425.20,422.6 425.40,422.6 425.60,422.6 425.80,422.6 426.00,422.7 426.20,422.7 426.40,422.7 426.60,422.7 426.80,422.7 427.00,422.7 427.20,422.7 427.40,422.7 427.60,422.7 427.80,422.7 428.00,422.7 428.20,422.7 428.40,422.7 428.60,422.7 428.80,422.7 429.00,422.7 429.20,422.7 429.40,422.7 429.60,422.7 429.80,422.7 430.00,422.7 430.20,422.7 430.40,422.7 430.60,422.7 430.80,422.7 431.00,422.7 431.20,422.7 431.40,422.7 431.60,422.7 431.70,422.70Z" fill="#2fa52b" />
<line x1="364.20" y1="422.70" x2="431.70" y2="422.70" stroke="#2fa52b" stroke-width="0.7" />
<rect x="387.30" y="387.30" width="19.20" height="35.20" fill="none" stroke="#8a8a8a" stroke-width="0.75"/>
<text x="408.60" y="395.30" font-size="6.6" fill="#231f20" textLength="18.10" lengthAdjust="spacingAndGlyphs">Class2</text>
<text x="408.60" y="413.10" font-size="6.6" fill="#231f20" textLength="18.10" lengthAdjust="spacingAndGlyphs">Class3</text>
<text x="453.10" y="348.60" font-size="6.6" fill="#231f20" textLength="52.30" lengthAdjust="spacingAndGlyphs">RNA-seq at Mono</text>
<text x="452.20" y="369.00" font-size="6.3" fill="#231f20" textLength="20.10" lengthAdjust="spacingAndGlyphs">86,815</text>
<text x="462.25" y="376.30" font-size="6.3" fill="#231f20" text-anchor="middle">kb</text>
<text x="487.70" y="369.00" font-size="6.3" fill="#231f20" textLength="19.50" lengthAdjust="spacingAndGlyphs">86,818</text>
<text x="497.45" y="376.30" font-size="6.3" fill="#231f20" text-anchor="middle">kb</text>
<line x1="459.30" y1="381.10" x2="459.30" y2="383.30" stroke="#333" stroke-width="0.7" />
<line x1="472.10" y1="381.10" x2="472.10" y2="383.30" stroke="#333" stroke-width="0.7" />
<line x1="485.00" y1="381.10" x2="485.00" y2="383.30" stroke="#333" stroke-width="0.7" />
<line x1="497.50" y1="381.10" x2="497.50" y2="383.30" stroke="#333" stroke-width="0.7" />
<line x1="454.90" y1="385.80" x2="454.90" y2="407.30" stroke="#666" stroke-width="0.9" />
<line x1="452.30" y1="388.60" x2="454.90" y2="388.60" stroke="#666" stroke-width="0.7" />
<text x="448.80" y="391.70" font-size="6.7" fill="#231f20" text-anchor="end">20</text>
<path d="M455.00,404.60L455.00,404.1 455.15,404.1 455.30,404.1 455.45,404.1 455.60,404.1 455.75,404.1 455.90,404.1 456.05,404.0 456.20,404.0 456.35,404.0 456.50,403.9 456.65,403.8 456.80,403.5 456.95,403.6 457.10,403.2 457.25,403.1 457.40,403.1 457.55,403.0 457.70,402.8 457.85,403.0 458.00,402.6 458.15,403.1 458.30,402.7 458.45,402.5 458.60,402.7 458.75,403.1 458.90,403.3 459.05,403.5 459.20,403.6 459.35,403.7 459.50,403.9 459.65,403.9 459.80,403.9 459.95,404.0 460.10,404.0 460.25,404.0 460.40,403.9 460.55,403.8 460.70,403.9 460.85,403.8 461.00,403.6 461.15,403.5 461.30,403.3 461.45,403.3 461.60,403.4 461.75,403.1 461.90,403.0 462.05,403.3 462.20,403.4 462.35,402.9 462.50,403.1 462.65,403.4 462.80,403.7 462.95,403.8 463.10,403.6 463.25,403.7 463.40,403.9 463.55,403.9 463.70,404.0 463.85,404.0 464.00,404.0 464.15,404.1 464.30,404.1 464.45,404.1 464.60,404.1 464.75,404.1 464.90,404.1 465.05,404.1 465.20,404.1 465.35,404.1 465.50,404.1 465.65,404.1 465.80,404.1 465.95,404.1 466.10,404.1 466.25,404.1 466.40,404.1 466.55,404.1 466.70,404.1 466.85,404.1 467.00,404.1 467.15,404.1 467.30,404.1 467.45,404.1 467.60,404.1 467.75,404.1 467.90,404.1 468.05,404.1 468.20,404.1 468.35,404.1 468.50,404.1 468.65,404.1 468.80,404.1 468.95,404.1 469.10,404.1 469.25,404.1 469.40,404.1 469.55,404.1 469.70,404.1 469.85,404.0 470.00,404.0 470.15,403.9 470.30,403.8 470.45,403.9 470.60,403.6 470.75,403.4 470.90,403.1 471.05,403.3 471.20,402.9 471.35,402.9 471.50,402.8 471.65,402.8 471.80,402.2 471.95,402.7 472.10,402.2 472.25,402.5 472.40,402.5 472.55,402.9 472.70,402.8 472.85,402.7 473.00,403.1 473.15,403.3 473.30,403.5 473.45,403.7 473.60,403.9 473.75,403.9 473.90,404.0 474.05,404.0 474.20,404.1 474.35,404.1 474.50,404.1 474.65,404.1 474.80,404.1 474.95,404.1 475.10,404.1 475.25,404.1 475.40,404.1 475.55,404.1 475.70,404.1 475.85,404.1 476.00,404.0 476.15,404.0 476.30,404.0 476.45,404.0 476.60,403.9 476.75,403.8 476.90,403.8 477.05,403.5 477.20,403.5 477.35,403.1 477.50,403.3 477.65,403.5 477.80,402.8 477.95,403.2 478.10,403.2 478.25,402.9 478.40,403.4 478.55,403.5 478.70,403.2 478.85,403.5 479.00,403.6 479.15,403.8 479.30,403.9 479.45,403.9 479.60,404.0 479.75,404.0 479.90,404.1 480.05,404.1 480.20,404.1 480.35,404.1 480.50,404.1 480.65,404.1 480.80,404.1 480.95,404.1 481.10,404.1 481.25,404.1 481.40,404.1 481.55,404.1 481.70,404.1 481.85,404.1 482.00,404.0 482.15,404.0 482.30,404.0 482.45,403.8 482.60,403.7 482.75,403.6 482.90,403.3 483.05,403.2 483.20,402.9 483.35,402.7 483.50,403.0 483.65,403.1 483.80,402.8 483.95,402.2 484.10,402.7 484.25,403.0 484.40,403.2 484.55,402.8 484.70,402.9 484.85,403.4 485.00,403.4 485.15,403.4 485.30,403.7 485.45,403.9 485.60,403.8 485.75,403.9 485.90,404.0 486.05,403.9 486.20,403.9 486.35,403.8 486.50,403.7 486.65,403.8 486.80,403.4 486.95,403.1 487.10,402.9 487.25,402.8 487.40,402.8 487.55,402.3 487.70,402.5 487.85,402.0 488.00,402.1 488.15,402.6 488.30,402.8 488.45,402.8 488.60,402.4 488.75,403.2 488.90,403.3 489.05,403.4 489.20,403.5 489.35,403.4 489.50,403.5 489.65,403.3 489.80,403.3 489.95,402.9 490.10,403.4 490.25,403.1 490.40,402.8 490.55,402.9 490.70,402.3 490.85,402.2 491.00,402.1 491.15,401.9 491.30,402.3 491.45,402.4 491.60,402.9 491.75,402.9 491.90,402.8 492.05,403.2 492.20,403.2 492.35,403.5 492.50,403.5 492.65,403.0 492.80,403.4 492.95,402.6 493.10,402.6 493.25,402.4 493.40,402.6 493.55,402.7 493.70,402.3 493.85,402.0 494.00,401.4 494.15,401.8 494.30,402.3 494.45,402.1 494.60,401.3 494.75,402.0 494.90,401.9 495.05,402.2 495.20,402.8 495.35,402.5 495.50,402.3 495.65,402.7 495.80,401.5 495.95,402.4 496.10,400.6 496.25,401.0 496.40,401.7 496.55,400.5 496.70,400.6 496.85,400.8 497.00,402.4 497.15,402.2 497.30,402.7 497.45,402.2 497.60,402.9 497.75,403.1 497.90,403.6 498.05,403.7 498.20,403.7 498.35,403.9 498.50,404.0 498.65,404.0 498.80,404.0 498.95,404.1 499.10,404.1 499.25,404.1 499.40,404.1 499.55,404.1 499.60,404.60Z" fill="#f6b800" />
<line x1="455.00" y1="404.60" x2="499.60" y2="404.60" stroke="#f6b800" stroke-width="1.6" />
<path d="M455.00,422.70L455.00,422.7 455.15,422.7 455.30,422.7 455.45,422.7 455.60,422.6 455.75,422.3 455.90,421.2 456.05,420.0 456.20,419.4 456.35,417.1 456.50,411.6 456.65,415.9 456.80,414.5 456.95,416.1 457.10,413.4 457.25,413.0 457.40,409.9 457.55,411.4 457.70,416.0 457.85,409.9 458.00,413.2 458.15,412.0 458.30,414.2 458.45,415.3 458.60,415.3 458.75,415.5 458.90,415.5 459.05,416.2 459.20,416.9 459.35,415.6 459.50,415.4 459.65,410.0 459.80,409.9 459.95,411.8 460.10,413.9 460.25,413.5 460.40,413.0 460.55,414.1 460.70,418.7 460.85,420.1 461.00,421.7 461.15,422.4 461.30,422.6 461.45,422.7 461.60,422.7 461.75,422.7 461.90,422.7 462.05,422.7 462.20,422.7 462.35,422.7 462.50,422.7 462.65,422.7 462.80,422.7 462.95,422.7 463.10,422.7 463.25,422.7 463.40,422.7 463.55,422.7 463.70,422.7 463.85,422.7 464.00,422.7 464.15,422.7 464.30,422.7 464.45,422.7 464.60,422.7 464.75,422.7 464.90,422.7 465.05,422.7 465.20,422.7 465.35,422.7 465.50,422.7 465.65,422.7 465.80,422.7 465.95,422.7 466.10,422.7 466.25,422.7 466.40,422.7 466.55,422.7 466.70,422.7 466.85,422.7 467.00,422.7 467.15,422.7 467.30,422.7 467.45,422.7 467.60,422.7 467.75,422.7 467.90,422.7 468.05,422.7 468.20,422.7 468.35,422.7 468.50,422.7 468.65,422.7 468.80,422.7 468.95,422.7 469.10,422.7 469.25,422.7 469.40,422.7 469.55,422.7 469.70,422.7 469.85,422.7 470.00,422.4 470.15,421.6 470.30,419.9 470.45,419.0 470.60,416.5 470.75,411.9 470.90,409.7 471.05,410.7 471.20,409.7 471.35,412.0 471.50,409.7 471.65,413.4 471.80,416.4 471.95,411.6 472.10,416.0 472.25,414.0 472.40,410.2 472.55,412.8 472.70,414.5 472.85,415.7 473.00,417.5 473.15,416.2 473.30,418.6 473.45,418.8 473.60,421.3 473.75,422.2 473.90,422.5 474.05,422.7 474.20,422.7 474.35,422.7 474.50,422.7 474.65,422.7 474.80,422.7 474.95,422.7 475.10,422.7 475.25,422.7 475.40,422.7 475.55,422.7 475.70,422.7 475.85,422.7 476.00,422.7 476.15,422.7 476.30,422.7 476.45,422.7 476.60,422.7 476.75,422.7 476.90,422.7 477.05,422.7 477.20,422.7 477.35,422.7 477.50,422.7 477.65,422.7 477.80,422.7 477.95,422.7 478.10,422.7 478.25,422.7 478.40,422.5 478.55,422.1 478.70,421.1 478.85,420.3 479.00,418.6 479.15,418.6 479.30,415.9 479.45,416.5 479.60,417.0 479.75,418.3 479.90,417.6 480.05,415.6 480.20,419.2 480.35,417.4 480.50,418.7 480.65,417.3 480.80,419.1 480.95,419.2 481.10,420.3 481.25,421.1 481.40,421.6 481.55,421.1 481.70,419.8 481.85,415.5 482.00,416.6 482.15,412.7 482.30,411.6 482.45,416.1 482.60,416.5 482.75,409.7 482.90,410.1 483.05,409.7 483.20,411.4 483.35,415.4 483.50,414.9 483.65,414.0 483.80,410.5 483.95,415.0 484.10,415.4 484.25,416.2 484.40,416.2 484.55,415.2 484.70,417.5 484.85,417.9 485.00,417.2 485.15,415.9 485.30,412.1 485.45,410.8 485.60,415.2 485.75,415.6 485.90,416.2 486.05,415.4 486.20,414.6 486.35,416.7 486.50,413.5 486.65,412.4 486.80,415.7 486.95,409.7 487.10,414.4 487.25,412.9 487.40,417.0 487.55,415.0 487.70,417.8 487.85,417.7 488.00,417.3 488.15,415.9 488.30,416.0 488.45,413.6 488.60,416.1 488.75,412.3 488.90,416.0 489.05,411.9 489.20,413.4 489.35,415.3 489.50,413.6 489.65,414.8 489.80,413.4 489.95,417.7 490.10,416.3 490.25,416.2 490.40,413.6 490.55,414.3 490.70,415.1 490.85,413.9 491.00,409.7 491.15,414.4 491.30,414.4 491.45,416.1 491.60,415.8 491.75,413.0 491.90,412.6 492.05,415.0 492.20,415.6 492.35,415.3 492.50,416.1 492.65,414.6 492.80,417.2 492.95,417.8 493.10,417.5 493.25,410.9 493.40,414.2 493.55,410.0 493.70,416.7 493.85,416.8 494.00,416.4 494.15,413.1 494.30,411.6 494.45,415.6 494.60,413.9 494.75,416.6 494.90,417.5 495.05,417.8 495.20,415.3 495.35,414.9 495.50,414.0 495.65,409.8 495.80,413.7 495.95,413.7 496.10,416.3 496.25,417.5 496.40,415.8 496.55,415.4 496.70,417.3 496.85,414.0 497.00,417.5 497.15,418.0 497.30,415.8 497.45,418.9 497.60,419.1 497.75,420.9 497.90,421.2 498.05,422.2 498.20,422.6 498.35,422.7 498.50,422.7 498.65,422.7 498.80,422.7 498.95,422.7 499.10,422.7 499.25,422.7 499.40,422.7 499.55,422.7 499.60,422.70Z" fill="#2fa52b" />
<line x1="455.00" y1="422.70" x2="499.60" y2="422.70" stroke="#2fa52b" stroke-width="0.8" />
<rect x="456.30" y="387.30" width="42.00" height="35.40" fill="none" stroke="#8a8a8a" stroke-width="0.75"/>
<line x1="457.50" y1="430.30" x2="500.10" y2="430.30" stroke="#111" stroke-width="1.2" />
<path d="M457.3,430.3 L459.6,429.1 L459.6,431.5 Z" fill="#111" />
<rect x="470.30" y="428.80" width="2.80" height="3.00" fill="#111"/>
<rect x="478.30" y="429.00" width="1.40" height="2.60" fill="#111"/>
<rect x="481.50" y="428.80" width="6.50" height="3.00" fill="#111"/>
<text x="461.00" y="440.00" font-size="6.6" fill="#231f20" textLength="9.50" lengthAdjust="spacingAndGlyphs">Fos</text>
<text x="105.50" y="498.60" font-size="6.6" fill="#231f20" textLength="71.50" lengthAdjust="spacingAndGlyphs">Enrichment of TF targets</text>
<rect x="106.80" y="506.30" width="64.50" height="6.50" fill="#e5211c"/>
<line x1="104.30" y1="509.55" x2="106.30" y2="509.55" stroke="#333" stroke-width="0.7" />
<text x="100.10" y="511.90" font-size="6.6" fill="#231f20" text-anchor="end">ETS1</text>
<rect x="106.80" y="514.40" width="56.20" height="6.50" fill="#e5211c"/>
<line x1="104.30" y1="517.65" x2="106.30" y2="517.65" stroke="#333" stroke-width="0.7" />
<text x="100.10" y="520.00" font-size="6.6" fill="#231f20" text-anchor="end">EP300</text>
<rect x="106.80" y="522.50" width="54.00" height="6.50" fill="#e5211c"/>
<line x1="104.30" y1="525.75" x2="106.30" y2="525.75" stroke="#333" stroke-width="0.7" />
<text x="100.10" y="528.10" font-size="6.6" fill="#231f20" text-anchor="end">Gata1</text>
<rect x="106.80" y="530.50" width="52.70" height="6.50" fill="#e5211c"/>
<line x1="104.30" y1="533.75" x2="106.30" y2="533.75" stroke="#333" stroke-width="0.7" />
<text x="100.10" y="536.10" font-size="6.6" fill="#231f20" text-anchor="end">BCL11A</text>
<rect x="106.80" y="538.60" width="46.70" height="6.50" fill="#e5211c"/>
<line x1="104.30" y1="541.85" x2="106.30" y2="541.85" stroke="#333" stroke-width="0.7" />
<text x="100.10" y="544.20" font-size="6.6" fill="#231f20" text-anchor="end">TET2</text>
<rect x="106.80" y="546.80" width="40.70" height="6.50" fill="#e5211c"/>
<line x1="104.30" y1="550.05" x2="106.30" y2="550.05" stroke="#333" stroke-width="0.7" />
<text x="100.10" y="552.40" font-size="6.6" fill="#231f20" text-anchor="end">LIN28</text>
<rect x="106.80" y="554.90" width="30.00" height="6.50" fill="#e5211c"/>
<line x1="104.30" y1="558.15" x2="106.30" y2="558.15" stroke="#333" stroke-width="0.7" />
<text x="100.10" y="560.50" font-size="6.6" fill="#231f20" text-anchor="end">HDAC2</text>
<rect x="106.80" y="563.10" width="15.00" height="6.50" fill="#e0116a"/>
<line x1="104.30" y1="566.35" x2="106.30" y2="566.35" stroke="#333" stroke-width="0.7" />
<text x="100.10" y="568.70" font-size="6.6" fill="#231f20" text-anchor="end">ATF2</text>
<rect x="106.80" y="571.20" width="13.70" height="6.50" fill="#bf1290"/>
<line x1="104.30" y1="574.45" x2="106.30" y2="574.45" stroke="#333" stroke-width="0.7" />
<text x="100.10" y="576.80" font-size="6.6" fill="#231f20" text-anchor="end">H3K27ac</text>
<rect x="106.80" y="579.20" width="11.40" height="6.50" fill="#3b1f8c"/>
<line x1="104.30" y1="582.45" x2="106.30" y2="582.45" stroke="#333" stroke-width="0.7" />
<text x="100.10" y="584.80" font-size="6.6" fill="#231f20" text-anchor="end">NR1H3</text>
<line x1="106.30" y1="505.50" x2="106.30" y2="587.50" stroke="#333" stroke-width="0.8" />
<line x1="106.30" y1="587.50" x2="172.50" y2="587.50" stroke="#333" stroke-width="0.8" />
<line x1="106.80" y1="587.50" x2="106.80" y2="590.00" stroke="#333" stroke-width="0.7" />
<text x="106.80" y="598.70" font-size="6.4" fill="#231f20" text-anchor="middle">0</text>
<line x1="122.60" y1="587.50" x2="122.60" y2="590.00" stroke="#333" stroke-width="0.7" />
<text x="122.60" y="598.70" font-size="6.4" fill="#231f20" text-anchor="middle">2.5</text>
<line x1="138.80" y1="587.50" x2="138.80" y2="590.00" stroke="#333" stroke-width="0.7" />
<text x="138.80" y="598.70" font-size="6.4" fill="#231f20" text-anchor="middle">5</text>
<line x1="154.60" y1="587.50" x2="154.60" y2="590.00" stroke="#333" stroke-width="0.7" />
<text x="154.60" y="598.70" font-size="6.4" fill="#231f20" text-anchor="middle">7.5</text>
<line x1="171.30" y1="587.50" x2="171.30" y2="590.00" stroke="#333" stroke-width="0.7" />
<text x="171.30" y="598.70" font-size="6.4" fill="#231f20" text-anchor="middle">10</text>
<text x="114.5" y="611.0" font-size="7.2" fill="#231f20" textLength="50" lengthAdjust="spacingAndGlyphs">−log10(<tspan font-style="italic">P</tspan>-value)</text>
<text x="149.20" y="562.80" font-size="5.6" fill="#231f20" textLength="18.50" lengthAdjust="spacingAndGlyphs">P-value</text>
<rect x="147.8" y="565.4" width="6.2" height="18.4" rx="1.2" fill="url(#pv)"/>
<text x="156.90" y="569.40" font-size="6.0" fill="#231f20" textLength="10.80" lengthAdjust="spacingAndGlyphs">0.01</text>
<text x="156.90" y="582.80" font-size="6.0" fill="#231f20" textLength="17.70" lengthAdjust="spacingAndGlyphs">0.0025</text>
<text x="279.80" y="504.60" font-size="6.6" fill="#231f20" textLength="97.50" lengthAdjust="spacingAndGlyphs">Motif in blueprint ATACseq peaks</text>
<text x="395.70" y="505.00" font-size="6.6" fill="#231f20" textLength="28.60" lengthAdjust="spacingAndGlyphs">Motif (TF)</text>
<text x="436.50" y="505.00" font-size="6.6" fill="#231f20" textLength="21.50" lengthAdjust="spacingAndGlyphs">E-value</text>
<text x="403.80" y="521.20" font-size="6.6" fill="#231f20" textLength="13.60" lengthAdjust="spacingAndGlyphs">KLF9</text>
<text x="436.50" y="521.20" font-size="6.6" fill="#231f20" textLength="22.00" lengthAdjust="spacingAndGlyphs">5.7e-16</text>
<text x="399.60" y="542.00" font-size="6.6" fill="#231f20" textLength="21.90" lengthAdjust="spacingAndGlyphs">BACH2</text>
<text x="393.40" y="549.50" font-size="6.6" fill="#231f20" textLength="33.90" lengthAdjust="spacingAndGlyphs">MAF::NFE2</text>
<text x="437.70" y="547.20" font-size="6.6" fill="#231f20" textLength="18.50" lengthAdjust="spacingAndGlyphs">5.9e-8</text>
<text x="405.40" y="565.00" font-size="6.6" fill="#231f20" textLength="10.40" lengthAdjust="spacingAndGlyphs">SP1</text>
<text x="398.90" y="572.60" font-size="6.6" fill="#231f20" textLength="23.10" lengthAdjust="spacingAndGlyphs">ZNF263</text>
<text x="405.40" y="580.50" font-size="6.6" fill="#231f20" textLength="10.40" lengthAdjust="spacingAndGlyphs">SP2</text>
<text x="437.70" y="573.10" font-size="6.6" fill="#231f20" textLength="18.50" lengthAdjust="spacingAndGlyphs">2.9e-4</text>
<line x1="267.00" y1="513.50" x2="267.00" y2="524.30" stroke="#777" stroke-width="0.5" />
<line x1="266.00" y1="513.50" x2="267.00" y2="513.50" stroke="#777" stroke-width="0.4" />
<line x1="266.00" y1="519.00" x2="267.00" y2="519.00" stroke="#777" stroke-width="0.4" />
<line x1="266.00" y1="524.30" x2="267.00" y2="524.30" stroke="#777" stroke-width="0.4" />
<text x="265.50" y="521.00" font-size="2.5" fill="#888" text-anchor="end">1</text>
<text x="0" y="0" font-size="10" font-weight="bold" fill="#1f7a32" stroke="#1f7a32" stroke-width="0.2" textLength="3.40" lengthAdjust="spacingAndGlyphs" transform="translate(272.20 526.50) scale(1 0.125)">T</text>
<text x="0" y="0" font-size="10" font-weight="bold" fill="#f2b31b" stroke="#f2b31b" stroke-width="0.2" textLength="3.40" lengthAdjust="spacingAndGlyphs" transform="translate(272.20 525.60) scale(1 0.111)">G</text>
<text x="0" y="0" font-size="10" font-weight="bold" fill="#d42026" stroke="#d42026" stroke-width="0.6749999999999999" textLength="2.93" lengthAdjust="spacingAndGlyphs" transform="translate(272.44 524.80) scale(1 1.250)">A</text>
<text x="0" y="0" font-size="10" font-weight="bold" fill="#1f7a32" stroke="#1f7a32" stroke-width="0.2" textLength="3.20" lengthAdjust="spacingAndGlyphs" transform="translate(276.10 526.50) scale(1 0.125)">T</text>
<text x="0" y="0" font-size="10" font-weight="bold" fill="#1d2f86" stroke="#1d2f86" stroke-width="0.2" textLength="3.20" lengthAdjust="spacingAndGlyphs" transform="translate(276.10 525.60) scale(1 0.097)">C</text>
<text x="0" y="0" font-size="10" font-weight="bold" fill="#f2b31b" stroke="#f2b31b" stroke-width="0.2" textLength="3.20" lengthAdjust="spacingAndGlyphs" transform="translate(276.10 524.90) scale(1 0.139)">G</text>
<text x="0" y="0" font-size="10" font-weight="bold" fill="#1f7a32" stroke="#1f7a32" stroke-width="0.2" textLength="3.40" lengthAdjust="spacingAndGlyphs" transform="translate(280.20 526.50) scale(1 0.125)">T</text>
<text x="0" y="0" font-size="10" font-weight="bold" fill="#f2b31b" stroke="#f2b31b" stroke-width="0.2" textLength="3.40" lengthAdjust="spacingAndGlyphs" transform="translate(280.20 525.60) scale(1 0.111)">G</text>
<text x="0" y="0" font-size="10" font-weight="bold" fill="#d42026" stroke="#d42026" stroke-width="0.375" textLength="3.23" lengthAdjust="spacingAndGlyphs" transform="translate(280.29 524.80) scale(1 0.694)">A</text>
<text x="0" y="0" font-size="10" font-weight="bold" fill="#f2b31b" stroke="#f2b31b" stroke-width="0.2" textLength="3.00" lengthAdjust="spacingAndGlyphs" transform="translate(283.20 526.50) scale(1 0.125)">G</text>
<text x="0" y="0" font-size="10" font-weight="bold" fill="#1f7a32" stroke="#1f7a32" stroke-width="0.2" textLength="3.00" lengthAdjust="spacingAndGlyphs" transform="translate(283.20 525.60) scale(1 0.111)">T</text>
<text x="0" y="0" font-size="10" font-weight="bold" fill="#1d2f86" stroke="#1d2f86" stroke-width="0.33749999999999997" textLength="2.86" lengthAdjust="spacingAndGlyphs" transform="translate(283.27 524.80) scale(1 0.625)">C</text>
<text x="0" y="0" font-size="10" font-weight="bold" fill="#1f7a32" stroke="#1f7a32" stroke-width="0.2" textLength="3.40" lengthAdjust="spacingAndGlyphs" transform="translate(287.40 526.50) scale(1 0.125)">T</text>
<text x="0" y="0" font-size="10" font-weight="bold" fill="#f2b31b" stroke="#f2b31b" stroke-width="0.2" textLength="3.40" lengthAdjust="spacingAndGlyphs" transform="translate(287.40 525.60) scale(1 0.111)">G</text>
<text x="0" y="0" font-size="10" font-weight="bold" fill="#d42026" stroke="#d42026" stroke-width="0.75" textLength="2.85" lengthAdjust="spacingAndGlyphs" transform="translate(287.68 524.80) scale(1 1.569)">A</text>
<text x="0" y="0" font-size="10" font-weight="bold" fill="#1f7a32" stroke="#1f7a32" stroke-width="0.2" textLength="3.20" lengthAdjust="spacingAndGlyphs" transform="translate(291.40 526.50) scale(1 0.125)">T</text>
<text x="0" y="0" font-size="10" font-weight="bold" fill="#1d2f86" stroke="#1d2f86" stroke-width="0.2" textLength="3.20" lengthAdjust="spacingAndGlyphs" transform="translate(291.40 525.60) scale(1 0.097)">C</text>
<text x="0" y="0" font-size="10" font-weight="bold" fill="#f2b31b" stroke="#f2b31b" stroke-width="0.2" textLength="3.20" lengthAdjust="spacingAndGlyphs" transform="translate(291.40 524.90) scale(1 0.139)">G</text>
<text x="0" y="0" font-size="10" font-weight="bold" fill="#1f7a32" stroke="#1f7a32" stroke-width="0.2" textLength="3.40" lengthAdjust="spacingAndGlyphs" transform="translate(295.30 526.50) scale(1 0.125)">T</text>
<text x="0" y="0" font-size="10" font-weight="bold" fill="#f2b31b" stroke="#f2b31b" stroke-width="0.2" textLength="3.40" lengthAdjust="spacingAndGlyphs" transform="translate(295.30 525.60) scale(1 0.111)">G</text>
<text x="0" y="0" font-size="10" font-weight="bold" fill="#d42026" stroke="#d42026" stroke-width="0.44999999999999996" textLength="3.15" lengthAdjust="spacingAndGlyphs" transform="translate(295.43 524.80) scale(1 0.833)">A</text>
<text x="0" y="0" font-size="10" font-weight="bold" fill="#1f7a32" stroke="#1f7a32" stroke-width="0.2" textLength="3.20" lengthAdjust="spacingAndGlyphs" transform="translate(299.20 526.50) scale(1 0.125)">T</text>
<text x="0" y="0" font-size="10" font-weight="bold" fill="#1d2f86" stroke="#1d2f86" stroke-width="0.2" textLength="3.20" lengthAdjust="spacingAndGlyphs" transform="translate(299.20 525.60) scale(1 0.097)">C</text>
<text x="0" y="0" font-size="10" font-weight="bold" fill="#f2b31b" stroke="#f2b31b" stroke-width="0.2" textLength="3.20" lengthAdjust="spacingAndGlyphs" transform="translate(299.20 524.90) scale(1 0.139)">G</text>
<text x="0" y="0" font-size="10" font-weight="bold" fill="#1f7a32" stroke="#1f7a32" stroke-width="0.2" textLength="3.40" lengthAdjust="spacingAndGlyphs" transform="translate(303.40 526.50) scale(1 0.125)">T</text>
<text x="0" y="0" font-size="10" font-weight="bold" fill="#f2b31b" stroke="#f2b31b" stroke-width="0.2" textLength="3.40" lengthAdjust="spacingAndGlyphs" transform="translate(303.40 525.60) scale(1 0.111)">G</text>
<text x="0" y="0" font-size="10" font-weight="bold" fill="#d42026" stroke="#d42026" stroke-width="0.6749999999999999" textLength="2.93" lengthAdjust="spacingAndGlyphs" transform="translate(303.64 524.80) scale(1 1.250)">A</text>
<text x="0" y="0" font-size="10" font-weight="bold" fill="#1f7a32" stroke="#1f7a32" stroke-width="0.2" textLength="3.20" lengthAdjust="spacingAndGlyphs" transform="translate(307.30 526.50) scale(1 0.125)">T</text>
<text x="0" y="0" font-size="10" font-weight="bold" fill="#1d2f86" stroke="#1d2f86" stroke-width="0.2" textLength="3.20" lengthAdjust="spacingAndGlyphs" transform="translate(307.30 525.60) scale(1 0.097)">C</text>
<text x="0" y="0" font-size="10" font-weight="bold" fill="#f2b31b" stroke="#f2b31b" stroke-width="0.2" textLength="3.20" lengthAdjust="spacingAndGlyphs" transform="translate(307.30 524.90) scale(1 0.139)">G</text>
<text x="0" y="0" font-size="10" font-weight="bold" fill="#1f7a32" stroke="#1f7a32" stroke-width="0.2" textLength="3.40" lengthAdjust="spacingAndGlyphs" transform="translate(311.20 526.50) scale(1 0.125)">T</text>
<text x="0" y="0" font-size="10" font-weight="bold" fill="#f2b31b" stroke="#f2b31b" stroke-width="0.2" textLength="3.40" lengthAdjust="spacingAndGlyphs" transform="translate(311.20 525.60) scale(1 0.111)">G</text>
<text x="0" y="0" font-size="10" font-weight="bold" fill="#d42026" stroke="#d42026" stroke-width="0.6749999999999999" textLength="2.93" lengthAdjust="spacingAndGlyphs" transform="translate(311.44 524.80) scale(1 1.250)">A</text>
<text x="0" y="0" font-size="10" font-weight="bold" fill="#1f7a32" stroke="#1f7a32" stroke-width="0.2" textLength="3.20" lengthAdjust="spacingAndGlyphs" transform="translate(315.10 526.50) scale(1 0.125)">T</text>
<text x="0" y="0" font-size="10" font-weight="bold" fill="#1d2f86" stroke="#1d2f86" stroke-width="0.2" textLength="3.20" lengthAdjust="spacingAndGlyphs" transform="translate(315.10 525.60) scale(1 0.097)">C</text>
<text x="0" y="0" font-size="10" font-weight="bold" fill="#f2b31b" stroke="#f2b31b" stroke-width="0.2" textLength="3.20" lengthAdjust="spacingAndGlyphs" transform="translate(315.10 524.90) scale(1 0.139)">G</text>
<text x="0" y="0" font-size="10" font-weight="bold" fill="#1f7a32" stroke="#1f7a32" stroke-width="0.2" textLength="3.40" lengthAdjust="spacingAndGlyphs" transform="translate(318.90 526.50) scale(1 0.125)">T</text>
<text x="0" y="0" font-size="10" font-weight="bold" fill="#f2b31b" stroke="#f2b31b" stroke-width="0.2" textLength="3.40" lengthAdjust="spacingAndGlyphs" transform="translate(318.90 525.60) scale(1 0.111)">G</text>
<text x="0" y="0" font-size="10" font-weight="bold" fill="#d42026" stroke="#d42026" stroke-width="0.4875" textLength="3.11" lengthAdjust="spacingAndGlyphs" transform="translate(319.04 524.80) scale(1 0.903)">A</text>
<text x="0" y="0" font-size="10" font-weight="bold" fill="#1f7a32" stroke="#1f7a32" stroke-width="0.2" textLength="3.20" lengthAdjust="spacingAndGlyphs" transform="translate(322.80 526.50) scale(1 0.125)">T</text>
<text x="0" y="0" font-size="10" font-weight="bold" fill="#1d2f86" stroke="#1d2f86" stroke-width="0.2" textLength="3.20" lengthAdjust="spacingAndGlyphs" transform="translate(322.80 525.60) scale(1 0.097)">C</text>
<text x="0" y="0" font-size="10" font-weight="bold" fill="#f2b31b" stroke="#f2b31b" stroke-width="0.2" textLength="3.20" lengthAdjust="spacingAndGlyphs" transform="translate(322.80 524.90) scale(1 0.139)">G</text>
<text x="0" y="0" font-size="10" font-weight="bold" fill="#1f7a32" stroke="#1f7a32" stroke-width="0.2" textLength="3.40" lengthAdjust="spacingAndGlyphs" transform="translate(326.80 526.50) scale(1 0.125)">T</text>
<text x="0" y="0" font-size="10" font-weight="bold" fill="#f2b31b" stroke="#f2b31b" stroke-width="0.2" textLength="3.40" lengthAdjust="spacingAndGlyphs" transform="translate(326.80 525.60) scale(1 0.111)">G</text>
<text x="0" y="0" font-size="10" font-weight="bold" fill="#d42026" stroke="#d42026" stroke-width="0.6" textLength="3.00" lengthAdjust="spacingAndGlyphs" transform="translate(327.00 524.80) scale(1 1.111)">A</text>
<text x="0" y="0" font-size="10" font-weight="bold" fill="#f2b31b" stroke="#f2b31b" stroke-width="0.2" textLength="3.00" lengthAdjust="spacingAndGlyphs" transform="translate(330.90 526.50) scale(1 0.125)">G</text>
<text x="0" y="0" font-size="10" font-weight="bold" fill="#1f7a32" stroke="#1f7a32" stroke-width="0.2" textLength="3.00" lengthAdjust="spacingAndGlyphs" transform="translate(330.90 525.60) scale(1 0.111)">T</text>
<text x="0" y="0" font-size="10" font-weight="bold" fill="#1d2f86" stroke="#1d2f86" stroke-width="0.27" textLength="2.93" lengthAdjust="spacingAndGlyphs" transform="translate(330.94 524.80) scale(1 0.500)">C</text>
<text x="0" y="0" font-size="10" font-weight="bold" fill="#1f7a32" stroke="#1f7a32" stroke-width="0.2" textLength="3.40" lengthAdjust="spacingAndGlyphs" transform="translate(334.90 526.50) scale(1 0.125)">T</text>
<text x="0" y="0" font-size="10" font-weight="bold" fill="#f2b31b" stroke="#f2b31b" stroke-width="0.2" textLength="3.40" lengthAdjust="spacingAndGlyphs" transform="translate(334.90 525.60) scale(1 0.111)">G</text>
<text x="0" y="0" font-size="10" font-weight="bold" fill="#d42026" stroke="#d42026" stroke-width="0.42" textLength="3.18" lengthAdjust="spacingAndGlyphs" transform="translate(335.01 524.80) scale(1 0.778)">A</text>
<text x="0" y="0" font-size="10" font-weight="bold" fill="#1f7a32" stroke="#1f7a32" stroke-width="0.2" textLength="3.20" lengthAdjust="spacingAndGlyphs" transform="translate(338.90 526.50) scale(1 0.125)">T</text>
<text x="0" y="0" font-size="10" font-weight="bold" fill="#1d2f86" stroke="#1d2f86" stroke-width="0.2" textLength="3.20" lengthAdjust="spacingAndGlyphs" transform="translate(338.90 525.60) scale(1 0.097)">C</text>
<text x="0" y="0" font-size="10" font-weight="bold" fill="#f2b31b" stroke="#f2b31b" stroke-width="0.2" textLength="3.20" lengthAdjust="spacingAndGlyphs" transform="translate(338.90 524.90) scale(1 0.139)">G</text>
<text x="0" y="0" font-size="10" font-weight="bold" fill="#1f7a32" stroke="#1f7a32" stroke-width="0.2" textLength="3.40" lengthAdjust="spacingAndGlyphs" transform="translate(343.00 526.50) scale(1 0.125)">T</text>
<text x="0" y="0" font-size="10" font-weight="bold" fill="#f2b31b" stroke="#f2b31b" stroke-width="0.2" textLength="3.40" lengthAdjust="spacingAndGlyphs" transform="translate(343.00 525.60) scale(1 0.111)">G</text>
<text x="0" y="0" font-size="10" font-weight="bold" fill="#d42026" stroke="#d42026" stroke-width="0.75" textLength="2.85" lengthAdjust="spacingAndGlyphs" transform="translate(343.27 524.80) scale(1 1.528)">A</text>
<text x="0" y="0" font-size="10" font-weight="bold" fill="#f2b31b" stroke="#f2b31b" stroke-width="0.2" textLength="3.00" lengthAdjust="spacingAndGlyphs" transform="translate(347.00 526.50) scale(1 0.125)">G</text>
<text x="0" y="0" font-size="10" font-weight="bold" fill="#1f7a32" stroke="#1f7a32" stroke-width="0.2" textLength="3.00" lengthAdjust="spacingAndGlyphs" transform="translate(347.00 525.60) scale(1 0.111)">T</text>
<text x="0" y="0" font-size="10" font-weight="bold" fill="#1d2f86" stroke="#1d2f86" stroke-width="0.2" textLength="3.00" lengthAdjust="spacingAndGlyphs" transform="translate(347.00 524.80) scale(1 0.417)">C</text>
<text x="0" y="0" font-size="10" font-weight="bold" fill="#1f7a32" stroke="#1f7a32" stroke-width="0.2" textLength="3.40" lengthAdjust="spacingAndGlyphs" transform="translate(350.80 526.50) scale(1 0.125)">T</text>
<text x="0" y="0" font-size="10" font-weight="bold" fill="#f2b31b" stroke="#f2b31b" stroke-width="0.2" textLength="3.40" lengthAdjust="spacingAndGlyphs" transform="translate(350.80 525.60) scale(1 0.111)">G</text>
<text x="0" y="0" font-size="10" font-weight="bold" fill="#d42026" stroke="#d42026" stroke-width="0.75" textLength="2.85" lengthAdjust="spacingAndGlyphs" transform="translate(351.07 524.80) scale(1 1.528)">A</text>
<text x="0" y="0" font-size="10" font-weight="bold" fill="#1f7a32" stroke="#1f7a32" stroke-width="0.2" textLength="3.20" lengthAdjust="spacingAndGlyphs" transform="translate(354.70 526.50) scale(1 0.125)">T</text>
<text x="0" y="0" font-size="10" font-weight="bold" fill="#1d2f86" stroke="#1d2f86" stroke-width="0.2" textLength="3.20" lengthAdjust="spacingAndGlyphs" transform="translate(354.70 525.60) scale(1 0.097)">C</text>
<text x="0" y="0" font-size="10" font-weight="bold" fill="#f2b31b" stroke="#f2b31b" stroke-width="0.2" textLength="3.20" lengthAdjust="spacingAndGlyphs" transform="translate(354.70 524.90) scale(1 0.139)">G</text>
<text x="0" y="0" font-size="10" font-weight="bold" fill="#1f7a32" stroke="#1f7a32" stroke-width="0.2" textLength="3.40" lengthAdjust="spacingAndGlyphs" transform="translate(358.50 526.50) scale(1 0.125)">T</text>
<text x="0" y="0" font-size="10" font-weight="bold" fill="#f2b31b" stroke="#f2b31b" stroke-width="0.2" textLength="3.40" lengthAdjust="spacingAndGlyphs" transform="translate(358.50 525.60) scale(1 0.111)">G</text>
<text x="0" y="0" font-size="10" font-weight="bold" fill="#d42026" stroke="#d42026" stroke-width="0.75" textLength="2.85" lengthAdjust="spacingAndGlyphs" transform="translate(358.77 524.80) scale(1 1.528)">A</text>
<text x="0" y="0" font-size="10" font-weight="bold" fill="#1f7a32" stroke="#1f7a32" stroke-width="0.2" textLength="3.20" lengthAdjust="spacingAndGlyphs" transform="translate(362.50 526.50) scale(1 0.125)">T</text>
<text x="0" y="0" font-size="10" font-weight="bold" fill="#1d2f86" stroke="#1d2f86" stroke-width="0.2" textLength="3.20" lengthAdjust="spacingAndGlyphs" transform="translate(362.50 525.60) scale(1 0.097)">C</text>
<text x="0" y="0" font-size="10" font-weight="bold" fill="#f2b31b" stroke="#f2b31b" stroke-width="0.2" textLength="3.20" lengthAdjust="spacingAndGlyphs" transform="translate(362.50 524.90) scale(1 0.139)">G</text>
<text x="0" y="0" font-size="10" font-weight="bold" fill="#1f7a32" stroke="#1f7a32" stroke-width="0.2" textLength="3.40" lengthAdjust="spacingAndGlyphs" transform="translate(366.50 526.50) scale(1 0.125)">T</text>
<text x="0" y="0" font-size="10" font-weight="bold" fill="#f2b31b" stroke="#f2b31b" stroke-width="0.2" textLength="3.40" lengthAdjust="spacingAndGlyphs" transform="translate(366.50 525.60) scale(1 0.111)">G</text>
<text x="0" y="0" font-size="10" font-weight="bold" fill="#d42026" stroke="#d42026" stroke-width="0.75" textLength="2.85" lengthAdjust="spacingAndGlyphs" transform="translate(366.77 524.80) scale(1 1.528)">A</text>
<text x="0" y="0" font-size="10" font-weight="bold" fill="#1f7a32" stroke="#1f7a32" stroke-width="0.2" textLength="3.20" lengthAdjust="spacingAndGlyphs" transform="translate(370.40 526.50) scale(1 0.125)">T</text>
<text x="0" y="0" font-size="10" font-weight="bold" fill="#1d2f86" stroke="#1d2f86" stroke-width="0.2" textLength="3.20" lengthAdjust="spacingAndGlyphs" transform="translate(370.40 525.60) scale(1 0.097)">C</text>
<text x="0" y="0" font-size="10" font-weight="bold" fill="#f2b31b" stroke="#f2b31b" stroke-width="0.2" textLength="3.20" lengthAdjust="spacingAndGlyphs" transform="translate(370.40 524.90) scale(1 0.139)">G</text>
<text x="0" y="0" font-size="10" font-weight="bold" fill="#1f7a32" stroke="#1f7a32" stroke-width="0.2" textLength="3.40" lengthAdjust="spacingAndGlyphs" transform="translate(374.60 526.50) scale(1 0.125)">T</text>
<text x="0" y="0" font-size="10" font-weight="bold" fill="#f2b31b" stroke="#f2b31b" stroke-width="0.2" textLength="3.40" lengthAdjust="spacingAndGlyphs" transform="translate(374.60 525.60) scale(1 0.111)">G</text>
<text x="0" y="0" font-size="10" font-weight="bold" fill="#d42026" stroke="#d42026" stroke-width="0.57" textLength="3.03" lengthAdjust="spacingAndGlyphs" transform="translate(374.79 524.80) scale(1 1.056)">A</text>
<text x="0" y="0" font-size="10" font-weight="bold" fill="#f2b31b" stroke="#f2b31b" stroke-width="0.2" textLength="3.00" lengthAdjust="spacingAndGlyphs" transform="translate(378.60 526.50) scale(1 0.125)">G</text>
<text x="0" y="0" font-size="10" font-weight="bold" fill="#1f7a32" stroke="#1f7a32" stroke-width="0.2" textLength="3.00" lengthAdjust="spacingAndGlyphs" transform="translate(378.60 525.60) scale(1 0.111)">T</text>
<text x="0" y="0" font-size="10" font-weight="bold" fill="#1d2f86" stroke="#1d2f86" stroke-width="0.32249999999999995" textLength="2.88" lengthAdjust="spacingAndGlyphs" transform="translate(378.66 524.80) scale(1 0.597)">C</text>
<text x="0" y="0" font-size="10" font-weight="bold" fill="#1f7a32" stroke="#1f7a32" stroke-width="0.2" textLength="3.40" lengthAdjust="spacingAndGlyphs" transform="translate(382.70 526.50) scale(1 0.125)">T</text>
<text x="0" y="0" font-size="10" font-weight="bold" fill="#f2b31b" stroke="#f2b31b" stroke-width="0.2" textLength="3.40" lengthAdjust="spacingAndGlyphs" transform="translate(382.70 525.60) scale(1 0.111)">G</text>
<text x="0" y="0" font-size="10" font-weight="bold" fill="#d42026" stroke="#d42026" stroke-width="0.6225" textLength="2.98" lengthAdjust="spacingAndGlyphs" transform="translate(382.91 524.80) scale(1 1.153)">A</text>
<line x1="268.30" y1="537.00" x2="268.30" y2="551.70" stroke="#777" stroke-width="0.5" />
<line x1="267.30" y1="537.00" x2="268.30" y2="537.00" stroke="#777" stroke-width="0.4" />
<line x1="267.30" y1="544.30" x2="268.30" y2="544.30" stroke="#777" stroke-width="0.4" />
<line x1="267.30" y1="551.70" x2="268.30" y2="551.70" stroke="#777" stroke-width="0.4" />
<text x="0" y="0" font-size="10" font-weight="bold" fill="#d42026" stroke="#d42026" stroke-width="0.6375" textLength="2.96" lengthAdjust="spacingAndGlyphs" transform="translate(269.72 551.30) scale(1 1.181)">A</text>
<text x="0" y="0" font-size="10" font-weight="bold" fill="#d42026" stroke="#d42026" stroke-width="0.2" textLength="3.40" lengthAdjust="spacingAndGlyphs" transform="translate(269.50 552.80) scale(1 0.097)">A</text>
<text x="0" y="0" font-size="10" font-weight="bold" fill="#1d2f86" stroke="#1d2f86" stroke-width="0.2" textLength="3.40" lengthAdjust="spacingAndGlyphs" transform="translate(269.50 552.10) scale(1 0.097)">C</text>
<text x="0" y="0" font-size="10" font-weight="bold" fill="#f2b31b" stroke="#f2b31b" stroke-width="0.75" textLength="4.75" lengthAdjust="spacingAndGlyphs" transform="translate(274.68 551.30) scale(1 1.750)">G</text>
<text x="0" y="0" font-size="10" font-weight="bold" fill="#d42026" stroke="#d42026" stroke-width="0.75" textLength="4.45" lengthAdjust="spacingAndGlyphs" transform="translate(280.57 551.30) scale(1 1.750)">A</text>
<text x="0" y="0" font-size="10" font-weight="bold" fill="#1f7a32" stroke="#1f7a32" stroke-width="0.75" textLength="4.15" lengthAdjust="spacingAndGlyphs" transform="translate(286.38 551.30) scale(1 1.750)">T</text>
<text x="0" y="0" font-size="10" font-weight="bold" fill="#f2b31b" stroke="#f2b31b" stroke-width="0.75" textLength="4.25" lengthAdjust="spacingAndGlyphs" transform="translate(291.88 551.30) scale(1 1.750)">G</text>
<text x="0" y="0" font-size="10" font-weight="bold" fill="#f2b31b" stroke="#f2b31b" stroke-width="0.75" textLength="4.25" lengthAdjust="spacingAndGlyphs" transform="translate(297.38 551.30) scale(1 1.750)">G</text>
<text x="0" y="0" font-size="10" font-weight="bold" fill="#1d2f86" stroke="#1d2f86" stroke-width="0.75" textLength="4.25" lengthAdjust="spacingAndGlyphs" transform="translate(302.38 551.30) scale(1 1.750)">C</text>
<text x="0" y="0" font-size="10" font-weight="bold" fill="#1f7a32" stroke="#1f7a32" stroke-width="0.5625" textLength="3.34" lengthAdjust="spacingAndGlyphs" transform="translate(307.58 551.30) scale(1 1.042)">T</text>
<text x="0" y="0" font-size="10" font-weight="bold" fill="#d42026" stroke="#d42026" stroke-width="0.2" textLength="3.70" lengthAdjust="spacingAndGlyphs" transform="translate(307.40 552.80) scale(1 0.097)">A</text>
<text x="0" y="0" font-size="10" font-weight="bold" fill="#1d2f86" stroke="#1d2f86" stroke-width="0.2" textLength="3.70" lengthAdjust="spacingAndGlyphs" transform="translate(307.40 552.10) scale(1 0.097)">C</text>
<text x="0" y="0" font-size="10" font-weight="bold" fill="#1d2f86" stroke="#1d2f86" stroke-width="0.5625" textLength="3.74" lengthAdjust="spacingAndGlyphs" transform="translate(311.48 551.30) scale(1 1.042)">C</text>
<text x="0" y="0" font-size="10" font-weight="bold" fill="#d42026" stroke="#d42026" stroke-width="0.2" textLength="4.10" lengthAdjust="spacingAndGlyphs" transform="translate(311.30 552.80) scale(1 0.097)">A</text>
<text x="0" y="0" font-size="10" font-weight="bold" fill="#1d2f86" stroke="#1d2f86" stroke-width="0.2" textLength="4.10" lengthAdjust="spacingAndGlyphs" transform="translate(311.30 552.10) scale(1 0.097)">C</text>
<text x="0" y="0" font-size="10" font-weight="bold" fill="#d42026" stroke="#d42026" stroke-width="0.75" textLength="4.15" lengthAdjust="spacingAndGlyphs" transform="translate(317.18 551.30) scale(1 1.750)">A</text>
<text x="0" y="0" font-size="10" font-weight="bold" fill="#f2b31b" stroke="#f2b31b" stroke-width="0.75" textLength="4.25" lengthAdjust="spacingAndGlyphs" transform="translate(322.88 551.30) scale(1 1.875)">G</text>
<text x="0" y="0" font-size="10" font-weight="bold" fill="#1f7a32" stroke="#1f7a32" stroke-width="0.75" textLength="3.75" lengthAdjust="spacingAndGlyphs" transform="translate(328.68 551.30) scale(1 1.875)">T</text>
<text x="0" y="0" font-size="10" font-weight="bold" fill="#f2b31b" stroke="#f2b31b" stroke-width="0.525" textLength="4.27" lengthAdjust="spacingAndGlyphs" transform="translate(333.76 551.30) scale(1 0.972)">G</text>
<text x="0" y="0" font-size="10" font-weight="bold" fill="#d42026" stroke="#d42026" stroke-width="0.2" textLength="4.60" lengthAdjust="spacingAndGlyphs" transform="translate(333.60 552.80) scale(1 0.097)">A</text>
<text x="0" y="0" font-size="10" font-weight="bold" fill="#1d2f86" stroke="#1d2f86" stroke-width="0.2" textLength="4.60" lengthAdjust="spacingAndGlyphs" transform="translate(333.60 552.10) scale(1 0.097)">C</text>
<text x="0" y="0" font-size="10" font-weight="bold" fill="#f2b31b" stroke="#f2b31b" stroke-width="0.525" textLength="4.27" lengthAdjust="spacingAndGlyphs" transform="translate(338.76 551.30) scale(1 0.972)">G</text>
<text x="0" y="0" font-size="10" font-weight="bold" fill="#d42026" stroke="#d42026" stroke-width="0.2" textLength="4.60" lengthAdjust="spacingAndGlyphs" transform="translate(338.60 552.80) scale(1 0.097)">A</text>
<text x="0" y="0" font-size="10" font-weight="bold" fill="#1d2f86" stroke="#1d2f86" stroke-width="0.2" textLength="4.60" lengthAdjust="spacingAndGlyphs" transform="translate(338.60 552.10) scale(1 0.097)">C</text>
<text x="0" y="0" font-size="10" font-weight="bold" fill="#1f7a32" stroke="#1f7a32" stroke-width="0.2" textLength="3.80" lengthAdjust="spacingAndGlyphs" transform="translate(344.10 551.30) scale(1 0.278)">T</text>
<text x="0" y="0" font-size="10" font-weight="bold" fill="#d42026" stroke="#d42026" stroke-width="0.2" textLength="3.80" lengthAdjust="spacingAndGlyphs" transform="translate(344.10 552.80) scale(1 0.097)">A</text>
<text x="0" y="0" font-size="10" font-weight="bold" fill="#1d2f86" stroke="#1d2f86" stroke-width="0.2" textLength="3.80" lengthAdjust="spacingAndGlyphs" transform="translate(344.10 552.10) scale(1 0.097)">C</text>
<text x="0" y="0" font-size="10" font-weight="bold" fill="#1f7a32" stroke="#1f7a32" stroke-width="0.7125" textLength="3.89" lengthAdjust="spacingAndGlyphs" transform="translate(349.36 551.30) scale(1 1.319)">T</text>
<text x="0" y="0" font-size="10" font-weight="bold" fill="#d42026" stroke="#d42026" stroke-width="0.2" textLength="4.40" lengthAdjust="spacingAndGlyphs" transform="translate(349.10 552.80) scale(1 0.097)">A</text>
<text x="0" y="0" font-size="10" font-weight="bold" fill="#1d2f86" stroke="#1d2f86" stroke-width="0.2" textLength="4.40" lengthAdjust="spacingAndGlyphs" transform="translate(349.10 552.10) scale(1 0.097)">C</text>
<text x="0" y="0" font-size="10" font-weight="bold" fill="#d42026" stroke="#d42026" stroke-width="0.525" textLength="4.17" lengthAdjust="spacingAndGlyphs" transform="translate(354.56 551.30) scale(1 0.972)">A</text>
<text x="0" y="0" font-size="10" font-weight="bold" fill="#d42026" stroke="#d42026" stroke-width="0.2" textLength="4.50" lengthAdjust="spacingAndGlyphs" transform="translate(354.40 552.80) scale(1 0.097)">A</text>
<text x="0" y="0" font-size="10" font-weight="bold" fill="#1d2f86" stroke="#1d2f86" stroke-width="0.2" textLength="4.50" lengthAdjust="spacingAndGlyphs" transform="translate(354.40 552.10) scale(1 0.097)">C</text>
<text x="0" y="0" font-size="10" font-weight="bold" fill="#d42026" stroke="#d42026" stroke-width="0.33749999999999997" textLength="4.36" lengthAdjust="spacingAndGlyphs" transform="translate(359.87 551.30) scale(1 0.625)">A</text>
<text x="0" y="0" font-size="10" font-weight="bold" fill="#d42026" stroke="#d42026" stroke-width="0.2" textLength="4.50" lengthAdjust="spacingAndGlyphs" transform="translate(359.80 552.80) scale(1 0.097)">A</text>
<text x="0" y="0" font-size="10" font-weight="bold" fill="#1d2f86" stroke="#1d2f86" stroke-width="0.2" textLength="4.50" lengthAdjust="spacingAndGlyphs" transform="translate(359.80 552.10) scale(1 0.097)">C</text>
<text x="0" y="0" font-size="10" font-weight="bold" fill="#1d2f86" stroke="#1d2f86" stroke-width="0.2" textLength="4.40" lengthAdjust="spacingAndGlyphs" transform="translate(364.50 551.30) scale(1 0.278)">C</text>
<text x="0" y="0" font-size="10" font-weight="bold" fill="#d42026" stroke="#d42026" stroke-width="0.2" textLength="4.40" lengthAdjust="spacingAndGlyphs" transform="translate(364.50 552.80) scale(1 0.097)">A</text>
<text x="0" y="0" font-size="10" font-weight="bold" fill="#1d2f86" stroke="#1d2f86" stroke-width="0.2" textLength="4.40" lengthAdjust="spacingAndGlyphs" transform="translate(364.50 552.10) scale(1 0.097)">C</text>
<text x="0" y="0" font-size="10" font-weight="bold" fill="#d42026" stroke="#d42026" stroke-width="0.525" textLength="4.88" lengthAdjust="spacingAndGlyphs" transform="translate(370.06 551.30) scale(1 0.972)">A</text>
<text x="0" y="0" font-size="10" font-weight="bold" fill="#d42026" stroke="#d42026" stroke-width="0.2" textLength="5.20" lengthAdjust="spacingAndGlyphs" transform="translate(369.90 552.80) scale(1 0.097)">A</text>
<text x="0" y="0" font-size="10" font-weight="bold" fill="#1d2f86" stroke="#1d2f86" stroke-width="0.2" textLength="5.20" lengthAdjust="spacingAndGlyphs" transform="translate(369.90 552.10) scale(1 0.097)">C</text>
<text x="0" y="0" font-size="10" font-weight="bold" fill="#f2b31b" stroke="#f2b31b" stroke-width="0.4125" textLength="3.79" lengthAdjust="spacingAndGlyphs" transform="translate(376.01 551.30) scale(1 0.764)">G</text>
<text x="0" y="0" font-size="10" font-weight="bold" fill="#d42026" stroke="#d42026" stroke-width="0.2" textLength="4.00" lengthAdjust="spacingAndGlyphs" transform="translate(375.90 552.80) scale(1 0.097)">A</text>
<text x="0" y="0" font-size="10" font-weight="bold" fill="#1d2f86" stroke="#1d2f86" stroke-width="0.2" textLength="4.00" lengthAdjust="spacingAndGlyphs" transform="translate(375.90 552.10) scale(1 0.097)">C</text>
<text x="0" y="0" font-size="10" font-weight="bold" fill="#1d2f86" stroke="#1d2f86" stroke-width="0.375" textLength="4.33" lengthAdjust="spacingAndGlyphs" transform="translate(380.79 551.30) scale(1 0.694)">C</text>
<text x="0" y="0" font-size="10" font-weight="bold" fill="#d42026" stroke="#d42026" stroke-width="0.2" textLength="4.50" lengthAdjust="spacingAndGlyphs" transform="translate(380.70 552.80) scale(1 0.097)">A</text>
<text x="0" y="0" font-size="10" font-weight="bold" fill="#1d2f86" stroke="#1d2f86" stroke-width="0.2" textLength="4.50" lengthAdjust="spacingAndGlyphs" transform="translate(380.70 552.10) scale(1 0.097)">C</text>
<line x1="272.30" y1="562.20" x2="272.30" y2="575.90" stroke="#777" stroke-width="0.5" />
<line x1="271.30" y1="562.20" x2="272.30" y2="562.20" stroke="#777" stroke-width="0.4" />
<line x1="271.30" y1="569.00" x2="272.30" y2="569.00" stroke="#777" stroke-width="0.4" />
<line x1="271.30" y1="575.90" x2="272.30" y2="575.90" stroke="#777" stroke-width="0.4" />
<text x="269.50" y="569.50" font-size="2.5" fill="#888" text-anchor="end">1</text>
<text x="0" y="0" font-size="10" font-weight="bold" fill="#f2b31b" stroke="#f2b31b" stroke-width="0.2" textLength="6.20" lengthAdjust="spacingAndGlyphs" transform="translate(275.90 575.90) scale(1 0.111)">G</text>
<text x="0" y="0" font-size="10" font-weight="bold" fill="#d42026" stroke="#d42026" stroke-width="0.375" textLength="6.03" lengthAdjust="spacingAndGlyphs" transform="translate(275.99 575.10) scale(1 0.694)">A</text>
<text x="0" y="0" font-size="10" font-weight="bold" fill="#1d2f86" stroke="#1d2f86" stroke-width="0.2" textLength="7.20" lengthAdjust="spacingAndGlyphs" transform="translate(284.10 575.90) scale(1 0.111)">C</text>
<text x="0" y="0" font-size="10" font-weight="bold" fill="#f2b31b" stroke="#f2b31b" stroke-width="0.2" textLength="7.20" lengthAdjust="spacingAndGlyphs" transform="translate(284.10 575.10) scale(1 0.222)">G</text>
<text x="0" y="0" font-size="10" font-weight="bold" fill="#d42026" stroke="#d42026" stroke-width="0.2" textLength="7.20" lengthAdjust="spacingAndGlyphs" transform="translate(284.10 573.50) scale(1 0.361)">A</text>
<text x="0" y="0" font-size="10" font-weight="bold" fill="#f2b31b" stroke="#f2b31b" stroke-width="0.2" textLength="7.40" lengthAdjust="spacingAndGlyphs" transform="translate(294.40 575.90) scale(1 0.139)">G</text>
<text x="0" y="0" font-size="10" font-weight="bold" fill="#d42026" stroke="#d42026" stroke-width="0.36" textLength="7.24" lengthAdjust="spacingAndGlyphs" transform="translate(294.48 574.90) scale(1 0.667)">A</text>
<text x="0" y="0" font-size="10" font-weight="bold" fill="#f2b31b" stroke="#f2b31b" stroke-width="0.75" textLength="7.05" lengthAdjust="spacingAndGlyphs" transform="translate(303.57 575.90) scale(1 1.444)">G</text>
<text x="0" y="0" font-size="10" font-weight="bold" fill="#1d2f86" stroke="#1d2f86" stroke-width="0.2" textLength="6.20" lengthAdjust="spacingAndGlyphs" transform="translate(312.10 575.90) scale(1 0.139)">C</text>
<text x="0" y="0" font-size="10" font-weight="bold" fill="#1f7a32" stroke="#1f7a32" stroke-width="0.2" textLength="6.20" lengthAdjust="spacingAndGlyphs" transform="translate(312.10 574.90) scale(1 0.208)">T</text>
<text x="0" y="0" font-size="10" font-weight="bold" fill="#f2b31b" stroke="#f2b31b" stroke-width="0.2" textLength="6.20" lengthAdjust="spacingAndGlyphs" transform="translate(312.10 573.40) scale(1 0.347)">G</text>
<text x="0" y="0" font-size="10" font-weight="bold" fill="#d42026" stroke="#d42026" stroke-width="0.2" textLength="7.40" lengthAdjust="spacingAndGlyphs" transform="translate(320.70 575.90) scale(1 0.111)">A</text>
<text x="0" y="0" font-size="10" font-weight="bold" fill="#f2b31b" stroke="#f2b31b" stroke-width="0.2" textLength="7.40" lengthAdjust="spacingAndGlyphs" transform="translate(320.70 575.10) scale(1 0.167)">G</text>
<text x="0" y="0" font-size="10" font-weight="bold" fill="#1d2f86" stroke="#1d2f86" stroke-width="0.3" textLength="7.30" lengthAdjust="spacingAndGlyphs" transform="translate(320.75 573.90) scale(1 0.556)">C</text>
<text x="0" y="0" font-size="10" font-weight="bold" fill="#d42026" stroke="#d42026" stroke-width="0.75" textLength="8.05" lengthAdjust="spacingAndGlyphs" transform="translate(330.98 575.90) scale(1 1.819)">A</text>
<text x="0" y="0" font-size="10" font-weight="bold" fill="#f2b31b" stroke="#f2b31b" stroke-width="0.75" textLength="8.25" lengthAdjust="spacingAndGlyphs" transform="translate(340.98 575.90) scale(1 1.819)">G</text>
<text x="0" y="0" font-size="10" font-weight="bold" fill="#1d2f86" stroke="#1d2f86" stroke-width="0.2" textLength="7.40" lengthAdjust="spacingAndGlyphs" transform="translate(350.70 575.90) scale(1 0.139)">C</text>
<text x="0" y="0" font-size="10" font-weight="bold" fill="#f2b31b" stroke="#f2b31b" stroke-width="0.2" textLength="7.40" lengthAdjust="spacingAndGlyphs" transform="translate(350.70 574.90) scale(1 0.222)">G</text>
<text x="0" y="0" font-size="10" font-weight="bold" fill="#d42026" stroke="#d42026" stroke-width="0.2" textLength="7.40" lengthAdjust="spacingAndGlyphs" transform="translate(350.70 573.30) scale(1 0.389)">A</text>
<text x="0" y="0" font-size="10" font-weight="bold" fill="#1d2f86" stroke="#1d2f86" stroke-width="0.2" textLength="7.40" lengthAdjust="spacingAndGlyphs" transform="translate(359.50 575.90) scale(1 0.139)">C</text>
<text x="0" y="0" font-size="10" font-weight="bold" fill="#f2b31b" stroke="#f2b31b" stroke-width="0.2" textLength="7.40" lengthAdjust="spacingAndGlyphs" transform="translate(359.50 574.90) scale(1 0.250)">G</text>
<text x="0" y="0" font-size="10" font-weight="bold" fill="#d42026" stroke="#d42026" stroke-width="0.255" textLength="7.34" lengthAdjust="spacingAndGlyphs" transform="translate(359.53 573.10) scale(1 0.472)">A</text>
<text x="0" y="0" font-size="10" font-weight="bold" fill="#f2b31b" stroke="#f2b31b" stroke-width="0.7425" textLength="8.06" lengthAdjust="spacingAndGlyphs" transform="translate(367.37 575.90) scale(1 1.375)">G</text>
<text x="0" y="0" font-size="10" font-weight="bold" fill="#1d2f86" stroke="#1d2f86" stroke-width="0.2" textLength="7.20" lengthAdjust="spacingAndGlyphs" transform="translate(377.10 575.90) scale(1 0.139)">C</text>
<text x="0" y="0" font-size="10" font-weight="bold" fill="#d42026" stroke="#d42026" stroke-width="0.2" textLength="7.20" lengthAdjust="spacingAndGlyphs" transform="translate(377.10 574.90) scale(1 0.250)">A</text>
<text x="0" y="0" font-size="10" font-weight="bold" fill="#1d2f86" stroke="#1d2f86" stroke-width="0.2" textLength="7.20" lengthAdjust="spacingAndGlyphs" transform="translate(377.10 573.10) scale(1 0.278)">C</text>
</svg></body></html>
